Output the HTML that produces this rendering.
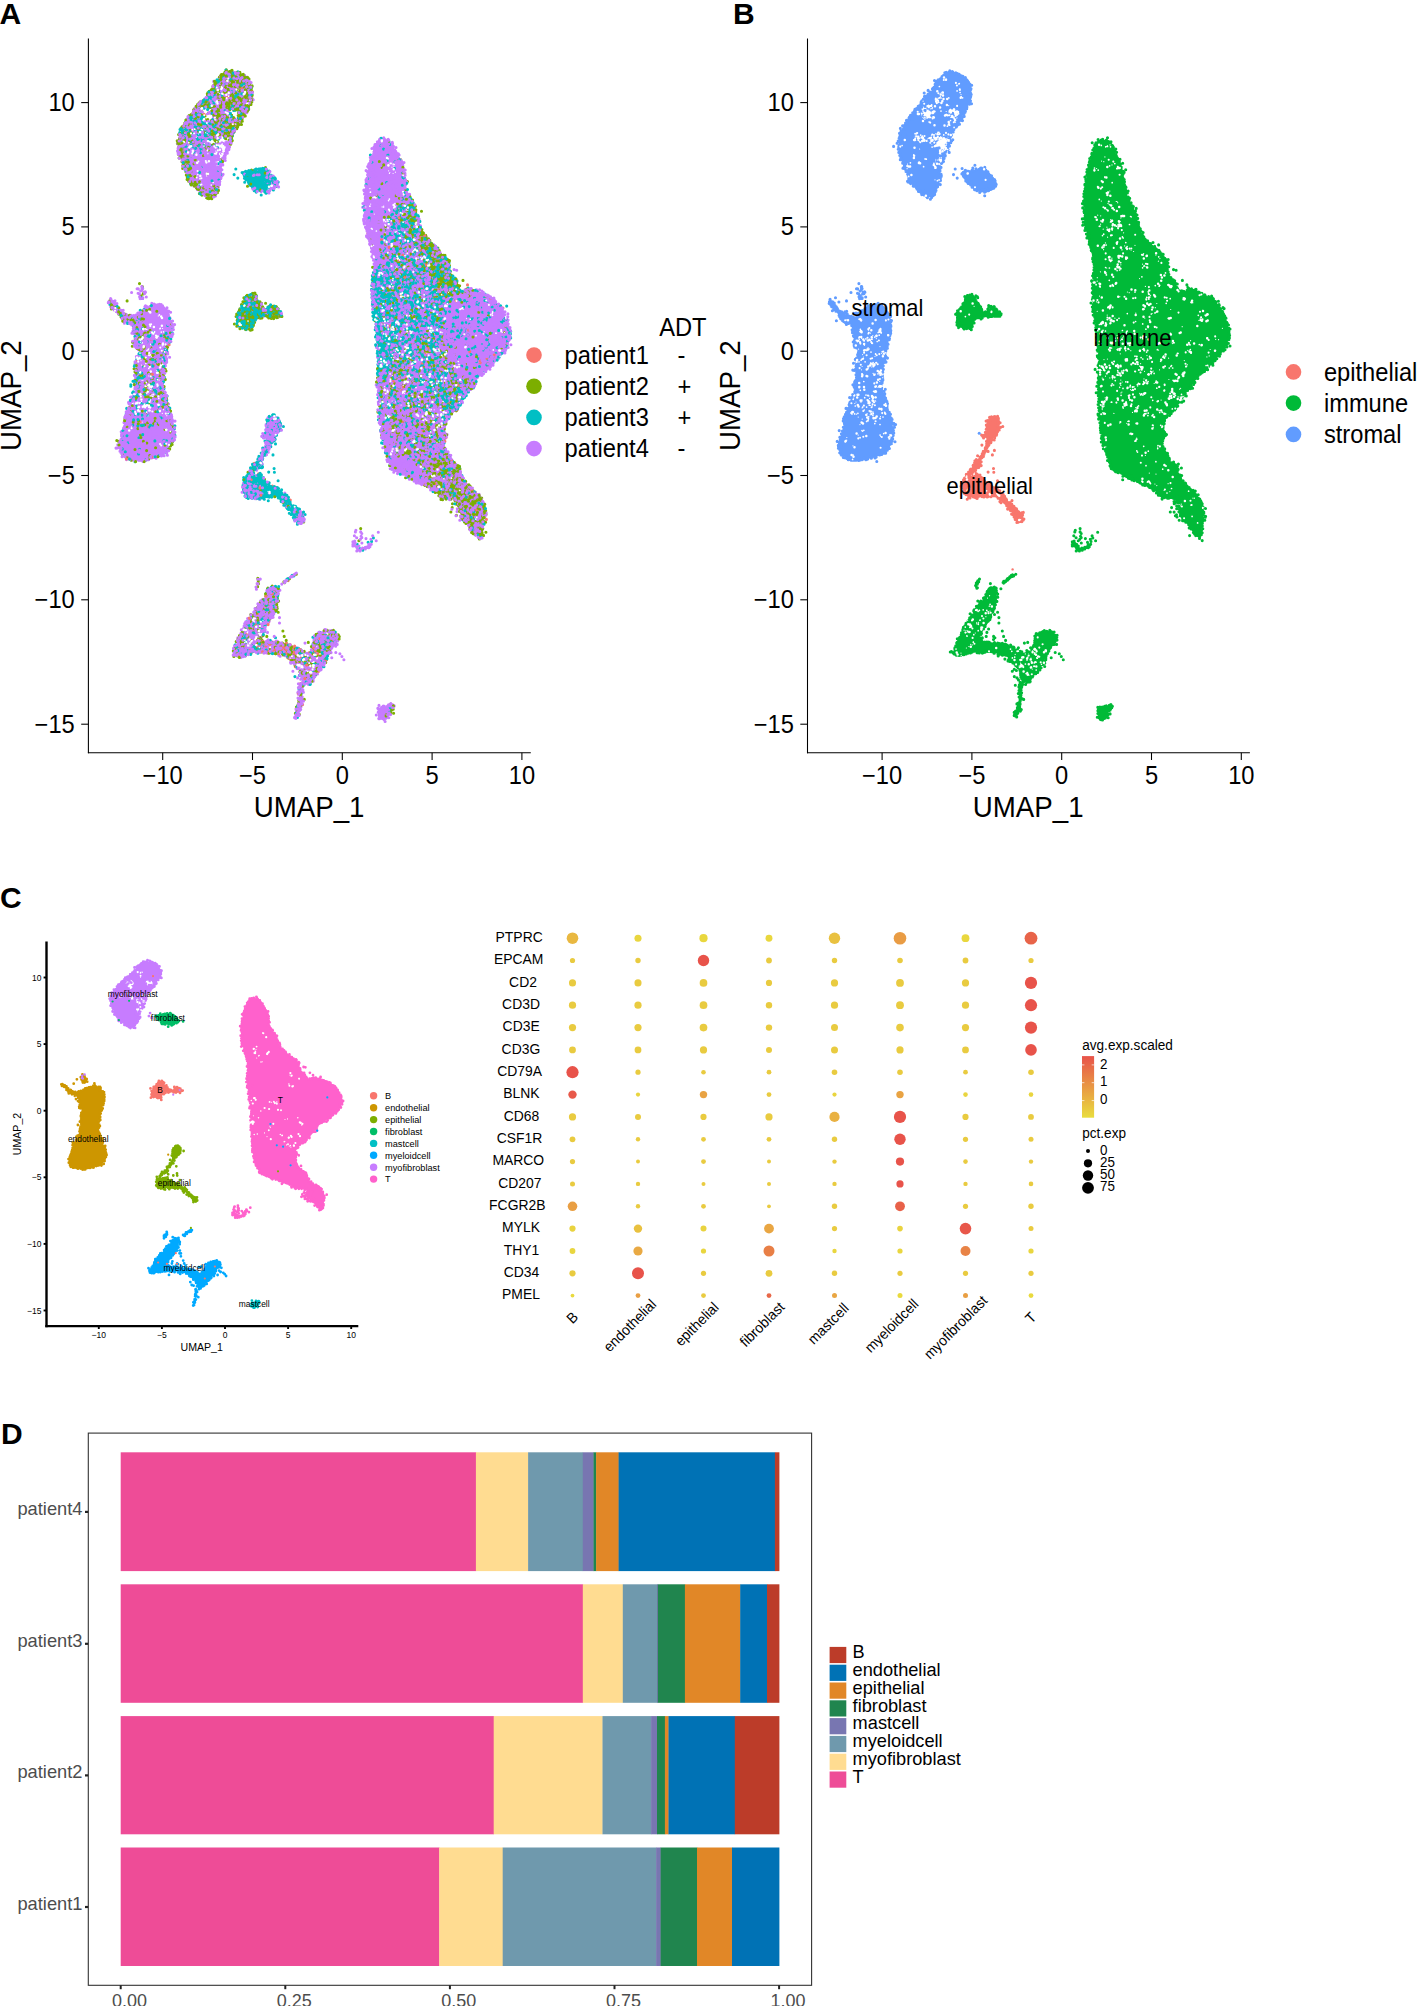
<!DOCTYPE html>
<html><head><meta charset="utf-8"><title>Figure</title>
<style>html,body{margin:0;padding:0;background:#fff}svg{display:block}text{font-family:"Liberation Sans",sans-serif}</style>
</head><body>
<svg width="1418" height="2006" viewBox="0 0 1418 2006">
<rect width="1418" height="2006" fill="#fff"/>
<g id="panelA">
<path d="M228.8 71.6L227.1 72L225.4 73.2L223.5 75.3L223.5 75.4L220.6 78L220.6 78L217 80.9L215 83.8L214.3 87L214.3 87.1L214.2 87.2L214.2 87.3L212.1 90.8L212 90.9L211.9 91L208.5 94.4L205.3 97.9L202.3 101.3L199.4 105L196.4 108.9L196.4 108.9L193.7 112.4L193.7 112.4L191.2 115.3L188.8 118.5L186.4 121.9L184 125.8L181.9 130.1L180.3 135.6L179.4 142.4L179.1 148.2L179.6 153L180.5 156.7L182 159.6L182 159.7L183.1 162.9L183.2 163.1L183.9 166.4L185.4 169.9L187.8 173.8L187.9 173.9L187.9 174L188 174.1L189.1 177.5L189.1 177.6L189.1 177.7L189.1 177.8L189.1 177.9L188.9 180.6L190.1 182.8L193.1 185.1L193.2 185.2L196.5 188.2L196.6 188.2L200 191.6L203.3 194.4L206.3 196.5L209.1 197.4L211.9 197.2L213.8 196.1L215.1 193.9L216.6 191L218 187.6L219.5 183.7L220.9 179.3L221.4 175.9L220.9 173.1L220.9 173L220.8 169.8L220.8 169.6L221 166.2L221 166.1L221.1 165.9L222.2 162.2L222.2 162.2L222.3 162.1L223.2 160.2L222.4 161.1L221.5 161.3L220.8 160.8L220.1 159.6L219.6 157.6L219.3 155.7L219.1 153.9L219.2 152.1L219.4 150.3L219.4 148.8L219.1 147.3L218.5 146.1L217.6 145L217 143.9L216.7 142.8L216.7 141.8L216.9 140.8L217.5 139.8L218.4 138.8L219.7 137.7L221.3 136.6L222.9 135.9L224.4 135.6L225.9 135.6L227.4 136.1L228.6 137L229.4 138.2L229.8 139.8L230 141.8L229.9 143.5L230.2 142.8L231.3 138.8L231.8 134.2L231.8 134.1L231.8 133.9L231.9 133.8L233.5 130.4L233.5 130.3L233.6 130.2L233.6 130.1L233.7 130.1L233.8 130L236.4 127.9L238.3 125.3L239.8 122.2L239.8 122.2L241.5 118.9L241.5 118.8L243.5 115.4L245.2 112.2L248.2 106.3L249.6 103.4L250.7 100.1L251.4 96.3L251.7 92.7L251.4 89.4L250.6 86.1L249.2 82.8L247.3 79.9L245 77.3L242.2 75.2L238.9 73.6L235.3 72.4L231.5 71.7ZM221.2 92.8L221.6 92.1L222.2 91.8L223 91.7L223.6 91.9L224 92.5L224.2 93.5L224.2 94.9L224 95.8L223.7 96.5L223.1 96.7L222.4 96.6L221.8 96.2L221.4 95.6L221.1 94.7L221.1 93.6ZM229 111.5L229.3 110.2L230 109.2L231.3 108.5L233 108L234.5 107.9L235.9 108.1L237.1 108.7L238 109.7L238.7 110.9L239.1 112.3L239.2 113.8L238.9 115.5L238.4 116.9L237.7 117.9L236.7 118.5L235.5 118.7L234.3 118.7L233.2 118.3L232.1 117.6L231.1 116.6L230.3 115.5L229.7 114.3L229.3 112.9ZM200.4 111.1L200.5 109.9L201 108.8L201.9 107.8L203.1 106.8L204.5 106.3L205.9 106.3L207.5 106.8L209.3 107.8L210.6 109L211.6 110.5L212.2 112.2L212.5 114.2L212.5 116L212.2 117.6L211.7 119L211 120.2L210.1 121L209 121.2L207.7 121L206.2 120.2L204.9 119.4L203.8 118.4L202.9 117.3L202.1 116L201.5 114.8L201 113.6L200.6 112.3ZM194.1 137.4L194.4 136.6L195 136L195.9 135.5L197.2 135.3L198 135.5L198.5 136.1L198.7 137.1L198.4 138.6L198 139.7L197.4 140.3L196.6 140.5L195.6 140.2L194.8 139.8L194.3 139.2L194.1 138.4ZM208 141.1L207.8 139.8L208 138.7L208.8 137.7L210 137L211.2 136.6L212.3 136.6L213.3 137L214.3 137.7L215 138.6L215.4 139.6L215.4 140.7L215.2 141.9L214.7 142.9L214 143.7L213 144.2L211.7 144.4L210.6 144.2L209.6 143.6L208.8 142.6ZM215.8 160.6L216.1 159.2L216.6 158.5L217.3 158.4L218.3 158.9L219 159.8L219.3 161.1L219.4 162.9L219.2 165.1L218.8 166.6L218.3 167.4L217.7 167.4L216.9 166.6L216.4 165.6L216 164.2L215.8 162.6Z" fill="#C77CFF"/>
<path d="M242.8 172.8L242.5 173.6L243.7 175.6L245.1 178L246.6 180.5L248.1 182.7L249.5 184.5L251 185.8L252.9 186.8L252.9 186.8L253 186.9L253.1 186.9L253.2 187L254.5 188.5L254.6 188.6L254.7 188.6L254.7 188.7L254.7 188.8L255.4 190.5L256.1 191.1L257.4 191.1L259.4 190.9L261.8 190.4L261.9 190.4L262 190.3L262.1 190.4L262.2 190.4L262.3 190.4L264.4 191L264.5 191L264.6 191.1L264.7 191.1L264.8 191.2L264.9 191.3L266.4 192.8L266.9 192.9L267.8 192L267.8 192L269.5 190.6L269.5 190.6L271.5 189.1L271.6 189L273.8 187.8L273.9 187.7L276.2 186.8L277.1 185.8L277.3 184.3L276.9 182.7L275.8 181L274.3 179.1L272.3 177.1L272.3 177.1L270.3 174.7L270.3 174.7L268.4 172L266.2 170.1L263.7 168.8L261.5 168.3L259.3 168.8L256.8 169.5L254.1 170.5L254 170.5L251.1 171.1L251 171.2L248.1 171.4L245.2 172Z" fill="#00BFC4"/>
<path d="M109.2 300.8L108.6 301.6L108.6 301.7L109.3 302.8L111.1 304.9L111.1 304.9L112.8 307L112.8 307L114.4 309.1L116.1 311.2L117.9 313.3L117.9 313.3L119.6 315.7L119.7 315.8L121.2 318.3L123 320.4L124.9 322.1L126.8 323L129 323.2L129.1 323.2L129.2 323.3L131.2 323.9L131.2 324L131.3 324L131.4 324.1L133 325.1L133.1 325.2L133.2 325.2L133.2 325.3L133.3 325.4L133.3 325.5L133.4 325.6L133.4 325.7L133.5 325.8L133.8 327.9L133.9 328L133.9 328.1L133.9 328.2L133.8 328.4L133.1 331.3L133.4 333.8L134.9 336.2L134.9 336.3L135 336.4L135 336.5L135 336.6L135.3 339L135.3 339.1L135.3 339.2L135.3 339.3L135.3 339.4L135.2 339.5L135.2 339.6L134.2 341.5L133.9 343.6L134.1 345.7L135.4 347.4L138.4 348.9L138.5 348.9L138.6 349L138.6 349L138.7 349.1L138.8 349.2L139.8 350.8L139.9 350.9L139.9 351L140 351.1L140 351.2L140 351.3L140 351.4L140 351.5L140 351.6L140 351.7L139.9 351.8L139.9 351.9L139.8 352L138.8 353.5L137.8 355.5L136.8 358L136.4 360.4L136.4 362.9L136.3 363L136.1 366.4L136.1 366.4L135.6 370.5L136 373.2L137.4 375.1L137.5 375.2L137.5 375.3L137.6 375.3L137.6 375.4L137.6 375.5L137.7 375.6L137.7 375.7L137.7 377.6L137.7 377.7L137.6 377.8L137.6 377.9L137.6 378L137.5 378.1L137.5 378.2L137.4 378.3L137.3 378.3L135.9 379.8L134.8 381.7L134.1 383.9L134.4 385.8L135.5 387.7L135.6 387.8L135.6 387.9L135.7 388L135.7 388.1L135.7 388.2L135.7 388.3L135.7 390.7L135.7 390.8L135.7 390.9L135.7 390.9L135.6 391L135.6 391.1L134.3 393.8L132.8 396.6L131.3 399.7L129.9 403.3L128.6 407.5L128.6 407.5L127.1 411.7L127.1 411.7L125.6 415.8L124.8 419.3L124.8 422.3L124.8 422.4L124.8 422.5L124.2 426.4L124.1 426.5L122.8 431.2L122.8 431.3L121.2 436.5L121.2 436.5L119.5 442.1L119.2 447.3L120.4 452.3L122.3 455.3L124.9 456.7L124.9 456.7L128.2 458.5L128.2 458.5L131.7 460.5L136.3 461L142.4 460L147.6 459.1L151.8 458.3L155.3 457.2L158.3 455.6L158.5 455.6L161.6 454.4L161.7 454.4L164.7 453.6L166.8 452.2L168.5 449.7L170.3 446.7L172.1 443.1L173.5 439.4L174.5 435.7L174.5 431.7L173.5 427.4L173.5 427.3L172.8 423.3L172.8 423.2L172.6 419.7L171.6 416.8L169.9 414.3L169.8 414.2L169.8 414.1L169.7 414L168.5 410.6L168.5 410.5L168.5 410.4L168 406.3L167.2 401.9L166.2 397.2L164.7 393.2L162.6 389.6L162.6 389.5L162.5 389.4L162.5 389.3L162.5 389.2L162.1 385.8L162.1 385.7L162.1 385.6L162.1 385.5L162.1 385.4L162.2 385.3L163.4 382.3L163.8 379.4L163.3 376.4L163.2 376.3L163.1 372.6L163.1 372.5L163.4 368.3L163.4 368.2L163.4 368.2L164.3 364.2L164.3 364.1L164.4 364.1L165.9 360.5L166.4 357.4L165.9 354.5L165.9 354.4L165.9 354.3L165.9 354.2L166.1 351.3L166.1 351.2L166.2 351.1L166.2 351L167.2 348.4L168.1 345.6L168.9 342.5L169.8 338.8L170.9 334.7L171.5 330.6L171.8 326.5L171.8 323.7L171.6 322.2L170.5 318.7L168.4 313.2L165.9 309L163 306L159.3 304.6L154.7 304.6L150.7 305.4L147.4 307.1L144.7 308.9L142.6 311L142.6 311.1L142.5 311.1L139.2 313.1L139.1 313.2L134.7 315.1L134.6 315.1L134.5 315.1L131.3 315.8L131.2 315.8L131.1 315.8L131 315.8L130.9 315.8L130.8 315.8L128.7 315.3L128.6 315.2L126.2 314.3L126.1 314.3L123.5 313L123.4 312.9L123.4 312.9L120.9 311L120.8 311L120.8 310.9L118.4 308.6L118.3 308.5L116.3 306L116.3 305.9L114.7 303.3L113.1 301.2L111.6 299.7L110.6 299.6Z" fill="#C77CFF"/>
<path d="M376.8 329.2L377.6 338.5L378.5 349.6L378.5 349.6L379.2 359.3L379.2 359.3L379.5 367.6L379.5 367.7L379.2 375L379.1 375.1L378.2 381.4L378 385.9L378.7 389L378.7 389L379.3 393.8L379.3 393.8L379.9 400.2L379.9 400.3L380.1 406.6L380.1 406.7L379.8 413L380.1 419.2L381 425.5L381.1 425.5L381.8 431.9L381.8 431.9L382.5 438.2L383.6 443.8L385.1 448.8L386.7 453.6L388.3 458L388.3 458.1L389.6 462.2L389.6 462.2L390.5 465.9L392.4 468.7L395.3 471.1L398.3 472.8L401.4 473.7L401.5 473.7L404.7 475.2L404.8 475.2L408 477.1L411.4 478.8L415.2 480.4L415.2 480.4L419 482.1L419 482.2L422.9 484.1L426.7 486L430.5 487.9L430.5 487.9L434.3 490.1L434.4 490.2L438.2 492.7L438.3 492.8L438.4 492.9L440.8 495.4L440.8 495.5L440.9 495.6L441 495.7L441 495.8L441.8 497.9L442.7 498.5L444.5 497.9L444.5 497.9L444.6 497.9L448 497.6L448.1 497.6L452.5 497.6L452.6 497.6L452.7 497.6L452.8 497.6L452.9 497.7L456.1 498.9L456.2 499L456.3 499L456.4 499.1L456.4 499.1L456.5 499.2L456.6 499.3L458.5 501.8L458.5 501.9L458.6 502L459.9 504.9L459.9 505L459.9 505.1L460.6 508.3L460.6 508.3L461.2 511.8L461.2 511.8L461.8 515.5L463.1 518.4L465.3 520.8L465.3 520.8L467.2 523L467.2 523L468.8 525L468.8 525L470.6 527.6L470.6 527.6L472.5 530.8L474.6 533.7L477 536.4L479.1 537.4L480.7 537.2L481.8 535.2L482.1 530.3L482.1 530.3L482.7 525.2L482.7 525.1L483.7 520.1L484.3 515.4L484.6 511.1L484 506.9L482.5 502.6L480.5 499L478.1 495.9L475.2 492.8L472.1 489.6L469 486.8L465.8 484.3L465.7 484.2L465.7 484.1L462.8 480.6L462.7 480.6L462.7 480.5L460.2 476L460.1 476L460.1 475.9L458.5 471.4L458.5 471.3L458.4 471.2L457.8 467L456.3 464.6L453.4 463.5L453.3 463.5L453.2 463.4L453.1 463.4L453.1 463.3L453 463.2L450.8 460.7L450.7 460.6L450.6 460.5L450.6 460.4L450.5 460.3L449.3 456.6L447.5 453.6L445.1 451.2L445 451.1L444.9 451L444.9 450.9L443.3 447.7L443.3 447.7L443.2 447.5L443.2 447.4L442.6 443.6L442.6 443.5L442.6 443.4L442.6 443.4L442.6 443.3L443.2 439.8L443.2 439.7L443.3 439.6L443.3 439.5L443.3 439.4L445.1 436.4L445.4 433.8L444.2 430.8L444.2 430.7L444.2 430.6L444.1 430.5L443.8 426.4L443.8 426.3L443.8 426.2L444.5 421.1L444.5 421L444.5 420.9L444.6 420.8L446.5 416.9L446.5 416.8L446.6 416.8L446.7 416.7L446.8 416.6L449.9 414.1L452.7 411.6L455.2 409.1L457.7 406.3L460.2 403.2L462 400.1L463.3 397L463.3 397L463.4 396.9L463.4 396.8L465.9 393.3L466 393.2L466.1 393.2L469.8 389.4L472.9 385.1L475.4 380.1L475.4 380L475.5 379.9L479.3 375.5L479.4 375.4L479.5 375.3L484.5 371.5L488.9 367.5L492.7 363.1L492.7 363.1L496.5 358.9L496.5 358.9L500.3 355.1L503.4 351.4L505.9 347.7L507.4 344.7L508 342.3L508 342.2L508.1 342.1L508.9 340.4L508.9 340.3L509 340.2L509 340.1L509.1 340L509.8 339.4L510 336.6L509.7 331L508.6 325.4L506.8 319.8L504.6 314.5L502.1 309.5L499.3 305.2L496.2 301.5L492.9 298.8L479.7 292.2L475.3 290.3L471.8 289.2L468.1 289.7L463.9 292.2L463.8 292.2L463.7 292.2L463.6 292.3L463.4 292.3L463.3 292.3L463.2 292.3L463.1 292.3L463 292.3L462.9 292.2L462.8 292.2L459.3 290.3L459.2 290.2L459.1 290.1L459.1 290.1L459 290L458.9 289.9L458.9 289.8L458.8 289.7L456.3 283.5L453.9 279.6L451.6 277.8L451.5 277.7L451.4 277.6L451.3 277.5L449.4 274.7L449.4 274.6L449.3 274.5L449.3 274.4L448 270.6L448 270.5L448 270.4L447.6 266.9L447.6 266.8L447.6 266.7L447.7 266.6L448.2 263.6L447.7 261.2L446 258.9L443.5 256.1L440.3 252.9L436.8 249.5L433 245.6L429.2 241.8L425.4 238L425.3 238L425.3 237.9L422.6 234.1L422.5 234L422.5 233.9L420.9 230.1L420.9 230L419.3 225.6L419.3 225.5L417.7 220.5L417.7 220.4L416.2 215.3L416.2 215.3L415 210.3L413.1 205.7L410.6 201.3L410.6 201.2L408.5 196.8L408.5 196.7L406.9 192.2L406.9 192.1L405.8 187.7L405.7 187.6L405.1 183.2L405.1 183.1L404.5 178.1L404.5 178L403.8 172.4L402.8 167.8L401.2 164.1L399.5 160.3L397.6 156.5L397.5 156.4L396 152.6L395.9 152.6L394.7 148.8L393.2 145.6L391.4 143L388.8 141.1L385.3 140L381.9 139.7L378.9 140.2L376.9 141.9L375.8 145.1L374 150L371.8 156.4L369.8 163.3L367.9 170.8L366.6 178.7L366 186.9L365.3 195.5L364.7 204.3L364.7 213.1L365.3 221.9L366.4 229.1L368 234.8L368 234.8L369.6 240.8L369.6 240.8L371.2 247.2L371.2 247.2L372.8 255.1L372.8 255.2L374.4 264.7L374.4 264.8L374.7 272.8L374.7 272.9L374.7 273L373.8 279.3L373.3 288.1L373.3 299.4L373.9 308.2L375.2 314.5L375.2 314.6L376.1 321.5L376.1 321.6Z" fill="#C77CFF"/>
<path d="M248.3 295L246.1 296L245.4 297.8L245.1 299.5L245.2 300.9L245.2 301L245.2 301.1L245.2 301.2L245.2 301.3L245.2 301.4L245.1 301.5L244.5 302.8L244.5 302.9L244.4 303L244.3 303.1L244.3 303.2L244.2 303.3L242.9 304.2L242.6 304.7L242.7 305.4L242.8 305.5L242.8 305.6L242.8 305.7L242.7 305.8L242.7 305.9L242.7 306L242.6 306.1L241.8 307.5L241.8 307.6L241.7 307.7L241.6 307.7L239.9 309.5L238.4 311.5L237.2 313.7L237 315.2L237.7 316.7L237.8 316.8L237.8 316.9L237.8 317L237.8 317.2L237.9 319.8L237.9 319.9L237.9 320.1L237.2 323.3L237.9 325.4L239.7 326.8L242.2 327.8L245.2 328.1L245.3 328.1L247.9 328.5L247.9 328.5L250 328.8L251.3 328.8L251.7 328.7L252.2 327.7L252.5 325L252.5 324.9L252.5 324.8L252.6 324.7L252.6 324.6L253.5 323L253.6 322.9L253.6 322.8L253.7 322.7L253.8 322.6L253.9 322.5L254 322.5L254.1 322.4L255 322.1L255.1 321.9L254.5 320.7L254.5 320.6L254.5 320.5L254.4 320.4L254.4 320.3L254.4 320.2L254.5 320.1L254.5 320L254.5 319.9L254.5 319.8L255.1 318.7L255.1 318.6L255.2 318.5L255.2 318.4L255.3 318.4L255.4 318.3L255.5 318.2L255.6 318.2L255.6 318.1L257.4 317.4L257.5 317.4L257.6 317.4L257.7 317.4L257.8 317.3L259.3 317.3L259.4 317.4L259.5 317.4L259.6 317.4L259.8 317.4L259.9 317.5L260.7 318L261.7 317.8L263.4 316.5L263.5 316.4L263.6 316.4L263.7 316.3L263.8 316.3L263.9 316.3L266 316L266.1 316L266.2 316L266.3 316L266.4 316.1L266.5 316.1L268.5 316.9L271 317.1L274.4 316.6L274.4 316.6L277.7 316.1L277.7 316.1L280.5 315.8L281.6 315.2L281.7 314.6L281.3 313.5L279.9 311.9L279.8 311.9L278.2 310L278.2 310L276.5 308L274.4 306.5L271.9 305.6L270.1 305.6L269 306.3L268.9 306.6L269.6 307.6L269.7 307.6L269.7 307.7L269.8 307.8L269.8 307.9L269.8 308L269.8 308.2L269.8 308.3L269.8 308.4L269.8 308.5L269.5 309.9L269.4 310L269.4 310.1L269.3 310.2L269.3 310.2L269.2 310.3L269.2 310.4L269.1 310.5L267.3 311.9L267.2 311.9L267.1 312L267 312L266.9 312.1L266.8 312.1L266.7 312.1L266.6 312.1L266.5 312.1L266.4 312.1L265 311.8L264.9 311.8L264.8 311.8L264.7 311.7L264.6 311.7L264.5 311.6L264.5 311.5L264.4 311.5L264.3 311.4L264.3 311.3L263.3 309.5L262.1 308.2L260.4 307.2L260.3 307.1L260.3 307.1L260.2 307L260.1 306.9L260.1 306.8L260 306.7L259.4 305.4L259.4 305.3L259.3 305.2L259.3 305.1L259.3 305L259.3 304.9L259.3 304.8L259.3 304.7L259.3 304.6L259.7 303.5L259.5 303.1L257.9 302.5L257.8 302.5L257.7 302.4L257.6 302.4L257.5 302.3L257.5 302.2L256.3 301L256.3 300.9L256.2 300.9L256.1 300.8L256.1 300.7L256.1 300.6L256 300.5L255.7 298.8L255.2 296.9L254.7 295.3L252.7 294.7Z" fill="#7CAE00"/>
<path d="M275.7 416.3L274.1 416L272.7 416.6L271 417.5L269.3 418.5L268.2 420.7L267.5 424.4L267.3 427.9L267.5 431.4L267.5 431.5L267.4 431.6L267.4 431.7L267.4 431.8L266.8 433.7L266.7 433.8L266.7 433.9L266.6 434L266.6 434.1L266.5 434.2L266.4 434.2L266.3 434.3L266.2 434.4L266.1 434.4L266 434.4L264.6 434.8L263.1 435.3L261.9 435.8L261.8 436.1L262.4 437L262.8 437L264.2 435.9L264.3 435.8L264.4 435.8L264.5 435.7L264.6 435.7L264.7 435.7L264.8 435.7L266.3 435.5L266.4 435.5L266.5 435.5L266.6 435.5L266.7 435.5L266.8 435.5L266.9 435.6L267 435.6L267.1 435.7L268.5 436.7L268.6 436.8L268.7 436.9L268.7 437L268.8 437.1L268.8 437.1L268.9 437.2L268.9 437.3L268.9 437.4L269 437.5L269 437.6L268.9 437.8L268.8 439.2L268.8 439.3L268.7 439.4L268.7 439.5L268.6 439.5L268.6 439.6L268.5 439.7L268.5 439.8L266.9 441.4L266.6 442.3L267.1 443.3L267.1 443.4L267.2 443.5L267.2 443.6L267.2 443.7L267.2 443.8L267.2 443.9L267.2 444L266.8 445.9L266.8 446L266.8 446.2L266.7 446.3L265.3 448.7L263.9 451.3L262.5 454.1L262.4 454.3L260.7 456.9L260.6 457L258.5 459.5L256.7 461.6L255.3 463.3L253.6 465.7L251.5 468.9L251.5 468.9L249.5 471.7L249.5 471.7L247.8 474.2L246.1 477L244.4 480L243.7 483L244.1 486.3L244.4 489.7L244.8 492.7L245.5 494.7L246.6 495.8L248.4 496.5L251.1 496.8L251.2 496.9L253.9 497.6L254 497.6L256.2 498.5L257.4 498.3L258.6 496.9L258.6 496.8L258.7 496.7L258.8 496.7L258.9 496.6L259 496.6L259.1 496.5L259.2 496.5L260.8 496.1L260.9 496.1L261 496.1L261.1 496.1L261.2 496.1L261.3 496.2L261.4 496.2L261.5 496.2L261.5 496.3L263.1 497.2L265 497.3L267.6 496.7L267.7 496.7L270.5 496.1L270.6 496.1L273.4 495.8L273.5 495.8L273.6 495.8L273.7 495.8L276.4 496.3L276.5 496.3L276.6 496.4L276.7 496.4L279.2 497.9L279.3 497.9L279.3 498L279.4 498L281 499.6L281.1 499.7L281.1 499.8L281.2 499.9L281.2 500L281.9 501.5L283 502.7L284.9 503.6L285 503.7L285.1 503.8L287.1 505.4L287.2 505.4L287.2 505.5L289 507.6L289 507.7L290.8 510.2L290.8 510.2L292.6 513L294.2 515.5L295.6 517.6L295.6 517.7L295.7 517.8L296.6 519.9L296.6 520L296.6 520.1L296.9 521.7L298.1 522.4L301 522.4L302.3 521.5L302.6 519.1L302.6 519.1L303 516.5L303 516.4L303.3 514.3L302.9 513.4L301.5 512.8L301.4 512.8L301.4 512.8L299.6 511.7L299.5 511.6L297.7 510.2L297.6 510.1L295.7 508.2L295.6 508.1L293.5 505.7L291.3 503.5L288.9 501.4L288.8 501.3L288.7 501.2L286.9 498.9L286.9 498.9L286.8 498.8L286.8 498.7L285.8 496.4L284.5 494.9L282.6 493.9L282.5 493.9L282.4 493.8L282.3 493.8L280.6 492.2L280.5 492.1L280.4 492.1L280.4 492L279.1 490L277.2 488.6L274.5 487.6L274.4 487.6L271.6 486.2L271.5 486.1L268.7 484.4L268.6 484.3L268.5 484.3L266.1 482L266 481.9L265.9 481.8L263.8 479L262.1 476.7L260.9 475.2L259.8 474.9L258 475.5L257.9 475.5L255.8 476L255.7 476.1L253.6 476.4L253.5 476.4L253.4 476.4L253.3 476.4L253.2 476.4L253 476.4L252.9 476.3L252.8 476.3L252 475.7L251.9 475.7L251.8 475.6L251.7 475.5L251.7 475.5L251.6 475.4L251.5 475.3L251.5 475.2L251.5 475.1L251.5 475L251.4 474.9L251.4 474.8L251.5 474.7L251.5 474.6L251.8 473.1L251.9 473L251.9 472.9L251.9 472.8L252 472.8L253.1 471.3L253.1 471.3L253.2 471.2L253.3 471.1L255 469.7L255.1 469.7L255.2 469.6L257.1 468.6L257.2 468.5L257.3 468.5L259.2 467.9L260.5 466.7L261.3 465L261.5 463.7L260.9 462.6L260.9 462.5L260.8 462.4L260.8 462.3L260.8 462.2L260.8 462.1L260.8 462L261 460.3L261 460.2L261 460.1L261 460L261.1 459.9L262.1 457.8L262.2 457.6L263.6 455.5L263.7 455.4L265.4 453.4L266.7 451.2L267.8 448.8L267.8 448.8L269 446.3L269 446.2L270.5 443.8L273.3 438.8L273.3 438.8L274.9 436.5L275 436.4L276.7 434.3L278.2 432.1L279.5 429.8L279.9 427.6L279.4 424.9L279.4 424.9L279.1 422.1L279 422L278.9 419.4L277.8 417.7Z" fill="#00BFC4"/>
<path d="M275.6 586.6L273.2 587L269.5 589.2L267.3 591.7L266.3 594.8L266.3 594.9L266.2 595L264.4 598.4L264.3 598.5L264.3 598.5L261.6 601.9L259.3 604.9L257.3 607.5L255.7 610.1L254.3 612.7L254.3 612.9L252.3 615.9L252.2 615.9L249.6 619.3L246.9 623.2L244.3 627.8L242 632.8L240 638.1L240 638.2L237.9 642.5L237.9 642.6L235.9 645.9L234.8 649L234.5 652.1L234.8 654.3L235.5 655.3L237.6 655.7L242.1 655.1L246.7 653.9L251.1 652.3L254.5 649.4L257.1 644.9L259.1 640.7L260.4 636.7L260.4 636.6L262.4 632.2L262.5 632.2L265.2 627.5L267.9 622.8L270.5 618.1L272.9 613.8L274.8 609.8L276.1 605.7L276.8 601.1L277.3 595.9L277.6 590.4L276.9 587.5Z" fill="#C77CFF"/>
<path d="M257.3 643.4L255.1 645.8L255.1 649.8L256.3 651.6L259.1 651.9L263.4 651.9L268.7 651.5L268.8 651.5L268.9 651.5L273.6 652L273.7 652.1L273.8 652.1L277.8 653.4L281.4 654.4L284.8 655.1L284.9 655.1L288.2 656.1L288.3 656.1L291.6 657.5L295.3 658.8L299.1 660.1L302.1 660.1L304.1 659.1L304.5 657.5L303.4 654.7L300.9 651.9L297 649.4L293.1 647L289.2 645.1L284.7 643.8L279.4 643.1L273.7 642.5L267.8 641.8L262.3 642.1Z" fill="#C77CFF"/>
<path d="M322.1 632.2L318.7 634.1L315.5 636.9L314.8 637.9L314.8 638L314.9 638L314.9 638.1L315 638.2L315 638.3L315.1 638.4L315.1 638.5L315.1 638.6L315.1 638.7L315.1 640.7L315.1 640.8L315.1 640.9L314.4 644.3L314.4 644.4L314.4 644.5L313.1 648.1L313 648.2L311 652.3L310.9 652.4L310.9 652.4L310.8 652.5L310.7 652.6L310.7 652.7L308.3 654.3L308.2 654.4L308.1 654.4L308 654.5L307.9 654.5L307.8 654.5L307.7 654.5L307.6 654.5L307.5 654.5L307.4 654.5L304.7 653.8L304.6 653.8L304.5 653.8L304.4 653.7L301.7 652L301.6 652L301.5 651.9L299.2 649.6L297.5 649.8L295.1 652.8L295.1 652.9L295 652.9L292.3 655.3L292.2 655.3L292.2 655.4L292.1 655.4L289.8 656.6L289.4 657.7L290.5 659.9L292.3 662L294.9 664L295 664.1L297.4 666.4L297.5 666.5L299.5 669.2L299.5 669.3L299.6 669.4L299.6 669.5L301 672.8L301 672.9L301 673L301.7 676.9L303.2 679.9L305.6 682.3L307.7 683.1L309.8 682.6L311.4 681L312.7 677.8L312.7 677.7L312.8 677.6L314.8 674.6L314.9 674.5L315 674.5L317.6 671.8L319.9 669.2L321.8 666.6L323.8 663L325.8 658.4L325.8 658.3L327.8 654.3L327.9 654.2L329.9 650.9L331.9 647.5L333.9 644.2L333.9 644.2L335.9 641L335.9 641L337.7 638.3L337.2 635.9L334.1 632.9L331.4 631.2L329.1 630.9L326 631.2Z" fill="#C77CFF"/>
<path d="M296.5 717.5L297.9 715.9L299.1 713.1L300.1 709.2L300.9 705.2L301.6 701.2L301.7 698.1L301.4 695.5L301.4 695.3L301.4 695.2L301.7 691.5L301.8 691.4L302.7 687L301.9 684.3L299.8 682.9L299.6 683.1L299.9 686.5L299.9 686.6L300 690.9L300 691L300 695.7L300 695.8L299.5 700.5L299.5 700.6L298.5 705.3L297.5 710L296.5 714.6L296.4 717.2Z" fill="#C77CFF"/>
<path d="M379.4 707.4L378.5 708.5L379.3 710.9L379.3 711L379.3 711.1L379.6 714.3L379.6 714.4L379.6 714.5L379.3 717.6L380 719.1L381.8 719.9L383.4 720L384.6 719.5L386.1 718L387.7 715.1L387.7 715L389.7 711.8L389.7 711.8L392 708.5L392.9 706.4L392.7 705.8L391.4 705.5L387.6 706.1L387.6 706.1L383.4 706.8L383.4 706.8Z" fill="#C77CFF"/>
<path d="M220.9 76.8h0m2 19.8h0m-2.1 16.8h0m-2.5 15.8h0m-35.8-2.4h0m85.1 47.1h0m147.6 40.6h0m-47.3 18.9h0m53-1.2h0m5.4 4.5h0m-10.8-.6h0m-26.5 11.3h0m23.5 20.6h0m-21.5 8.7h0m1.8 .1h0m74.7 8.1h0m-13.4 2.1h0m-15.3-4.6h0m-16.1 6.3h0m22.5 2.1h0m-49.1 26.8h0m72.6 12.4h0m-3 13.9h0m-20.5-.4h0m-33.9 10.2h0m15-.5h0m68 1.8h0m-340.8 10.6h0m237.9-5h0m88.7 2.2h0m-37.6 4.3h0m-12.3-.2h0m-20.7 .1h0m-3.3 10.9h0m18.1 18h0m31.9 14.9h0m1.2-1.2h0m-316.3 12.1h0m266.5 2.9h0m12.9-2.5h0m9.4 .6h0m7.8 2.3h0m2 5.5h0m3.9 10.1h0m-39.5-2h0m11 6.4h0m20.5 1.8h0m-31.7 7.4h0m-139.6-2.8h0m189.9 11.3h0m-199.9 .6h0m169.8 21.2h0m34.1-3.5h0m-167.9 19.1h0m184.5 32.8h0m-179.8 41.4h0m-6.9 6.3h0m-29.9 2.9h0m-.2 .5h0m8.3 9.9h0m12.1-3h0m-1.7 3.8h0m-11.3 5.7h0m5.9 7.6h0m-.4 2.8h0m-11.1-2.2h0m-2.3 5h0m9.7-1.2h0m5.1 4.5h0m-27 7.6h0m88.3 7.4h0m-14.2 1.1h0m-82.1 8h0m21.6-.7h0m1 .4h0m.9-2h0m15.1 2.8h0m42.7 5.4h0m-36.7-2.2h0m-13.7-1.1h0m-3.8-1.3h0m-5.5 1.8h0m-1.5-1.5h0m-1.8 5h0m-.1-3.3h0m-.7 2h0m-1.1-3.6h0m-.5 6.1h0m9.4 1.1h0m4.9 1.3h0m5.4 .1h0m.4-2.4h0m1.2 2.6h0m8.2 1.5h0m.4-3.2h0m3.2 4h0m7.4-4.8h0m1.4-.8h0m1.1 5.1h0m29.6-2.9h0m-18.4 7h0m-1.4 2.2h0m-7.9-.7h0m-4.7-.8h0m-.1-1.8h0m-2.9 1.5h0m-2.4-2.6h0m-.3 2.6h0m5.7 3.5h0m27.1 7.9h0m-2.1 2.2h0m-18.3-2h0" stroke="#F8766D" stroke-width="3.1" stroke-linecap="round" fill="none"/>
<path d="M230.4 71.4h0m-4.1-1.7h0m-7 7.7h0m1.1-1.7h0m1.1-1h0m.3 2.9h0m3.1-5.3h0m0 2.7h0m.1-.5h0m1.4 3h0m1-4.5h0m.5 4.6h0m4.8-2.5h0m4.3-2.3h0m4.8 2.6h0m2.3-.1h0m1.7 2.1h0m2.3 1h0m-.2 3.5h0m-.7-2.1h0m-2.2 .1h0m-1.3-.8h0m-.6 1.4h0m-2.3-1.4h0m-1.9 2h0m-3.3-1.8h0m-3.6 1.8h0m-2-.5h0m-1.1 .2h0m-.8 1.6h0m-1.7-2.2h0m-.5-1.8h0m-1.5 1.6h0m-4.4-1.1h0m-3.4 3.7h0m-.5-.5h0m-.4-.5h0m-.2 .6h0m-.4 1.4h0m-3.3 6h0m1.8-3.4h0m0-.7h0m3.4 .7h0m2.5 .3h0m.7 .1h0m1.4 .6h0m13.5-.1h0m.9-1.1h0m3.8 .5h0m.9 1.1h0m.6-3.4h0m.1 4.4h0m2.7-1.6h0m1.3-.4h0m.6-.6h0m1 1.6h0m2-1.7h0m3.2 9.1h0m-.1 .5h0m0 0h0m-.5-2.7h0m0 3.1h0m-.4-5.8h0m-2.4 5.1h0m-1.3-.3h0m-4-1.7h0m-6.6 .4h0m-3.9 1.9h0m-6.9-3.6h0m-2.9 .6h0m-9.6-2h0m-1 .5h0m-.4 2.7h0m-3-2.5h0m-1.4 1.7h0m-.5 .8h0m-4.9 7.5h0m.7-.6h0m1.1-.1h0m.7 .8h0m10.5 .2h0m18.1-.8h0m1.3-1.1h0m0-1.8h0m2.4 4h0m7.6-1.7h0m3.6 1.8h0m.2-3.7h0m3.2 3.8h0m-.8 2.5h0m-2.4 2h0m-4.8 .4h0m-1.5-2.1h0m-.1 1.4h0m-1.1-1.2h0m-4.1-1.4h0m-4.5 1.3h0m-.8 1.2h0m-3.6-3.4h0m-1.4 1h0m-6.1-1.3h0m-6 5.1h0m-3-3.3h0m-.3-1.5h0m-4.4-.2h0m-.8 2.1h0m-2.6 1.7h0m-.9-1.5h0m-1.1-.5h0m-.2-1.6h0m-.4 4.9h0m-.9-2.2h0m0-.3h0m-.3-1.4h0m-.5-1h0m-1.1 5h0m-5 5.1h0m1.3-1.5h0m2.3-1.6h0m2.7 1h0m.4 0h0m1.9 1.4h0m5.8 1.1h0m4.2-2h0m.7 .1h0m1-.1h0m.1 2.1h0m1-4.6h0m1.2 2.3h0m.7-2.6h0m.3 4.7h0m.5 .6h0m22.8-.1h0m.8-3.1h0m4.5-2h0m-4 10.8h0m-.4-3h0m-1.4-1.8h0m-5 4.3h0m-2.1 .4h0m-.2-1.2h0m-.4-2.7h0m-7.2 1.7h0m-1.9-1.8h0m-14.9 4.3h0m-2.1 .3h0m-.7-3.8h0m-.1-.2h0m-12.6 1.5h0m-3 2.5h0m-.2-4.3h0m-.1 2h0m-3.5 5.6h0m.8-2.9h0m.3 1.1h0m25.3-.5h0m3.9 2h0m3.8 1h0m10.6 1h0m.1-1.9h0m3.4 2.4h0m0-.2h0m5.3-4.9h0m1.5 2.4h0m-5 5.9h0m-1.6 2h0m-8.3-.3h0m-3.4-3.7h0m-.9 1.5h0m-4.1 1.4h0m-.4 .2h0m-.6-.7h0m-3 2.7h0m-2.4-.5h0m-3.7-4.3h0m-.2 1.9h0m-2.1-.4h0m-3 3.2h0m-2.6-1.9h0m-.6-2.3h0m-.6 3.8h0m-14.8-2.9h0m-2.2 .2h0m-2.4 6.1h0m12.8-1.2h0m13.7-.7h0m2.9 1.8h0m2-.3h0m5.2-1.5h0m2.4 2.6h0m2-.6h0m5.4-1.6h0m1.9 2.9h0m1-3.9h0m5.1 1.1h0m-.7 7.5h0m-1 1.2h0m-21.4-2.9h0m-17.5 1.8h0m-.2 1.1h0m-7.4-2.2h0m-1.7 2.8h0m-3.6-3.3h0m-.3 3.3h0m-1.2-.5h0m-.4 1.3h0m-.2 .4h0m-.2-2.9h0m2.1 7h0m0-3.1h0m.2 1.6h0m4.8 1.8h0m12.8-1.6h0m13.5-1.4h0m-18.7 9.9h0m-9.1-2.2h0m-3.5-1.5h0m-.5 3.5h0m-.5-1.9h0m3 4.8h0m.7 4.2h0m.8-.7h0m.4-3.2h0m3 3.1h0m212.6-2.1h0m-133.3 8.7h0m-71.5-3.9h0m-6.4 1h0m-2.2 1.9h0m-.9 .7h0m-.6-.5h0m-.3-2.2h0m-.9 3.8h0m5.3 .7h0m80.2 5.8h0m-4.2-.3h0m-74.2 4.5h0m-2.5-1.8h0m-1-2.2h0m4.2 7.7h0m0-2.6h0m.2 2.3h0m0 .9h0m21.7-.9h0m64.3 0h0m-.4 3.5h0m-3.4 1.7h0m-63.3 .2h0m-3.1 3h0m-6-2.9h0m-1.9 .7h0m3.3 6.4h0m.1-2h0m1.4-.3h0m3.2 5h0m1.5 0h0m.9-2.7h0m1.6 1.3h0m.5-.6h0m.7 .6h0m2.5-.3h0m1.2-1.9h0m180.4 1.5h0m13.6 0h0m2.4 8.1h0m-2.9-4.7h0m-10-.5h0m-188.5-.3h0m-1.8 .4h0m189.4 7.3h0m14.8 1.3h0m1.1 .1h0m.2-1.2h0m1.2 0h0m.5 3.6h0m5.6 1.5h0m-5.8 .5h0m-18.8 1.5h0m-6.6 5.4h0m1.6-.8h0m.2 3.1h0m7.2-1.1h0m11.8-.4h0m1.8-3.1h0m2 5.4h0m1.1-.6h0m.7-.1h0m0-2h0m3.2 8h0m-3.1-.2h0m-1.3 .4h0m-7.9-4.9h0m-7.6-.3h0m-14.5 4.3h0m-6.9-4.4h0m20.5 9.2h0m5.1 2.4h0m6.4-3.7h0m9.8 .9h0m.6-.2h0m2.2 2.1h0m5.4 6.2h0m-2.6-.1h0m-.3-3.5h0m-.2 2.8h0m-2.4-3.4h0m-.7-.1h0m-2.4 1h0m-1.3 2.9h0m-.6-2.8h0m-5.6-.5h0m0-.4h0m-5 2.4h0m-9.2 1.7h0m-27.1 6.4h0m16.2-2.4h0m26.1 1.2h0m.4-3.2h0m2.6 3.2h0m2.1-3.3h0m1.7 1.1h0m.6 2.9h0m7.6-3.4h0m0 3.9h0m2.7-2.2h0m6.7 5h0m-1.7-.2h0m-3.8 3.2h0m-6.3-.9h0m-5.1 .4h0m-3.9-1.8h0m-35.3 2.9h0m5.8 5.5h0m4-2.9h0m15.7 2.6h0m16.2 .8h0m.7-2.3h0m4.2-2.1h0m4.3 2.8h0m2.4-1.3h0m5.6-.4h0m8.7 6.1h0m-1-.1h0m-1.3 .7h0m-2.6-2.9h0m-.5 .3h0m-9.1-.3h0m-1.7 1.6h0m-4.6 1.7h0m-2.5 2.1h0m-1.3-5.6h0m-.3 5.9h0m-40.8-5.9h0m-3 7h0m6.8-1h0m17.7 4.3h0m9.9-1.7h0m6.4 2.3h0m7-1.2h0m.5-3.1h0m2.6 1.7h0m.4-.5h0m1.5 .3h0m.9 1.4h0m3.5 2.3h0m.1-4.3h0m4-.6h0m8.5 10.3h0m-1.2-.6h0m-.3-.1h0m-4.6-.3h0m-7.9-1h0m-30.4 .4h0m-10.6 1h0m-16.5-.1h0m9.2 2.4h0m10.1 4.5h0m6.4-5h0m3.4 3.5h0m2.6-1.8h0m9.8-.9h0m14.7-1.1h0m4.4 2.1h0m0-1.9h0m4.1 2.5h0m1.1-1.9h0m2 3.3h0m3.2 .2h0m.9-3.1h0m.1 .8h0m2.5 .9h0m2.2-.2h0m7.3 1.6h0m-10.6 4h0m-.2 .3h0m-2.2 .3h0m-7.2 2.1h0m-.7-.1h0m-2.3-2.6h0m-3.9 2h0m-5.3-3.7h0m-2.6 .5h0m-15.9 3.6h0m-2.2-3.6h0m-17.5 1.5h0m-14-1.8h0m-2.9-.2h0m-2.2 2.2h0m-231 1.7h0m-2.8-3h0m3.7 10.3h0m.7-1.6h0m111 .8h0m138.8-3h0m4.2 3.2h0m7.3-.4h0m1.7-.5h0m8.2 .1h0m4.2 1.3h0m1.2-3.7h0m7.4-1.7h0m6.5 1.9h0m6.7 3.5h0m.9-2.5h0m1.8 .5h0m5.5 1.6h0m2.4-.1h0m17.3-3.6h0m11 4.1h0m-10.1 1.1h0m-17.7 2.6h0m-4.7-2.3h0m-1.2 1.1h0m-3.6-.9h0m-17.7 2.3h0m-8.4-2.9h0m-1 2.4h0m-30.2-2.5h0m-130.2 2.4h0m-8.9-.9h0m-1.6 2.8h0m-103.8-3.1h0m-30.1 6.1h0m2.4 3.6h0m13.9-4.7h0m114.4 3.7h0m1.6 .7h0m.6-3.3h0m.6 3.8h0m1.5-4.8h0m5.4-.4h0m1.1 4.3h0m130.7 0h0m10.3-2.1h0m32.4-1h0m24.5-.6h0m-8.9 8.4h0m-19-1.8h0m-1.5 1.3h0m-9.8 1.6h0m-21.6-2.8h0m-12 1h0m-98.5 2.3h0m-.1 .3h0m-1.1-.9h0m-1-1.7h0m-.4-2.2h0m-.1-.1h0m-.1 2.3h0m-1.1 2h0m-2.1-4.7h0m-2.2 2.7h0m-.7-2.5h0m-.2-.2h0m-.6 4.3h0m-.5-3.7h0m-.1-.1h0m-3.7 5h0m-1-3h0m-.6-.1h0m-.9 2.4h0m-1.9-3h0m-.5-.6h0m-.9 3.7h0m-5.2-3.1h0m-1.7-1.9h0m-6.8 4.7h0m-1.1-4.8h0m-1.6 .3h0m-2.9 5.6h0m-1.2 0h0m-122.1-4h0m8.2 6.6h0m6.3 1.5h0m10.5-2.3h0m95.2 .3h0m.5 2.2h0m.6 1.2h0m3.5-3.8h0m2.5-1.2h0m1.6 2.8h0m7.7 .9h0m.2-2.1h0m5.7 3.7h0m1.6 .2h0m1.3-4.5h0m.6 2.2h0m.2-2.1h0m.8 2.1h0m3.8-3.3h0m3.2 4.6h0m.8 .2h0m1.1-4.1h0m3.1 2.6h0m1.3 2.2h0m97.1-.9h0m35.7-1.1h0m.8-.5h0m4.6 1h0m.3-1.8h0m7.3-2h0m21 10.4h0m-39.1-.1h0m-2.9-3.7h0m-141.3-.8h0m-4.4-.1h0m-1.3 4.1h0m-4.9-3.5h0m-2.9 0h0m-6.5 .1h0m-1.4 4.7h0m-.2-1.4h0m-.6-3.5h0m-.9 1.5h0m-102.5 2.6h0m-1.4-2.7h0m-5.9-.7h0m109.4 6.8h0m1.1-2h0m.5 .1h0m1.6 3h0m1.9-1.8h0m1.8 2.3h0m.1-.6h0m2.7-.1h0m4.9-.2h0m2-2.1h0m0 .8h0m134.2 3.3h0m2-1.8h0m.7 .6h0m1.9-2.2h0m17.2 3.5h0m7.9-.9h0m4.5-1.9h0m33 1.5h0m54.5 5.5h0m-102 .4h0m-13-1.1h0m-143.8-2.3h0m-86.2 4.4h0m-14.3-4.4h0m-6.2 3.6h0m-8.6 5.1h0m5.5-.1h0m16.2-1.1h0m240 3.9h0m1-5.1h0m6.6 .8h0m17.9 4.6h0m1.1-5.1h0m19.1 .1h0m12.8 10.3h0m-5.2-.5h0m-15-4.7h0m-4.2 .6h0m-1.4 2.8h0m-1.9 .7h0m-4.1 1.3h0m-9.4-2.4h0m-8.1-2.8h0m-27.6 2.7h0m-210.9 2.1h0m-23.6-.1h0m-6.1-1.2h0m-5.6 .5h0m31.7 6.7h0m3 .3h0m217.1-3.9h0m.6 1.5h0m10.3 .5h0m2-.6h0m2.2 .9h0m8.9-3.4h0m6.7 5.5h0m14.7-1.4h0m.3-1.4h0m4.4 1h0m8.3 1.5h0m51.7 5.7h0m-2.3-1.6h0m-37.4-2.7h0m-20.6 2.1h0m-8.4-.5h0m-5.9-.1h0m-1 .7h0m-8.1 1.9h0m-1-2.4h0m-.6 1.1h0m-3.1 .8h0m-8.3 1h0m-2.6-3.7h0m-242 3.6h0m-2.3-.3h0m-1.5 5.7h0m234.8-2h0m10 2.3h0m6.9-1h0m3.9-3h0m2.4 2.7h0m.4 2h0m5.4-4.7h0m4.6 4.4h0m14.6-5.4h0m1.3 1.2h0m4.2 4.4h0m5.2 .3h0m2.8-4.1h0m.1-.4h0m19.7 2.7h0m22.3-.2h0m-37.2 6.5h0m-14.1 .9h0m-6.1-5.1h0m-1.4 5.7h0m-14.9-4h0m-.1 3.9h0m-11-4.2h0m-1.5 2h0m-3.3-2.8h0m-232.1 4.2h0m-21.2-3.1h0m-8.6 1.7h0m14.9 4.9h0m233.1 1.9h0m3.6-4.4h0m5.4 4.9h0m12.1-4.8h0m2.3 1.1h0m3.4-.1h0m5.3 1h0m13.2-1.6h0m9.1 .9h0m11.7-1.2h0m2.2 .4h0m3.4 2.6h0m7.6 1.9h0m6 6.8h0m-3-1.2h0m-1-3.8h0m-11.1 1h0m-1.7 3.2h0m-.5-3.8h0m-.5 1.6h0m-3.1 2.4h0m-11.5 .6h0m-1.1-4.3h0m-1.2 1.4h0m-6 1.3h0m-3.6-2.9h0m-8.1-.1h0m-11.3 .1h0m-.1 3.8h0m-3.3-3.2h0m-7.9 3.6h0m-5-.7h0m-12-4.9h0m-.6 3.9h0m-240.6-1.1h0m9.4 6h0m.3 2.9h0m6.5 .2h0m234.2-1.2h0m15-4.3h0m34.3 .8h0m7 3.9h0m7.2-2.6h0m6.6 0h0m2.8-1.6h0m.7 2.1h0m.1-1.5h0m4.5 1.6h0m-11.5 5.3h0m-3.2 .3h0m-2.4-.3h0m-3-2h0m-.8 3.5h0m-2-.6h0m-6.6 .6h0m-.5-2.9h0m-9.3 2.2h0m-4.4-2.2h0m-5.5 4.8h0m-1.7-3.3h0m-7.3-1.4h0m-19 4.5h0m-3.7-2.5h0m-1.7 2.4h0m-223.4-1.6h0m-8 1.2h0m-3.4-4.2h0m-2.8-.2h0m-12.3 7.9h0m8.5-.6h0m4.8-1.1h0m4.6 .3h0m14 1.5h0m216.7-2.1h0m6.4 .6h0m9.2 4.6h0m3.2-1.3h0m5.2-.1h0m.7 .3h0m16.9 1h0m5.3-2.9h0m5 0h0m4.4 1.4h0m1.2-.1h0m.4-.1h0m.1 1.8h0m12.8-4h0m.9 .2h0m7.2-1.9h0m-1.7 7.9h0m-2.5 .8h0m-4.3-1.5h0m-2.4 0h0m-4.7 3.6h0m-1.5-3.7h0m-4.9 .9h0m-7.8 2.4h0m-2-3.2h0m-3.5 .8h0m-1.1 3.7h0m-9.1-1.5h0m-.7-3.9h0m-.7 4.7h0m-32.2-4.4h0m-232 1.7h0m-16.4 1h0m-1.9-3.4h0m.1 9.7h0m25.1 .1h0m3.4-1.2h0m10.5-1.9h0m208.3 3.4h0m5.7-3.9h0m2.7 1.9h0m1.3-1.8h0m26.1 1.6h0m2.8-.3h0m10.5 3.2h0m2.5-2.3h0m12.8-.8h0m3.1-.9h0m4.9-.8h0m1.5 4.8h0m4.4-2.1h0m-7.7 5.5h0m-3.1-.9h0m-18.4-.9h0m-13.9 2.2h0m-11.7 1.7h0m-10-4.3h0m-.8 1.4h0m-.3 1.9h0m-260.4-2.7h0m-5 4.5h0m13.7 1.8h0m242 1.3h0m12.6 3.2h0m.6-5.2h0m5.2 3.7h0m.4-1.9h0m2.2 2.2h0m10.4 .9h0m15.2-1.8h0m2.4 .8h0m.7-.5h0m9.3-.3h0m4.4-1.7h0m-9.6 7.5h0m-4.3 2.3h0m-4.1-3.3h0m-17.2 2.1h0m-2.1-3h0m-4.7 1.2h0m-2.9 3.1h0m-1.6-4.8h0m-4.5 4.8h0m-219.7-5h0m-8.3 2.9h0m-38.1-2.9h0m13.7 8.5h0m1.7-.5h0m28.6-2.1h0m210.7 2.8h0m16.9-2.2h0m2.1 3.7h0m9.9-4.6h0m1.5 5.7h0m7.4-1.2h0m18.1-2h0m0 .8h0m8.4-1h0m.1 .6h0m-4 7.6h0m-1.7-2.7h0m-2 1.7h0m-22-3h0m-6.9-.1h0m-.8 2h0m-10.7 .2h0m-5.5 1.8h0m-124-2.7h0m-149.7 1.6h0m46.3 3.7h0m249.6-.7h0m.2 2h0m19.5 2.7h0m6.4 .6h0m5 1.5h0m0 .4h0m-2 .2h0m-5.8 .2h0m-17.6-1h0m-9.8 1.2h0m-19.3 2.8h0m-268.9-.4h0m7.7 4.8h0m288.7 1.2h0m.3-3.8h0m3.5 1.4h0m12.4 1.9h0m1.4-2.2h0m1.8 1.4h0m.4-1.3h0m4.8 2.5h0m3.9-1h0m2-1.4h0m.6 1.5h0m9.1 8.1h0m-8.9-5.4h0m-.8 3.2h0m-3.8 1.2h0m-5-1.2h0m-.7 1.3h0m-4-1.5h0m-12.4-1.2h0m-.8 1.2h0m-2-1.3h0m-3.5 .6h0m-166.6 6h0m3.4-.3h0m150.6-.5h0m19.3 1.6h0m2.5 .8h0m2-3.6h0m.1 4.2h0m1-3.8h0m1.8 3.3h0m.7-.6h0m10.9-3.1h0m3 4.1h0m1-2.4h0m2.6-1.7h0m3 2.5h0m2.4-1.5h0m1.9 4.3h0m1-2.8h0m.8 1.1h0m.1-2.8h0m.3 3.3h0m1.1 1.2h0m.1-5h0m.7 6.3h0m-.3 2.3h0m-.8 .9h0m-1.9-3.1h0m-.6 2.9h0m-3.8 1.5h0m-1.2-4.9h0m-8.2 3.6h0m-1.2-1.2h0m-3 .6h0m-2.4-.2h0m-2-1.3h0m-1.4 1.4h0m-.9-.2h0m-.1-2.8h0m-27.3 3h0m23.5 5.3h0m2.9-.8h0m1.1-1.8h0m2.4 .1h0m3.8 2.7h0m9.6-.2h0m1.4 2.4h0m1.5 .2h0m4.5-.9h0m.7 .2h0m4.6-1.2h0m1.5-1.7h0m.3 1.1h0m0 2.1h0m1.9-4.2h0m2.8 4.8h0m4.9 4.8h0m-2.8-2h0m-3.6 .1h0m-6.4 2.8h0m-.8-2.2h0m-1.2-2.9h0m-2.4 .6h0m-14.7 .7h0m-1.8 2.5h0m-12.1-3.6h0m-166.3 3.1h0m178.3 3.2h0m1.3 3.5h0m1.1 1.2h0m1.7-.6h0m1.9 .6h0m.3-1.4h0m4.2-1.3h0m.5-2.8h0m3.6 3.2h0m1.1-.3h0m1 2.5h0m.3-2.6h0m11.9-1.8h0m1.1 4.1h0m6.1-5h0m6 11.1h0m-1.4 .5h0m-11.4-2.5h0m-3.6 1.3h0m-.4-2.8h0m-1.4 1.8h0m-.3-3.3h0m-3.2 1.4h0m-2.8-1.6h0m-.1 1h0m-.3 .8h0m-3.9 3.8h0m-9.9-4h0m-1.6-.3h0m-152.8 6.9h0m164 1.3h0m4.3-3.3h0m1.8 1.1h0m1.1 .5h0m.2 2.4h0m.3-2.8h0m.4 .3h0m1.9 3.1h0m1.3-3.5h0m1.2 2.5h0m.7 1.7h0m1.3-.5h0m2.7-.1h0m.6-.9h0m5.5 1.8h0m2.2-1.1h0m5.9-3.5h0m1.1 3.8h0m1.3 5.3h0m-.3-3.5h0m-.7 0h0m-.2 1h0m-.7 4h0m-.9-2.1h0m-.2 1.6h0m-9.6-3.9h0m-3.6 3.2h0m-2.5-1.9h0m-5 2.4h0m-.3 .2h0m-.4-2.7h0m-.5 3.1h0m-4.7-.5h0m-5.5-3.3h0m13.6 9.9h0m3.5-2.3h0m1.5-3.4h0m1.1 3.5h0m10.2 .7h0m.1-3.5h0m4.7 5.4h0m-.7 0h0m-3.7 1.2h0m-2.3 3.9h0m-2.4-4.9h0m-.3 .1h0m-1 4h0m-2.2-4.2h0m-.8 .4h0m-2.3 3.6h0m-3.9-2.9h0m-162.3-1.5h0m57 6.6h0m110.8 .1h0m9.8 2.8h0m.2-.3h0m2 4.3h0m-3.1-1.3h0m-121.5 6.5h0m5 7.8h0m-67.6 25.8h0m-2.4 1.2h0m-36.1 2.8h0m.5 3h0m0-1.4h0m25.6 2h0m.5-.2h0m2.8-1.5h0m1.1-1.5h0m1.2 0h0m-4.8 4.1h0m-26.3 .9h0m-.5 .1h0m-.3 2.9h0m9.8 2.3h0m.5-1h0m10.1 6.1h0m-.6 3.9h0m-1.9-2.1h0m-9.1 2.9h0m-.6-2.7h0m-3.5 4.3h0m13.2 5.4h0m1.1 .9h0m-1.2 3h0m-1.2 1.1h0m-2.9-1.2h0m-1.3 1.9h0m-14.3-3h0m10.7 4.5h0m4.7 4.5h0m7.1-5.2h0m-14 6.6h0m-13.5 2.7h0m-1.4-1.8h0m-3.3 7.4h0m8.1-1.6h0m1.4-1.3h0m3.3 5.6h0m76.1 2.5h0m-2.9 2.2h0m-5.2-1.7h0m-4.6 2.4h0m-3.6 .3h0m-.4-2.1h0m-35.3-2.5h0m-20.3 0h0m-2.4 4.3h0m-.5-.7h0m-1.8-2.8h0m-14-1h0m-5.8 8.7h0m.9-.2h0m1.6-1.7h0m10.7 .4h0m9.8-.4h0m1 2.8h0m4.7-4h0m17.4 0h0m2 4h0m30.2-3h0m6 2.8h0m3.5 .5h0m10.6-.5h0m2.8-3.6h0m-13.2 10.7h0m-5-.8h0m-.6-3.3h0m-5.4 .2h0m-6.8-1h0m-16.7 4.2h0m-2.9-.8h0m-2.3-2.3h0m-4-.5h0m-6.6 .2h0m-.5 4.5h0m-3.2-.3h0m-4.2-5.2h0m-7.5 .7h0m-1.5 1.3h0m-2.6-.6h0m-.2-.4h0m-4.6-.2h0m-3.9 .9h0m-7.6 2.9h0m-.3-3.2h0m-6.4 7.3h0m3.6 2.8h0m13.8-1.2h0m2.4-1.4h0m6.8 .6h0m1.9 .2h0m12.2-2h0m1.7 2.4h0m.8 .4h0m5.8 1.1h0m5-1.9h0m1.5 1.6h0m5.2 .4h0m3.3-.8h0m3.2-3.5h0m1.9 1.9h0m.5 .4h0m6.7 2h0m8.9-3.7h0m.6-.1h0m.6 2.5h0m7.2-1.3h0m-.5 8.5h0m-9.1-4.3h0m-.9 .6h0m-5.1 1.5h0m-5.7-.5h0m-6-2.4h0m-2.1 1.1h0m-4.5 .5h0m-2.4 1.2h0m-.4-.4h0m-1.3 1.2h0m-.6-3.7h0m-.1 .9h0m-42.7 .1h0m0-1.4h0m-11.6 2.2h0m63.6 8.1h0m7.7-3.4h0m3.7 3.3h0m.3-4.1h0m9.1 4.4h0m4.4-3h0m3 .9h0m-5.8 4.4h0m-.8 2.5h0m-19.2 2.3h0m-3.8-5.8h0m-.5 .5h0m12.4 7.8h0m3.3 1.8h0m-2.4 6.5h0m-2.2-4.3h0m-2 .4h0m-4.8 11.8h0m4.4 8.9h0m86.5 4.6h0m-.3 6.7h0m-4.3 4.1h0" stroke="#7CAE00" stroke-width="3.1" stroke-linecap="round" fill="none"/>
<path d="M230.9 71.3h0m-5-1.2h0m-.7 3.7h0m2.7 .7h0m1.1 1.1h0m7.7 1.9h0m9.8 2h0m-27.5 .1h0m-2.8 3.1h0m1.1 2.6h0m15.8-.3h0m18.8 1.6h0m-.1 7.3h0m-31.5-2.5h0m-9.1 .8h0m-3.5 4.4h0m1-.3h0m2.7 1.6h0m39.7-.7h0m-3.1 9.6h0m-2.1-1.6h0m-1.7 1.7h0m-13.3-2.3h0m-21.8-.9h0m-2.1-.2h0m-1.2-.7h0m-12.4 10.7h0m14.7-5.1h0m22.4 4.8h0m7.8 4.6h0m-6.1-.4h0m-2.5-2.2h0m-5.7 .4h0m-5.5 2.1h0m-5.9 1.8h0m-9.6-2.9h0m-.8 2.9h0m-4.2-4.4h0m-1.9 2.4h0m-.9-.5h0m-9.5 5.1h0m5.1-1.8h0m7.9-.3h0m6.8 4.7h0m5.8-3.3h0m7.3 .9h0m1.2-.5h0m3.5 1.3h0m12.1-2h0m-29.7 8h0m-1.8-1.6h0m-2.4 .7h0m-15.9 .7h0m-1.5 1.3h0m-2.3-1.5h0m-2.1 3.8h0m1.3 2.7h0m1.6 1.2h0m2.4-3.8h0m3.4 .4h0m1.8 2.8h0m2.1-.3h0m.5-1h0m2 .1h0m3.3 .4h0m7.9 1h0m1.5-.3h0m2.3-2.3h0m14.9 4.3h0m9.1-5.5h0m155.2 9.4h0m-158.5-1.8h0m-12-.7h0m-3 .9h0m-2.8-1.2h0m-8.5 3h0m-1.2-2.1h0m-.9 1.3h0m-12.5-.5h0m-4.3 6.6h0m2.5-1.8h0m1.9-.7h0m2.9 3.3h0m8.1 .4h0m.6-2.6h0m1.8 .2h0m6.6 0h0m2.9-.9h0m3.5-1h0m164.8 1.4h0m9.4-.9h0m-19.9 10.6h0m-169-4.7h0m-6 1.6h0m-9.2-.4h0m-6.1 3.1h0m7.7 5.6h0m5.1-4.1h0m202.2 5.7h0m-194 5.5h0m-16.3 .5h0m32.8 4.2h0m18.2-3.1h0m7.5 4.3h0m.5-.8h0m1.8-1.2h0m1.1 .6h0m2.8-.3h0m2.8 1.9h0m6.3-2.6h0m3.7 .2h0m2.3 1.8h0m.1-2.4h0m.4 .1h0m1.5-.8h0m.9 1.8h0m.5 .5h0m1.1-1h0m133.5 6.3h0m-35.1 1.2h0m-92.3 0h0m-2.6-1.5h0m-1.3-1.8h0m-.5 .2h0m-4.7 3h0m-2.4-1.9h0m-2.4-.5h0m-1.9 .7h0m-2.3-.3h0m-1.4-.1h0m-5.2 2h0m-3.8 1h0m-.6 .2h0m-8.3-1.5h0m-3.7-3.5h0m10.6 7.6h0m4.2-.2h0m1.2 2.7h0m.9 .9h0m16.6-3h0m2.9 1.7h0m.2-3h0m2.2 3.6h0m1.6-.2h0m2.8-1.2h0m.9-1.4h0m108.4 .4h0m-113.2 7.2h0m0 .2h0m-4.1 .7h0m-4.4 .8h0m0-1.6h0m-.2 1.9h0m-2-3.2h0m-3.1 1.9h0m-3.6 .4h0m-3.3-3h0m-54.3-.3h0m2.4 6.6h0m55.4-2h0m9.9 1.2h0m116.5 1.2h0m23.2 1.2h0m4.8 3.3h0m-8.3-.7h0m-5.7 8.3h0m.1 2h0m10.1-.6h0m7.1 .5h0m-1.1 7.2h0m-7.9-5.2h0m-3.3 3.9h0m-.6 .4h0m-.5-3.9h0m-28.7 .9h0m15.9 6.9h0m4.6-.4h0m2.8 2.9h0m.4-3.9h0m1.3 1.4h0m0-1.1h0m2.7-1.2h0m1.7 5h0m10.6-.4h0m0-3.6h0m.4-1.3h0m.5 3.1h0m1.7-.2h0m2.4-2.6h0m.1 5.3h0m1.5 3.7h0m-6.9-3h0m-7.6 4.1h0m-.9-.3h0m-.2-.5h0m-.3-2.6h0m-1.4 .5h0m-2.1 2.5h0m-.4 1.3h0m-.2-4.1h0m-1.2-1h0m-2.3 3.8h0m-9.9 4.3h0m8.9 1.7h0m2.6-3.3h0m7 4.1h0m2.4-4.5h0m3.8 3.9h0m4.6-1h0m3 1.8h0m.4-1.7h0m8.4 6.6h0m-1.3-1.1h0m-10.4 .7h0m-1.4 1.8h0m-3 .1h0m-3.7-2h0m-4-.1h0m-1.4 .2h0m-4.6-.5h0m-3.2-2.8h0m-6.7 1.9h0m.1 5.4h0m.7 1.3h0m4-1.2h0m11.3 2.6h0m.1 1.4h0m.3-5.5h0m6 3.3h0m1.4 1h0m7.9-1.5h0m1.5-.5h0m2.7 1.2h0m6.3-2.3h0m.7-.3h0m1.8 2.4h0m1.5 1.7h0m5.9 6.1h0m-1.3-3h0m-2-2.2h0m-1.2 1.9h0m-10.7-.8h0m-1.5 1.6h0m-1.8 1.2h0m-3.3-1.5h0m-2.5 0h0m-2-1.6h0m-1.3 .4h0m-4 1.9h0m-3.4-1.8h0m-3.6 1.8h0m-2.3-1.6h0m-.2-1.2h0m-6.2 3h0m-7.9 1.6h0m-3.3-.9h0m2 4.4h0m12.1 1h0m1.3 2.3h0m.6-5.5h0m8.8 4h0m.2 1.4h0m1.6-.9h0m1.2-.6h0m6-2.3h0m1.3 2.3h0m.5-3h0m3.3 1.6h0m1.2 .8h0m1.6 1.2h0m2.3 1.1h0m6-.2h0m3.9-3.9h0m4.3 2.8h0m.6 .1h0m7.6 6.7h0m-.9-3.8h0m-3.9-.2h0m-6.1 2.4h0m-2.6-.7h0m-5.1 2.3h0m-2-1.9h0m-.7-2.8h0m-.9-.2h0m0 3.5h0m-3.5 .2h0m-6.4-1.6h0m-8.1-.2h0m-5.2 2.4h0m-1.6-.6h0m-1.3 .3h0m-1.1 .9h0m-9.5-.7h0m-10.9-3.8h0m3.8 8h0m3.3 2.6h0m3.3-5.2h0m.6 2.5h0m6.3 .3h0m1.3-1h0m5.7 1h0m11.6 .9h0m.8-3.1h0m6.2 .7h0m.1 1.5h0m11.7 .6h0m6.5-2.7h0m5.7 2.4h0m.1 .7h0m.5 .1h0m2.2-2.8h0m1.8 5.1h0m-3.9 2.4h0m-4.1-2.7h0m-1.1 1.9h0m-6.3-.2h0m-.1 3.4h0m-.6 0h0m-14.4-1.6h0m-11.4-.3h0m-2 .6h0m-.4-1.9h0m-1.2-1.2h0m-1.2 3.6h0m-7.8-3.7h0m-1.6 2h0m-1.4 2.1h0m-2.5-.8h0m-2.9 1.7h0m-.6-2h0m-3.5-1.3h0m-1.3-.6h0m-.5 2.8h0m-1.9 .8h0m-.9-1.4h0m-1.1-2.2h0m-2.1 .6h0m-.1 2.3h0m-.8 1.1h0m0-.2h0m-.3 4h0m.5-1.5h0m6.5 1.2h0m2.1 1.2h0m0-2.1h0m2.1 2h0m1.5-3.4h0m1 .2h0m1 4h0m.4 .4h0m10.2-1.7h0m1.9-2h0m1.1 2.6h0m5.3-.5h0m3 1.8h0m.3-4.9h0m3.2 4.6h0m.4-4.7h0m6.3 4.8h0m.1-4.6h0m4-.5h0m2 4.2h0m.8-3.4h0m8.4 4.1h0m2.8-1.1h0m1.4-3.8h0m3.1 3.1h0m1.7 1.3h0m.8-1.4h0m10.5 2h0m.3-3.6h0m2.1 2.9h0m-3.7 1.4h0m-7.7 2.7h0m-1.2-.4h0m-1.6 3.2h0m-11.1-2.2h0m-5.9 2h0m-12.6 0h0m-1.3-5.4h0m-.2 5.7h0m-.1-1h0m-5.6-2.2h0m-6.4-1.1h0m-2.6 .8h0m-12.6 .4h0m-.1 1.1h0m-1.8-3.6h0m-.2 5.1h0m-5.9-3.1h0m-2 .4h0m-2.6 .8h0m-229.5 2.5h0m233 1h0m.5 .4h0m3.3 1.8h0m1.6 .6h0m2-3h0m1.4 4.5h0m1.8-2.7h0m.7-.4h0m6.1-2.1h0m3.2 3.5h0m1.2 .5h0m1.8-3.6h0m.3 .7h0m.3 2.8h0m.3-2.4h0m1.5 1.7h0m.4 1.4h0m4.8-.3h0m2.8-4.4h0m6.5 .6h0m4.4 5h0m8.1-5h0m6.8 3.4h0m.8-4h0m.9 5.8h0m.7-1.9h0m10.5-3.9h0m2.8 5.2h0m1.2 .2h0m16.2-5.4h0m20.2 11.9h0m-2.1-4.7h0m-.3 .8h0m-1.7 .4h0m-24.5 3.4h0m-9.6-5.1h0m-7.6 5h0m-4.5-2.6h0m-2.9 .1h0m0 1.9h0m-1.3-3.4h0m-5.5 2.5h0m-.9-1h0m-.9-.3h0m-.4 2.3h0m-17.8-5.2h0m-3.8 2.2h0m-2 1.1h0m-4.5-.3h0m-1.5 .1h0m-1.2 1.3h0m-.2 .3h0m-2-1.1h0m-3-.3h0m-.3-.5h0m-2.6-.4h0m-3.8 1.1h0m-.7-1.9h0m-.5-1.6h0m-4.8 .8h0m-3.2 3.2h0m-.3 1.5h0m-2-2.2h0m0-2.8h0m-115.4 1.5h0m-11.3 3.3h0m-.2-1.5h0m-102.7 .7h0m-.4-.8h0m-.5 .5h0m102.9 5.6h0m4.4 .1h0m3.6 .6h0m1.7-3.7h0m2 3.4h0m1.9 .3h0m114.6-2.9h0m1 1.4h0m1.9-.6h0m1.3-2.4h0m.3 1.1h0m2.6 2.5h0m3.4-1.7h0m1.4 3.3h0m2.2-5.1h0m3.8 1.7h0m3 3.8h0m1.5 .2h0m11.2-3.7h0m2 2.9h0m7.7-3.1h0m1.4 1.9h0m1.3-2h0m4.3-1.8h0m2.7 .6h0m.3 3.3h0m3.8-2.3h0m1.7 3.3h0m4.6-3.8h0m6.3-1h0m25 2.1h0m9.1-1.2h0m.1 3.8h0m8.4-4.3h0m12.3 4.5h0m-2.9 1.1h0m-13.6 1.6h0m-.8 2.2h0m-.8-3.7h0m-33.7 4.2h0m-2.4-1.3h0m-4.3 .4h0m-4.9-.8h0m-2.9 2.8h0m-2.5-5h0m-5.6 .5h0m-4.2 3.3h0m-1.9-4.1h0m-5.7 4h0m-.5-.3h0m-6.5-2.9h0m-8 4.3h0m-.8-2.4h0m-4.9 2.7h0m-.1-.9h0m-.3-.2h0m0 .8h0m-3.7-.2h0m-7.5-1.6h0m-.4-1.6h0m-3.1 3.6h0m-.5-2.8h0m-1.8-2.5h0m-94.9 2.6h0m-5.4 3.1h0m-8.8-1.8h0m-3.6-2.2h0m-4.3 2h0m-2.8 .1h0m-.7-1.7h0m-.4 2.4h0m-.2-3.6h0m-1.5 0h0m-.6 2.2h0m-.3-.1h0m-.7 .2h0m-.8-2h0m0 1.2h0m-2.9 .8h0m-.2 .8h0m-.3-1.9h0m-2.4 3.4h0m-1.5-.4h0m-2.4 2h0m3 .6h0m2.5-.6h0m.1 .3h0m3.6 .8h0m.1 3.2h0m.2-5.3h0m.6-.1h0m.1 2.3h0m1 0h0m1.9 .8h0m4.2-1.2h0m2.6-2h0m2 1.5h0m6.5 2.3h0m1-.7h0m.3 .6h0m3.3-1.2h0m3.7-1.9h0m2.6 1.3h0m98.1 .6h0m.2-1.5h0m3.1 1.2h0m2.4 1.5h0m8.8-1.5h0m10.9 2.5h0m1-4.3h0m1.2 .1h0m.5 3.1h0m3 2.1h0m1.9-.8h0m2-3.5h0m6.9 .7h0m.2 .8h0m.2 1.9h0m1.2-4.8h0m.1 4.7h0m1.2-.4h0m.4 .1h0m1-1.4h0m2.7 .2h0m8.4 .2h0m1.3-1.3h0m3 1h0m3.3-1h0m1.4 3.1h0m2.3-4.3h0m62.9 8.2h0m-3.6-1.2h0m-1.4 2.2h0m-36.3 .4h0m-12.5-4.6h0m-12 5h0m-3.4 .5h0m-2-4.8h0m-2.4 2.8h0m-1.5 .7h0m-2.4-1.1h0m0 1.2h0m-.5-1.6h0m-1.3 3.1h0m-3.6-1.3h0m-8.5-1.2h0m-.1-1.8h0m-4.2-.3h0m-1.7 1.5h0m-3.1-.2h0m-.1-2.1h0m-1.7 3.6h0m-1.1 .4h0m-1.6-2.9h0m-7.8 3.5h0m-7.3-2.8h0m-3.1 1.4h0m-7-1.2h0m-.1-1.4h0m-2 .3h0m-118.7-.6h0m-.6 1.2h0m-.9 .8h0m-2.4-.6h0m-.3-1.7h0m-4.3 3.2h0m-1.7 2.3h0m-1.5-2.7h0m-.5 1.3h0m-3.7 .8h0m-103.5-4.1h0m-9.1 2.8h0m9.9 7.4h0m30.2-3.9h0m3.9 2.3h0m69.1-1.7h0m6.5 1.3h0m.2 .1h0m3.3-.9h0m.6 2.2h0m126.2-2.9h0m3.5 1.2h0m1.3-.4h0m.2-.9h0m1.8 3.9h0m4.6-.4h0m5.8-4h0m3.9 2.3h0m1.2-.1h0m1.4-1h0m2.6-1.8h0m11.2 .5h0m.6-.3h0m18.2 .9h0m9.9 1.9h0m3.7 1.9h0m5.8-5.6h0m12.2 .1h0m4.2-.1h0m0 2.3h0m8.6-.6h0m.2-1.2h0m32.3 6.7h0m-.2 2.9h0m-35.8-3h0m-6.7 4h0m-9.6 .6h0m-20.6-2.1h0m-5.4-2.1h0m-5.9 3.2h0m-5.2 .2h0m-6.5-4.8h0m-1.9 5.3h0m-10.1-4.2h0m-1.4 4h0m-2.1-4.8h0m-10.2 1.2h0m-8.5 0h0m-2.9 0h0m-.3 4h0m-204.9-1.7h0m-33.7 1h0m-3.2-.2h0m.1 3.1h0m11.9-1.8h0m20.6 1.3h0m2.6 1.6h0m210.3-2.8h0m2.8 2.7h0m1.3 3.1h0m.7-.7h0m2.9-5.2h0m2.4 4.8h0m.6-1h0m1.2-3.6h0m8.2 1.7h0m10.1-1.8h0m4.8 3.5h0m4-1.6h0m.4 .4h0m4.6-2.3h0m.7 2.8h0m3.2-1.4h0m1.8 3.4h0m0-1.8h0m1.4 .8h0m.6 0h0m.1-.1h0m1-3.4h0m5.8 3.1h0m.4-3.1h0m5.3 4.5h0m.7-.7h0m5.1-2.8h0m7.7-.1h0m29.1-1.3h0m-.4 8.8h0m-37.7-.8h0m-7.7-.4h0m-4.6-1.3h0m-.3 5.1h0m-.4-5.2h0m-.3 3.6h0m-1.5-2.3h0m-1 .3h0m-3 2.1h0m-.1-2.4h0m-.3 3.3h0m0-2.1h0m-4.2-2.1h0m-.5 1.5h0m-8.3-2.1h0m0 2.6h0m-7.4 2.9h0m-1.8-.2h0m-10-.4h0m-.3-3.5h0m-1.5-.7h0m-.8 3.8h0m-2.2 .9h0m-9-5.4h0m-.1 4.4h0m-2.9-1.5h0m-.7-2.1h0m0 3.2h0m-1.6 .5h0m-1.3-3.9h0m-1.9 3.6h0m-242-2.5h0m247 6.7h0m.3-2.3h0m.2 2.2h0m5.6 2.7h0m6 .4h0m3.9-.1h0m3.8-5h0m2.8 5.1h0m1.1-4.8h0m0 3.8h0m.5-1.7h0m4.7-1.5h0m3.5 2.6h0m13.1-1.7h0m2.3-1h0m.7-.5h0m.3 1.2h0m2.4 2.2h0m2.2-3.7h0m2 1.7h0m6.5 1.3h0m1 2.6h0m31.5-5.6h0m8.9 .8h0m4.7 2h0m14.8-.6h0m-4.6 5.7h0m-1.8 1.9h0m-7.1-1.3h0m-2.8 2.3h0m-16.8-4.5h0m-3.3 1.2h0m-8.2 .9h0m-19.2 .3h0m-2.1 .6h0m-3.9-1.8h0m-4.6 1.5h0m-5.1 2.2h0m-7.2-2.2h0m-.4-.6h0m-5.3 1h0m-.3-3h0m-1-.2h0m-5.9 1h0m0 0h0m-1.1 1.5h0m-5.4 2h0m-2.2-1.8h0m-1.9 1.3h0m-.7-.6h0m-2.6 2h0m-5.3-2.5h0m-4.9-3.1h0m-.7 5.5h0m-.3-5.1h0m-.6 4h0m-.2-2.4h0m-213.6 3.4h0m-5.2-1.6h0m-23 1.5h0m-1 5.5h0m28.6-.9h0m213.9-2.8h0m8.2 3.9h0m.1-2.9h0m0-.5h0m.4 1.8h0m2.6 1.6h0m8.2-4h0m2.5 4.3h0m.6 .1h0m5.4-1.6h0m1.1 .4h0m11.4 1h0m4.5-1h0m1.1-1.5h0m4.6 .4h0m.6 .2h0m.7-.9h0m1.5-1.3h0m8.7-.2h0m1.1 4.2h0m2.7-3.2h0m.2 .5h0m1.9-1.2h0m8.6 1.1h0m1.9 0h0m35.2 .7h0m2.3-2.4h0m-9.5 10.1h0m-35.8-3.2h0m0 2.5h0m-6-.5h0m-2.3 1h0m-10.4-.4h0m-1.2 0h0m-6.8-2.7h0m-4.4-.6h0m-.7 4.5h0m-4.9-.4h0m-7.1 .2h0m-7.7-4.1h0m-1.7 3.7h0m-1.9-2.1h0m-1.7-1.8h0m-2.6 3h0m-2.6 1.3h0m-7.7-1.2h0m-1-2.9h0m-.8 2h0m-213.5-1.9h0m-11.2-1.3h0m-16.4 9h0m.3-2.8h0m3 5.3h0m7.1-3.7h0m4.6 3.1h0m1.9 .5h0m224.1-4.2h0m1 .3h0m1.1 .3h0m6.1 .4h0m15.4-1.3h0m5.9-.2h0m2 2.3h0m1.9 .7h0m1-3.8h0m2.6 5.4h0m14.5-4.1h0m9.9 3.4h0m3.1-3.1h0m3.8-.7h0m.9 .1h0m4.8-.5h0m23.9 7h0m-17.7 1.3h0m-19.1-2.7h0m-4.8 3h0m-.6-1.6h0m-2.3 3.5h0m-1.2-2.4h0m-.3 1.1h0m-2.2 1.1h0m-.8 .3h0m-8.4-1.5h0m-3.6-2.1h0m-.9 1.5h0m-14.1-1.9h0m-14.4-.5h0m-1.6 4.2h0m-4.7 .1h0m-214-4.2h0m-1.9 4.2h0m-12.6-2.9h0m-13.1-.8h0m14.1 5.1h0m6.2 3h0m223.8 .3h0m2.8 2.1h0m27.2-2.3h0m14.7-.6h0m1.2 1.1h0m1.1-1.7h0m6.8-.5h0m1.2 1.6h0m10-2h0m0 3.5h0m8.8-2.4h0m11.7-1.4h0m0 4.9h0m1.7-5.1h0m3.2 1h0m-15.8 7.5h0m-10.3-2.9h0m-3.6 5.2h0m-3.4-3.4h0m-8.6-.6h0m-.3 1.2h0m-.3-1.8h0m-3.7 4.7h0m-1.4-1.1h0m-2.7 1.3h0m-3.2-4.8h0m-14.6 .5h0m-12.6 3.5h0m-4.6 .3h0m-7.3-1.2h0m-215.6 0h0m-7.6-1h0m-.1-1.8h0m-19-.1h0m-4.2 1.5h0m1 3.7h0m2.1 2.9h0m1.7-2.8h0m1 .2h0m10.8 3h0m17.9-3.8h0m211 1.8h0m2.9 2.2h0m7.4 1.3h0m1.4-2.5h0m4.5 2.8h0m1.8-2.7h0m5.1-2.5h0m.5 .4h0m.3 1.7h0m3.9 1.3h0m3.2-1.2h0m3.6 2.1h0m.9-2.1h0m26.1-.6h0m1.9-1.9h0m4.6 5.8h0m1.3-4.7h0m1.4 1.9h0m3.6 .3h0m8.9 .9h0m-1.2 3.8h0m-2.6 .3h0m-.7-1.7h0m-3.4-.2h0m-3 2.6h0m-3.8 1.8h0m-5.1-1.2h0m-.7 .2h0m-4.9-3.6h0m-4.3 3.5h0m-15.7 .4h0m-.5-4.1h0m-.1 1.8h0m-20.5-.3h0m-2.3 0h0m-2.8 3.3h0m-1.2-2.2h0m-.6 .1h0m-6.7 1.3h0m-.4-1.6h0m-217.1-.1h0m-30.7 6.9h0m5.5-.6h0m11.5 2h0m242.4-3.9h0m11.4 .7h0m16 2h0m14.5 2.1h0m14.6-1.6h0m-2.9 3.5h0m-.3 .9h0m-.7-.8h0m-.2 3.8h0m-1.5-.3h0m-.3-1h0m-6.4-3.1h0m-5.7 3.4h0m-.5-3.2h0m-34.9 .2h0m-3-.7h0m-3.1 4.4h0m-116.8-4h0m-1.5 2.6h0m-.8-.4h0m-122.6-1.6h0m-21.6-1.6h0m6.6 11h0m5 .6h0m19.2-2h0m17.9 2h0m97.5-5.5h0m6.4 .1h0m.8 1.8h0m.7 2.6h0m.2-1.4h0m100.2 .3h0m.6 .6h0m20.7 1.1h0m4.6-1.8h0m4.7 .2h0m16.9 1.4h0m10.2-2.5h0m3 1.1h0m3.4 1.4h0m-34.9 4.1h0m-3.3-.9h0m-13.2-.9h0m-11.4 2.3h0m-98.6-3.2h0m-2.7-.4h0m-1.3 3.3h0m-10.4 .4h0m-1.7-2.6h0m-92.9 1.5h0m-47.4 7.1h0m12 1.9h0m35.9-2.4h0m88.8 .9h0m.4 .3h0m.5-1.4h0m1.8-.7h0m.1-1.9h0m1.3 4.6h0m1.9-2.7h0m116.8-1.9h0m28.7 .7h0m3.2 1.7h0m1-1.8h0m9 4.6h0m3.7-1.2h0m13.5-.3h0m-1.8 1.8h0m-2.5 0h0m-.7 .2h0m-1.9 2.1h0m-22.4 3h0m-8.9 .3h0m-7-.2h0m-124.9 .5h0m-.3-4.7h0m-7.5 1.9h0m-.7 .7h0m-94.1-2.9h0m-6.4 2h0m-26.9 8.3h0m125.6-.4h0m1.8 1.1h0m0-.2h0m1-2h0m0-1.1h0m150.1 2.9h0m9.5-2.2h0m4.9-2.7h0m7.1 2.4h0m4.3 1.6h0m.5 6.6h0m-8.8-5h0m-5.1-.2h0m-4.1 2.9h0m-1.4-2.2h0m-7.8 .2h0m-2.2 1.6h0m-18 1.7h0m-.2-2.8h0m-123.8 3.5h0m-7.6 .2h0m-1.7-2.6h0m-97.1 .4h0m-31.6 8.9h0m123.9-5.4h0m.8 2.8h0m.3-1.9h0m1.3 .8h0m.4-.3h0m0-.2h0m.7 2h0m.3-1.4h0m151.6 .8h0m1 1.1h0m13.4-3.6h0m5.5 1.1h0m3.8-.8h0m3.2 1.9h0m11.1 2.9h0m-3.5 3.5h0m-186.4 1.5h0m-.4-2.1h0m-.5 .7h0m-2-1.3h0m-1.4 4h0m-2.7-.8h0m-2.7 .3h0m0-3.1h0m-2 9h0m.4-4.7h0m1 3.5h0m16.6 0h0m5.4-3.6h0m.3 3.8h0m117.6-3.4h0m32-.5h0m16.6-.4h0m8.8 1.8h0m2.7-1.1h0m4.5 .4h0m5.3 6.5h0m-48.3 1.2h0m-150.2 .8h0m-2-2.7h0m-2.7 .5h0m-5.3 1h0m-.9-.3h0m-3.3 1.5h0m-.7 1.6h0m-.3-4.9h0m0 .6h0m-1.2 1h0m-2.7 6.2h0m1.4-1.7h0m5.1-.1h0m4.5 1.9h0m7.4 .5h0m.1-1.9h0m5 2.1h0m1 1.8h0m9.3-3.9h0m176.2 4.8h0m10.4 .1h0m-.7 1.1h0m-11.6 3.9h0m-21-3.5h0m-150.4 4.7h0m-2.4-3.3h0m-.9-.7h0m-.6 1.3h0m-6.5-2.6h0m-2.2 4.8h0m-5.8-2.5h0m-3.1-.9h0m-1.5-1.5h0m-2.3 5.3h0m-.7-4.6h0m-.1 2.1h0m-2.8 1.1h0m-3.3 .1h0m-.6-3.9h0m-2.3-.5h0m-2.5 2.1h0m4.8 8.8h0m1-.6h0m1.7-.9h0m.3 2.2h0m.6-4.2h0m5.6 .8h0m.2 3.3h0m2.6-2h0m.5 .9h0m1.4 1.4h0m1-5h0m2.1-.8h0m2.1 4.1h0m4.3-1.6h0m.9-1.9h0m2 2.9h0m.1-3.4h0m2.6 3.4h0m.8-1.4h0m.4 3.7h0m3.1-4.3h0m0-.9h0m1.1 2.3h0m161.1 2.7h0m4.1-.2h0m25.9-5h0m-8.6 8.1h0m-10.3 3.2h0m-164.8-.2h0m-1.2-1.1h0m-.3-2h0m-3.6-1h0m-.8 2.7h0m-1-.3h0m-1.9-1.1h0m-16.9-1.6h0m-6.9-1h0m26.4 7h0m2.1 .6h0m0 .3h0m.9 1.7h0m.5 .8h0m1.3 .8h0m2.2-3.7h0m1 2.3h0m2.9-.6h0m.8 .7h0m1.9 .3h0m162.5-4.2h0m.6 2.3h0m.3-1.6h0m22.3-.9h0m-190.8 7.7h0m2.5 6.3h0m7.6 2h0m163-3.4h0m7.4 2.6h0m11.3 5h0m-186.5-1.7h0m-.2 1.8h0m76 13.6h0m-16.2 6.4h0m10.9-2.1h0m3.5-.8h0m-8.8 8.9h0m-3.1-1.8h0m-67.6 26.9h0m-5.1 3.7h0m1.4-.5h0m5.3-2.6h0m-25.5 13.1h0m5.7 4.6h0m2.9-2.4h0m.3 7.8h0m-10.4-3.7h0m-6.3 9h0m15.1 7h0m-1.2-4.4h0m-21.6 9.2h0m1.6-3.7h0m9 2.5h0m-5.7 6.2h0m-1.4 2.1h0m-9.4-1.4h0m12.8 5.5h0m1 .7h0m3.1 .5h0m66 5.5h0m-65.2-2.5h0m-2.3 1h0m-16.6-.2h0m-.7-2.3h0m-1.9 3.8h0m3.5 3.3h0m29 .5h0m48.9 4.2h0m7 4.9h0m-5.6-.3h0m-9.7-3.2h0m-40.3 3.9h0m-22.4-5.2h0m-.5 2.9h0m-4.4 2.1h0m-1.5-3.2h0m-12.2 3.8h0m8.2 2.9h0m5.3 1.6h0m7-2.6h0m4.4 .6h0m4.4-1.5h0m9 2.7h0m20.8 .6h0m2.4-3.7h0m2.2 .2h0m4 3.5h0m4.9 1.6h0m7.5-2.5h0m.5 .6h0m11.4 7.2h0m-2 1.1h0m-10.2-4.3h0m-1.9-1.3h0m-9.8 .5h0m-2.5 2.4h0m-8.8 2.3h0m-55.2-4h0m69.9 4.5h0m15.3 4.5h0m.2 2h0m-5.9 2.3h0m-21 7.8h0m5.3-.9h0m1.4-.5h0m3.4 6.5h0m-1.9-2.4h0m-3.5 11.3h0m90.2 20.8h0" stroke="#00BFC4" stroke-width="3.1" stroke-linecap="round" fill="none"/>
<path d="M221.7 77.1h0m2.2-2.1h0m10.6-2.4h0m4.9 4.1h0m3.1 .6h0m3.8 5.9h0m-3.2-3.6h0m-.7 1.9h0m-11.8-.4h0m-.9 .1h0m0-2.7h0m-.6 1.9h0m-.1-1.4h0m-.2 2.7h0m-2.7-3.7h0m-5.8 2.2h0m-.4-1.2h0m-4.4 4.1h0m-1.8-1.7h0m3.8 3.4h0m.3 1.9h0m.1-.3h0m11.7-.2h0m.6-.1h0m2 3.5h0m2.5-.4h0m7.7-3.7h0m1.1-.7h0m-1.9 8.2h0m-3.6 2.9h0m-1.1-3.7h0m-10.3-.8h0m-17.7 3.9h0m-2.6 3.1h0m1.5 2.5h0m5.9 .3h0m11.2-.9h0m1.6-3.8h0m2.1-.5h0m.7 4h0m2.4-1.2h0m5.9 1.2h0m1.5-2.4h0m.3 .6h0m9.9 4.3h0m-4.2 0h0m-1.1 2h0m-9.3-.5h0m-2.3 2.9h0m-12-2h0m-4-2.9h0m-1.8 .8h0m-1 1h0m0 0h0m-5.2 1.9h0m-2.1-2.8h0m-3.6 .7h0m-1.1 3.6h0m-2.6-2.7h0m-.9 .7h0m-3.4 3.1h0m2.7 3.3h0m2.1 .4h0m7.9 1.7h0m3.2 .1h0m5.9-3.6h0m5.7 .1h0m19.1 1.9h0m1.3-1.5h0m2.8 1.2h0m1.3 .8h0m.6-1.7h0m-5.3 6.9h0m-12.2 .8h0m-1.8-3.9h0m-.7 3.8h0m-1.8-1.2h0m-.6-2.9h0m-10.4 2.9h0m0-1.8h0m-.8-.1h0m-18.9-.3h0m-5.9 3.6h0m-2.1 .2h0m-1.5 5.7h0m1.5-2.3h0m.5 3.2h0m.2 .3h0m12.7-3.8h0m1.8 1.8h0m.2-1.9h0m.6 3.4h0m.3-4.4h0m6.6 4.7h0m2.2-3.3h0m2.6 2.9h0m8-1.3h0m4.2-1.9h0m1.6 3h0m.4-1.3h0m.6 1.2h0m5.3-5h0m5.4 .9h0m.5-.3h0m-6.1 7.7h0m-.2 3.3h0m-14-2.4h0m-3.6-.9h0m-11.1-1.3h0m-2.7-.5h0m-.8 5.4h0m-6.3-.9h0m-7.1-1.5h0m-4 2.1h0m-.7-4.4h0m-1 3.9h0m1.6 3.4h0m6.3-1.5h0m4.6 3.1h0m5-.4h0m7.6-1h0m8.8-1.2h0m12.8 0h0m154.2 4.4h0m8.7 5.8h0m-6.1-3.1h0m-1-.6h0m-.3-.4h0m-1 .2h0m-3.1-1.5h0m-.4 3.2h0m-.6-2.5h0m-.8 2.6h0m-155.5 1.9h0m-14.8-2.5h0m-.1-.6h0m-7.4 2.9h0m-2.7-.1h0m-16.5-2.8h0m-4.3 3.5h0m11.8 5.8h0m1.8 0h0m5.6-1h0m3.9-1.2h0m.5-1.4h0m18.8 2.9h0m6.1 .3h0m.7-2.1h0m.5-1.2h0m.2-1.1h0m1.6 2h0m145.4 1.9h0m.9-2.7h0m7.7 2.7h0m3-.1h0m5.9-3.1h0m1.1 .8h0m2.3 5h0m-.8-1.2h0m-4.8 1.6h0m-.6 1h0m-3.5 2.1h0m-6.9-1.8h0m-4.6-3.1h0m-148.3 .4h0m-.9 5h0m-.3-1.5h0m-9.4 1h0m-4.9-3h0m-.3-1.4h0m-2.2 2.8h0m-6.4-1.8h0m-13-.2h0m-7.9 1.8h0m-.5 2.8h0m-.7-.6h0m2.4 3.7h0m11.6-1h0m4 .2h0m5.3 1.8h0m1 1.2h0m1.2-4.9h0m7.6 3.8h0m3.2-.3h0m2.7-3.5h0m.2 3.3h0m3.6-1.4h0m1.4-.9h0m1.2 .7h0m145.2-.6h0m2.2-1.4h0m.6 2h0m4.4-1.4h0m.1 .3h0m20-.6h0m.8 1.5h0m2 3.4h0m2.4 2.4h0m0 1.9h0m-.4-1.2h0m-2.1-1h0m-3.3 4.3h0m-7.5-2.9h0m-3.4-.4h0m-2.3-2h0m-11.6 1.3h0m0 3.9h0m-1.1-1.9h0m-1.3 1.8h0m-.7 .1h0m-1.4-.9h0m-144.9-1.7h0m-.7-1.7h0m0-.7h0m-1.6 3.9h0m-6.7 0h0m-6.8-.5h0m-1.3-2.3h0m-5.6 2.8h0m-1.1-4.4h0m-.9 4.2h0m-13.5 3h0m12.2 0h0m.7 .1h0m2.9 4.3h0m11.2-3.1h0m.6 .8h0m.1-2.2h0m1.2 2.6h0m1.9-.9h0m2-2.7h0m3.2 4.4h0m37.6-3.2h0m110.2 2.3h0m.5-3.3h0m6 4.3h0m11 1.2h0m5.6-5.7h0m4 1.1h0m.8 .9h0m.7-.7h0m1.3 2h0m.1-1.9h0m4.1-1.2h0m.8 .1h0m1.7 4.9h0m-.4 4.7h0m-10 .2h0m-5.1-1.1h0m-.4-1.4h0m-13.3 .1h0m-7.1-1h0m-.5-.7h0m-1.2 4.2h0m-93.7-2.2h0m-.8 2.7h0m-.7-2h0m-5-2.1h0m-.7 3.7h0m-43-4.2h0m-.4 .8h0m-1.7 1.6h0m-.2 1.1h0m-.2-.3h0m-6-.2h0m-5.2 .5h0m-3.3-1.2h0m-3.2-2h0m-2.8 5.3h0m-6-5.8h0m-4.3 2.7h0m-.4 1.1h0m-.5 .6h0m3.8 6.1h0m1.3 1.4h0m4.4-1h0m3.2-1.8h0m64.7-1.6h0m6.2 2.7h0m2.5-3.4h0m.9 .8h0m90.3 .4h0m.1 3.3h0m2.9-1.7h0m3.8-1.8h0m1 2.8h0m5.3-2.9h0m.3 3h0m7.8-1.2h0m4 2.1h0m1.9-1.4h0m9.2-1.2h0m2.2-1.2h0m.3 4.1h0m.6-1.2h0m.9 7.1h0m-12.5-5.3h0m-1 5.3h0m0-4.2h0m-8.1-1.6h0m-18.3 3.7h0m-.1-1.8h0m-2.2 3h0m-85.7-4h0m-17.6 4.7h0m-43-5h0m-9.8 2.9h0m-5.1-1.8h0m-3 3.7h0m-1.6-2.1h0m-1.1 .3h0m7.7 5.8h0m1.8 .8h0m2.4-.1h0m6.2-.1h0m149.8 1.9h0m.3-5.8h0m4.7 2.9h0m10.6-1.9h0m1.9 .9h0m10.5 1h0m5.4-2.3h0m1.8-.1h0m5.7 .5h0m1.1 4h0m1.6 4.8h0m-.2 1.7h0m-6.3-3.8h0m-5.4 3.7h0m-5.7-.4h0m-1.8 .4h0m-1.3-4.8h0m-6.3 4.3h0m-1.1-3.8h0m-8.4 2.5h0m-5.7 2.2h0m-1.5-2.3h0m-.5 1.1h0m-1.8 .8h0m16.2 4.6h0m10.2-4h0m1.1 .3h0m2.6 4.7h0m16.7 .5h0m-5.8 6h0m-1.4-.5h0m-3.8-.7h0m-2.2-3.5h0m-5.7 1.4h0m-2.3 .6h0m-9.5 1.2h0m-3.1 1.1h0m-1.6-2.2h0m-7.6 2.2h0m-1.2-4.9h0m-.3 5.1h0m-.2-1.4h0m-.6 1.3h0m-.5 4.2h0m1.5-1.2h0m.4 .1h0m2.5 1.7h0m5.4-1.2h0m1.5 1.1h0m3.9-3h0m2.4 1.2h0m4.1-.9h0m4.7 3.3h0m4.5-2.3h0m1.7 1.7h0m1.4-2.5h0m22.6 8.3h0m-1.3 1.2h0m-.4 .6h0m-10.3-5.5h0m-1.5 1h0m-2.6 2.5h0m-9.7 1.7h0m-.3-.2h0m-.2-4.3h0m-.9 1.9h0m-2-1.5h0m-8.5 3.8h0m-2 .2h0m-8.3-4.8h0m-8.2 1.5h0m3.6 9.6h0m8.3-.6h0m9.4 .1h0m1.5 0h0m3.3-.6h0m2.1-1.1h0m3.3-3.3h0m.6 2.6h0m24.5 .1h0m3.8 9.2h0m-7.9-4.8h0m-11.7 0h0m-3.3 3.2h0m-9.1-3.1h0m-.7 .9h0m-4.8-1.1h0m-18.2 3.7h0m-1.1-.9h0m1.7 6.2h0m.3-.3h0m.1-2.2h0m.5-.3h0m.3 3.6h0m2.4-3.1h0m9.4 0h0m11-.9h0m6.1 2.5h0m.5 .2h0m7.3-.9h0m7.2 2.9h0m2.5-4.6h0m2.3 1.2h0m12.7 3.2h0m1.3-.7h0m2.1 1.6h0m-.7 1.7h0m-6.9-1.1h0m-.2 4.3h0m-12.4-2.1h0m-11.1 2.3h0m-3.1-.2h0m-6.2 0h0m-.3-.1h0m-8-2.3h0m-5.3 2.1h0m-2.2-3.8h0m-6.7 2h0m-1.1 2.5h0m1.5 2.6h0m10.1-.6h0m2.6 1.5h0m4.2 2.7h0m14.9-.8h0m4-3.1h0m4.7 .3h0m2 2.8h0m8.4-.8h0m2.8-.4h0m8.6-1.9h0m1.1-1.1h0m3.8-.2h0m3.3 2.9h0m5 7.9h0m-1.6-2.8h0m-1.9 .5h0m-2.2 .9h0m-3.9-1.8h0m-3.1 2.9h0m-13.3 .7h0m-2.1-.3h0m-4.1-.2h0m-3.9-2.5h0m-1.7 1.3h0m-.7-3.2h0m-3.6 2.3h0m-5.4-1.9h0m-1.1 4.5h0m-5.8-1.8h0m-2.8-.8h0m-11.1 .8h0m-3.6 2.2h0m5.9 2.9h0m.5 1h0m4.2-.6h0m16.8-.2h0m20.5-1.6h0m6.9 4h0m2.9-5.2h0m11.4 1.1h0m1.9 2.2h0m.1 1.9h0m.4-.4h0m6.1 .4h0m2.6 .7h0m-11 .1h0m-1.3 4.6h0m-1.8-4.4h0m-1.8-.1h0m-.1 1.5h0m-.1-.9h0m-17 1.7h0m-2 2.1h0m-5-3h0m-2.5 3.9h0m-.3-.9h0m-3.6-3h0m-1.7 2.9h0m-.1 1.1h0m0-.9h0m-23.3 .2h0m-8.5-1.3h0m-.6-1.8h0m-1.3-1.6h0m10.7 7.8h0m2.9-.8h0m2.6 4h0m7.1-4.2h0m2.9 2.9h0m.8 .8h0m2.3-2.4h0m22.2-.4h0m20.6 3.7h0m-7 5.3h0m-3.5 .3h0m-6.3-1.8h0m-3.2-.8h0m-1.9-.8h0m-2.4-.6h0m-6.6 3.7h0m-11.5-5.1h0m-2 3.9h0m-8-2.2h0m-11.8-1.4h0m-3.7 .1h0m-.8 3.8h0m-236.1 1.5h0m-.1-1.2h0m-10.3 5.9h0m5.5-3.8h0m1 4.5h0m.2-4.3h0m.9 4.9h0m1.5-2.8h0m1.2-1.1h0m.8-1.3h0m1.5 3.6h0m.4 1.4h0m.6-1.9h0m.3 .5h0m229.2 1.4h0m.8-2.5h0m.3 1.7h0m1-3h0m8.1-.8h0m2.6-.3h0m9.8-.1h0m5.9 2.7h0m8.3 1.4h0m.6-3.9h0m.2 .1h0m5.8 1.8h0m1.6-2.6h0m.1 4.3h0m8.3-4h0m3.3 .1h0m15.1 4.4h0m.6-3.3h0m7.1-.1h0m.2 2.3h0m5.9 1.2h0m1.9 0h0m1-.5h0m1.8-2.7h0m2.4 .7h0m3.1-1.3h0m.2-.5h0m4.7 1.6h0m.1 1.3h0m1.9-.4h0m15.5 7.4h0m-3.7-1h0m-.5-1.7h0m-.4 2.6h0m-1-2.7h0m-.5-.6h0m-16.3-1.1h0m-2.7 .6h0m-2.5 .7h0m-.4 4.5h0m-7.5-3.4h0m-3.7 .3h0m-1.7 .3h0m-2.4 .5h0m-9.3 2.3h0m-.4-.1h0m-2.9-2.9h0m-9.1 2.1h0m-.2-1h0m-1 .4h0m-2.3-.6h0m-5.7-2.3h0m-7.4 3.6h0m-8.3-2.3h0m-1.8 2.7h0m-3.8-.7h0m-3.2-2.9h0m-12.4 3h0m-3.2-1.3h0m-5.9-1.6h0m-.1-1.5h0m-.3 4.1h0m-226-1.6h0m-3.5 .8h0m-.1 .6h0m-2.6 .2h0m-.5-1.8h0m-.2-2.8h0m-28.6 6h0m34.7 5.7h0m6.8-.8h0m2.6-.2h0m4.6-.5h0m90.3-2.9h0m4 .5h0m3.8-.2h0m3.8 2.7h0m111.7 1.3h0m.8-.4h0m8.7-1.6h0m3.7-1.5h0m10 2h0m3.9 0h0m3.2 1h0m4.7-.1h0m1.7 .6h0m2.5 0h0m4.3-3h0m6.7 1.7h0m2-1.7h0m4.3 3h0m1.6-4.2h0m2.5 1h0m10.8 0h0m13.3 1.5h0m6.1-1.2h0m7.2 1.5h0m.8-3.3h0m3-.1h0m4.5 1.7h0m1.4-2.1h0m8-.2h0m1.4 2.2h0m3.3 3.4h0m2-3.7h0m.2-.5h0m2.5 3.1h0m.8 .9h0m2.8 4.7h0m-.2-.2h0m-.4-3.1h0m-.5 .9h0m-1.2 3.1h0m-1.4-.4h0m-2.3-4.4h0m-1.8 2.4h0m-.5 1.1h0m-.2-1.1h0m-2.6-1.6h0m-10.2 2.4h0m-3.8 .7h0m-.8-2.5h0m-8.1-1.4h0m-7 3h0m-24.4-.5h0m-1.2-1h0m-6 3.9h0m-8.8-1.5h0m-.6 1.6h0m-8.9-4.2h0m-8.8 2.5h0m-3.8-1.5h0m-3.4-1.1h0m-3.3 1.9h0m-4.8 1.2h0m-11.4-3.8h0m-112.3 2h0m-1.4-1.9h0m-8 4.8h0m-.7-1.4h0m-.2-3.6h0m-12.1 3.1h0m-.7 .4h0m-71.4 .9h0m-.5 .3h0m-1.9-2.1h0m-3.6-2.2h0m-12.4 1.3h0m-.9 3h0m-3.9-2.1h0m-4.3 2.4h0m-20.3-.8h0m-2.9-3.4h0m-1.5 4.2h0m-.6-4.4h0m-2.6 1.4h0m8.1 6.8h0m1.5-2.7h0m.1 3.4h0m3 1.2h0m1.1-.6h0m1.5-.9h0m.2 1.1h0m4.7-.9h0m10.6-4h0m7.8 5.7h0m6.2-3.4h0m.5 1.4h0m9.5-3.1h0m1.4 4.7h0m1.2-5.1h0m93 4h0m4.2-4.1h0m110.5 5.5h0m.2 .2h0m4.3-3h0m.1-1.1h0m4.1 3.3h0m1.3 .6h0m5.9-2.9h0m2.7 2.1h0m1.4-1.8h0m5.2 2.6h0m.2-1.1h0m4.3-.8h0m2.6 1.2h0m15.8-1.6h0m5-1h0m2.2 3h0m.3-.6h0m.9-2.6h0m14 3.1h0m13.5-1.1h0m4.4-.5h0m3.4-.2h0m2.3-.2h0m7.2 1.2h0m5.8-2.8h0m3.2 2.2h0m5.3-1h0m.6 0h0m1.6 3.1h0m5.6-.5h0m.9-4.9h0m5.6 11.2h0m-2-4.8h0m-2 1.7h0m-17.8-1.3h0m-.4 3.3h0m-15.2-3.4h0m-9-.9h0m-2.4 .1h0m-2.4 1.7h0m-2.3-.2h0m-3.4-1.4h0m-10.4 1.2h0m-3.4 3.6h0m-4.9 .4h0m-6.6-3.1h0m-4.5-1.2h0m-6.4-.4h0m-.5-.6h0m-1.8 3.8h0m-5.5-4h0m-.6 .1h0m-15.2-.3h0m-.9 1.4h0m-.3 .8h0m-.2-.7h0m-136.1 1.2h0m-83.4 .6h0m-20.8-3.3h0m-25 3.9h0m-.3-1.8h0m-.1 3.2h0m-.8-2.4h0m8.2 4h0m.7 .3h0m1.2-.8h0m.3 5.3h0m8.2-4.5h0m.5 2.2h0m.3-1.3h0m1 3.6h0m3.9-3.6h0m.9 1.6h0m21-.1h0m2.2-3h0m1.4 5h0m1.2-5h0m64.8 1.7h0m7.5 1.7h0m129.7-2.7h0m3.5 1.4h0m5.1 .2h0m1.9 1.7h0m5.1 .1h0m12.2 .9h0m.8-5.6h0m.9 2.4h0m21.5-1.8h0m1.1 1.9h0m3.1 .8h0m8-1.2h0m5 .3h0m5.7 .2h0m.6 3.1h0m5.4-1.4h0m2.2-4.2h0m3.4 5.6h0m5.1-4.5h0m2.6 3.4h0m.5-3.2h0m7.6-.6h0m21 2.3h0m1.7-2.6h0m4.1 .3h0m2.9 1.2h0m.3-1.9h0m2.6 7.1h0m-.6 3.3h0m-1.2-2.8h0m-.7 2.5h0m-2 1.7h0m-.7-4.4h0m-9 3.2h0m-3.1-3.6h0m-.2-.1h0m-.2 3.1h0m-.8-2.5h0m-.8 3.9h0m-1.5-5.2h0m-2.4 .2h0m-8.9 3.5h0m-1.7 1.2h0m-6.6-5.1h0m-14.5 1.7h0m-4.3 3.8h0m-1.3-.8h0m0-3.7h0m-9.3 2.5h0m-5.5-.4h0m-3-.4h0m-2.9-2.6h0m-10.4 1.3h0m-3.8 1.7h0m-5.9-3.2h0m-1.2 4.6h0m-.5-1.7h0m-.8 1.5h0m-3.8-.4h0m-.5 1.9h0m-3.7-.3h0m-2.6-2.3h0m-2.5 .9h0m-6.5-3h0m-9.3 1.2h0m0-.2h0m-210.5-1h0m-.5 2.4h0m-.5-1.8h0m-3.3 .2h0m-1.5 .4h0m-1.4 2.5h0m-2.2-4.2h0m-3.1 3.1h0m-11.8 2h0m-9.2-2.3h0m-.9-2.3h0m6 7.4h0m3.2 .7h0m2.8 1.3h0m4.3-3.3h0m1.6 4.3h0m4.8-.4h0m1.8 .1h0m10.8-1.3h0m2.3 1.7h0m.2-5.3h0m.2 5.2h0m207.5-4.4h0m3.7 3.6h0m1-4h0m25.4 4.6h0m5.8-4.2h0m6.3 4.6h0m.9-4.4h0m2.8 1.8h0m2.3 2h0m2.9 .5h0m.4-2.9h0m15.9 2.3h0m20.5-3.8h0m2.4 2.8h0m4-3.3h0m3.8 3.1h0m1.5-3.9h0m.2 4.8h0m.3-1.9h0m1.6-2.6h0m.7 3.2h0m4.2 0h0m1.1 .7h0m7.3-.1h0m3.3 1h0m1.3-1.7h0m.6-3.3h0m7.7 2.3h0m2.6 1.9h0m1.5-2.9h0m.5 7.4h0m-4.1 .2h0m-.9 1.4h0m-9 1.5h0m-1.1-5.7h0m-5.7 1h0m-12.3 3.4h0m-5 .8h0m-2.6 .4h0m-5.2-4.8h0m-10.4 3.5h0m-21.6-.4h0m-1.1-2.7h0m-16.8 3.5h0m-.3-1.7h0m-8.1 2.6h0m-2.1-3.9h0m-1.5 3.1h0m-6.3-.7h0m-6.4 .3h0m-.2-2.3h0m-3.9-.7h0m-.7 .9h0m-2.4 1h0m-3.4-2.7h0m-3 4.9h0m-208.5-2.8h0m-2.7 .3h0m-26 1.9h0m-5.4-2h0m4.2 4.7h0m1.8 1.2h0m10.3-1.3h0m.7-.2h0m0 .5h0m1.5-.7h0m.9 3.5h0m.9-3.8h0m13.1 3.1h0m211.4 .5h0m0 .5h0m1.2 .2h0m10 .4h0m.5-.8h0m4.6 .6h0m2.3-1.3h0m1.6 1.3h0m10.9-3.7h0m10 4h0m9.8-3.4h0m5.8 2h0m1.1-3.7h0m.3 1.8h0m1.3 .5h0m.1-.7h0m1.3 2h0m5.8-.2h0m6.3-1.6h0m.1 2.4h0m10.7-2h0m2.6-.2h0m5.7-2.2h0m13.2-.4h0m5.9 4h0m4.7-2.5h0m0 1.8h0m6.2-1.2h0m0 .9h0m1.1 2.1h0m2.8-.2h0m.1-3.9h0m-6.1 9h0m-1.9-2.4h0m-.6 2.8h0m-1.9 .6h0m-2.7-.1h0m-8.4-3.1h0m-.4-1.3h0m-2.2 2.2h0m-5.2 3h0m-1.2-5.8h0m-19.6 4.4h0m-.3-3.8h0m-2.4 3.9h0m-4.3-.2h0m-4.9 1.3h0m-5.5-.8h0m-1.8-.1h0m-10.5-3.3h0m-.2 3.5h0m-.7-2.2h0m-1.3 .1h0m-.2 3h0m-.2-3h0m-.5 .6h0m-1.8-2.7h0m-3.2 3.8h0m-4.3-.4h0m-4-2.4h0m-11.4 3.2h0m-14.4-4.7h0m-.7 4.3h0m-2.6-.1h0m-.5-1.7h0m-.3-1h0m-.6-1.7h0m-211.8 4.6h0m-1.6-2.1h0m-1.5-2.2h0m-7.4 2.6h0m-.2-1.1h0m-10.3-.4h0m-7.2 .3h0m.9 6.9h0m8.6-2.1h0m18.8-.1h0m222.1 .2h0m2.3 4.6h0m.8-2.2h0m5.1 2.5h0m7.1-3.6h0m1.6 3.4h0m.7-2.2h0m2.2 2.3h0m.1-1.1h0m.8 .9h0m5.8 .3h0m2.8 .4h0m0-4.6h0m1 3.1h0m.4-2.1h0m11.9 2.9h0m2.1-.3h0m5.8-4.9h0m13.7 5.1h0m1-4.8h0m2.1 .8h0m2.3 3.8h0m5.8-.5h0m3.7-3.6h0m4 3.9h0m12.3-.4h0m11.1-3.9h0m0-.2h0m-4.9 6.2h0m-10 2.1h0m-4.6 2h0m-1.7-3.6h0m-4.3-.3h0m-10.2 1.3h0m-1.2 2.7h0m-4.6-2.6h0m-10.1-.8h0m-9.1 3.7h0m-2-.3h0m-2.9-1.9h0m-.4 2.7h0m-1.5-1.9h0m-6.7-2.8h0m-6.4 .2h0m-1-.8h0m-14.8 .3h0m-3.7 5h0m-9.9 .3h0m-6.6-2.8h0m-214.7 .7h0m-.5-.6h0m-14.3-.2h0m-.6 2.9h0m-1.4-4.2h0m-3.9 4h0m-3.6-4.6h0m-3.4 4.5h0m1.8 5h0m.3-.6h0m6.6-2.9h0m16.6 .6h0m.8 .3h0m.5-1.7h0m217.5 4.7h0m1.6-.5h0m11.4 1.3h0m11-.6h0m5-3.7h0m4.9 1h0m.4 1.8h0m13.3-.1h0m1.6-1.8h0m10.4 .5h0m4.9-1.8h0m.8 .5h0m.2 3.9h0m7.8 .4h0m1-4.3h0m2 1.8h0m2.6 .9h0m1.1-2.4h0m4 3.9h0m3.5-4h0m2.9 3.9h0m.4-1.2h0m2.2-1.3h0m2.7-.8h0m1.4 2.2h0m3.4-2.5h0m.5 0h0m.6 1.5h0m.4-.5h0m1.3-1.2h0m0 0h0m-12.6 6.4h0m-4.8 3.6h0m-1.2-3.9h0m-2.2 1.1h0m-10.8-2.6h0m-1.2-.3h0m-1.6 4.1h0m-.3 1.2h0m-.4-4.5h0m-.3 2.7h0m-4 2.2h0m-12.5-.4h0m-.2 0h0m-1.1 .6h0m-4.1-3.6h0m-2.8-2.3h0m-3.3 4.2h0m-2.2 .9h0m-7.5 .7h0m-9-1h0m-.4-4.7h0m-10.7 3.4h0m-.2-.6h0m0-.4h0m-1.3 1.2h0m-7.9 .8h0m-1.8-.6h0m-1-3h0m-213.2 .1h0m-23.2 2.8h0m-.1 .2h0m-4.7 1.1h0m-1.1-3.7h0m-.4 .6h0m-.6 2.3h0m-.3-1.5h0m.4 8.2h0m1.1-.2h0m23.1-4.7h0m1.8 4.3h0m1.2-2.9h0m214.1-.6h0m2.6 3.8h0m.6-2.1h0m4 2.9h0m1-4.1h0m.9 .6h0m.9 1h0m.5 1.6h0m9.5-2.1h0m.3-2h0m17.1 4.5h0m3.3 .3h0m.7-4.8h0m2.5 1.8h0m1.7 3.3h0m3.5-2.5h0m.9-1.8h0m5.2 4h0m1.2-.1h0m3.2-1.9h0m32.2-3.1h0m1.8 4.7h0m.5-1.1h0m.1 1.6h0m2.4-4.5h0m.4 3.3h0m-5 2.7h0m-.6 .7h0m-4.5-1.2h0m-8.4 4.9h0m-9.4-1.1h0m-1.7-1.2h0m-1.3 .3h0m-11.2-.3h0m-4.8-1.2h0m-1.4 3.3h0m-1.5-1.8h0m-2.8-1.7h0m-2.6-.4h0m-4.3 .7h0m-.2 1.8h0m-1.2-.8h0m-.6-2.8h0m-3.2 3.2h0m-3.9 2.4h0m-3-1.8h0m-4.2 .2h0m-.8-1.9h0m-.8 .2h0m-12.9 2.7h0m-4-4.4h0m-.1 2.6h0m-.8 1h0m0 0h0m-213.8 .6h0m-12.5 .7h0m-15.3-3.9h0m-4 5.2h0m10.2 1.1h0m.7 2.7h0m2.7-.2h0m11.4-3.3h0m1.6 3.9h0m220.4-4.3h0m.5 2h0m.3 1.1h0m4.1-1.1h0m2.6-.2h0m.5 .7h0m.6-2.7h0m1.4 3h0m1.9-.9h0m6.8 3.2h0m1.5-4.2h0m3.6 .2h0m1 2.2h0m15.4-1.3h0m3.4-2.5h0m3.7 2.6h0m2.4-2.6h0m4.2 5.3h0m5-3.7h0m3.4 .4h0m1.3 1.5h0m6.4 1.1h0m2.7-3h0m.8 4h0m.5-4.2h0m8.3 3.7h0m.7 .8h0m-4.5 2h0m-6 1.4h0m-.6-1.2h0m-19-1.2h0m-3.8 2h0m-3.9 1.3h0m-1.8-4.3h0m-1.6 2.9h0m-5.2-2h0m-.7 .3h0m-7.1 3.9h0m-.3-4.8h0m-6.4-.4h0m-2.2 3.6h0m-.8 1.5h0m-4.6-3.9h0m-2.3 .7h0m-11.6 2.3h0m-1.7-4.2h0m-211.6 5h0m-6.3-3.9h0m-2.5-1h0m-2.9 1.7h0m-3.3-1h0m-8.5 1.7h0m-11.1-1.6h0m-2.9 .9h0m-.6-1.5h0m-1.3 11.4h0m.2-2.7h0m.6-2.6h0m.1 2.7h0m2 1.2h0m.3 .7h0m6.8-2.2h0m31-1.8h0m1.1 2h0m1 2.6h0m207.4-4h0m3.1 .6h0m.3 3.5h0m1.6-4.3h0m1.6 1.5h0m1.9 2.2h0m.5-2.7h0m4.3-2.3h0m.7 1.3h0m.8 .7h0m16.8 3.1h0m4.4-.2h0m2.1 .3h0m9.3-5.1h0m5.7 3.9h0m.7 0h0m.3-.3h0m.1 2h0m1.5-.1h0m2.1-3.8h0m.8 3.1h0m.5-5.1h0m2.5 .3h0m8.7 .8h0m4.1 .4h0m.2 1.2h0m2.1-.5h0m-4.5 4h0m-1 .2h0m-.2 2.5h0m-3.9 2h0m-2-3.8h0m-2 2.7h0m-.1 .4h0m-6.6 1.2h0m-1.5-1.8h0m-1.4 2.2h0m-8.4-4.5h0m-1.9-.6h0m-.4 2.3h0m-5.8 .5h0m-.5 2.1h0m-.9-2.9h0m-2.5 .9h0m-3.1-.7h0m-2.3 2.6h0m-5.9-1.9h0m-12.8 2.3h0m-.6-2.4h0m-4.8-3.2h0m-2.2 1.9h0m-103.2 1.5h0m-3-.6h0m-101.2-.3h0m-1.4-1.7h0m-2 .6h0m-8 1.5h0m-2.9-2.1h0m-2.6 1.1h0m-7.1 1.5h0m-5.8 1.4h0m-3.6-3h0m-6.9 2.2h0m-1.9-1.7h0m-4.9 .7h0m-.7 5.3h0m1.8 1.5h0m1.9-3h0m3.6 4.7h0m1.2-4.1h0m2.5 0h0m21.1-1.7h0m6.2 1.4h0m8.5-1.3h0m.6 4.7h0m.6-3.1h0m96.8 3.9h0m.1-5.5h0m1.2 5.6h0m.3 .1h0m.7-3.5h0m.5 1.3h0m1.3-.5h0m.2 .8h0m.8 1.9h0m1.7-4.4h0m5.3 4h0m98.3-2.7h0m1.6-.4h0m.6-2.3h0m3.3 4.1h0m5.6-2.9h0m8 2.6h0m.6-1.8h0m2 1.6h0m1.6-.6h0m11.6 2.8h0m.4-4h0m4.7-1.4h0m.1 4.7h0m2.8-3.9h0m2.5 3h0m.2-4.2h0m1.8 1.1h0m3.9 4h0m2.6-2.4h0m7.2 2.5h0m1.3-4.3h0m.2-.7h0m1.9 4.6h0m1.6-.9h0m-1.1 7.7h0m-.6-3.6h0m-.9 .7h0m-2.4 1.8h0m-2-1.1h0m-.3-2.1h0m-8.2-.6h0m-2.3 3.6h0m-1.8-3.4h0m-3.2 2.2h0m-2.4-1h0m-5.4 1.9h0m-4.9-1.2h0m-.6 .3h0m-8.8-.7h0m-.4-.3h0m-1.2 2.5h0m0-1.6h0m-5.1-2.4h0m-.5 4.3h0m-1.8-2.8h0m-6.5 .2h0m-3 3.4h0m-1.2-.1h0m-100.3-2.2h0m-3 2.2h0m-1.9-1.2h0m-.2 0h0m-.7-4h0m-1.7 5.4h0m-.5-4.1h0m-.4-.2h0m-1.5-.8h0m-.3 3.3h0m-.9 1.9h0m-.4-3.9h0m-.6 3.1h0m-.5-2.4h0m-.6 2.3h0m-98-2.1h0m-1.6-2h0m-3 .5h0m-16.3 1.1h0m-5.5 .8h0m-12.4 .7h0m-8.2 1.5h0m.1 2.1h0m19.6-.4h0m9.3-1h0m4.7 2.1h0m8.4 1.4h0m7.7-1.9h0m1.9 .3h0m.2 2.3h0m89.5-.8h0m0 2.2h0m.6-3.8h0m.3 3.2h0m.1 .2h0m.7-.9h0m.2-2.7h0m.7 1.2h0m2-2.6h0m.3 1.1h0m.9 1.1h0m3.3 3.2h0m0-2.1h0m.2 .7h0m.2 1.1h0m.9-2.8h0m.6-1.6h0m.6 2.1h0m.3-3.2h0m107.4 2.7h0m17.7 3.1h0m1.4-.2h0m3.8-2.1h0m4.9-2.2h0m1.6 4.6h0m.1-5.9h0m4.7 3.2h0m3 .7h0m2.5-3.9h0m.7 2.5h0m4.6 .5h0m5.9 1.9h0m.3-4.8h0m3.4 5.5h0m1.9-3.7h0m1.6 1.8h0m.4-.1h0m2-3.2h0m.2 2.9h0m.6-1.1h0m.5 1.6h0m1 1.6h0m1.4-2.8h0m-2.3 4h0m-2.3 2.2h0m-.1 .4h0m-7.1 2.5h0m-.1-.6h0m-4.4-2.2h0m-.2-2.9h0m-1.9 .5h0m-.9 3.7h0m-.1-1.5h0m-2.2-.5h0m-1 1.6h0m-1.8 1.9h0m-1.4-5.3h0m-1.7 .5h0m-10.9-.8h0m-5.8 1.8h0m-10.2-1h0m-.7 3.3h0m-.6 1h0m-1.6 .6h0m-115.7-5.6h0m-1.6 2.9h0m-.4-1.4h0m-.1 .4h0m-2.3-2h0m-.5 5.4h0m-1-5h0m-.5 4.4h0m-.6-3.1h0m-1 3.6h0m-91.6-3.6h0m-3.3 3.2h0m-20.7-.5h0m-24.1 .2h0m-3.6-1.5h0m-3.1 1.4h0m11.9 3.1h0m4.8 1.6h0m1.6-.7h0m1.4-2.6h0m20.5 1.1h0m106.1-.1h0m1.3-.9h0m2.9 1.4h0m.5 .4h0m114.9 2.6h0m.1 1h0m.7-1.5h0m4.4-.2h0m8.8-1.3h0m.8 3.2h0m.4-.5h0m1.8-2.4h0m1.6-1.8h0m1.2 3.4h0m1.6-2.9h0m.4 4.1h0m3.2-.7h0m1.8-1h0m0-2.9h0m.6 1.4h0m.8 2.6h0m14.8-4.4h0m0 2.7h0m3.6-2h0m.7-.1h0m7.4 1.4h0m1.2 1.3h0m1.5-2.9h0m.3 2.3h0m.1 1.6h0m0-3.3h0m.6 3.9h0m0-.2h0m6.8 6h0m-2.7-3.4h0m-1.2 1.8h0m-2.1-3.2h0m-3.4 .7h0m-4.6 1.9h0m-16.4-1.9h0m-16.4 4.3h0m-1.6-1.7h0m-3.1-2.7h0m-6.4 3.2h0m-.9 .6h0m-1.3-1h0m-2.3 .5h0m-.1-.1h0m-120-2h0m-.4-1h0m-4.1 4.2h0m-.1-3.4h0m-99.7 .1h0m-.5 1.3h0m-1 .9h0m-1.2 .6h0m-3.4 .5h0m-2.8-1.4h0m-5.2-2.8h0m-4.3 .4h0m-3.1 2.7h0m-3-4.1h0m-4.2 1.9h0m-7.4 1.6h0m-.4 1.5h0m-2.5-2.7h0m-4.6-1.8h0m1.7 6h0m4.4 2.8h0m5.8 .3h0m6.1 .2h0m.1 .2h0m.1-.6h0m.2-1.1h0m0 1h0m2 .1h0m2.2 1.7h0m1.5-.4h0m1.7-1.1h0m2.4-.1h0m3-1.9h0m2.3-.5h0m2.2 .9h0m104.7 1h0m1 .6h0m125.5-3.4h0m1.5 3.3h0m1 .8h0m1.4-.8h0m9.9-1.6h0m.7-1.4h0m.5 4.3h0m1 .2h0m2-1.2h0m1.5-1h0m5.1-1.8h0m4.1 2.6h0m.7-1.1h0m5.3 2.5h0m2.2-2.4h0m1.4-1.8h0m4-.7h0m9.5 4.9h0m10.4 .1h0m.8-4.6h0m1.6 3.2h0m4.2 7h0m-.1 .8h0m-.1-3.5h0m-1.1 1.6h0m-1.4-2.2h0m-2.3 .8h0m-.5-.1h0m-1.5-.9h0m-5.8 .1h0m-2.8 3.1h0m-2.7-3.1h0m-4.2 2.5h0m-8.2 .5h0m-2.1-1.1h0m-.7-2.6h0m-3.2 4.4h0m-8.2 .2h0m-.4-3.1h0m-8.9 2.8h0m-1.8-3.8h0m-3.2 2.9h0m-1.8 1.1h0m-133-3.7h0m-1.9 1.2h0m-2-.7h0m-1.6 3.8h0m133.6 .7h0m6.5 1.2h0m.8 3.7h0m.4-.8h0m0-2.6h0m2 1.8h0m1.5 1.9h0m1.5 0h0m1.6-1.2h0m4.1-3.1h0m15.9 .2h0m3.3-1.1h0m3.7 1.8h0m7.7-2.4h0m2.9 4.5h0m.2 0h0m.6-2.7h0m3.1-1.8h0m4.8 5.8h0m.9-4.1h0m.5-.9h0m5.5-.6h0m2.6 5.9h0m-.1 5h0m-7.5 .7h0m-6.9-.2h0m-3.3-2.4h0m-3.3 1.8h0m-1.2-.5h0m-13-.4h0m-11.1 1.3h0m-2.7-1.1h0m-.5 .6h0m-1.3 .2h0m-.4-3.9h0m-.2 1.6h0m-1-.3h0m-158.4 0h0m-2.6 1.8h0m-1.7 4.3h0m1.4-2.2h0m6.9 4.5h0m1.9-1.4h0m13 .9h0m145.7-3.4h0m2-.8h0m.2 2.6h0m2.4-2.1h0m1-.1h0m1.9 1.8h0m10.3 2.2h0m5.3 0h0m6.1-.1h0m4.1-.9h0m7.6 .8h0m5.4-.8h0m1.8-2.3h0m.2 1.8h0m2.7 2.4h0m6.1 3.1h0m-4-.9h0m-6.1-1.7h0m-4.3 3.7h0m-.2-2.1h0m-.9-.3h0m-2.1 0h0m-1.8 2.5h0m-3.6 .8h0m-5.2-3.2h0m0 1.9h0m-3.4 .4h0m-4.6 .1h0m-4.3 0h0m-170.1-3.7h0m-2.7 5.2h0m-4.2 .1h0m-2.3-5.3h0m-.2 2.3h0m-.1 2.3h0m-.6-2.3h0m-1.6 2.2h0m-2.8-2.6h0m-2.8-1.4h0m-1.1 5.6h0m3.3 1.5h0m.2 1.4h0m2.3 1.1h0m5.4-1.5h0m1.3 2.8h0m7.4-3.9h0m22.8-.7h0m157.1 3.6h0m3.5 1.1h0m.8-4.7h0m4.5 .5h0m5.1-.2h0m1.6 3.1h0m8.7-2.8h0m4.9 1.8h0m.3-2h0m3.7 3.3h0m.2-3h0m.1-1.4h0m2 2.3h0m.9 1.9h0m.9-2.3h0m5.1 9.3h0m-1.2-1.6h0m-.7 1.2h0m-1.4-1.2h0m-.5-1.4h0m-4.7-2.2h0m-10.1 5.3h0m-.6-5.2h0m-4.6 .7h0m-4.4 1h0m-2.2-1.2h0m-9.1-.6h0m-158.8 5h0m-31.3-5.3h0m197.3 11.2h0m5.4-.4h0m3.3-4.6h0m.4 4.3h0m.6-1.6h0m7-.9h0m2.8 3.8h0m4.8-5.5h0m2-.1h0m6.8 9.5h0m-1 2h0m-.1-3.4h0m-.3 1h0m-4.4-.4h0m-.3 .7h0m-1.4 .2h0m-.8-1.4h0m-5.1-1.3h0m-3.3 4.3h0m-1.1-1.7h0m-.6-3.3h0m-3.1 2h0m-6.5-.9h0m-1 4.3h0m-153-1.1h0m-8.2 6.2h0m.7-3.5h0m2.5 .2h0m2.2-1.2h0m3.5 4.8h0m156.1-.9h0m2.5-.9h0m4.9 .1h0m1.4-.6h0m5-1.5h0m9.6 3h0m-1.7 4h0m-1.7 1.7h0m-8.2 1.1h0m-3.1-3h0m-167.2-.9h0m-2.7-.3h0m56.8 8.9h0m.5-1.7h0m4.8 1.7h0m1.1 1.6h0m16.5-1.2h0m94-.4h0m1.6 1.1h0m2.5-1.8h0m2 .2h0m.4-1.7h0m.2 2.2h0m2.4 4.7h0m-2.4 .8h0m-3.4-2.4h0m-102.9 .8h0m-1.8 3.5h0m-4.9-.7h0m-4.2-1h0m-.7-1.4h0m-.7 3.1h0m-3.7-1.6h0m-2.3-1.9h0m-1.5 6h0m0 2.5h0m1.8-3.2h0m0 4.6h0m.7-2.5h0m6.5-.2h0m6.9 1.3h0m1.4 1h0m1.1-1h0m4.9-3.6h0m-6.3 6h0m-1.1 1.1h0m-1.4-1.1h0m-1 1.1h0m-1.1-.4h0m0 1.5h0m-2.8-.8h0m-1.4 1.1h0m-1.1 1.8h0m-1.1-5h0m-.7 3.9h0m-1-1.4h0m-.4 2.5h0m-.3-4.3h0m-3.6-.7h0m-56.6 27h0m-1.4 1h0m-.8 .9h0m-36.3 4.4h0m2.5-.2h0m24.3 2.2h0m.8 .1h0m.4-.7h0m1-.5h0m3.4-3h0m1.4-1h0m.4 .5h0m-7.3 5.9h0m-2.9 1.5h0m-6.6 2.7h0m-17.3-2.9h0m-.8-.3h0m-1.1 3.4h0m.4 2.2h0m10.5 1.4h0m.9 1h0m0 1.9h0m.1-.8h0m.1-.4h0m2.9-3.8h0m.7-.1h0m2.9 2.1h0m1.2 .4h0m1.3 .9h0m2.2-2h0m.7 .4h0m-4.1 8.2h0m-.5-2.5h0m-.5 2.1h0m-2.2 .7h0m-1.4 .6h0m-1.3-3h0m-2.1-2h0m-1.2 3.4h0m-8.7 6.2h0m10.8-2.8h0m1.8 2.2h0m.9-.4h0m1.2 2.4h0m1-2.4h0m1.6-.8h0m.3-1.2h0m-1.1 9.4h0m-3.5-2h0m-3 2.4h0m-5.8-3.1h0m-1.6 3.7h0m-3.4 .3h0m-.7-2.2h0m-.9 .8h0m-.6 1.5h0m-.9 4.8h0m4.7-.3h0m5.8 1.5h0m4.1-1.9h0m1.1 1.9h0m.5-3.8h0m1.3 3.7h0m.3-2.9h0m.1 1.6h0m.5-3.7h0m.8 1.8h0m6.3 3.2h0m0 5.4h0m-9.5-4.4h0m-.8 2.4h0m-.3 .1h0m-.1-2.9h0m-2.1 5.2h0m-3.2-3.7h0m-6.6-1.5h0m-7 1.2h0m-8.6 10.3h0m19-3.8h0m.7 3.2h0m2.8 .5h0m.2-3.8h0m1.2-.8h0m1.3-.7h0m58.3 5.3h0m11.8 5.3h0m-1.1-1.2h0m-5.6-3h0m-.3 4.3h0m-.9-3.7h0m-3.6-.9h0m-.7 4.2h0m-4.5-2.2h0m-3.3 3.2h0m-49.1-3.2h0m-5.1 3.5h0m-.5-2.5h0m-1.4-1.3h0m-1 2.2h0m-4.6-3.5h0m-1.2 1.3h0m-7.5 2.6h0m-8.4 3.1h0m2.3 2.8h0m.2-4.6h0m.6 2.3h0m5.1-2.3h0m7.7 4h0m2.4-2.5h0m1.1 1.3h0m.9 3h0m1.1-2.5h0m.5 1.9h0m8.6-.6h0m2.8 .4h0m3.1-4.6h0m39.8 3.7h0m.4-.7h0m1.2-2.6h0m7.5 .5h0m11.3-.3h0m2.2 3.1h0m1.1 .8h0m-.5 3.5h0m-3.4-1h0m-3.9 .2h0m-4.1 1h0m-1-.8h0m-2.1 3.5h0m-1.4-3.4h0m-2.8 1.7h0m-4.2 2.3h0m-.9-5.2h0m-.1 2.6h0m-8.3-2.2h0m-14.8 1.7h0m-2.6 2.3h0m-2.5-2.1h0m-3.7-1.7h0m-1.5 .5h0m-6.3 3.7h0m-4.5-5.5h0m-7.7 2.5h0m-2.3-.1h0m-1.2 .6h0m-2.4 1.3h0m-2.5-3.7h0m-10.5 1.3h0m-2.6 3.1h0m-2.1-1.2h0m-.7-.3h0m-2.5 .1h0m6.5 7.5h0m3.7-2.5h0m.2-.6h0m2.9 2.3h0m.8-1.9h0m2.3 2.7h0m3-2.2h0m.2-2.3h0m.6-.6h0m2.1 4h0m6.4-1.2h0m1.4 .8h0m0-1.5h0m2.5 .2h0m.5 2.8h0m0-4h0m1.4-.7h0m.4 0h0m3.1 2.5h0m1 0h0m5.5 .1h0m4.5-.3h0m3.3 2.6h0m1.1-.4h0m3.8-3.3h0m.5-1.3h0m.8 4.5h0m4.4-3.7h0m1.5 .7h0m.7 .3h0m.7 1h0m2.8 2.7h0m1.2-.4h0m1.4 0h0m2.9-.3h0m1.3 .8h0m1.4-.6h0m1.4-1.6h0m1.7-.1h0m.9-2.2h0m.9 2.9h0m5.9 .5h0m1-.2h0m1.4-1.4h0m1.4-2h0m1.9 1.9h0m.7 2.7h0m2.5-1.2h0m4.7-.1h0m4.1 1.3h0m4 6h0m-2-3.3h0m-10.1 1.3h0m-11.9-1h0m-1 2.2h0m-2.4 .6h0m-1.3 .3h0m-.2-1.4h0m-1.6-.7h0m-.5 .6h0m-.8 1.1h0m-3.2-1.7h0m-3.9-3.7h0m-.5 1.5h0m-.3 1.2h0m-.3 1.1h0m-.2 1.8h0m-1-5.1h0m-.5 5h0m-1.4-3.4h0m-2.3-.4h0m-.2 .4h0m-5.4 2.3h0m-1-1.4h0m-3.6-2.6h0m-.8 1.5h0m-2.2-.3h0m-2-1.3h0m-3.2 1.8h0m-33.7-1.7h0m0-.5h0m-1.3 2.2h0m-.3-2h0m-1.8 2.5h0m-2.1-1.3h0m-.2 2.1h0m-5.8-2.7h0m57.7 6.2h0m1 1.3h0m4-.7h0m9.9 1.9h0m3.7 1.5h0m.3 .7h0m.4-1.4h0m.2 1.6h0m6.5-3h0m.1-2.8h0m.2 .6h0m.3 2h0m1.9 5.8h0m-.2-1.8h0m-5.7-.5h0m-.7 2.9h0m-6.1-.6h0m-8 3.4h0m-3.3-3.3h0m-4.2 2.6h0m4.7 6.7h0m3.3-4.1h0m2.6-1.4h0m8-.4h0m-.1 8.1h0m-3.5-1.5h0m-5.5-.1h0m-2.8 8h0m.3-1.9h0m1.2 .1h0m1.8 5.3h0m-1.6 3.6h0m-.4 1.7h0m-.7-4h0m-1.2 7.4h0m.7 2.4h0m1.9-.4h0m91.1 4.2h0m-5.2 1.2h0m-4.2 1.1h0m-1.6 .1h0m-2.7-1.9h0m-77.7-.1h0m-.3 .9h0m-.1 .7h0m-1.8-3.2h0m-.4 .5h0m-.1-.5h0m-.5 3h0m-1.7 4.4h0m2.7-2h0m.7 1h0m.3-2h0m.6 1.4h0m78.6 3.9h0m6.4-5.2h0m3.1 9.6h0m-1.3-1h0m-1.5 1.4h0m-.2-2.9h0m-3.1 .6h0m-2-.5h0m-1.2-.6h0m0 3.9h0m-80.9-3.6h0m-2.6 2.8h0m-1.4-.3h0m90.5 3.9h0" stroke="#C77CFF" stroke-width="3.1" stroke-linecap="round" fill="none"/>
<path d="M241.6 88.3h0m-2.1 28.9h0m-18.3 6.9h0m13.2 5.6h0m-20.7 7.1h0m-9.6 12.9h0m194.6 55.1h0m13.3 22.6h0m12.7 8h0m-4.8 1.9h0m7.2 8.9h0m11.2 18.6h0m-14.2 8.8h0m-18.8-3.2h0m-8.6 21.2h0m42.7-2h0m63.5 18.5h0m-76.5 3.3h0m-6.6-4.2h0m-8.8 14.9h0m-16.8 9.2h0m29.7 11.8h0m-12.8 1.3h0m-242 .4h0m259.4 3.4h0m41.2 3.4h0m17.1 6.6h0m-64.8 5.5h0m-28.7 17.8h0m65.7 4h0m-57.1 5.1h0m-4.9 16h0m54.6 5.3h0m-61.9 17.7h0m26.1 7.9h0m30.1 .2h0m-30.5 14.3h0m-263.5 5.1h0m108.1 10.4h0m-1.4 6.2h0m170.9 3.7h0m-178.3 2.3h0m183.9 3.9h0m31.1 .8h0m-22.8 6.9h0m-168-4.1h0m-3-1.2h0m168.5 6.6h0m-170.2 100.8h0m1.8 .1h0m-13.7 13.5h0m10.2 12h0m-.3 3.1h0m-20.8 .6h0m6 6.9h0m70.2 4h0m-82.2 6.3h0m78-1.4h0m7 .9h0m-33.1 8h0m-.5 .1h0m-3.3-.8h0m-3.2-3.1h0m0 3.3h0m-1.7-2.5h0m-.9 1.5h0m-10.3-3.6h0m-3.2 3.2h0m-.1-1h0m-.8-1h0m-8.8 .7h0m-1.6 3.3h0m-.3-3.3h0m-2.3 2.3h0m-2.4 3.5h0m1.3 .7h0m4.2-1.3h0m1.1-.9h0m3.3 3.8h0m19.8 1.1h0m1.8-3.3h0m10.7-.8h0m2.8 .1h0m1.9 2h0m.8 2.1h0m10.1-4h0m.8 4.9h0m-9 3.7h0m-.3-1.3h0m-1.4 2.3h0m-.2-4.2h0m-9.2 1.6h0m-1 2.7h0m-2.4-2.1h0m5.2 5.9h0m7.1 1.2h0m2.7-3.2h0m21.3-.6h0m-16.6 6.6h0m-13.9-.2h0m15.8 6.2h0m-11 10.9h0m2.5 20.7h0" stroke="#F8766D" stroke-width="3.1" stroke-linecap="round" fill="none"/>
<path d="M226.3 71.1h0m-4.7 3.4h0m.4 2.6h0m1.7-.6h0m.2-1.8h0m16-2.3h0m.7 2.2h0m.3 .9h0m2.6-.2h0m4 2h0m1.5 1.8h0m-.9 3h0m-5.9 1.6h0m-1.2 .1h0m-.4-5h0m-3.5 4.1h0m-1.2-3.6h0m-3.6 2.4h0m-.9-1.3h0m-2.6 .8h0m-6.3-1h0m-5.6 .6h0m-1 3.1h0m-3 2.7h0m.1 1.4h0m.2-1.7h0m.5 2.8h0m.7-1.8h0m0-2.6h0m.3 2.9h0m.3 .8h0m.4 .8h0m1.8-2.7h0m9-1.9h0m3.1 .9h0m2.2 .8h0m6.3 3.4h0m2.5-3.6h0m8.2 1.4h0m1-3h0m.7 1.4h0m.4 1.9h0m1-.3h0m.5-1.6h0m0 5.6h0m-.5-.6h0m-5.6-.5h0m-5.2 .3h0m-9.1 2.8h0m-3.1-3.3h0m-9.9 .8h0m-3 1.3h0m-1.5 .9h0m-3-3.2h0m-3 4.4h0m-.7 .6h0m-6.8 6.6h0m2.4 .3h0m1-1.2h0m3.1-.4h0m1.4-3.9h0m8.5 .5h0m2.3 4.2h0m3.2-2.9h0m1.2 1.6h0m0-2.1h0m1.9-.6h0m3.6 3.2h0m8.2-.9h0m.3-2.3h0m1.7 .9h0m1.6 2.6h0m2.1-1.9h0m.9 1.9h0m1 .3h0m.7-3.5h0m5.4-.7h0m.8 1.8h0m-9.1 4h0m-2.4 3.3h0m-6-1.5h0m-1.1-1.4h0m-.3-.3h0m-3.1 2h0m-1.5 .9h0m-1.3-1.3h0m-.4 3.1h0m-.3-3.1h0m-5.6 .2h0m-4 .1h0m-3.6 2.2h0m-.3-4.1h0m-2.7 4.8h0m-.3-5.2h0m-1.6 2.8h0m0 1.7h0m-2.3-4.4h0m-1.2 2.8h0m-3.5 1.4h0m-.3-.5h0m-.5-3.4h0m-2.9 1.7h0m-1.6 2h0m-2.8 6.8h0m.2 .1h0m0 .1h0m.1-1.7h0m0-1.8h0m1.1 3.1h0m1 0h0m1.9-4.9h0m2.2 3h0m11.8 1.9h0m.5-2h0m4.4 1.4h0m2.6-1.9h0m5.7 2.8h0m6.6-4.9h0m3.8 1.6h0m1.9-1.1h0m2.4-.5h0m.4 2.6h0m.1-1.6h0m3.6 3.4h0m1.7-2.1h0m2 .7h0m1.4-2.2h0m-3.4 6.9h0m-1-1.2h0m-.5 1.4h0m-.2 .2h0m-1.5 2.6h0m-2-1h0m-.5-2h0m-8 1h0m-1.3-1.7h0m-3.4 2.4h0m-1.5-2h0m-3.1-.3h0m-1.7 4.1h0m-1.8-2.5h0m-.7 .1h0m-15.4-.5h0m-4.4 .2h0m-6.1-2h0m-1.1-.3h0m-.5 4.1h0m-1.2-.8h0m0 1.9h0m-4.6 3.3h0m4.4 0h0m25.7-1.8h0m1.1-.9h0m1.5 3h0m3.6 .8h0m1-2.1h0m2.1 .5h0m1.5 1.6h0m2.4-1.5h0m.3 1h0m3.1 .8h0m2.4-2.8h0m1.4 .1h0m4.1 .8h0m2.1 2h0m-3.9 2.4h0m-.8 1.8h0m-2.1-.9h0m-.8 1.5h0m-7.7-.9h0m-1.9-.9h0m-3.4 .4h0m-1.6-1.4h0m-1.6 2.8h0m-1.8 1.7h0m-3-.2h0m-16.4-2.8h0m-6.2 2.2h0m-7.1-4.1h0m-1.2 .8h0m-1 6.4h0m2 3.7h0m2.2-4.6h0m3.7 1.4h0m.8 3.4h0m.2-2.6h0m21.3 2.4h0m3.4 .8h0m1.7-5.4h0m0 4.7h0m7.7-1.4h0m4.9-2.7h0m1.9 4.3h0m.3-.3h0m1.1-4.9h0m.1 3.2h0m-2.5 8.2h0m-.8-1.8h0m0-1.6h0m-11.8 1.8h0m-.8 .5h0m-1.2-4h0m-7.2 1.8h0m-2.8 .8h0m-7-2.4h0m-.1 .7h0m-3.4 .9h0m-5.2 2.3h0m-5.1-4.5h0m-2.4 1.2h0m-.7-.7h0m-.6 .6h0m-.2 1.4h0m-.8-.5h0m-1.3 3.4h0m0 4.2h0m.2 1.9h0m0-.8h0m1.8-3.3h0m.4 2.8h0m.5 1.2h0m23.6-4.2h0m12.4 .6h0m13.4-1.6h0m-21.9 5.8h0m-18.9 .2h0m-9.3 3.5h0m-.1-2.1h0m-1.4 6.4h0m3.3 2.2h0m218.4-.5h0m2.1 7.6h0m-20.8 .2h0m-198.2-4.4h0m-1.1 2.3h0m3.1 6.3h0m1.2-.4h0m4.4 .1h0m.9 2.5h0m14.9-.1h0m46.6-3.2h0m-6.7 7.3h0m-51.9-.9h0m-.5-.8h0m-3.9-.7h0m-2.7-.5h0m-1.1 4.4h0m1.6 1.9h0m.3-1.2h0m3.7 4.2h0m1.9 .3h0m.7 .2h0m2.7 .5h0m1.6-3.6h0m182.2 1.9h0m25.6-2.1h0m-189.5 5.7h0m-2.6 1.4h0m-2.9 2.2h0m-14.4-2.5h0m-1.6-.5h0m15.6 8.6h0m2.8-1.6h0m2.6-2.1h0m159.3 2.4h0m33.3 1.7h0m2.5 3.3h0m-.1 2.9h0m-.7-2.7h0m-1.8-1.3h0m-12.6 4.8h0m-185.5-5.1h0m-3.9-.6h0m193 8.3h0m1.5-.1h0m1.8-1.5h0m2.5 2.2h0m2.4-1.4h0m6.1 5.9h0m-.4-.4h0m-1.9-.6h0m-24.3 6.4h0m11.3 1.1h0m2.4 1.6h0m1.9-.3h0m6.3 1.6h0m1.3-1.4h0m2.4-3h0m2.5 .5h0m.6 4.7h0m.3-2.2h0m1.8 1.9h0m-1.4 .9h0m-3.2-.2h0m-3.1 1.9h0m-8.7-1.3h0m-1.6 1h0m-17 6.5h0m26.8 2h0m2.8-1.5h0m1.4-.5h0m.9 1.1h0m4.6 1.2h0m1-2.9h0m1.3 4.2h0m3.1 5.5h0m-4.1-1.2h0m-4.1-1.1h0m-4.6 .2h0m-7.1-2.8h0m-1.6 2.3h0m-8.4-1.6h0m-6.1-.9h0m-5.7 .1h0m1.2 10h0m8.6-4.1h0m.9 .6h0m2.8 4.6h0m1.6-2.3h0m9.5 .9h0m5.5 .2h0m1.4-1.2h0m8.8 1.6h0m1.2-1.1h0m2.9-.5h0m.5 1.5h0m.3-4.3h0m3.7 11h0m-1.5-5.1h0m0 3.6h0m-1.2-.8h0m-4-1.4h0m-2 .9h0m-3.2 2.8h0m-.1-2.6h0m-4.7 .7h0m-6.7-2.8h0m-13.7 .3h0m-1.7-.1h0m-14.7 3h0m7 7.5h0m32.4-1.8h0m3.3 .8h0m5.6 1h0m1.1-4.4h0m.1-.7h0m3 1.8h0m1.2 .4h0m3.9-.2h0m2.6 1.2h0m1.5 1.9h0m3.3-2h0m2.9 6h0m-4 1.7h0m-6.9-2h0m-4.2 .2h0m-1.3 2h0m-4.2-2.8h0m-3.2-.1h0m-6.1 .2h0m-4.9 2.4h0m-14-.5h0m-1.6-.6h0m-7.6-3.7h0m6.7 11.6h0m5.6-5h0m6.1 1.9h0m8 .6h0m.5-1h0m8.1-.9h0m.4 2.3h0m2.1-1.1h0m3.5-.1h0m.2-1.7h0m2.7 3.8h0m7.6-.9h0m1.5 2.2h0m5.6-3.2h0m1-.9h0m2.6 10.2h0m-.8 .1h0m-1-4.6h0m-.4 4h0m-1.4-4.9h0m-6 1h0m-4.1 4h0m-1.5-.4h0m-2.3-.6h0m-4.3-2.1h0m-11.1 .6h0m-.2 .4h0m-3.6 .6h0m-13.2-3.9h0m-.3 2.7h0m-1.1 1.7h0m-18 6.8h0m8.5-3.5h0m.5-.7h0m5.9 1.8h0m5.8-1.6h0m0 4.3h0m.4-.1h0m30.7-2.6h0m6.2-.7h0m.2 1.3h0m2.6 .7h0m2.2-1.6h0m1.1-1.8h0m5.8 2.8h0m.1 1.8h0m5.6 6.1h0m-.7-2h0m-1-2.7h0m-1.1-.3h0m-8.9 5h0m-3.1-2.9h0m-.1-2.5h0m-5 4.7h0m-.8-2.7h0m-4.2-.9h0m-1.5 1h0m-5 2.3h0m-39.7 2.2h0m24.4 .2h0m4.7 2.6h0m3.3-2.4h0m16.4 1h0m13.4-.4h0m5.2 1.1h0m4.8 .1h0m3.1 1.7h0m4.1-3.4h0m6.1 1.1h0m-4.2 5.7h0m-12.6 3.8h0m-10.5-2.6h0m-3.5-2.9h0m-5.4 2.1h0m-13.4-1.3h0m-3.4 2.6h0m-19.2-2.5h0m-3.5 4.1h0m-2.7-4.9h0m-138.9 3.5h0m-3.3-3.7h0m-1 .3h0m-4.1 1h0m-3.2 2.3h0m-134.2 3.1h0m6.3 5.1h0m126.9-.6h0m0-3.6h0m7 .8h0m7 .2h0m1.8 .4h0m.2 1.5h0m1.1-2.9h0m1.5 1.7h0m4.1-.1h0m109.5-1.5h0m14.1 1h0m.5 .5h0m7.3-2.2h0m8.4 3.4h0m18.6-3.8h0m8.6 3.3h0m4.6 .6h0m2.6-1.3h0m-2.3 4.3h0m-15 3.5h0m-2.1-1.4h0m-1.3-.6h0m-7.4 2.3h0m-34.2-1.6h0m-2.2-.2h0m-97.3-.8h0m-1.3-1.1h0m-.3 .5h0m-1.2 .4h0m-4.1 0h0m-.2-2.3h0m-4.8 5.5h0m-3.5-2.7h0m-9.6 .3h0m-2.1-.5h0m-11-.1h0m-90.3 .5h0m-3.1 1h0m-27.8 3.8h0m2.1-1.9h0m5.1 2.2h0m12.7-.3h0m97.5 2.4h0m2-1.3h0m.2 .2h0m6.8 .7h0m4.9-2.8h0m3.5 2.2h0m.9 2.3h0m.2-1.4h0m5.1 .9h0m1.4-3h0m4.2 1.1h0m6.8-.5h0m5.9 2.3h0m.2-4.3h0m1.8-.5h0m1.9 4h0m101.6-.6h0m28.5 1.8h0m15.2-.2h0m10 3.1h0m-31.8-1.3h0m-9.9-1.2h0m-3.4 1.3h0m-9.7 4.5h0m-4.9-4.7h0m-2.4 1.7h0m-103.7-2.4h0m-9.5-.4h0m-7.7 1.8h0m-.2 2h0m0 .8h0m-.5 .7h0m-.1-.7h0m-1-3.9h0m-4.2 1.4h0m-10.2-2.1h0m-.6 2.6h0m-66 3.3h0m-30-3.7h0m-7.3 2.6h0m-10.9-2.9h0m-.5 1.2h0m-.3-2.1h0m115.9 5.1h0m1.3 1.3h0m3.8 1.2h0m3.1 1.4h0m0 .9h0m5.6-1.6h0m132.4 1.1h0m12.7-2.7h0m25.6-1.4h0m18.9 3h0m62.1 4.9h0m-78.3 2.8h0m-17.8-3.8h0m-22.8 4.2h0m-3.1-3.6h0m-211.3 1h0m-37.1-.6h0m4.5 6.1h0m.7 2.5h0m1.7-3.5h0m1.9 1.1h0m259.3 1.3h0m18.8-.3h0m5.7 2.4h0m4.7-1.8h0m2.9-1.2h0m19.9 2.7h0m33.8-2.3h0m-43.1 5.2h0m-10.8 1.7h0m-14.8 1.2h0m-251.8-.6h0m-19.6 6.7h0m10.8-.9h0m5.7-2.4h0m1.8 3.8h0m1.3-5h0m211.9 .8h0m16.1 0h0m1.2-1.2h0m9.6 4h0m9 .6h0m6.5-4.7h0m2 3.6h0m2.3-1.8h0m6.5-1.8h0m2.4 3h0m3.7-2h0m2.1 3.5h0m6.6-1.8h0m-.6 6.9h0m-5.4-1h0m-4.6-1h0m-1 2.7h0m-3.6 .7h0m-6.3-.5h0m-5.9-4.8h0m-18.8 3.4h0m-3.9 2.1h0m-1.9-2.8h0m-.9 .9h0m-237 1.8h0m-3-4h0m-8.9 3.1h0m-.4-.2h0m-9.2 5.6h0m.4-.6h0m19.2-2.7h0m2.8 3.1h0m4.5-.7h0m217.6 1.4h0m14.5-3.5h0m5.6 4.5h0m8.4-2.4h0m28.5-1.1h0m4 3.9h0m.2-3.7h0m4.1 3.2h0m2.7 .1h0m39.5-.5h0m-20.9 4.1h0m-13.5-.7h0m-9.7-1.6h0m-1.1 4.7h0m-12.6-.2h0m-9-2.5h0m-1.3 2.1h0m-.5-2.8h0m-10.8 2.3h0m-3.6 .8h0m-.9-4h0m-4.1 3.4h0m-1.7 .5h0m-2.7-4.5h0m-14 3.6h0m-215.6-1h0m-4.2 1.8h0m-2.1 .9h0m-15.4-5.2h0m-8.6 5.1h0m4.9 4.2h0m2.2-1.4h0m.7 2.6h0m17-1.4h0m.9-3.7h0m218.3 3.6h0m8.6-1h0m11.8-.7h0m1.8 3.9h0m3.8-5h0m12 .9h0m5.5 1.7h0m4.8 1.1h0m27.6-3h0m13.9 5.2h0m-6.2 2h0m-4.5-.6h0m-2.3 2.7h0m-10.4-.5h0m-5.4-1.5h0m-2.8 2h0m-8-4.5h0m-3.2 1.7h0m-6.3 1.2h0m-7.6 .8h0m-6.9 .8h0m-5.8-4.7h0m-13.8 2h0m-.4 1.7h0m-219.9-2.3h0m-14.7 2.9h0m-.1-1.8h0m-3.4-1.1h0m-12.6 1.1h0m12.5 4.7h0m1.9-.5h0m3.6 .7h0m238.5 3.8h0m37.1-4.9h0m1 1h0m1.7 1.5h0m2.9 1h0m4.3-1.6h0m17 3h0m5.5-3.7h0m7.6 4h0m4.9-4.4h0m-8 9.2h0m-1.2 .9h0m-.7 0h0m-8.7-2.8h0m-4.5 1.3h0m-3.2-1.4h0m-7.5-2.5h0m-1.1 3.7h0m-.1-.9h0m-16.1 1.3h0m-18.8-2.7h0m-8 0h0m-4.8 2h0m-4.8 .1h0m-3.2-1h0m-1.7 1.3h0m-216.4-1.3h0m-3.2 .1h0m-16.8 1.1h0m-9 5h0m5.3 .2h0m7.2 2.7h0m7.8-5h0m1.3 4.6h0m5.7-1.7h0m1.4-.9h0m218.2 3.3h0m6.7-4.2h0m9.5 1.8h0m10.8 .3h0m.1 1.3h0m1.2-3.6h0m11.5-1.1h0m.3 5.3h0m9-4h0m2.1 3.9h0m6.6-.9h0m15.6-1.8h0m2.4 .7h0m4-.5h0m1.3-2h0m-7.2 8.8h0m-.2-2.9h0m-1.9 .5h0m-21.6 1.9h0m-4.9-2.7h0m-1.2 2.8h0m-.3 1.5h0m-6.9-2.4h0m-9.1 .5h0m-3.5 2.7h0m-11-1.4h0m-15.2-2.3h0m-211.9 3.2h0m-5.8-.2h0m-25-.4h0m7.9 6.7h0m13.6-3.6h0m222.8 .2h0m.7-1h0m17.1 3.2h0m9.5-3.5h0m.5 .6h0m5.7-1.2h0m7.7 4.1h0m2.3-1.1h0m.2-.9h0m1.3 .2h0m3.7 2.8h0m12-3.4h0m10.7 .8h0m1.5-2.5h0m.3 1.8h0m1.2-1h0m-11.4 8.6h0m-9.2 1.7h0m-6.1-.1h0m0-5.1h0m-.4 2.6h0m-3.1-2.2h0m-16.5 1.2h0m-13.7 3.4h0m-1.9 .7h0m-6.9-1.8h0m-.3-2h0m-1.3-.6h0m-4.9 .3h0m-247.3 6.5h0m8.7 3.7h0m12.5-4.6h0m3.4 3.5h0m9.1-4h0m224 2.7h0m4.7 1.7h0m.3 .1h0m9-2.9h0m13 2.2h0m8.7-1.3h0m4.5-2.7h0m3.5 .3h0m6.8 .1h0m4 3.2h0m-7.7 4.9h0m-.1-2.7h0m-1.1 .1h0m-8.9 4.5h0m-2.5-4h0m-8.1 2.8h0m-3.6-3.3h0m-.1 1.1h0m-4.1 2.5h0m-271.3-1.4h0m36.5 4.1h0m215.1 2.1h0m2.2 1.4h0m6.3 .3h0m14.9 1.2h0m5.9-4.3h0m11.6 4.2h0m1-2.5h0m5-2.9h0m.5 5h0m9.6-2.3h0m-3 5.3h0m-19.2 2.7h0m0 .5h0m-.4-1.3h0m-.7 .5h0m-6.7-4.1h0m-.6 4.7h0m-19 .7h0m-261.9 5.6h0m20.6-1.8h0m14.1 1.4h0m.8-3.2h0m219.9-.4h0m10.1-1.3h0m12.5 1.8h0m.5-2h0m7.2 5h0m2.7-3.9h0m3 3.5h0m.5-4.3h0m14.4 1.2h0m2.4 5.1h0m-3.8 2.7h0m-4.1 .9h0m-11.6-.6h0m-2.2-3h0m-4 3.8h0m-11-1.4h0m-3.9 1.6h0m-256.5-4h0m-19.6 6.7h0m4.3 2.9h0m17.7-1.6h0m238-2.3h0m27.4 1.4h0m14.3 2.8h0m8.8 .6h0m1.1-5.1h0m15.8 8.2h0m-.1-1.7h0m-2.7 3h0m-1-2h0m-.1-.3h0m-8.9 4h0m-.8-4.6h0m-2.1-.2h0m0 3.6h0m-2.1 1h0m-5.6-3h0m-3.6 1.7h0m-3.8-3.5h0m-169.7 4.5h0m173.3 4.8h0m1.6-3.4h0m1.1 4h0m1 .5h0m3.2-.1h0m.9 .8h0m.2 .6h0m4.5-.8h0m1.6-3.9h0m1.6 .9h0m.2 .2h0m1.1 1.7h0m1.1-1.3h0m8.4 2.3h0m.1-3.2h0m3.9 1.3h0m.7-2.7h0m.1 3h0m1.7 .5h0m1 5.2h0m-3.2-2.4h0m-4.1 1.3h0m-1.6 1.4h0m-1 2.1h0m-.9-3h0m-1.4 1.6h0m-4.3-.7h0m-2.4-2.2h0m-8.5 4h0m-5.5-1.1h0m-7.8-3.1h0m-8.4 4.2h0m-147.6 .2h0m166.7 1.3h0m.4 .8h0m2.3 2.1h0m4.1-3.2h0m.8 1.9h0m.3 .6h0m2 1.7h0m7-.2h0m5.3-1.6h0m8.3-.1h0m.1-.1h0m.7-2.4h0m3.2 1.3h0m1.2 3.8h0m5.6 6.4h0m-2.3-5.4h0m-.2 .1h0m-1.7 1.3h0m-3.5-1.7h0m-3.9 3.9h0m-1.9 .4h0m-2.5-1.3h0m-4.7-.9h0m-.7 1.4h0m-1.5-3h0m-.1 4.9h0m-2.6-.2h0m-3.3-1.7h0m-2.1-2.9h0m-1.4 4.9h0m-2.5-5.3h0m-.6 5.4h0m-5.7-4.5h0m-156.6 9.6h0m160.6-4.2h0m.3-.2h0m3.7 2.7h0m1-.3h0m.5-1.5h0m.3 2.8h0m.1-2.4h0m3.1 3.3h0m6.4-4.1h0m2.6 3.7h0m.1 .4h0m6.7-3.1h0m2.1 2.4h0m.3-1.8h0m9 2.7h0m2.5 .8h0m7.7 .1h0m-.3 2.6h0m-2.5-.7h0m-.5 .2h0m-1.2-.2h0m-1.3 3.7h0m-2.2-.7h0m-.8-.5h0m-.2-.9h0m-1.8 2.2h0m-2.2-4.9h0m-1.8 .5h0m-1.8 .7h0m-3.2-1h0m-3.1 3h0m-.3-3.8h0m-1.3 1.1h0m-.3 2.3h0m-6.5-2.9h0m-9.2-.7h0m20.7 10.6h0m.5-.4h0m2.4-.4h0m1 1.4h0m7-4.1h0m4.9 .2h0m6.2 2.7h0m0-.9h0m.4-.5h0m-.4 8.8h0m-15.3-.9h0m-.3-.1h0m-2.4-2.3h0m-2.7 2.9h0m-2.2-4.9h0m-1.5 1.3h0m-160.7 6.3h0m162.3-.4h0m3.5 1.9h0m.1 2.3h0m2.9-2.2h0m2 2.1h0m3.8-.2h0m0 .2h0m1.4-.7h0m2.6 0h0m4.9-2.5h0m1-.5h0m0 3.3h0m.2-3.2h0m-.9 7.3h0m-3 .2h0m-3.9-2.1h0m-2.8 3.4h0m-.4-.6h0m-.5-2.8h0m-1.1 2h0m-3-2.5h0m-.2 .5h0m1.9 5.8h0m2 3.6h0m.5-1.7h0m.1-.6h0m.8-.6h0m1.2 4.1h0m2.3 .1h0m1-.1h0m2.8-.8h0m.8-2.8h0m4.8 2.1h0m-4.4 2.8h0m-.7-.4h0m-.3 1.3h0m-1.1 2.9h0m-203.7 48.3h0m-3.5-1.2h0m-2.9 3.9h0m5.6-.4h0m2.1 2.1h0m.3-2.8h0m-8.2 10.5h0m-.9-4h0m-5.3 6.4h0m5.6-1.7h0m3.1 2.4h0m4.5 .8h0m2-1.6h0m.5-.6h0m-1.4 7.4h0m-.3-1.8h0m-7.4 2.2h0m-3.7 .1h0m-2.3-.7h0m-8.4 3.2h0m-1.6 5.7h0m.1-2.3h0m.4 1.4h0m2.3-3h0m7.6 1.8h0m10-2.9h0m-7 6h0m-9.4-.1h0m-.7 2.5h0m-5.9-1.3h0m-.5-.9h0m-4 4.8h0m-2.7 6.5h0m14.8-.8h0m.3-4.1h0m5.3 5h0m.4-2.8h0m69.8 5.4h0m-.6 .3h0m-.3-2.3h0m-5 3.7h0m-4.3-2.3h0m-3.9 3.1h0m-4.4-.1h0m-56.4 .3h0m-5.7-2.6h0m-12 3.2h0m-2.2-.1h0m-3.3 6.1h0m2.1-2.3h0m2.7 2h0m5.5-1.2h0m2-3.1h0m2.4 2.5h0m6.2-.7h0m11.2 2.8h0m66.3 2h0m-5.6-1.2h0m-4.9 .5h0m-.9 .5h0m-2.1 4.1h0m-1.4-.1h0m-.6-2.2h0m-4.1-2.8h0m-1.3 .9h0m-.5 3.6h0m-1.8-.3h0m-20 .4h0m-.1 .2h0m-20.2-4.5h0m-7.5 .2h0m-17.2 2.2h0m-2.3 .6h0m-1.7 1.5h0m-5.8-.2h0m-.2 5.1h0m9.3-1.7h0m1.1 .5h0m4.1 2.6h0m.4-2.1h0m4.8-.1h0m1.8 .4h0m11.1 1h0m6.7 1h0m4.7-3.1h0m5.2-1.8h0m2.6 4.6h0m7.1-4.9h0m3.1 3.7h0m1.2-1.6h0m3.1 1.6h0m1.5-.8h0m8.8 2.3h0m.6-5.6h0m5.6 5h0m10.2-.3h0m-19.4 5h0m-5.3 1.6h0m-.7-2.7h0m-.7 2.4h0m-1.2-3.9h0m-.1 .5h0m-.1 .4h0m-.1 2.8h0m-.2-4.6h0m-3.4 4.1h0m-1.8-1.1h0m-6.2 .1h0m-.1-2.1h0m-52-1.1h0m-.4 1.8h0m57.4 9.2h0m.3 0h0m3.9-3.3h0m2.6 2.4h0m3.3-3.4h0m2 3.1h0m4.7 1.8h0m2-2.3h0m2.4-.5h0m7.4-.2h0m-4.6 4.3h0m-1.8 2.6h0m-1.2-2.3h0m-.2 4.2h0m-14.7 .1h0m-.7-1.7h0m0-3.3h0m.3 7.5h0m2.6 1.7h0m9.4-3.4h0m.1 .9h0m1.2-.2h0m-4.4 7.4h0m-7 2.2h0m-1.1 .5h0m-2.8 17.2h0m2.8-.4h0m-.8 5.1h0m-2.1-3h0m0 3.1h0m-.4-.1h0m-2.9 8.2h0m95.4-.6h0m.2-4.4h0m-91.7 6h0" stroke="#7CAE00" stroke-width="3.1" stroke-linecap="round" fill="none"/>
<path d="M237.9 71.9h0m-5.9-.4h0m-9.3 5.5h0m10-3.6h0m1.1 2.2h0m6.4 2.8h0m-6.4 .2h0m-8.7 5h0m-7.4-1.5h0m5.7 2.4h0m27.3 3.3h0m-12.7 6.3h0m-2.8-2.1h0m-8.3 2.1h0m-7.8 .7h0m-4.8-.1h0m-11.9 7h0m10.2-.4h0m2-4.1h0m20.4-.3h0m10.6 5h0m-.9 4.4h0m-4.2 .8h0m-39.2-3.5h0m-4.1 6.8h0m1.1-2h0m2.1 4.1h0m11.5 .8h0m3.1-3.7h0m2.4 3.8h0m16.3-3h0m1.3-.3h0m1.8-1.9h0m2 3.5h0m9.6-2.4h0m-17.1 10.4h0m-9-5.7h0m-21 4.6h0m-8.1-1.5h0m-.4-1.5h0m-5 6.7h0m6.1-1.6h0m.5 2.6h0m1-2.1h0m1.1 .2h0m6.4 2.1h0m8.8-2.9h0m16.9 3.9h0m-12.4 5.7h0m-1.6 .5h0m-5.5-.3h0m-1.3-.5h0m-1.6-3h0m-2.9 3.6h0m-4.6-3.8h0m-.7 3h0m-.3-2.6h0m-2.6-.2h0m-5 4.6h0m-3.8-1.8h0m-5.9 8h0m1.9-5.3h0m2 5.3h0m9-3.9h0m17.8 1.4h0m21.3 .7h0m148.7 2.3h0m-164.8 2.9h0m-6.4-1.7h0m-1.9 1h0m-.9-.3h0m-1-.6h0m-3.4-.6h0m-3.5-.3h0m-.9-.5h0m-1.5 1.5h0m-.8 .2h0m-.2-.4h0m-3.8 3.3h0m-9.9-1.9h0m.6 5.9h0m7.1 2.2h0m9.2-3.5h0m2.2 3.1h0m3.6-3.2h0m11-.4h0m167.8 4.2h0m3.5 11.8h0m-168.7 2.9h0m-28.2 3.8h0m-1-1.9h0m54.5 7.9h0m3.4-1.9h0m1.7-1.1h0m2 .9h0m4-1.6h0m1-.9h0m.7 0h0m4.8 .1h0m1.6-.4h0m1.8-.1h0m3.5 3.8h0m134.2 .3h0m1.8 5.6h0m-129 .9h0m-4.6 .7h0m-.3 0h0m-.9-4h0m-.4-1.7h0m-3.9 1.6h0m-11.2 .5h0m-1.3-2.1h0m-4.6 4h0m-1 1.7h0m-1-1.9h0m-1.1-1.9h0m-.7-.5h0m-55.8-.8h0m2.5 9.5h0m58.2-.5h0m1.5 1.7h0m.1-.3h0m4.5-.8h0m2.8-3.1h0m.1 1h0m2.2 3.4h0m.2-4.4h0m.2 3.5h0m15.6 1.1h0m.3 0h0m89.5-1.4h0m-90.6 2h0m-3.6 1.3h0m-2.7 2.5h0m-2.8-.5h0m-2.7 .4h0m-1.6-.5h0m-1.2 .5h0m-1.4-2.2h0m-.3 1.9h0m-5 .9h0m7 4.2h0m4.6-2.6h0m113.4 4.7h0m28.5 .2h0m.9 0h0m4.6 5.6h0m-2.2-1.4h0m0 1.6h0m-.3-4.6h0m-10 6.9h0m2.4 2.2h0m2.3 .9h0m2.4-1.1h0m.2-1.6h0m.6 1.7h0m3-.3h0m2 0h0m4.4 8.4h0m-17.9-1.9h0m-3.7-3.4h0m-32.1-.1h0m4.9 9.7h0m27.9-1.1h0m4.7 .1h0m5.2-.5h0m2.2-2h0m.2 5h0m8.7-3.4h0m.3-1.4h0m1.5 4.8h0m-1.4 3.7h0m-3 2.8h0m-1.9-2.9h0m-.2-1.4h0m-.2 3h0m-.9-3.4h0m-4.9 3.5h0m-1.3-1.5h0m-2.8-.3h0m-.1-1.5h0m-.9 2.5h0m-1.2-3.9h0m-.4 .7h0m-6.5 3.4h0m-.1-2h0m-1.4 2.9h0m-.1-4.3h0m-.9 3.8h0m.1 4h0m3.1-1.1h0m1.6 4.4h0m2.2-3.5h0m.2 1.5h0m.2-3.2h0m.9 5h0m7.9-1.7h0m.4-.1h0m7.4-2.6h0m1.9 3h0m.3-2.5h0m2.3-1.6h0m1.9 5.5h0m-12.5 4.3h0m-5.9-3.6h0m-.1 1.6h0m-1.3 .5h0m-2.9 3h0m-.3-4.8h0m-.7 1.5h0m-.2 2.2h0m-2-2.7h0m-8.3-.3h0m-5.9 7.7h0m5.2-2.5h0m.7 1.1h0m.3 2h0m4.6-2.8h0m12.3 3.5h0m.6-2.3h0m5.3 .4h0m2.9-1.6h0m.3-.8h0m9 5.3h0m8.6-1.1h0m-.9 6.3h0m-2.4 .1h0m-21.6-.8h0m-1.8-3.1h0m-.7 4.8h0m-.1-3.7h0m-4.4 .1h0m-3.4 1.3h0m-1-1.3h0m-.7 10h0m5.5-5.9h0m3.1 2h0m9.5 .3h0m4.5-.6h0m3.8-1h0m1.4 .7h0m1.2 1.4h0m2.4 2.7h0m9-3.1h0m2.2 2.9h0m7.9 0h0m3.7 5.8h0m-.4 .8h0m-19.3-3.5h0m-3.2-2.3h0m-5.5 2h0m-6.4 .4h0m-.4 2.8h0m-2.2-3.9h0m-4.7 3.7h0m-.5 .1h0m-7.1-3.3h0m-1 .3h0m-3.2 3.1h0m-3-1.9h0m-1.6-3.4h0m-16.4 9.9h0m1.2 1.1h0m3.6-1.6h0m1.8-1.9h0m3.3 1.4h0m6.7 2.3h0m5.2-5.1h0m4.1 .4h0m9.8 4h0m.6-.2h0m3.3-2.5h0m7-1.3h0m4.1 1.1h0m1.7 3.5h0m5 .6h0m4.5-4.7h0m2.6 .1h0m5.4 3.9h0m2.4 .6h0m2-1.4h0m.9-.6h0m.1-.6h0m.6 4.5h0m-.9 2.1h0m-.9-1.6h0m-1.4 3.9h0m-3.4-.9h0m-1.5-.6h0m-.7-4.3h0m-2.5 3.6h0m-1.4-1.3h0m-13.2 1.2h0m-8.4-3.6h0m-7.6 2.7h0m-.2 2.2h0m-1.2-4.1h0m-.2-.6h0m-2.1 2.2h0m-2-1.1h0m-5.4 2.5h0m-9.1-1.8h0m-1.1-1.6h0m-.2 4.7h0m-9.1-.2h0m-.3-4.2h0m-.6 1.3h0m-.5 2h0m-.3 1.9h0m-2.3 4.8h0m.5-2.9h0m1.9 .3h0m.4 1.3h0m1.6 .5h0m2.6 .3h0m1.9-.7h0m4.6-2.4h0m7.7 2.1h0m3 1.3h0m8.7-1.4h0m.5 1h0m6.5 .3h0m1.6-2.5h0m.1-.9h0m2.5 3.1h0m5.1-1.7h0m11.8-.8h0m10 2h0m1.1 1.1h0m2-.6h0m7.1 1.3h0m1.1 .5h0m.1 4.7h0m-2.2-.8h0m-6.9-2.7h0m-11.2 .8h0m-2.3 2h0m-2.5 1.7h0m-1.2-4.7h0m-.9 4.8h0m-1.2-1.1h0m-2.2-.2h0m-.1 .8h0m-12.1-4.4h0m-2.3 2.8h0m-2.7-3.5h0m-.7 5.2h0m-.2-.7h0m-1.9 .1h0m-3.3 .3h0m-1.3-1h0m-4.9 .6h0m-.3-3.1h0m-3.3 .8h0m-1.1-.2h0m-2.5-1.1h0m0-.2h0m-4.7-.5h0m-2.8 1.5h0m-.6 3.3h0m-3.7-5.1h0m-1 .4h0m-.4 5.5h0m-.8-4.6h0m-122.4 10.5h0m120.2-3.7h0m1 .7h0m4.5-1.1h0m3.6 3.3h0m.7-3.9h0m4.1 1.1h0m3.4 3.5h0m.9-4.1h0m1.5-1.6h0m.4 5.2h0m.9-5.1h0m.6 5.6h0m2.8-.2h0m8.1-2.2h0m.4-.7h0m4.6-.4h0m1.3 1.9h0m1.5-3.3h0m2.5 0h0m9.4 5.1h0m2.1-4.2h0m.4-1h0m.7 .5h0m.6 .4h0m.9-.6h0m.5 4.4h0m.1-4.2h0m2.6 3h0m.8 .9h0m1.6-1.5h0m5.5-.8h0m3.1 1.2h0m7.2-.5h0m2.2 1.1h0m3.3-3.6h0m1.5 4.6h0m2.3-3.5h0m.6 1.2h0m14 6.8h0m-16.1-.1h0m-9.5-2.2h0m-5.7 .8h0m-.4 .1h0m-1.1 3.1h0m-2-2.1h0m-2-3.3h0m-.5-.2h0m-.3 5.2h0m-4.7-.6h0m-3.3 1.1h0m-9.3-.3h0m-1.6-4h0m-.9 1.3h0m-7.9 .3h0m-.2 .8h0m-2-2.8h0m-.6-.4h0m-.4 1.7h0m-4.8 3.2h0m-6.8 0h0m-5.3-5.1h0m-.5 3.8h0m-.1 .6h0m-5.8-1.8h0m0-.8h0m-.7-1h0m-3 3.7h0m-1.2 .7h0m-2.7-5h0m-120.6 2.3h0m-3.4-2.5h0m-4.9 4.3h0m-136.4 5.5h0m137.6-2.4h0m2.1 1.2h0m.7-.3h0m2.6 1.2h0m.9-.7h0m.3 .6h0m.3-.4h0m.7-1.7h0m.5 0h0m1.4-1.5h0m1.1 1.1h0m1.4 3.6h0m11.1-.3h0m102.1-1.4h0m2.4-.6h0m.3-.9h0m.1-1.4h0m1.7 2h0m10.3 1.6h0m9.6 1.4h0m2.5 .1h0m.2-4.6h0m.2 .2h0m1-1h0m2.7 5.6h0m.4-5h0m2.8 .3h0m4.7 1.4h0m3.6 .7h0m.5-1.6h0m.7 .7h0m1.4 1.9h0m19.2-.1h0m5.5 1.5h0m8.2-5.5h0m28.9 3.5h0m8.1-2.4h0m12.9 4.6h0m6.1 .3h0m-14.6 .9h0m-23-.4h0m-12.2 3.7h0m-7.4 1.4h0m-4.1 0h0m-3.1-5.6h0m-4.7 .1h0m-.3 5.1h0m-7.9 .5h0m-2.3-5.3h0m-.5 4.4h0m-.9 .9h0m-4.6-.2h0m-2.6-1.8h0m-2-3.4h0m-.4 1.4h0m-4.9-.2h0m-1.3 3.8h0m-4-2.1h0m-2.5-2.3h0m-9.9 .4h0m-1.4 3.8h0m-1-3.1h0m-4.5 3.4h0m-1.8-5.1h0m-1.2 2.7h0m-1-2.5h0m-2.9-.5h0m-110.4 .7h0m-.5 3.8h0m-7.5-.4h0m-1.2 .8h0m-3.1-.6h0m-2.9-1.6h0m-6.4 1.1h0m-5.7-1.9h0m-.2-.2h0m-1.9 1.9h0m-95.8-.3h0m-25.7-.2h0m3.4 6.8h0m9.2 1.2h0m108.2 .3h0m11.8-4.8h0m4.4 3.1h0m11.2-1.3h0m4.1-1.3h0m4.5 .3h0m3.5-.7h0m.8-.6h0m93.4 3.9h0m.5-3h0m2.9 0h0m3.4-.5h0m2.2-.6h0m1.1 2.7h0m2.6 .1h0m1.3 .4h0m.3 1.5h0m1-3.7h0m.2 4.3h0m.1-.1h0m1.4-1.5h0m1.3-1.9h0m2 2.4h0m7.2-.9h0m10.7-1.1h0m.3-.9h0m4.9 2.9h0m.8-3.5h0m2.7-.2h0m.3 2.3h0m2.5-1.3h0m.6-1h0m1.2 1.9h0m4.1 1h0m2.6-1.8h0m1.6 3.3h0m2.4-.5h0m2.4-1.4h0m8.4-1.3h0m10.6 2.7h0m1.1 .6h0m0-1h0m.1-4h0m10.9 4.4h0m14-4.2h0m7.3 4.8h0m15.3 1.3h0m-3.8 3h0m-23-3.3h0m-33.5 3.2h0m-5.3-1h0m-5.4-.2h0m-.2-.6h0m-4.6 4.1h0m-2.4-3h0m-1.1-1.4h0m-.2 3.7h0m-.9-.5h0m-.4 .4h0m-2.5-.8h0m-1.5-3.6h0m-3.7 5h0m-.6-1.9h0m-7.9-1.7h0m-1.4-1.3h0m-1.8 5h0m-1.9-2.3h0m-3.2 .2h0m-3.5-2.3h0m-3.2-.3h0m-3.6-.2h0m-.6 2.4h0m-.4-2h0m-6.5 1.6h0m-4.1 1.6h0m-.2-2.1h0m-.9 2h0m-.2 1.7h0m-.2-.8h0m-.4-2.7h0m-2.2-.5h0m-118.4-.6h0m-1.2-.4h0m-6.9 3.4h0m-.1 1.2h0m-4.8 .6h0m-.5-2.1h0m-2.2 1.9h0m-2.3-2.5h0m-97.6 1.2h0m-6.8 1.4h0m.7 2.9h0m104.9-1.1h0m1.9 .4h0m2 1.6h0m3.4 2h0m129.6-2.4h0m1.4 1.9h0m1.7-2.6h0m8.7 .5h0m5.9 2.3h0m.8-1.4h0m7.1 1.7h0m1.9-5h0m1.5 .6h0m3.6 3.4h0m1.4-.9h0m1.6 1.7h0m1-1h0m.1-3.7h0m2.5 0h0m7.8 1.1h0m2.2-.3h0m3.3-.4h0m2.1 0h0m6.9 3.6h0m16.2-1.8h0m12 1.3h0m18.3-3.8h0m24.2 3.6h0m-16.4 4.7h0m-1.3-1.1h0m-4.4 3.2h0m-4.3-2.7h0m-16.8-1h0m-11.5 1h0m-1.5-.2h0m-6.5 2.1h0m-10-2.2h0m-2.3-1.3h0m-.8 2.3h0m-9.7-2.3h0m-3.3 4.7h0m-.5-3.9h0m-16.5 1.5h0m-7.5 1.4h0m-.2-3.4h0m-1.2 .9h0m-.3 .4h0m-.1-1.9h0m-1 3.6h0m-.7 1.7h0m-.4 .1h0m-5.3-1h0m-5.5-.8h0m-1.7-2.1h0m-.5-1.4h0m-1.2 4.7h0m-204.3-2.1h0m-8-.2h0m-14.3 2.1h0m-4.1 .7h0m-12-3.4h0m9.4 4.3h0m4.1 5.4h0m2.8-5.4h0m14.9 .8h0m210.6-.3h0m1.5 2.8h0m1.2-3.1h0m2.2 4h0m.1-3.1h0m2.5 1.3h0m.4 .1h0m2.4-2h0m1.2 1.5h0m.3-2.2h0m1.4 5.2h0m1-2.6h0m.3 1.4h0m.9 1h0m1 .2h0m.3 .2h0m.2-4.5h0m3.2 4.1h0m.2-2h0m1-2.3h0m3.1 1.6h0m4.6-1.3h0m1 4.7h0m1-.8h0m1.7-1.9h0m.1 2.1h0m.3-1.1h0m1.9-.8h0m5.4 2h0m1.8-3.3h0m1 .9h0m.8-2.9h0m43 .7h0m39.3 .4h0m4.1-.4h0m4.8 1.1h0m-3.7 7.5h0m-.5-1h0m-8.2 2.9h0m-11-5h0m-5.3 .8h0m-15 1.6h0m-19-.2h0m-11.8 1.3h0m-4.4-1h0m-.2-1.3h0m-.5 3.1h0m-2-2.2h0m-2.2-1.2h0m-3.4 3.1h0m-3.7-3.3h0m-.3-1h0m-9.2 2.8h0m-.3 2.1h0m-.6 .7h0m-.2-.9h0m-2.8 .3h0m-4.7-3.3h0m-2.6 3.9h0m-5.6-4.7h0m-.7 1.3h0m-1.5 .6h0m-2.5-.6h0m-3.4 .1h0m-1.2-1.1h0m-.5 3.8h0m-2.1-1.4h0m-1.2-2.3h0m-.6-.9h0m-1.6 .1h0m-208.5-.4h0m-16.6 2h0m-13.2 8.9h0m16.9-1.9h0m5.8 2.8h0m2.3-1.1h0m1.4-2.6h0m210.9 3h0m.3-2.1h0m2.8-2.7h0m0 3.6h0m1-3.2h0m2.5 1.7h0m4.9-.8h0m.7 2h0m1.1-1.8h0m.2 3.9h0m.3-5.2h0m.2 4.8h0m4.8-3.4h0m2.2 1.7h0m8.9-3.7h0m1.5 .5h0m2.8 4.5h0m3.1 .3h0m.9-3.2h0m1.9 1.6h0m.5-1.8h0m4.5 0h0m10.8-.2h0m1.7 1.4h0m4.5 2.6h0m5.1 .2h0m1.2-1.2h0m23-3.3h0m3.7-1.4h0m11.2 2h0m12.7 2.3h0m9.9-4.1h0m-27.8 10.5h0m-1.5-3.9h0m-4.4 1h0m-16 3h0m-12.5-2.8h0m-6.9 1.9h0m-7.3 .9h0m-.4-2.5h0m-4.2 1.5h0m-2.5-.9h0m-16.3 1.3h0m-6-2.6h0m-9.1 .2h0m-4.4 2h0m-3 .5h0m-1.5 1.1h0m-218.4-1.9h0m-21.6-.5h0m-1.8-2.2h0m-5.5 9.8h0m20.4-3.4h0m222.5 3.4h0m.5 .5h0m.9-1.4h0m.5-1.9h0m2.5-.4h0m.2-.1h0m.2-.5h0m10.3 3.9h0m15.2-3.1h0m5.1 .4h0m2.6 1.9h0m5.9 1.8h0m6-1.4h0m1.5 0h0m0 1.1h0m9.3-2.2h0m1.8-1.4h0m8.6 3.5h0m27.6-3.7h0m12.5 5.6h0m-13.6 .6h0m-8.6-.4h0m-16.2-.8h0m-16.9 2h0m-4.4 1.5h0m-.5-1.7h0m-8.3-1.4h0m-4.4 1h0m-.5 .4h0m0-1.9h0m-2.9 3h0m-6.8 .7h0m-11.1 1.7h0m-6.7-1.1h0m-.5 .4h0m-2.9-4.3h0m-5-.8h0m0-.1h0m-1 .9h0m-.2 2.3h0m-220.7 1.1h0m-14.5-3.1h0m-3.3 5.7h0m4.3 3.7h0m18.6 1.1h0m1.3-.7h0m213.6-2.1h0m1.6-.1h0m.1-1h0m.9 0h0m.5 .8h0m5 1.5h0m6.5 1.7h0m17.1-1.3h0m.4 1.1h0m.3-2h0m3.6-3.2h0m6.3 3.6h0m17.3 1.9h0m5.8-4.8h0m.3 4.4h0m8.5-5.5h0m3.8 3.6h0m16.8 4.8h0m-6.8 2.8h0m-1.7-2.7h0m-1.7 2.4h0m-4.3-2.5h0m-11.1 .7h0m-4.3-2.8h0m-4.4 1.3h0m-1.8 3.5h0m-5.3-4.5h0m-10.1 2.7h0m-4.6-2.1h0m-16.8 1.3h0m-6.7-2.1h0m-7.3 1.9h0m-.7 .6h0m-.3 .4h0m-5.9 2.1h0m-222.1-4.2h0m-7.1 1.3h0m-13.8 2.7h0m3.8 1.3h0m3.4 .2h0m.8 4.9h0m7.7-4.7h0m1.8-.5h0m7.5 2.1h0m3.1 2.1h0m213.9-3.2h0m26.9 2h0m4.6 2.4h0m10.5-5.3h0m7.4-.4h0m10.2 1.4h0m.3 1.1h0m6.1-1h0m4.2 .6h0m10.4 2.2h0m15.1-1.7h0m.1 .5h0m-6.6 4.6h0m-.8 3.8h0m-.3-.7h0m-6.6-4.4h0m-1 1.3h0m-5.1 1.2h0m-5.5-.3h0m-10.4 .6h0m-2.2-2.8h0m-2.5 1.3h0m-3.4-.6h0m-8.9 .7h0m-.9 .1h0m-1.2-.3h0m-8.7 2.3h0m-.2 .3h0m-12.3-1.9h0m-1.1-.5h0m-16.1 3.5h0m-235.2-.6h0m-8.1-.4h0m-2 1.1h0m-.9-2.6h0m-3.3 7.5h0m18 .9h0m3.6-.1h0m13.9-1.9h0m218.7-1.6h0m12.8 3.5h0m15.2-2.5h0m5.4 .7h0m9-1.9h0m2-1.1h0m3.2 .7h0m8.3 1h0m6.3-1.9h0m.4 3.4h0m.1 1.1h0m.9-3.7h0m5.8 1.1h0m6 1.1h0m1.1-1.4h0m.5 .2h0m1.4 .8h0m-4.9 8.4h0m-3.3 .3h0m-.4 .2h0m-.5-2h0m-6.9 2.2h0m-.2-1.1h0m-4.7 .5h0m-1.1-1.3h0m-12.2 .6h0m-5-.4h0m-4 .1h0m-2-.5h0m-1-2.2h0m-3.2 3.2h0m-13.7-3.9h0m-3 .1h0m-17.5-.8h0m-220.4 4.5h0m-6.6-.9h0m-5.8 1.3h0m-9.4 .8h0m-.9-2.9h0m-9.6 3.4h0m41.5-.1h0m.2 1.8h0m1.4-2.1h0m208.6 3.5h0m1.9-2.9h0m.7 3.3h0m.1 1.7h0m17.3 .3h0m5.6-5.6h0m16.2 3.3h0m10.1-.8h0m2.2 3.1h0m.6-2.9h0m9.7 2.3h0m5.8-2h0m.3-.2h0m1.8 1.7h0m6.7-4.1h0m-7.9 7.8h0m-.7 1.9h0m-1.7-1.7h0m-4.6 1h0m-4.2 1.6h0m-12.7-3.1h0m-2 2.8h0m-4-4.9h0m-14.3 3.5h0m-12.1-1.2h0m-.1 2.8h0m-4.5-4.7h0m-.8 1.8h0m-1.7 2.7h0m-6-1.8h0m-105.1 1.6h0m-5.2-.3h0m-3 1.2h0m-104.7-1.8h0m-3-1.2h0m-16.5 2.4h0m-.6-4h0m-4 4.4h0m-3.5-5h0m6.5 11h0m9.4-.2h0m2.1 0h0m115.6-1h0m11.4-2.8h0m117.1 2.7h0m2.9-.8h0m8-1.7h0m5.2 2.5h0m22.9-4.2h0m3.8 .1h0m.3 5.6h0m4.6-.9h0m-1 6.3h0m-13.4 .4h0m-.6 .4h0m-5.4-.1h0m-1.5-3h0m-5.2 2.5h0m-.3-4.6h0m-18.6 .5h0m-17.7 3h0m-102.2-.7h0m-3.6-2.2h0m-5.4 .9h0m-2.6 2.4h0m-144.7 5.1h0m140.8 1.1h0m2.3-1.3h0m.3-1.3h0m.4 .7h0m1.4 2.2h0m.4-2.4h0m2.4-1.1h0m3.6 1.7h0m1.7-.4h0m109.8-1.4h0m6.3 2.8h0m13.9-3.4h0m2.2 1.1h0m2.7-.7h0m12 3.7h0m2.8-1.8h0m.2 .1h0m6.2 .4h0m3.9 2.2h0m8.7 5.2h0m-1 .6h0m-2.3-4.4h0m-6.3 3h0m-13.2-1.4h0m-3.7-.6h0m-4.8 3.4h0m-1.9-1.4h0m-1.1 .7h0m-1.6-1h0m-3.8-2.3h0m-.2-1.6h0m-20.3 5.3h0m-.9-3.7h0m-111.8 3.3h0m-.1-.6h0m-98.8-.6h0m-1.4 1.2h0m-5.9 .6h0m-1-3.3h0m-36 2.4h0m-5.7 6.2h0m45.9 .3h0m102.6-2.5h0m129.6 2.4h0m11.8-3.1h0m16.3-1.8h0m1.6 .7h0m.8 3.6h0m3.4 .6h0m8.1 .2h0m6 5.6h0m-16.6-.6h0m-1-1.4h0m-.3 2.5h0m-4.9-1.3h0m-159.6-2.5h0m-.1 1.1h0m-2.7 2.9h0m-.9-2.5h0m-103.5 2.6h0m-33.5-3.9h0m20.5 8.1h0m112.3 0h0m1.4 .3h0m2-2.4h0m128.2-.4h0m2.1 .5h0m16.7 1.7h0m14.4-1.1h0m9.6 .2h0m5.9-.8h0m1.4-1.6h0m12.7 4.9h0m7 5.9h0m-69.7-1.7h0m-127.4 1.9h0m-2.7-5.1h0m-.3 4h0m-2.8-3.7h0m0 1.5h0m-1.8 .4h0m-2.2 0h0m1.1 8.6h0m1.2-3.5h0m.7-.9h0m150.8 3.5h0m5.9 .8h0m.3-.6h0m11.8-3.5h0m4.1 3.9h0m15.2 .7h0m8.3-5.3h0m3.1 3.1h0m.6-2.7h0m-12 8h0m-22.7 .9h0m-13.4-.3h0m-144.1 2.6h0m-2-.9h0m-.8-3.7h0m0 4.3h0m-2.2-4.5h0m-.9 1.1h0m-1.8 0h0m-4.5-.5h0m-3-.5h0m-3.7 4.3h0m-.9-1.8h0m-.1 2.4h0m-.6 5.4h0m1.6-1h0m1.1-2.3h0m16.7 3.9h0m3-4h0m1.2 1.3h0m2.2 1.9h0m148.3-3.9h0m13.2-1.1h0m26.3 4.5h0m2.2-.9h0m15.5 8.1h0m-41.3-.2h0m-154.8-.5h0m-1.3-3.5h0m-4.2 .6h0m-1.4-1.6h0m-1.9 1.4h0m-.8 3.8h0m-1.8 0h0m-2.1-3.1h0m-1.2-2.1h0m-6.9-.4h0m-10.1-.1h0m-1.6 .5h0m-1.4 3.3h0m3.1 7.5h0m2.6-2.1h0m3 1.3h0m10.4-.9h0m4.9 .2h0m1.3-1.5h0m.4 2.7h0m2.5 0h0m6.4-.1h0m.6-.4h0m5.9-.1h0m2 1.2h0m1.9-.3h0m159.8-2.1h0m2.5-2.7h0m1.7-.4h0m19.1 0h0m-181.5 9.9h0m-1.4-1.8h0m-2.5-1.6h0m-.3 4.5h0m-.8-2.2h0m-.7 1.2h0m-16.1-1.4h0m-8.6-1.5h0m-3.3-1.2h0m-.1 .5h0m-4-.3h0m-4.1 .1h0m39 6.7h0m1.6 4.1h0m1.7-4.2h0m5.4 4.7h0m3.4-.7h0m5.8 5.5h0m-5.2-.8h0m-1.7-2.7h0m-6.4 0h0m-.4 3.4h0m1.9 3.2h0m.9 1.6h0m.7-2.2h0m5.8 2.7h0m.4 1.6h0m.8-.6h0m0 1.1h0m161.2-1.9h0m17.7 9.7h0m-209.5 57.6h0m-4.7 5.5h0m5-1.1h0m-9.4 9.1h0m.4 .4h0m9.9 .4h0m1.4 3.5h0m1.5-2.9h0m-7.7 7.7h0m-1.6 0h0m-7.3 1.7h0m-7.9 6.1h0m21.8-3.7h0m.8-.2h0m-8.1 10.1h0m-11.9 1.3h0m9.1 3.6h0m63.8 3.8h0m-1.1 1.3h0m-5.9-1.4h0m-66.3 .7h0m-10.7 5.8h0m5.6 2h0m64.9-3.6h0m9.1 2.4h0m8.2 1.4h0m.3-2.6h0m3.4 3.2h0m1.4 .7h0m-7.6 .2h0m-3.4 1.9h0m-1.8-.2h0m-9.6 0h0m-24.4 .8h0m-11.7-2.1h0m-4.3 4.5h0m-.2-4.7h0m-3.6-.6h0m-5.7 4.7h0m-10.3 .3h0m-18.1 5h0m3.5-1.7h0m4.1 2.8h0m6.4-3.1h0m8.2-1.7h0m1.1 4.7h0m13.6-.1h0m6.8 .7h0m12.3-4.4h0m3.7 1.7h0m2.8-2h0m.8 1h0m2.5 .9h0m14.2 .8h0m8.3 1.7h0m1.7-4.2h0m3 6.7h0m-20 1.3h0m-.7-3.1h0m-15.3 5.2h0m-1.8-3.6h0m-2 1h0m-42.6-2.2h0m59.8 8.6h0m12.9 .4h0m3.5-2.5h0m-20.7 8.3h0m-.1 .9h0m-1.2 4.9h0m6.2-2h0m8.3 2h0m-3.7 8.6h0m-6.3 1.3h0m-2.2 7.8h0m-5.2 20.1h0" stroke="#00BFC4" stroke-width="3.1" stroke-linecap="round" fill="none"/>
<path d="M220.7 76.6h0m4.8 .7h0m.8-3.9h0m3.6-1.3h0m4.4 .7h0m1.4 4.8h0m9.1-2.1h0m6.3 7.1h0m-3.3 1.2h0m-.4-3.2h0m-.2 1.9h0m-6-4.5h0m-1.1 2.8h0m-1.9-2.1h0m-3.1 4.8h0m-8.4 .2h0m-1.9-5.5h0m-.5 3.2h0m-11.2 4.3h0m3.6 2.6h0m2.4-.7h0m2.6 .2h0m6.6 .9h0m2.6 .5h0m2.2-4.5h0m3.5 1.1h0m5.7-1.5h0m3.4 4.6h0m4.1-1.5h0m-.8 7h0m-4.2 .8h0m-1.2-1.5h0m-2.1-2.8h0m-12.8 1.4h0m-1.3 .6h0m-2.4 2.1h0m-3.6-3.7h0m-.7 3.6h0m-8.4-.8h0m-1.4-1.8h0m-10 8.9h0m3.9-2.5h0m4 .6h0m1.8 1.7h0m4.3 0h0m2.7-4.4h0m3.2 2.5h0m6.3-.4h0m.7-.4h0m16.7 2.1h0m1.2 .7h0m3.7-3.9h0m2.1-.8h0m0 4h0m1.7-.7h0m-4.5 4h0m-3.7 2.8h0m-.6-3.9h0m-1.9 4.4h0m-5.8-1.1h0m-1.6 .2h0m-2-3.7h0m-1.8-.4h0m-.7 3.5h0m-.6-.6h0m-1.6-2.8h0m-8.8 2h0m-2.9 2.2h0m-.9-3.1h0m-3.7 1.7h0m-12.4 .1h0m-.9 1.4h0m0 .6h0m-5.3 5.2h0m0 .5h0m.2-1.9h0m6.4 1h0m4.3-3.8h0m9.8 5.4h0m.2-1.9h0m.1-2.7h0m.1 .7h0m5.9 .1h0m6.3 3h0m.8 .2h0m1-4.6h0m.4 4.1h0m16 .9h0m1.8-3.3h0m-4.2 7.2h0m-10.2 1.2h0m-7.9-2.1h0m-5.5-1.4h0m-1.9 3.4h0m-22.7-2.7h0m-1.7-1.4h0m-3.9 7.5h0m10.2-.8h0m19.3 2.9h0m.9-3.1h0m3.1 2h0m1.6 1.5h0m5.7-2.4h0m6-1.3h0m3.4 2.5h0m-4.2 6.3h0m-1.1-2.2h0m-2.8 2.4h0m-4.7 1.3h0m-2.1-2.7h0m-2.1 1.1h0m-2.5-1.8h0m0 1.6h0m-3.5-.3h0m-1.4 .2h0m-10.2 .3h0m-24.7 5.3h0m1.2 1.1h0m13.6 .7h0m.2-2.8h0m15.6 3.6h0m3.2-2h0m2.6 2h0m4 .7h0m172.2 4.7h0m-.2 .1h0m-3.4 1.3h0m-.5-4.4h0m-10.2 4.4h0m-.5-.8h0m-.1-1.3h0m-146.2 1.3h0m-5.2 .6h0m-4-.8h0m-5.3 .7h0m0-5h0m-.4 1.2h0m-.9-1.4h0m-6.5 4.2h0m-2.7-4.1h0m-.3 1.1h0m-7.3 4.1h0m-2.9-2.1h0m-.9-1.6h0m-.8-1.5h0m-10.9 5.3h0m-.7-4.3h0m-1.5-1.4h0m-.2 1.9h0m-2 7.2h0m.7 2.7h0m.7-3.5h0m3-.4h0m8.2-1.3h0m0 5h0m.9-.2h0m3-1.3h0m.4-1.6h0m.4 2.4h0m1-.8h0m5.4-1.1h0m9.4 .3h0m6.4-2.8h0m1.2 5.3h0m6.2-4.8h0m3.3 4.6h0m145.6-.8h0m.1-1.3h0m1.5-3.1h0m.2 1.1h0m12.8 4.1h0m6.9-2.1h0m.1 6.6h0m-4.6 .1h0m-17.3-2.7h0m-.4 2.3h0m-146.5-.5h0m-.8-1.7h0m-.5 1.6h0m-1.1 0h0m-3.4 0h0m-.6-2.6h0m-2.3 .8h0m-1.4 1.3h0m-2.2 .8h0m-3 0h0m-6.4 2.4h0m-9-2.8h0m-2.6-2.2h0m-4.8 1.9h0m-.6-.4h0m-8.7-1.2h0m1.1 6.4h0m1.3 2.3h0m.2 .6h0m.1 .7h0m1.4-2.5h0m2.5 2.9h0m3.4-4h0m5.8-1.6h0m1 1.4h0m9.1 3.3h0m1.3-2.1h0m.9-2h0m8.6 3.5h0m5.6 1.6h0m3-1.2h0m147-2.8h0m4.5 4.2h0m9-.6h0m1.3-3.6h0m11.2 .3h0m1.8 3.3h0m.5-1.6h0m1.1 1.7h0m2.4 1.1h0m-9.9 4.3h0m-5.5-3.6h0m-1.2 1.4h0m-3 2.9h0m-3.2-2.7h0m-5.4-1.2h0m-4.8-.2h0m-1.1 .3h0m-.2-.5h0m-151.8 3.7h0m-5.4-2h0m-.7 1.6h0m-5.2-4.1h0m-9.2 .4h0m-2.1 .2h0m-7.8 2.7h0m-4.2-.2h0m2.5 3.6h0m5.8 1.4h0m2.4 2.2h0m2.4 .7h0m4.2-5.3h0m1.8 1.5h0m9.4-1.3h0m2.6 3.6h0m.8-.7h0m2.5 1.8h0m1.9-3.5h0m1.1 .3h0m45.6-.7h0m3.6 2.5h0m96.2-1h0m6.9-.3h0m10.8-1.8h0m.3 .6h0m2.2 3.8h0m1.5-4.8h0m10 2.5h0m3.2 .1h0m1.8-1h0m.2 3.9h0m.5-.1h0m1.7-3.4h0m-.1 5.2h0m-1.1 .8h0m-.4-2h0m-3.4 4.3h0m-7.2 0h0m-10.3-3h0m-16.7 4.5h0m-95.8-.9h0m0-3.7h0m-11-.6h0m-2 .1h0m-12.7-.7h0m-23 1.9h0m-.6-.2h0m-.1 2.8h0m-3.2-1.6h0m-.3 .3h0m-.2 1.2h0m-4.3-4.5h0m-11 2.4h0m-3.7-.6h0m-1 3.3h0m-3.7-4.8h0m.8 11.2h0m2.3-5.5h0m15.5 2.3h0m2 2.9h0m4.7-.3h0m.9-3.4h0m0 3.1h0m46.7-3.6h0m1.7 2h0m4.4 .1h0m129.4-.8h0m2.2 1.1h0m1.1-3.2h0m1.4 1.7h0m-1.9 8.2h0m-7.8 1.3h0m-9.1-1.1h0m-2.1-2.1h0m-21.7 1.8h0m-89.2-3.3h0m-.5-.3h0m-.5 2h0m0-1.8h0m-16.5 4.8h0m-39.1-2.4h0m-1.1-.6h0m-.7 1.7h0m-4.6-2.4h0m-2.4-1.2h0m-2.2 .6h0m-.4 .5h0m-4.3 1.2h0m-3.7 .4h0m-.9 .3h0m-2.8-3.4h0m9.7 8.9h0m1.9 1.7h0m2 .9h0m155.9-3.6h0m1 2.8h0m.1-2.9h0m10.7 .6h0m4.2 1.2h0m13.1 1.9h0m5.9-3.1h0m7.4 2.3h0m.2-3.3h0m2.5 .8h0m.1 6h0m-.3-.9h0m-17.7 3.6h0m-7.4-1.9h0m-12.8 1.7h0m-4.7-1.8h0m-1.9 1.8h0m-2.2 4.4h0m2.1-2.5h0m13.4 1.5h0m30.4 2.5h0m.4 3.4h0m-4.8-.3h0m-5.3 2.5h0m-.4-4.3h0m-2.3 .3h0m-4.4-.2h0m-4.2 .5h0m-2.7 3.8h0m-8.4 .1h0m-2.2-1.9h0m-2.8 1.6h0m-1.9 1.3h0m-1.8 1.4h0m.6-.3h0m4.9 .8h0m9.2 1.1h0m1.3 1.3h0m1.4-1.3h0m12.5 2.8h0m6.6-2.9h0m6-2h0m5.6 7.2h0m-5.8-.7h0m-10.9 1h0m-.9-1.3h0m-2.5 3.9h0m-10.3-1.4h0m-1.6-2.9h0m-18.4 4.9h0m-.1-3.9h0m.9 5.2h0m2.3 4.3h0m.3 .2h0m4-4.6h0m8.4 1.7h0m.9 3.8h0m6.6-.2h0m2.5-2h0m6.5 1.6h0m9 .5h0m.1-4.8h0m5.6 2.8h0m2.5 4.8h0m-12.7-.5h0m-13.7 3.3h0m-17.4-1.7h0m-1.4-2.6h0m-1.5 .4h0m1.7 6.1h0m2-.3h0m3.1 .7h0m3.1 2.7h0m8.6-.9h0m8.4 .6h0m1-.1h0m.7-1.7h0m8-1.9h0m4.1 2.7h0m1 .5h0m.3-1.5h0m1.7 1.5h0m8.5 .3h0m2.2 .3h0m5.6 3.7h0m-4.2 3.1h0m-5.6-2h0m-6.2 2.6h0m-12.1-.7h0m-.7-3.7h0m-12.3 2.7h0m-4-1.6h0m-5.1 2.1h0m-4.7-1.9h0m-1.4-1.8h0m-.4 .7h0m1.3 10.1h0m.7-.4h0m1.3-3.3h0m15.9 2.8h0m8.4-1.3h0m4-2.2h0m4.3-.6h0m3.3 2.3h0m5.9 .5h0m8.9 .8h0m21.7 5.8h0m-3.6-.7h0m-13.6-1.8h0m-3 3.1h0m-1.3 .8h0m-3.8-1.5h0m-14.5-2.8h0m-12.2 4.2h0m-3.2-4.5h0m-1.3-.7h0m-12.7 2.4h0m-4.6-.4h0m0 0h0m.9 3.8h0m7.3 2h0m.8 .4h0m10 .6h0m.4 .2h0m3.1-2.3h0m2.5 2.6h0m2.8-3h0m8.7 3.6h0m2.2-2.1h0m2.4 2.1h0m3.7 .4h0m23 .8h0m4.5-3h0m1.2 .9h0m1.6-1.9h0m1.2 7.3h0m-6.1 3.1h0m-19.8-3.8h0m-6-.4h0m-3.9 1.2h0m-3-2.7h0m-2.9 2.7h0m-12.8 1.6h0m-8.5 1.3h0m-.3-.9h0m-3.6-1.7h0m-4.6 2.6h0m-4.4 .1h0m6.3 .3h0m4.5 4h0m2.6-3.1h0m20.9 5h0m6.5-3.5h0m7.4 2.3h0m.5-3.9h0m4.1 5.1h0m7.7-.5h0m21.4 1.6h0m-7.8 3h0m-1.5-3h0m-10.9 1.5h0m-2-1h0m-18.5 4h0m-2.2 .1h0m-8.5-3.1h0m-.9 .3h0m-3.4 .8h0m-7.3-3.3h0m-14.5 4.9h0m-5.4-1.7h0m6.6 4.1h0m16.1 2.9h0m4.6-2.4h0m1.6 .1h0m9 2.2h0m.4 1h0m14.8-1.1h0m13.8-.6h0m4.7-2.6h0m.2 4.2h0m.2-2.1h0m1.5-2.8h0m12 3.1h0m6.3 1.3h0m2.2-2.4h0m.8-.9h0m.1 2.9h0m1.3-2.5h0m2.2-1.3h0m4.3 4.6h0m1-3.5h0m14.7 9.3h0m-1.2-.8h0m-10.4-3.3h0m-12.2 .9h0m-9.5 .8h0m-.2 3.1h0m-1.4-.9h0m-12.5-.4h0m-.7-3.9h0m-17.4 .1h0m-2.5 1.7h0m-9.7 2.2h0m-9.6-.5h0m-7.8-4h0m-8.9 3.9h0m-1.4-.2h0m-7.5-2h0m-4.9 1.4h0m0-3h0m-123 2.4h0m-139.5 2.7h0m-.4-.6h0m-2.3 4.2h0m4.6-1h0m1.4 2.4h0m1 .3h0m36.5-1.2h0m1.4 2.5h0m.9-1.8h0m1.2 1.3h0m2-.6h0m99.2-4.4h0m115.8 4.9h0m2.7-.3h0m3.4-3.7h0m7.2 3.8h0m9.9-2.4h0m4.2-1.1h0m.8 3.8h0m.4-1.5h0m2.8-2.3h0m1.9 4.2h0m8.2-.9h0m8 .6h0m.7-4.8h0m24 1.4h0m2.3 2.8h0m8-4.5h0m.8-.1h0m2.4 2.7h0m1 1.9h0m.6 0h0m8.5-3.4h0m.8 2.7h0m1-4h0m1.9 1h0m.4 3.6h0m16.6 .1h0m0-3.7h0m4.4 .7h0m7.5 9.4h0m-14.8-4.5h0m-14.7 1h0m-1.2 4h0m-30.5-.6h0m-.3-.2h0m-1 .7h0m-.3-5.3h0m-3.2 5.1h0m-1.1-1.8h0m-4.6 .2h0m-7.2-3.2h0m-.1-.6h0m-5 5.7h0m-.1-3.9h0m-8.1 2.7h0m-.4-3.3h0m-10.9 3.2h0m-1.6-1.7h0m0 2.8h0m-6.2-.2h0m-2.2-4.7h0m-.3 2h0m-16.3 .6h0m-111.5-2.1h0m-12.1-.2h0m-1.2 .2h0m-80.8 .7h0m-11.8-1.2h0m-5-.3h0m-4.5 .2h0m-2.1 3.7h0m-23.5-.3h0m-3.2-1.2h0m-.1 2.9h0m-3.4-3.2h0m-2.7-1.7h0m7.7 6.9h0m2.9 3.6h0m1.6-4.1h0m1.2 .7h0m2 .7h0m4.3 .8h0m.7-.1h0m5.4 .9h0m.6-.9h0m2.6-2h0m5.8 3h0m22.8 .5h0m74.6 1.2h0m1.5-4.7h0m15.3 3.5h0m4.9-3.9h0m3 .5h0m3.9 3.5h0m2.1-1.2h0m6.1 .8h0m.6-4.1h0m96.7 3h0m.5-1.7h0m.1-1h0m22.1 4.2h0m.5-1.3h0m1 2h0m6.9-.2h0m4.3-1.7h0m2.7-2h0m6 0h0m2.5-.4h0m1 2.7h0m6.1-2.9h0m2.1 1.1h0m.7 3h0m8-1.4h0m1.9-2.7h0m4.7 .7h0m4.6 1h0m4.4 .3h0m18.9 .2h0m3.3-1.2h0m.3-1.4h0m2.2 4.5h0m1.2-.4h0m2.9-.7h0m5.7-.6h0m.1-1.2h0m4-1.3h0m6.9 1.4h0m2.1 .3h0m.1 1.2h0m3.1-1.9h0m.2 6.2h0m-1 .6h0m-.2 1.3h0m-1-.9h0m-14.4 2.1h0m-3.6-4.3h0m-.6 4.7h0m-15.7-.6h0m-.8-1.8h0m-2.2-2.5h0m-4.8 2.4h0m-.1 2.8h0m-20.1-4.2h0m-23.7 2.8h0m-2.7-2.1h0m-14.9-.7h0m-5.7 2.1h0m-6.5-1.3h0m-5.6 .5h0m-.9 1.2h0m-213.5-4h0m-17.1 5.4h0m-10.3-3.8h0m-.6-.8h0m-4.6-.2h0m-7.3 4.9h0m-1.3-2.1h0m-3.4-1.1h0m-.7 .6h0m14.9 3.5h0m1.1 1h0m4.3 1.4h0m2.1 2.5h0m24.9-5.4h0m67.7 .4h0m9 3.9h0m138.1-2h0m9.5-1.6h0m.2-.1h0m5.6 3.7h0m3.4-2.9h0m7.7 3.6h0m6.5 .3h0m2-1h0m1.7 .5h0m11.4-2.3h0m7.6 3.2h0m4.2-4.7h0m12.8 1.9h0m1.3-2.1h0m2 0h0m2-.2h0m8.1 1.2h0m2.5-1.5h0m5.2 .5h0m.1 2.5h0m.3-2.8h0m21.2 5h0m6 5.6h0m-3.9-.4h0m-2.7-4.3h0m-1 .1h0m-5.1-.1h0m-.2 1.6h0m-5.8-1.5h0m-1.8 1.8h0m-3.8 3.1h0m-4.4-2.6h0m-11.6 2.4h0m-15.1-1.6h0m-17.6-3.4h0m-.4 4.3h0m-6.4-2.9h0m-5.7 .4h0m-4.1 3.8h0m-2.4-3.8h0m-2.8-.9h0m-3.6 4.4h0m-5.3-4.2h0m-2.6-1.2h0m-3.8 4.4h0m-4.6-.4h0m-2.6 .8h0m-1.7-2h0m-1.8 .3h0m-9.9 .1h0m-.2-1.5h0m-.5-.7h0m-204.5 2.8h0m-17.4-1.4h0m-12.7 .8h0m-6.3 1.7h0m.6 2.1h0m1.3 4.5h0m.9 .1h0m1-2.5h0m1.2 2.5h0m.8-.5h0m4.4 .2h0m.3 .4h0m7-.6h0m4.5-3.4h0m3.7-.5h0m2.2 4.5h0m6.2-.6h0m1.9-4.8h0m205.6-.5h0m.3 1h0m.5 4.4h0m5.5-4h0m5.8 1.7h0m11.1 .2h0m.5 .5h0m5.4-2.1h0m5.3 2.4h0m6-2.8h0m3.7 3.9h0m4.5-1.2h0m1 1.8h0m3.3-5.2h0m3.1 4.3h0m3.9-.5h0m.6 1.1h0m2.4-1h0m3.8-3.1h0m16.8 3h0m.5-2.2h0m6 .3h0m4.3 3.2h0m7.5-5.7h0m2.1 3.4h0m.8 2.4h0m2.9-3.5h0m1.7-.1h0m3.4-.2h0m.2-1.6h0m2.6 4.1h0m6.4-3.6h0m.9 3.3h0m1.3 .4h0m6.2 1.1h0m2.2-4.5h0m-3.5 5.1h0m-2 2.6h0m-2-1.5h0m-2-.1h0m-10.2 1.2h0m-2 3.2h0m-1.6-5.6h0m-2 .5h0m-.4 3.3h0m-.3-3.2h0m-3.3 3.7h0m-.7-3.7h0m-4.2 .8h0m-5-.9h0m-2.3 .6h0m-1.2 .5h0m-10.1 .5h0m-7-.5h0m-4.2 0h0m-.6-1.1h0m-4 4.6h0m-12.5-3.4h0m-8.4 3.6h0m-11.1-5.1h0m-5.1 2.3h0m-1.2 3.3h0m-26.5-3.2h0m-217.2 1.2h0m-15.4-3.6h0m-.5 1.6h0m-1.5 1.4h0m-2.1 2.6h0m-3.7-3.8h0m-.3 2.8h0m-1.3-.6h0m0-1.4h0m-.3-1.7h0m2.8 5h0m7.4 1.4h0m13.1 1.8h0m1.2-1h0m2.2 1.9h0m4.4-3.5h0m213.2 .3h0m9 2.8h0m15.7 .6h0m2.3-1.3h0m9.3 .4h0m.3 2h0m2.4 .2h0m.6-2.2h0m19.2-.9h0m.2 .2h0m40.3 1.5h0m.6 1.1h0m1-.3h0m.2-.7h0m6-.7h0m1.4-1.2h0m1.5 2.3h0m4.4-3.1h0m2.7 .8h0m.7-.8h0m6 2.5h0m2-2.6h0m1.2-.6h0m-8.4 8.6h0m-1.5 .9h0m-3.1-1.8h0m-1.6-.1h0m-1.7 2.5h0m-2.7-2.7h0m-2.6 1.7h0m-1-3.6h0m-2.6 4.6h0m-7-3.3h0m-2.1 .8h0m-.4 1.4h0m-5.6 .2h0m-4.9 .9h0m-4.4-1.8h0m-.7 .4h0m-2.2-2.2h0m-2.4 2.5h0m-3.3-1.8h0m-9.6-2.2h0m-2.1 1.6h0m-2.6 1h0m-.1 .6h0m-4.3-3h0m-3.5 5h0m-2.2-4.5h0m-1.7 2.1h0m-19.1 .6h0m-3.8 1.6h0m-.6-4.4h0m-2.1 3.7h0m-.8-1.2h0m-6.3-1.1h0m-3.9 2h0m-7.2-.9h0m-209.7-3.2h0m-1.9 2.7h0m-2.3-2.2h0m-4 2.5h0m-1-1.1h0m-.9 3.6h0m-2.6-2.8h0m-5.1 .3h0m-2.2-.7h0m-9.9 2.2h0m-.1 0h0m-.7 1.4h0m-.2-2.3h0m-1.4 5.6h0m.9-1.3h0m12.7 .2h0m4.1-.9h0m5 1.4h0m4.9-.4h0m.7 3.7h0m1.4-2.1h0m.2 1.9h0m.7-3h0m212.3 1.1h0m3.7-.2h0m5.4-.1h0m12.4-2.4h0m3.6 2.3h0m1.4 1h0m5.8 .2h0m4 .8h0m2.4-1.5h0m2.2-1.6h0m3.9-1.8h0m2.6 2.9h0m10-2h0m4.5 3.8h0m1.3-3.1h0m12.8 3.5h0m.6-2.6h0m9.7 1.6h0m6.2 1.2h0m5.1-5.2h0m3.2 1.2h0m5.5 .9h0m5.8-1.4h0m1.7 1.7h0m1 .2h0m-2.8 3.5h0m-2.3 1h0m-1.4 1.5h0m-.9 2.4h0m-1.3-1.5h0m-2.7 1.8h0m0-1.1h0m-1-2.6h0m-5.2 1.3h0m-14.9 1h0m-9.2-3.8h0m-2.9-.3h0m-4.2 5h0m-2.1-1.6h0m-4.2-.9h0m-.7 .7h0m-.3 1.3h0m-.7-3.9h0m-18.3-.7h0m-5.8 1.2h0m-10.7-.8h0m-4.3 3.5h0m-3.4-1.8h0m-229.7 1.9h0m-.2 .1h0m-2.6 .8h0m-2.2-4.7h0m-8.1 4.3h0m-.8 .4h0m-2.7-5.2h0m-1.5 2.6h0m-2.3-.2h0m-1 2.7h0m-6.3-4.8h0m-.9 11.4h0m11-4.7h0m.9 2.5h0m8.8-1.5h0m5.8 .4h0m.8-.5h0m.9 2.8h0m216.9-.1h0m8.4-1.2h0m.7-1.4h0m.4 2.7h0m11.9 .7h0m9-1.3h0m3.8-3h0m12.5 3h0m1.5 .8h0m10.9-4.2h0m1 3.4h0m3.5-2.5h0m1-1h0m.3 1.3h0m.2-.9h0m6.4 2.7h0m13.3 1.4h0m1.8-2.4h0m.1 1.5h0m1.5 .1h0m1.6-1.7h0m2.8 .8h0m2.7 2.5h0m.3-.8h0m.2-3.4h0m.9 3.8h0m1.6-2.6h0m.5 .2h0m-3.7 4.2h0m-.1 4.4h0m-1.2-3.1h0m-1.2 1.1h0m-9.3-3.2h0m-.1-.3h0m-2.1 5.5h0m-8.2-2.5h0m-7.4-.2h0m-9.2-3h0m0 3.2h0m-10.8-2.7h0m-.1 4.1h0m-1.5 .6h0m-.6-.7h0m-5.1 .7h0m-.8-.2h0m-1.2 .6h0m-3.4-2.3h0m-5.4-.5h0m-7.1 3.1h0m-1.8-5.2h0m-10.4 .6h0m-1.2 .3h0m-.4 3.2h0m-7.4-4.2h0m-.1 1.7h0m-1 .4h0m-.5 1.1h0m-217.1 .5h0m-3.8 1.5h0m-2.3-2.3h0m-.1-2.5h0m-2.3 1.3h0m-.5 1.4h0m-6.3-2.5h0m-11.3 4.4h0m.6 3.5h0m.1 .4h0m.7 .8h0m6.9-4.1h0m2.9 0h0m9.9 .4h0m2.2 .1h0m1.8 4.1h0m2-3.5h0m.8-.5h0m1.1 2.6h0m215.6-.9h0m.1 .6h0m3.1-.2h0m10.5 .9h0m5.5 1.3h0m.5-3.6h0m3.7 1.4h0m2.3 1.8h0m7.7 0h0m.3-.9h0m10.2-1.1h0m5.5-1.1h0m1.8-1.6h0m2.8 4.5h0m4.4-1.8h0m7.5 1.1h0m1.9-1.6h0m3-1.1h0m11.4 4h0m2.9 .8h0m.1-.2h0m.3-1.7h0m3.2-2.8h0m1.6 1.5h0m5.1-.7h0m-6 4h0m-.9 1.5h0m-1.2 1h0m-1 1.5h0m-1 1.6h0m-.1-2.4h0m-5.6 1.5h0m-5-.7h0m-.4 1.7h0m-6.2-4.5h0m-2.9 .3h0m-4.5 .1h0m-3.3 .9h0m-.7 .1h0m-.6-1.6h0m-2.3 1.8h0m-3.2-2.5h0m-1.2 4.4h0m-.5-3.1h0m-2.8 3.8h0m0-1.3h0m-.7 1.6h0m-5-5.7h0m-4.1 5.9h0m-1.5 0h0m-.5-2.9h0m-2.3 2.5h0m-7.4-3.2h0m-.9-.9h0m-5.9 1.6h0m-.1 2h0m-2-3.6h0m-4.5 .3h0m-2.9-.6h0m-2.4 3.2h0m-1.1-4h0m-.2 3.3h0m-4.4-.8h0m-.8 .7h0m-.7 1.2h0m-212.3-2.2h0m-.7-.8h0m-10.4 2.6h0m-5.9 1.6h0m-9.3-3.9h0m-.1-2h0m-3.5 2.9h0m-3 8h0m.6-2.4h0m.5 2h0m4.9-.4h0m.9-1h0m1.1 1.1h0m21.9-3.7h0m4.1-.5h0m.3 3.9h0m212.6-2.3h0m3.3-1.2h0m1.9 3.3h0m4.9 1.5h0m.4-1.1h0m3.2-2.4h0m7.3 .9h0m.7 2.4h0m1.6-1.2h0m.2-2.9h0m11.8 .3h0m4.5 .5h0m6.4 1.1h0m2.6 2.6h0m5.1-2.4h0m.6 1.3h0m20.9-1.1h0m4 2.5h0m3.3 1.1h0m-4.6 3.6h0m-.6-4.3h0m-.5 5.7h0m-.1-.7h0m-.1 .5h0m-.5-5.6h0m-.6 2.4h0m-5.7-.9h0m-16.7-.1h0m-3.5 1.7h0m-1.1-.7h0m-2.4-2h0m-2.4 .8h0m-11.4 .9h0m-.4 3.1h0m-2.1 .4h0m-.9-2.9h0m-9.1-.5h0m-3 2.5h0m-.7-3.9h0m-4.8 1.7h0m-.7-.9h0m-11.7-.2h0m-210 .6h0m-18.1 3.7h0m-2.1-.7h0m-7.9-.7h0m-.2-3.4h0m-1.4 2.3h0m-8.2-2.2h0m-1.3-.2h0m-.2 .7h0m6.9 9.8h0m4.5-3.6h0m4.2 1.9h0m1.9-3.2h0m.4 2.4h0m3.9 2.7h0m8.5-3.8h0m7 3.9h0m4.3 .1h0m207.9-2.4h0m1.8-1h0m1.5 1.1h0m3.6-1.2h0m.1-.3h0m2.3-.9h0m1.9 4.5h0m.5-1.2h0m5-2.5h0m5.6 3.1h0m1.8-2h0m7.7 2.8h0m2.7-4.4h0m2.3 .6h0m8.8 .7h0m3.7-.4h0m6.8 1.6h0m6.6-3h0m1.5 4.4h0m4.6-1.1h0m4.2-1.2h0m4.4-1.1h0m-9.2 7.3h0m-5.8-1.8h0m-8.8 3.5h0m-.1-.9h0m-3.4 1.3h0m-4.3-1.8h0m-3.7-1.9h0m-.4 1.5h0m-3.6 2.2h0m-2-2.8h0m-.6-.4h0m-.5-1.9h0m-1.6 3.6h0m-6.8-1.8h0m-.8 1.9h0m-.6 .9h0m-4.3-4.6h0m-13.3 5.7h0m-2.3-4.4h0m-106 3.2h0m-.9-.8h0m-5.7 .6h0m-3.3-.7h0m-98.6-3.3h0m-10.9 3.3h0m-2 1.1h0m-.3-4.6h0m-1.2 3.3h0m-2.7-1.8h0m-7-1.3h0m-6 .9h0m-6.5 0h0m-4.2 .7h0m-2.1-1.2h0m-1.2 3.4h0m-.1 6.7h0m.3-4h0m3.5 3.9h0m1.2-4.3h0m23 3h0m12.6 1.2h0m3.1-4.3h0m3.3 3.9h0m93.9 .2h0m1.5 0h0m.5-3h0m1.7-1.4h0m.3 4.1h0m.3 1.7h0m1-.3h0m1.3-2.4h0m1.1 .8h0m1-2.8h0m1.9 3.9h0m1-2.6h0m103.2-1.3h0m.7 2.3h0m3.3 2.1h0m3.4-4.7h0m.8 1h0m1-1.3h0m15.1 3.2h0m0-1.8h0m3.3 1.6h0m1.7-2.1h0m1.8 4.2h0m1.6-5.2h0m7.3 3.9h0m3.8-4h0m14.3 .7h0m1.3 .1h0m1.4 .3h0m.4 3h0m.1-3.1h0m3.9 .4h0m-2.8 7.8h0m-4.3 2.3h0m-.3-3h0m-4.9-1.6h0m-.4 4.6h0m-4.4-2.9h0m-4-1.7h0m-2.3-.9h0m-.1 4.9h0m-.9-.6h0m-.7-4h0m-1.2 3.7h0m-5.8-2.9h0m-5.3 2.7h0m-.7-2.1h0m-7.2 2.5h0m-1.3-2.9h0m-6.9 .8h0m-1.4 2.1h0m-2.1-3.6h0m-.4 4.1h0m-1.6-4.1h0m-1.7 4.5h0m-1-5.4h0m-105.9 .5h0m-.1 4.7h0m0-1.1h0m-.7-.8h0m-.2 2.1h0m-.4-2.3h0m-.3-.3h0m-1.2-.7h0m-1.2 1.4h0m-.7-.8h0m-.7 .9h0m-1.2 1.7h0m-1.8 .5h0m-.7-.8h0m-.1 .6h0m-1.3 .1h0m-.9-4.7h0m-.3 2.6h0m-1 .1h0m-116.9 1.6h0m-1.5-1.3h0m-6.9 1.2h0m-.2-3.2h0m-9 .3h0m-7.4 0h0m-2.6 3.3h0m.4 4.5h0m.4-1.3h0m7.6 2.4h0m23.3 .6h0m21.7-5.1h0m90.2 1.9h0m.6 2.2h0m.4-1.8h0m.1 1.9h0m.7-2.3h0m.1 2.2h0m.4-3.3h0m.9 .9h0m3.6-1.3h0m1 3.1h0m1.2-2.3h0m1.1 2.6h0m.2-2.2h0m1.2 .3h0m1.5-2.5h0m104 .7h0m.4 2.2h0m.3 .6h0m3.7-.3h0m1.5 .6h0m.5-.9h0m.4-1.7h0m.4 1.5h0m3.3-.2h0m3.8-2.5h0m5.9 5.7h0m7.3-.5h0m4.1-4.7h0m1 1.6h0m8.5 0h0m1.7 3.5h0m3.1-4.4h0m4.3 3.5h0m1.4-1.1h0m1.9 1.9h0m6.4-1.1h0m2.1-3.5h0m1.2 .2h0m.7 1.9h0m.6 1.9h0m-2.4 4.7h0m-.6-3.1h0m-11.6 .9h0m-4.7-.7h0m-2.1 4.2h0m-2.7-4.2h0m-8.5 2.1h0m-1.3-.2h0m-1.6 2.5h0m-4.3-3.6h0m-.7-1h0m-8.3 3.2h0m-3.5-1.8h0m-3.7 2.8h0m-3.1-3.1h0m-1.6 1.7h0m-.3-.6h0m-2.3-2.3h0m-108.6 .4h0m-2 .3h0m-2.9-.5h0m-1.4 1h0m-.9 4h0m-1.3-.7h0m-92.2-2.7h0m-4.2 1.8h0m-2.6 .7h0m-6 .2h0m-20.6-1.3h0m-1.1 .8h0m-9-.9h0m-8.4-1.9h0m-1.8 1.5h0m-4 6.8h0m1.8-3.3h0m1.7 2.3h0m1.6 1.4h0m4.7-2.9h0m1.4-.4h0m137.9 1.5h0m1.7 .4h0m2.9-2.2h0m116.1-.6h0m6.2 .3h0m6.4 0h0m2.2 3.6h0m3.2-3h0m.5 4.5h0m3.6-1.8h0m3.3 1.8h0m.4-4h0m3.1 3h0m1.1-3.9h0m4.4 3.5h0m5.9-1.1h0m3.6 .1h0m.4-2.7h0m8.4 4.5h0m2.3-3.4h0m.7 3.7h0m2-3.9h0m.6 3.5h0m3.7 5.5h0m-3.1-3.3h0m-.3-1.2h0m-3 1.1h0m-.1 2.6h0m-.3 .9h0m-3.9 .9h0m-3.7-1.6h0m-1.1-3.1h0m-5.3-.3h0m-.5 2.3h0m-1.8-2.2h0m-1 2.3h0m-3.9-.8h0m-1.3 .7h0m-5.4-.7h0m-3.7-1.1h0m-3.6-.8h0m-3.4 0h0m-2.9 .8h0m-1.2 4.3h0m-7.3-3h0m-5.4 .7h0m-119.1 1.8h0m-3.7 .2h0m-95.4 .3h0m-2.7-3.6h0m-4.2 3.5h0m-19.2-4.4h0m-4.7 2.8h0m-1.5 2h0m-12.5 .2h0m-.6-2h0m2.9 2.9h0m5.1 2.6h0m4.1 .6h0m4.3-3.6h0m1.4 2.5h0m5.4 1.7h0m2-1.5h0m2.3-2.7h0m.4 .7h0m.7 .4h0m4.1-.3h0m103.5 2.7h0m3.6-3.8h0m.4 2.1h0m125.2 3.3h0m2.3 .3h0m1.8-.4h0m.2-4.3h0m1.3 2.7h0m12.5-3.3h0m5.5 1.3h0m3.1-.5h0m1.8 .4h0m9.3 4h0m.4-1h0m5.9-4.1h0m3.1-.3h0m3.4 2.9h0m1.4 1.7h0m.9-.4h0m6.2 .8h0m2.5-5.2h0m5.7 9.1h0m-.3 2.3h0m-2.4-4h0m-.1 2.7h0m-.9-.9h0m-3.4 2h0m-4.5-5.2h0m-.7 4.1h0m-.6 .4h0m-2.3-2.6h0m-11.1-1.8h0m-31.9 5.3h0m-3.7-2h0m-.7 2.1h0m-1.6-4.2h0m-.2-.5h0m-130.8 3.7h0m-9.6 6.2h0m2.2 1.1h0m4.5-3.6h0m135.4-.9h0m1.3 .2h0m.5 2.8h0m6.8-1.4h0m.1 1.2h0m2.1-1.5h0m1.6-1.4h0m4.1-1.2h0m6.7 5.9h0m.1-2.6h0m4.4 1.6h0m4.9-.3h0m6 1.1h0m3.4-5.4h0m.5 2.1h0m1 .3h0m1.3-.9h0m.8 2.8h0m4.9-4.6h0m14.3 1.1h0m.6 3.3h0m2.2 .6h0m.5-1.6h0m3.4 6.8h0m-.9-.9h0m-3.6 2.3h0m-2.8-.8h0m-.2-3h0m-5.2-.8h0m-2.8 2.4h0m-2.4 1h0m-6.1-2.1h0m-2.5 2h0m-.4-4.3h0m-2.6 5.9h0m-7-2.3h0m-.2 1.5h0m-4.7-.8h0m-7.9-.2h0m-.2-3.1h0m-4.5 .5h0m-3-1.1h0m-150 1.1h0m-7.7 1h0m-1.1 2.6h0m-4.3 4.2h0m4-.2h0m3.4 1.2h0m5.9-.5h0m159.6-2.4h0m.1 1.2h0m1-2.2h0m.9 2.5h0m2.1-.7h0m0 1.2h0m1.4-1.9h0m.5-.1h0m.4 2.1h0m6.6-1.9h0m16.1-1.6h0m.8 1.9h0m3 1.7h0m2.8-.1h0m5.6 2.3h0m3.7-3.6h0m2.5 .3h0m2.1 1.2h0m2.6 2.2h0m3.9 2.1h0m-.4 1.8h0m-.6 2h0m-1.9-4.8h0m-2.9 1.3h0m-3-.1h0m-.5-1.8h0m-1.2 1.1h0m-9.7 3.3h0m-3.5-4.6h0m-1-.1h0m-.6 3.7h0m-.5-.1h0m-1.4-1h0m-4 2.4h0m-3.6-2h0m-5.2 .3h0m-.3-.9h0m-3-1.6h0m-175.2 3.8h0m-1.8 1h0m-2.7-2.6h0m-.9 .6h0m-4.1-3.1h0m-.4 4.1h0m.6 1.9h0m1.1 3.3h0m2.7 .3h0m10.2 1.2h0m25.8-1.9h0m154.7-2.4h0m1.2 .3h0m9.3 4.1h0m.8 .2h0m.2 .1h0m.9-1.3h0m13.5 .5h0m1.6-4.6h0m1.4 4.8h0m5.4-4.5h0m2 2.3h0m2.2 1.2h0m.8-1.6h0m1.4 2h0m2.8 5h0m-1.3-2.6h0m-3.2 4h0m-1.4-2.1h0m-11.6 1.9h0m-3.5-4.5h0m-4.5 1.7h0m-197.7-1h0m27.5 7.7h0m2.3-.1h0m169.3-2.5h0m1.4 3.8h0m3.7 .6h0m1.1-2.6h0m.1-1.8h0m2.5 .5h0m7.9 4.5h0m7.7-1.4h0m3.3 5.4h0m-3.2 2.1h0m-5.5-3.3h0m-5-1.7h0m-1.6 1.7h0m-3.3 3.9h0m-2.9-3h0m-162.5 1h0m-.1-1.2h0m-.6 .3h0m-8.5-.1h0m1.7 6.6h0m.1-3.1h0m.3 .1h0m.2 2.5h0m4.1 .5h0m.3-2.6h0m1.7 1h0m.5 2.6h0m0 1h0m1.2-5.1h0m.8 2.6h0m.4 .6h0m157.1-1h0m.1-2h0m1.2 .5h0m.3 1.6h0m5.4 .9h0m6.6 1.5h0m5.6 .3h0m4.3-5.3h0m-2.4 6.7h0m0 3.3h0m-2.1-.7h0m-3.6-1.6h0m-1.1 1.8h0m-6.6 0h0m-.8-1.4h0m1.2 4.5h0m3.7 .6h0m2.6 2.7h0m6.3-2h0m-214.8 63.5h0m.3-2h0m1-1.6h0m1.4 2.2h0m1.4-2.9h0m2.3-.6h0m1.5 .5h0m0 .3h0m2.1 .4h0m.1 1.4h0m1.2-2.2h0m-4.5 9.2h0m-3.8 1.7h0m-.9-4.2h0m-1.1 1h0m-3.8 2.4h0m-2 .5h0m-4 4.9h0m.9-.8h0m6 .2h0m10.3-.3h0m.1 2.4h0m.1 2.6h0m0 .1h0m-1.2 1h0m-3.5-2.1h0m-6.1-.3h0m-2.2-1.1h0m-1.4 2h0m-1.1 .4h0m-2.3-1.6h0m-.3 .4h0m-2.8 1.2h0m16.5 7.7h0m1.6 1.1h0m-5.1 5.2h0m-.4 .7h0m-.2-4.4h0m-1.2 2.7h0m-.5 1.3h0m-2.3-.4h0m-.5-.4h0m-1-3h0m-1.8 .8h0m-.2 2.7h0m-1-1.8h0m0 1.6h0m-1.9-2.5h0m-1.2 2.9h0m-.8-4.7h0m-2.6 5.5h0m-1.9-5.4h0m-1.8 4.8h0m-1.1-4.3h0m-.7 4.4h0m-2.8 3.1h0m1.6 .5h0m9.2 .4h0m4.1 .8h0m.1-1.1h0m1.9 2.3h0m3.3-.9h0m69.8 5.4h0m-2.4-3h0m-4.4 1.4h0m-2.6 .9h0m-3.2 .6h0m-.9 .3h0m-1.7-1.5h0m-4.5 3.6h0m-51.4-5.4h0m-.5 .7h0m-7.9-.8h0m-3 4.4h0m-3.4-3.6h0m-.5 2.6h0m-2.3-1.6h0m-.2 .9h0m-4.2 .2h0m-2.7 7.2h0m.8-1.1h0m1.4-3.1h0m9.8 1.4h0m1.8 3.5h0m.4-3.4h0m1.6-1.4h0m5.7 3.1h0m8.2 2.4h0m3.2-.1h0m5.5-.6h0m.9 .5h0m38.6-5.5h0m4.4 4.9h0m.9-2h0m.4-.2h0m.9 .5h0m3.9 .5h0m3.1-2.6h0m3.1 2.3h0m.2-3h0m2.6 9.7h0m-.3-3h0m-.5 .1h0m-.5 .8h0m-1.2 .9h0m-1.1-2.1h0m-.2 4.4h0m-.5-.5h0m-.8-.6h0m-2.3-2.4h0m-5.6 2.5h0m-1.2-3.8h0m-5.4 3.4h0m-2-3.3h0m-.5 4.1h0m-.3-2.3h0m-16.3 3.5h0m-15.6-3.3h0m-1.7-1.6h0m-.8 4.9h0m-.8-5.8h0m-1 0h0m-4 5.7h0m-.4-.6h0m-3.7-5h0m-3.8 .2h0m-2 .6h0m-6.6 2.1h0m-.9 .9h0m-3.4 .1h0m-1.7-.1h0m-2.5 1.7h0m-2.3-1.8h0m-7.6-3.2h0m-4.5 5.4h0m2.8 2.6h0m5.9-2.5h0m.7 5h0m1-2.5h0m4.7-2.6h0m4.2 .5h0m.9-.5h0m2.1 3.3h0m3.1-.1h0m.7 1.1h0m1.8-.9h0m.4-1.5h0m2.5 2.1h0m0-3.9h0m2.5 .9h0m2.9 2.5h0m1.7-2.4h0m2.2 4.1h0m3.2-2.3h0m2.9 1.2h0m4.3-.5h0m11 1.1h0m1.3-3.9h0m.9 4.1h0m1.1-3.2h0m.3 1.8h0m1.2-1.6h0m1.2 1.5h0m0-1.4h0m10.1-.3h0m6.6-1.8h0m5.4 3.9h0m6.6-1.3h0m.3-.3h0m.6-1.4h0m-16.8 10h0m-6-3.4h0m-1.1 3.2h0m-2.7-.7h0m-2 1.6h0m-1.3-2.3h0m-1.7 1.3h0m-1-3.6h0m-1.9 .4h0m-1.8 2.7h0m-1.5-1.7h0m-.5 1h0m-1.3 2.1h0m0-.6h0m-1.6-3.1h0m-.5 1.9h0m-10.3-2.4h0m-35.2 .5h0m-1.6-.8h0m-.8 1.2h0m-2.6-.6h0m-5.4-.5h0m57.7 8.1h0m2.1-1h0m4.1 .6h0m4.3 2.1h0m.9-2.3h0m9-1.3h0m0-.5h0m4.7 4.8h0m1.8-3.7h0m1.6 4h0m.3-4h0m1.5 2h0m1.5 .7h0m0-1.6h0m.6-1.9h0m.4 2.1h0m-3.7 6.2h0m-1.6 0h0m-4.2-1.8h0m-3.9 3h0m-.1-2.6h0m-8.7 3h0m-.7-4.6h0m-1.7 2h0m-2.4-1.8h0m3.5 5.7h0m1.8 1.9h0m.7 3.7h0m1.5-2.3h0m0 1.9h0m8.5-.1h0m2-1.1h0m2.8-2.3h0m-4.3 7.2h0m0-.3h0m-4.6 2.4h0m-.1-2.3h0m0 .2h0m-1.2 1.2h0m-1.3 .6h0m0-3.5h0m-.1 .1h0m-.9 1h0m-1 .5h0m-.1-2.5h0m-5.5 5.1h0m2.3 4.8h0m.2-1.4h0m.4 .5h0m1.2-.5h0m.9-2.9h0m5.1 .3h0m-7.3 6.8h0m-.1 4.2h0m-.7-3.3h0m-.4-.1h0m-2.2 .4h0m1.6 7.5h0m1.9 1.1h0m.1-2h0m.1-.9h0m.5 .1h0m.2-1.3h0m92 8.9h0m-5.7-1h0m-4.1 1.4h0m-82.4-2.4h0m-2.6 .8h0m-1.1-1h0m-.6 8.4h0m.4 1.7h0m1.4-4.1h0m78.3-1.5h0m.4 4h0m1.3-1.9h0m8.9 3.2h0m.5-4.1h0m.2 3.4h0m1.5 1.8h0m-1.5-.5h0m-12.8 .9h0m-77.2 .4h0m-2-.5h0m-1.3 0h0" stroke="#C77CFF" stroke-width="3.1" stroke-linecap="round" fill="none"/>
<path d="M251.8 91.9h0m-2 2.1h0m-22.7 2.9h0m-23 17.3h0m28.7 9.5h0m182 88.1h0m-11.2 2.7h0m-4.5 3.2h0m1.1 3.7h0m-8.9 2.6h0m-9.8 15.7h0m38.8 10.4h0m-17.4 5.1h0m-4.3 5h0m27.8 4.7h0m22.7 5.1h0m-44.4 7.5h0m86.2 21h0m-56.7-.3h0m-.3 3.6h0m22.4-1h0m-66.1 24.9h0m-238.4 14.7h0m292.6 15.9h0m-306.8 4.5h0m342.6 .3h0m-327.8 13.1h0m271.5 6.5h0m-8.7 1.2h0m-11.9 5h0m18.7 19.1h0m-38.1-.7h0m25.5 3.3h0m-17.7 10.9h0m10.6 1.9h0m20.6 9.3h0m-274.6-4.2h0m272.6 7h0m24 7.7h0m-318.5 17.7h0m292.9 1h0m32.4 .6h0m-12.1 6.9h0m32.1 22.6h0m-211.8-2.1h0m1.1 7.4h0m201.6 1.9h0m13.7 13h0m10.1 9.2h0m-220.5 76.9h0m-16.7 21.8h0m6.1 6.9h0m12.8-.4h0m-21.2 9.6h0m-2.6 5.4h0m.8-1.9h0m11.2 3h0m6.6 .5h0m67.6-.7h0m.7 .5h0m-36.6 5h0m-4.5-1.2h0m-4.8-.8h0m-.7 3.7h0m-2.7-.9h0m-1.1-1h0m-5.8-.2h0m-9.1 .5h0m-9.2-3.5h0m-.3 .3h0m-.6 4.8h0m-5.7 4.8h0m0-2.2h0m4-.5h0m1.5 1.2h0m7 .8h0m4.4 1h0m1.1-1.6h0m1.4 .5h0m1 0h0m2-1.4h0m2.3-.7h0m3.9 4.1h0m.8-4.1h0m.6 1.8h0m.9-1.6h0m4.9-.5h0m.2 4.2h0m7.5-.7h0m.2-.9h0m4.4 .1h0m1.1-2.4h0m2.6 3h0m7.7-.1h0m4.4-4.5h0m1.4 3.2h0m2.5 2.5h0m-11.5 4.6h0m-4.5-1.8h0m-1.1 .1h0m-1.9-2.3h0m-3 .3h0m-1 5h0m-4.2-4.4h0m-.4 1.6h0m-.2 2.1h0m-51.9-4h0m55.3 6.9h0m4.2 2h0m8.9 1.3h0m2.5 3.1h0m6.6 6.6h0m-10.9 3.8h0m-3.3 4.6h0m-3.2 10.7h0" stroke="#F8766D" stroke-width="3.1" stroke-linecap="round" fill="none"/>
<path d="M232 70.3h0m-2.2 1.3h0m-.9 .2h0m-7.9 5.8h0m.3-1.6h0m2.3-1.9h0m2.4 2h0m.3-3h0m3.7-.9h0m1.7 4.7h0m.9-1.6h0m.2-1.7h0m3.1 3.2h0m.9-4.1h0m3.1 1.2h0m1.9 2.2h0m.8 1.6h0m.6-3.5h0m.9 2.7h0m.3 0h0m1 .7h0m2.8 5.7h0m-4.3 0h0m-1.3-3.6h0m-.3 2.3h0m-4.8-1.6h0m-3.9 1.6h0m-1.1-.1h0m-10.6 1.6h0m-.6-4h0m-1.5 .5h0m-2.1 .7h0m-2.1 2.9h0m-.3-.8h0m-.8-1.5h0m.6 4.8h0m6 2h0m4.3-.5h0m2.7 1.7h0m3.3-3.9h0m0-.8h0m6.9-.1h0m2.1 .1h0m5.1 5.2h0m3.5-5.4h0m2.2 3h0m.4 8.3h0m-1.1-3.3h0m-.1-.9h0m-2 4.1h0m-1.6-2.4h0m-7.1-2.1h0m-4 1.9h0m-5.5 2.7h0m-3.4-3.1h0m-1.8-.2h0m-6.6 2h0m-4.2-1.8h0m-4.4 1.6h0m9 3.1h0m2.1-.6h0m11.8 3.1h0m.2-2.1h0m1.6 3.6h0m5.9-2.4h0m4.5-2.7h0m3.6-.2h0m3.1 4.3h0m-1.1 3.9h0m-1.3-1.4h0m-1 3.7h0m-.2-4.3h0m-1.5 2.4h0m-.6 .7h0m-12.1-.1h0m-.3-2.4h0m-.6 3.8h0m-.8-3.2h0m-2.3-1.3h0m-.6 4.5h0m-.1-2.4h0m-2.2-1.3h0m-6.2 4.4h0m-.2-1.6h0m-5.8 .8h0m-8.5-.7h0m-3.6 1.3h0m-3.3-1.9h0m-2 4.3h0m3.8 .2h0m15.2 3.5h0m.6-1.8h0m1.6-1.5h0m6.6 3.2h0m2.4-3.7h0m1.5-1.1h0m1.1 1.2h0m3.5-.2h0m2.9 .4h0m.4-.7h0m1.6 3.8h0m.1-3.5h0m3.4 4.1h0m3.7-3h0m2.3-.5h0m-3.9 4.8h0m-1.4-.4h0m-1.7 .8h0m-2.8 .4h0m-4.6 2.1h0m-5.8 .3h0m-5.7-2.5h0m-.3 2h0m-2.5-1h0m-.3 .8h0m-.2-2.6h0m-2.1 4h0m-.2-3.6h0m-2.7 .1h0m-12.3-.4h0m-6.1 3.8h0m-3-2.8h0m-1.4 .3h0m-6.9 9.9h0m1.1-1.7h0m.7-4.1h0m3.2 5h0m1.1-1.2h0m8.2 .2h0m2.6 .8h0m10.3-4.1h0m1.6 3.9h0m5-4.1h0m.3 3.2h0m2.2 1.7h0m5.4-4.6h0m4.9 4.8h0m3-5.6h0m.5 5.1h0m3.5 .6h0m.1-2.6h0m.7 1.2h0m.8 .4h0m3-3.5h0m-8.1 9.9h0m-.8-.1h0m-.4-4.8h0m-1.5 4.9h0m-.3-3.1h0m-2.5-.7h0m-.3-1.4h0m-3.6 .2h0m-4.5 3.3h0m-2.7-.6h0m-2.2-.7h0m-9.6-.7h0m-2.9 3.2h0m-4.6-2.4h0m-14.3-1.8h0m-.7 5h0m1.3 1.4h0m4 2.2h0m2.5-2.3h0m14.9 3h0m5.9-1.8h0m.6 2.5h0m1.9-2.6h0m10.7 1.9h0m.8-2.2h0m.6 2.3h0m2.6 0h0m1 .5h0m1.8-.7h0m156.7 5.4h0m-157-3h0m-5.9 .6h0m-8.4 3h0m-2-1h0m-.6-.8h0m-8.7 3.8h0m-12.6-1.3h0m-9-1.2h0m-.6 1.3h0m0-2h0m-1.6 3h0m-2.3-5.5h0m-1.3 3.5h0m-.1 1.3h0m-.5-1.3h0m6.3 7.5h0m10.6-3.5h0m4.4-.5h0m5.8 3.8h0m3.4-1.6h0m4.6-2.9h0m-9.6 11.5h0m-20.2-1.3h0m-2-.7h0m-.4-3.6h0m-.1 5.7h0m-1.4-5.9h0m1.3 7.3h0m.5-.8h0m6.7-.5h0m7.3 3.9h0m25.3 0h0m2.1 1.5h0m156.7 .1h0m4.4 3.4h0m-195.3-2.9h0m-1.9 0h0m-3.2 1.6h0m6 5.8h0m1.4-1.1h0m60.8 1.7h0m1.4 1.4h0m12.3 1.6h0m138 .1h0m-212.3 2h0m-1.1 4h0m-1.1-3.4h0m-1.2 3.3h0m2.4 1.7h0m1 1.8h0m.4 2.4h0m3.5-1h0m.3-1.6h0m1 2.1h0m.6 .2h0m1.9 .2h0m15.2 .9h0m36.9-1.6h0m155.2 5.4h0m-145.2 .4h0m-13.2-3.7h0m-29 4.2h0m-2.9 1.1h0m-12-3.6h0m-5.1 1.6h0m-.8-2.1h0m-.5 1.4h0m-2.8-2.8h0m5 7.6h0m1.4-.7h0m5.6-.6h0m.4 2.2h0m.5 3.4h0m1.1-2.9h0m.9 2.7h0m4.5-1.9h0m1.3-2.1h0m191.2 5.5h0m-4.4-.3h0m-31.3-.8h0m31.6 6.1h0m7.4 1.4h0m.3 .1h0m2.8-.3h0m1.1 10.4h0m-4.2-.2h0m-.1-3.2h0m-2.1-1.8h0m-.8 .1h0m-1.9 3.5h0m-1.3 .3h0m-6-4.5h0m-13.1 7.3h0m9.6 3.6h0m7.7-.7h0m6.4-2.5h0m3.5-1.7h0m1.5 4.5h0m5.1 6.3h0m-1.6-2.8h0m-1.2 2.9h0m-3.5-.5h0m-1.6-4.4h0m-4.4 4.8h0m-24.7 3.2h0m28.7 2.4h0m.2-2.6h0m.3 2.2h0m1.1-.5h0m1.2 .8h0m1.4-3.8h0m7.4 2.6h0m.8 1.9h0m.8 .1h0m3.1 5.4h0m-4.2 1.4h0m-.3-5.8h0m-3.9 2.5h0m-8.9-1.8h0m-2.2 3h0m-8.6 1h0m-28.2 .2h0m51.9 6.7h0m.7 .1h0m4.6-1.1h0m4.5-.8h0m1.4 1.5h0m6.3 5.2h0m-.6 1h0m-2.6-1.4h0m-4.6-1.4h0m-.2-2.5h0m-3.5 1.9h0m-5.9-1.7h0m-1.8 1.7h0m-1.1 0h0m-4.8 2.9h0m-7.7 .2h0m-.8-4.6h0m-5 2.2h0m-6-2.1h0m-1.9 .1h0m-6.4 8h0m3.8-2.2h0m4.6 2.6h0m3.3 1.7h0m1-2.9h0m11.5 0h0m7.6 2.9h0m4.1-3h0m6.9-1h0m1.8 3.1h0m.3-2.7h0m.5 3.1h0m1.9-1.2h0m.2-1.9h0m.4-.4h0m3.8 2.2h0m5.1 0h0m6 6.2h0m-1.8-2.1h0m-.3 .2h0m-2.4 4h0m-5.5-2.6h0m-5.5 1.4h0m-1.3-2.3h0m-4.9-1.2h0m-1 3.4h0m-17.3-1.7h0m-3.3-1.3h0m-1.1 3.3h0m-9-2.2h0m-23.1 7h0m11.1-.7h0m13.2 3h0m5-4.4h0m1.6 .8h0m10.2 .1h0m8.6-1.2h0m.1 2.1h0m1.4 1.8h0m8.3-1.5h0m.2 2.1h0m3.1-4.1h0m3.7 3.5h0m1.2-1.6h0m6 1.5h0m4.4 6h0m-.7-.5h0m-1.6 0h0m-.2-1.1h0m-1.5 .7h0m-5.7-1.9h0m-7.4 2.8h0m-3.2 .1h0m-6.1-4.1h0m-1.2 4.4h0m-.4-.4h0m-2.3-.7h0m-4.2-.5h0m-4.6 1.9h0m-17.3-2.6h0m-21.1 8.4h0m.3-5.1h0m39.9 2.7h0m17.4-.2h0m.2-2.6h0m.6 5.8h0m7-4.4h0m0 .4h0m.5 1.2h0m.9 .3h0m1.1 2h0m2.2-3.9h0m.2-1.4h0m.6 2.6h0m2.8-2.1h0m3.6 .4h0m1 .6h0m.3 4.1h0m4.2-2.3h0m3.6 6.4h0m-1.4 2.1h0m-1.3-1h0m-6.2-.9h0m-.2-2.6h0m-2.1-.7h0m-.1 2.6h0m-2-1.3h0m-.7 1.3h0m-4.8-1.4h0m-17-.4h0m-9.3 3h0m-40.6-4.1h0m0 4.7h0m-120.9 6.2h0m128.9-3.8h0m6.6 .9h0m3.7-.6h0m3.7-1.4h0m3.5-.3h0m22.4 4.2h0m21.1-.1h0m5.7 .6h0m1.2 .4h0m4.4-1.9h0m1-2.1h0m2.8 4.5h0m.7-1.2h0m7.3-.7h0m2.3 .2h0m17.7 4.2h0m-33.7-1.1h0m-1.9-.8h0m-7.3-.1h0m-2.8 .4h0m-6 1.8h0m-.2-.6h0m-26.3 .3h0m-1.6-.2h0m-2.7 1.2h0m-6.6 2h0m-6.6-3.5h0m-134.1 2.5h0m-.3-3h0m-.4 2h0m-3.1 1h0m-1.1 .1h0m-.7-.5h0m-2.9-1.7h0m-1 .6h0m-135.3 8.3h0m143.3-4.7h0m2.3 1.5h0m.2 4h0m2-1.2h0m122.1 0h0m3.8-3.1h0m20.5 .2h0m16.2-1h0m21.2 .6h0m6.6 .3h0m12.2 .8h0m-20 6.9h0m-2.1 .7h0m-1.1 .3h0m-22.2-1.4h0m-5 .6h0m-19.9 .8h0m-15.2-2.8h0m-100 .2h0m-2.3-1.5h0m-2.4 5h0m-5.7-.7h0m-.5 1.3h0m-1.6-1.6h0m-1.1-3.2h0m-.7 1.9h0m-3.3-1.1h0m-8.2-.5h0m-1 3.7h0m-2-.1h0m-2.2-3.1h0m-5.9 2.7h0m-82.6 .9h0m-14.8-.1h0m-23.2-3.4h0m-.1 4.2h0m-7-5.3h0m-.3 2.4h0m9 5.3h0m.7 2.7h0m3.5-2.8h0m4.9 1.1h0m8.6 1.9h0m99.2-2.6h0m1.4-2.4h0m4 1h0m.2 1.9h0m1.7-3.1h0m4.1 2.3h0m.3 2.5h0m2.7 .2h0m1.8 .8h0m4-.6h0m.6-.6h0m1.5 0h0m1.6-2.4h0m2-1.4h0m3.1 3h0m1.6 1.1h0m1.6-2.2h0m.2 2.7h0m.6-1.6h0m1.2 .4h0m.3 .5h0m2.1-3h0m.4 2.7h0m1.6 .3h0m.5-3.9h0m3.3 3.4h0m1.4 .1h0m106.6-3.3h0m9 4.5h0m9-.9h0m4.8-.8h0m3.3 1h0m3.5 1.1h0m8.1-2.5h0m.1-3.1h0m6-.1h0m3.7 3.2h0m43.6-3.1h0m9.5 2.5h0m-48.9 3.7h0m-1.6-.1h0m-30.9 2.5h0m-4.7 2.1h0m-18.1-4.3h0m-110.4-.1h0m-4.9-.6h0m-22.2 3.2h0m-103.1-2.2h0m-1.6-.2h0m-11.1 .8h0m5.9 7.9h0m6.7-2.4h0m1.6 1.6h0m89.4-2.7h0m3.3 .5h0m2.3 4.3h0m2.4-2.2h0m3 2.6h0m1.4-4.8h0m2.1 4.5h0m.6-3.1h0m2.6 3.9h0m124.9-1.3h0m17.7 .7h0m110.8-3h0m-15.3 7.3h0m-57.5 1h0m-5.3-3.6h0m-21.4 3.6h0m-5.3-2.5h0m-12.4 3.2h0m-240.1-2.8h0m-3.1 .8h0m-.4 2.6h0m-2.1-1.1h0m-5.6-1.4h0m6.5 3.9h0m21.2 .8h0m2.3 1h0m225.9 1.4h0m2.4 .1h0m14-1.2h0m6.8 .7h0m8.7-2h0m4 .3h0m13.1 3.6h0m31.1-4.8h0m33.9 6.7h0m-80.6-.2h0m-2.1-.8h0m-1.4 .7h0m-23.6 1.7h0m-7.3 1.4h0m-7.7-2.6h0m-224.7 .3h0m-8.6 3.5h0m-18.3-5.4h0m4.6 6.1h0m.5 0h0m1.9 1.3h0m2.2 .9h0m2.2-2.4h0m13.2 5h0m235.5-3h0m12.6-1.7h0m13.7 4.5h0m1.2-2.9h0m6.8 1.5h0m7.4-1.5h0m5.7 .7h0m1.1 1.1h0m3.2 1.9h0m57.2-4.6h0m-25.1 7.7h0m-33-2.6h0m-.6 1.6h0m-10.8 3.7h0m-8.9-2.7h0m-22.4 1h0m-13.7-2.4h0m-225.9-.5h0m-9.1 .4h0m-15.8 10.2h0m10-4.3h0m12.4 3.2h0m234.3 1.3h0m5.2-4.4h0m4.9-.2h0m24.9 1h0m.2 .3h0m5.8 3.1h0m16.6-2.6h0m3.4 .2h0m20.4 4.2h0m-21 2.1h0m-7.5-.5h0m-2-1.5h0m-3.5 2.5h0m-6.5 .2h0m-3.2-3.5h0m-6.4 .5h0m-22.9 2.9h0m-10.9 .4h0m-8.5-2.6h0m-4.4 .7h0m-214.5-2.3h0m-29 2.4h0m1.9 4.6h0m12.5-.4h0m14.9 2.2h0m221.7 1.6h0m8.7-2h0m.7-1.9h0m14.5 2.9h0m12 .6h0m30.2-2.3h0m1 2.5h0m21.7 7h0m-8.2-1h0m-.2-2.4h0m-7.6 1.8h0m-9.8 .3h0m-16.9-.4h0m-16.2 .2h0m-1.9-3.3h0m-3.9 2.9h0m-2.5-1.2h0m-10.8-2.2h0m-4.4 .3h0m-6.2 5.4h0m-1.4-2.6h0m-7.3 .7h0m-216.8-2.4h0m-6.5 3.2h0m-.8-4.3h0m-4.5 2.7h0m-3.4 1.9h0m-5.2 0h0m-3.5-2.8h0m-1.7 4.3h0m29.9 1.9h0m216.9 .9h0m2.5 0h0m8.3-1.3h0m7.3 1.7h0m5.9-1.4h0m4.4 1.9h0m4.7-1.8h0m15.7-1.2h0m9.5 .2h0m2.3 2.7h0m.8-.9h0m6-.5h0m1.5 .3h0m4.6 2.3h0m14.9-2.4h0m1.2 1.4h0m.9 .3h0m-14.7 5.9h0m-.9-.5h0m-10.3-.2h0m-1-2.1h0m-6.4 3.8h0m-8.2-3.2h0m-10.3 2.1h0m-4.5-1.3h0m-.2 0h0m-5.7 2.6h0m-12-4h0m-1.5 2.1h0m-1.2-3.7h0m-.5-.1h0m-4.9 1.1h0m-7.4-.1h0m-1 2.8h0m-1.4-1.7h0m-237.6 2.6h0m-2.9-3.4h0m-2.6 6.1h0m11.7-.7h0m4.3 1h0m11.3 2.4h0m2.9-1.6h0m214.9-2.2h0m23.6 3.8h0m9.8-3.6h0m3.2-.2h0m9.4 4h0m3.5-3.1h0m2.8 0h0m9.9 2.2h0m12.4-2.7h0m.4 4.4h0m4.2-4.3h0m2.6 .1h0m-7.7 5.5h0m-3.5 .6h0m-1-.6h0m-.1 5.1h0m-2.5-2.8h0m-3.7 2.2h0m-2.8-.6h0m-4.7-.9h0m-.3 .6h0m-10-.9h0m-.1-2.1h0m-4.3 4.2h0m-.1-4.1h0m-8.1 1.5h0m-3.6 1.9h0m-.9-2.5h0m-2.7-.4h0m-13.5 3.5h0m-.1-2.2h0m-13.8 1h0m-212.6-2.9h0m-.4 2.3h0m-37.8 2.4h0m13.4 3.3h0m26.3-1.5h0m2 1.5h0m208.7 1.6h0m7.8 1.1h0m8.2-2.8h0m2.2 2.2h0m2.6-2.9h0m10.7 3.5h0m1.6 .1h0m3.9-2.7h0m5.2-3h0m6.8 2.6h0m.5 1.9h0m22.8 1.2h0m2.1-4.9h0m-10.2 9.3h0m-5.4 .5h0m-2.2-4.8h0m-2.8 2.6h0m-8-1.5h0m-3 4.5h0m-10.1-1.9h0m-4.7-2.5h0m-3.9 .1h0m-10.1 1.4h0m-.4 1.6h0m-2.9-2.2h0m-8.2-.1h0m-1.5 2.8h0m-.1-.2h0m-225.1-.4h0m-30.5 2.6h0m13.7 2.9h0m6.6 1.1h0m2.7-2h0m6.1 .7h0m17.1-3.2h0m1 4h0m211.2-.6h0m16-2.8h0m1.9 .2h0m5.1-.8h0m6.6 2.9h0m4.6-2.1h0m4.8 3.4h0m4.4-2h0m3.5 .7h0m7.1 .8h0m1.9 1.4h0m5.1 .5h0m.2-2.7h0m1.8 .5h0m-1.6 5.2h0m-3.3-2.5h0m-3.3 2.6h0m-8.8-1.8h0m-.7 2.3h0m-.1-2.8h0m-.3-.2h0m-3.8 5.4h0m-7.8-5.6h0m-18.8 .4h0m-.3 4.8h0m-4.2-2.6h0m-.1-2.7h0m-9.4 3.2h0m-1.1 .9h0m-241.5 7.2h0m256.2-4.9h0m9.6 .8h0m.8 2.2h0m10.7 1.4h0m4-1.2h0m2.4 2h0m2.2-1.4h0m17.8-.5h0m-8.4 5.2h0m-1-.9h0m-4.9 1h0m-1 1.4h0m-5.5 .6h0m-7.1-.8h0m-1.9-.3h0m-17.2-2.3h0m-225.3 2h0m-25.5 1.2h0m-3.4-1.7h0m-26.6-.8h0m2.2 4.5h0m49.8 4.1h0m3.3-4.7h0m212.7 2.5h0m15.1 .7h0m4.5-1.1h0m2.6 3.4h0m7.9-2.1h0m5.3 .8h0m5.9-4.1h0m18.6 3.5h0m1.8 5.8h0m-1.8 1.4h0m-16.1-4.9h0m-2-.1h0m-2.6 .9h0m-4.4 3.9h0m-2.1-2.1h0m-2.2 1.3h0m-5.7-2.8h0m-.7 2.1h0m-2.1-1h0m-2.2 .2h0m-7.6-2.7h0m-.1 3.7h0m-1.7-.3h0m-245.4 2.1h0m-14.2 6.1h0m8.5 0h0m13.8-4.8h0m240.5-.7h0m15.5 3.2h0m5.6 1.5h0m3.4 0h0m6.6-4.3h0m4.3 1.7h0m3.1 2.8h0m1.9 0h0m4.4-1.9h0m3.3 2.3h0m.6-4.2h0m2 .7h0m10.4 8.5h0m-1.3 .2h0m-.3-1h0m-7.8-3.6h0m-3.7 2.3h0m-.6 1.4h0m-1.7-2.6h0m-3.1 1.3h0m-2.3-.4h0m0 1.3h0m0-.3h0m-2-2.4h0m-1 3.1h0m-.5 .3h0m-.5-.4h0m-.8-.6h0m-10 1h0m-34.1-.4h0m-141.8 6.7h0m147.4-4.2h0m38.9 1h0m.6 4.3h0m9 .1h0m2.1-3h0m2.2-.5h0m6.2 .7h0m1.9 1.5h0m.7-4.1h0m.9 3.5h0m2.8 4.8h0m-3.7 3.1h0m-4.4-4.6h0m-.7 5h0m-1.8-.2h0m-.9-4.4h0m-1.1-.4h0m-.6 4h0m-1.1-1.5h0m-7.6-3.2h0m-8.3 2.3h0m-4.5 1h0m-17.2-1.3h0m-164.5 3.4h0m180.7 5.9h0m2.6-.5h0m.4-1.2h0m.1 1.4h0m3.1 .1h0m9.6-2.2h0m9.7-2.8h0m1 1.9h0m.8 2.9h0m5-2.2h0m2.1 2.5h0m3.1-5.3h0m6.4 4.6h0m-2.6 2.3h0m-.7 .7h0m-.7 3.4h0m-10.8-5.1h0m-.6 1.9h0m-1.2 3h0m-.6-3.8h0m-.6 .4h0m-.3 1.3h0m-1.7 1.3h0m-4.9-1.6h0m-4.3 3h0m-2-4.4h0m-2.3 4.9h0m2.8 .5h0m.5 3.2h0m.8-2.3h0m3.6-1.4h0m.1 4.1h0m3.6 .7h0m3.1-1.7h0m3.7 2.3h0m2.9-.9h0m1.6-3.7h0m1.4 1.1h0m4.7 .5h0m0 .3h0m.5-.6h0m1.3 3.2h0m.3-4.7h0m.2-.3h0m3.3 4.1h0m2.2-4.4h0m1.8 3.2h0m5.1 0h0m.8 2.5h0m.9 1.2h0m-4.2 1.7h0m-1.2 .7h0m-.8 .7h0m-4.9-3.8h0m-5.8 1h0m0-.9h0m-1.2 3h0m-2.7-2.7h0m-1 0h0m-.9 .6h0m-1.1 .4h0m-2 1h0m-4.2-1.4h0m-4.7-.1h0m-163.1 3.1h0m5.2 4h0m171.3-2.1h0m.5 3.9h0m1.2 .4h0m3.9-1.8h0m.6 .4h0m.8-.7h0m13.1 3h0m4.1-2.2h0m.4 1.1h0m.7-3.9h0m-.1 9.5h0m-.3-2.1h0m-6.9 .7h0m-.8 2h0m-1.8 .4h0m-.9-.2h0m-.1-4h0m-.7 3.7h0m-12.1-2.9h0m-165.1 1.2h0m166.2 5.6h0m.3-.8h0m.9 2h0m7.5-.9h0m3.5-.9h0m.4 .4h0m.8 3h0m4.2-.1h0m.9-4h0m.5 2.1h0m3-1.6h0m-2.3 4.6h0m-8.5 2.5h0m-3.3 2.6h0m-1.9-4.6h0m2.8 6.9h0m2.3 4.4h0m1.8-.3h0m5.1-1.4h0m.3-3.3h0m.2 .2h0m1.2 .7h0m.2 3.2h0m.7-4.3h0m.4 6.8h0m-1.4-1.3h0m-3.4 2.9h0m-2.8-2.3h0m-210.1 59.1h0m12.9-5.3h0m-4.9 8.3h0m-10.3 3.1h0m-2.8 2.1h0m2.5-1.2h0m3.1 4.6h0m2.8-1.8h0m0 .4h0m5.6-2.7h0m2.3 3.2h0m-.3 6.1h0m-1.1 0h0m-1.2-.9h0m-13.1 .8h0m-3.1-3.4h0m-7.1 7.4h0m2.6 1.1h0m14.7-2.4h0m1.5 5.7h0m-11.7 1.5h0m-1.8 1.6h0m-11.3 6.5h0m3.4-1.3h0m2.4 1.5h0m3.6 .1h0m5.1-2.1h0m79 8.1h0m-2.1 1.1h0m-1.5-1h0m-2.1-3.8h0m-1.4 .2h0m-4-1.1h0m-3.2 .7h0m-1.5 4.5h0m-6.1-1h0m-.1 1.4h0m-53.2-.4h0m-20.9-3.2h0m-3.9 6.4h0m3.8 3.1h0m2.3-.3h0m14.9-2.4h0m57 1.4h0m14.9 1.2h0m1.4-5.5h0m6.5 2.8h0m-7.2 4h0m-2.3 3.8h0m-1.7 1.1h0m-10.8-1.9h0m-2.6-3.3h0m-29.5 2.3h0m-4.1 0h0m-2.8-2.5h0m-3 4.9h0m-1.2-4.4h0m-.8-.3h0m-9.8-.4h0m-3.3 .6h0m-2.5 .1h0m-3.1 1.3h0m-15.6 1.8h0m-3.9 2.4h0m12.7 4.5h0m.2-.3h0m6.6-2.1h0m.8-1.1h0m.5-.9h0m13.2 4.7h0m1.4-4.6h0m5.1 5h0m3.8-2h0m10.2 2.3h0m.3-1.1h0m1.3-3.6h0m.5 2.9h0m9.8-.8h0m1.2 0h0m.1 1.1h0m15.1-1.9h0m6 1.7h0m2.4 .5h0m.6-1.2h0m2.7-.7h0m-3.2 7.4h0m-5.9-2.9h0m-15 1.7h0m-.3-1.9h0m-6.2-.7h0m-.8 5h0m-2.6-2.8h0m-.4 2.2h0m-4.1-2.7h0m-.2-1.2h0m-1.5 2.2h0m-.4-1.5h0m-5.6-.7h0m-43.8 2.5h0m51.8 3.2h0m1.9-.2h0m2.3 2h0m7.9-1.4h0m8.3 2h0m4.5 8.4h0m-12.1-1.4h0m-3.7-.8h0m1.9 3.3h0m.1 .8h0m4.7 0h0m2.5-.7h0m2.5 8.6h0m-9.5 4.7h0m-1.7 7.9h0m-.3 1.6h0m-.5 2.3h0m93.4 8.2h0m-.3 .7h0m-95.3-1.2h0m-1.4 1.7h0m1.3 3.4h0m94.1-.5h0m1.4-.8h0m.4 4h0m-7.5 2.7h0" stroke="#7CAE00" stroke-width="3.1" stroke-linecap="round" fill="none"/>
<path d="M233.3 73.2h0m10.6 10.5h0m-13.5-4.7h0m-7.1-.4h0m-4.6 2.6h0m-1.7-1.3h0m-.8 7.1h0m25.4-1.7h0m9.2 2.3h0m.1 7h0m-1.4 .9h0m-7.2-1.6h0m-.6-.1h0m-5.6 1.7h0m-4.1-3.9h0m-10.2 3.7h0m-8-4.4h0m-5 1.2h0m-.2 3.8h0m-5.4 5.7h0m1-1.8h0m3.3-.3h0m1.3-1.7h0m1-1.2h0m1.8 2.2h0m21 7h0m-17.3-2.5h0m-2.8-.7h0m-2.4 3.3h0m-6 2.2h0m3.5 1.5h0m17.5 .9h0m4.7 3.1h0m1.2-4.8h0m10 4.9h0m5.4-5.3h0m-5.9 10h0m-9.2-2h0m-4.4 3.4h0m-23.6-2.9h0m-1.3 0h0m-3.6-2.8h0m-2.3 .6h0m-4.7 2.6h0m-.9 2.3h0m-.5-1.9h0m-4.5 6.2h0m17.1-2.4h0m1.3 2h0m1.1 .2h0m3.4-1h0m1.9 1.1h0m5.7 1.2h0m7.5-2.3h0m9.7 5.6h0m0 .1h0m-.7 1.7h0m-5.9 .2h0m-4.1 .8h0m-.7-4.3h0m-8.1-.2h0m-3.9 2.6h0m-7.5 .7h0m-2.5 1.3h0m-5.8-.7h0m-6.9-1.4h0m-4.6 2h0m-1.6-2.4h0m-.9 .8h0m5.1 4.1h0m8.9-.5h0m5.9 1.7h0m4.7 .6h0m1 0h0m.4-2.4h0m1.6-.2h0m8.4-.1h0m14.6 6.9h0m-23.6 3.8h0m-15.9 1.7h0m4.6 3.3h0m3.4-2.6h0m8.4-1.8h0m10.1 3.3h0m170.3 7.8h0m-176-.5h0m-11.5-1.9h0m-7.4-.5h0m-1.9 3.5h0m29.5 5.9h0m178.8-1.7h0m-27.4 2.6h0m-188.8 .1h0m2.8 7.8h0m13.6 2h0m42.5 .1h0m8.4-1.8h0m1 2.3h0m1.9-1.3h0m5.4-2.7h0m.5 2h0m.8-2.3h0m2.6 1.1h0m.1-1.5h0m131.6-.1h0m-25.1 8.4h0m-94.5 1.3h0m-2.6 .2h0m-1.7-1.3h0m-1.1-.1h0m-.3-2h0m-2 3h0m-.4 1.5h0m-1.9 .2h0m-2.2-4.8h0m-8.8 4.3h0m-1.6-2.4h0m-.2 1.2h0m-5.7-2.4h0m-.5 3.8h0m-1.4-.9h0m-23.7-3.8h0m-32.6 2.4h0m11.6 8.3h0m12.3-4.4h0m6.8-.6h0m29.7 2.1h0m2.5-1.5h0m7.3 2.9h0m1.7-.6h0m5.7 2.3h0m.5-3.7h0m.6-.3h0m1.9 3.4h0m.3-3.2h0m4.4 1h0m128.9 2.7h0m4.5-2h0m.7 6.3h0m-28.5-.5h0m-116.6-.8h0m-6.1 .4h0m-1-.8h0m-.6-1.6h0m-1.2 1.2h0m-.8-.8h0m-36.2 2.9h0m-6.5 2.2h0m-10.1 1.8h0m67.1-1h0m137 .4h0m-.8 7.4h0m-39.3 6.6h0m31.1 2h0m4.5-2.7h0m1.3 3.4h0m3.3-1.1h0m.4-2.5h0m5.5 1.8h0m1.4-.5h0m4.6 6.7h0m-1.7 .5h0m-.9-1.8h0m-3.7-2.3h0m-.8 2.8h0m-11.8-2.8h0m-.4 2.1h0m-2.2-2.2h0m-2 4h0m-.8 .8h0m-7.1-3.3h0m-15.5 5.9h0m20.1 1.8h0m2.2-.4h0m13.1 .4h0m12.8-2.6h0m3.1 10.4h0m-7.9 0h0m-2.1-4.3h0m-4.9 3.3h0m-2.3-1.6h0m-1.4-1.8h0m-2.8 4h0m-4.7 .8h0m-5.1-4.8h0m.8 10.7h0m1.3 .1h0m9.3-1.4h0m12.4 .1h0m1.6-1.2h0m1.1-.1h0m1-2.9h0m2.7 4.7h0m5.6 6.4h0m-9.7-3.9h0m-7.7 4h0m-4.1-5h0m-5 4.3h0m-.5-.9h0m-.8 1.7h0m-1.2-1.5h0m-1.1-4h0m-3.1 .6h0m-6.4 3.6h0m-3.5-1.7h0m-.1 5.6h0m19.7-.8h0m3.5 2.8h0m4.7-2.6h0m6 3.2h0m7.2 .3h0m7.3 5.6h0m-.3-2.2h0m-12.6 1.4h0m0 .1h0m-.6 0h0m-2.3 .6h0m-16.9-2.1h0m-.2 2.4h0m-12.9-2.2h0m-3.3 8.4h0m4.7-4.4h0m2.9 2.1h0m3.8 1.7h0m2.1-.4h0m4.6 1h0m2.9 .4h0m19.1-.3h0m3.3-1.9h0m2.8 2.6h0m.2-5.7h0m1.3 3.7h0m17.3 3h0m-5.2 1.4h0m-6.9 3.6h0m-2.8-2.8h0m-1-2.2h0m-5.3 2.2h0m-4.4-2.6h0m-15.5 5.3h0m-1.3-.8h0m-.1-4.2h0m-11.8-.2h0m-1.2 1.1h0m-1.8 3.4h0m0 2.5h0m9.8-1h0m1.4 3.9h0m12.2-2.3h0m2.7-.7h0m1.9 3.4h0m.1 .5h0m1.5 .2h0m1.3-.3h0m2.1 .6h0m.2-5.7h0m.6 4.8h0m5.4-.6h0m9.3-.9h0m1 1.3h0m0-3.3h0m4.7-.3h0m6.8 5.9h0m-.3 3.9h0m-1.7-4.8h0m-5.9 5.7h0m-5.3-.6h0m-.9-4.5h0m-8.3 .8h0m-4.6 2.8h0m-2.7-1.9h0m-4.4 .7h0m-4.5 .9h0m-.9-2.3h0m-1.4 2.8h0m-5.5 .3h0m-.1-1.5h0m-3.8 1.5h0m-7.4 1h0m-.2-2.8h0m-1.7 1.9h0m-9.3 .7h0m-7.3-1.9h0m-1.3 2h0m1.8 3.1h0m.3 1.2h0m0 .2h0m6.5-1.9h0m.8-.1h0m4.7 0h0m1.3 .5h0m.7 0h0m.6-2.4h0m3.7 4.7h0m.8-4.2h0m8-.1h0m1.6 2.9h0m7.8-.2h0m2.2-3.1h0m1.6 1.4h0m2.8-.7h0m6.3 4h0m.3-2.7h0m1.1 .5h0m6.3 1.6h0m6-4.4h0m1.1 .7h0m14.2 2.3h0m.1-3h0m2.4 5.2h0m-5.4 5.8h0m-6.6-2.5h0m-6.9 .8h0m-.6 1h0m-3 .3h0m-1.9-3.2h0m-15.1-.4h0m-2.5 2h0m-.1 1.2h0m-2.4-.4h0m-7.3-1.7h0m-4.2-1h0m-13.5 0h0m-1.4 4.1h0m-.9-5.1h0m-.4 4.6h0m-3.5-3.1h0m-4.8 1.8h0m-1.2-3.4h0m-1.2 .8h0m-.9 6.8h0m0-.2h0m1.3 2.6h0m2.6-3h0m2.5 2.5h0m.1-2.7h0m.7 4.4h0m.2-.2h0m.3-4.9h0m2.3-.1h0m.6 .8h0m13.6-.3h0m1.8 2.3h0m6.1 3.1h0m.8-1.7h0m4.3-1.4h0m8.2 .8h0m3.7-.1h0m1.3-2.4h0m6.8 2.3h0m14.4 1.1h0m6-4.4h0m6.7 .4h0m.9-.4h0m.3 3.8h0m.3-3.9h0m5.2 3.3h0m12.8-1h0m2.6 1.2h0m7 2.5h0m-24.8 5.9h0m-1.3-.9h0m-7.5 0h0m-6-4.5h0m-4.6 2.8h0m-2.9 2.2h0m-2.5 .1h0m-.8-.3h0m-1.2-4h0m-6.4-.3h0m-.3 4.4h0m-9.6-4.7h0m-2.4 1.2h0m-1.5 2.3h0m-8-.4h0m-1.4-2.8h0m-9.1 3.1h0m-4.5-2.9h0m-1.3 2.1h0m-.4-3.3h0m-.8 2.8h0m-1.2-.8h0m-1.4 1.3h0m-3.5-1h0m-4.9-1.1h0m-1.4 .8h0m-1.5 .7h0m-123.5 2.7h0m-.7-4.3h0m-3.7 2.3h0m-94.4 8.2h0m94.4-2h0m4.2 1.2h0m1.4-1.3h0m0 .6h0m121.1 0h0m1.3-2.6h0m1.5 .1h0m2.3 1.6h0m3.3-2.6h0m2.3 3.2h0m.3-2.6h0m0 1h0m4.2-.5h0m.6-1.6h0m1.2 1.5h0m4.4-1.2h0m2.3 2.5h0m2.5 1.4h0m2-4h0m4 2.5h0m4.9-.7h0m.6 .2h0m1.1 3.1h0m1.1-1.2h0m.5 1.6h0m3.2-5.2h0m.2 1.3h0m3 2.6h0m.6 1h0m.5-4.6h0m5.3-.7h0m.9 3.1h0m7.2 .5h0m1.9 .4h0m.4-.9h0m.3 2.2h0m.9-4.9h0m3.8 2.8h0m.5-2.4h0m2.2-.2h0m4 1.8h0m16.8-2h0m29.7 9.7h0m-30.5-3.2h0m-14.1-.9h0m-12.1 2.9h0m0 1.3h0m-2.2-2.6h0m-.3 .3h0m-3.5-.1h0m-.9-1.7h0m-8.1 3.3h0m-.5-2.6h0m-6.4 4.7h0m-.4-1.4h0m-.1 1.3h0m-.5-.1h0m-2.7-4.1h0m-5.3-1.1h0m-.7 5.3h0m-1.7-3.4h0m-.1 2.1h0m-4.5-3.4h0m-.9 2.1h0m0-.3h0m-1-1h0m-.5 2.6h0m-2-2.2h0m-1.4-1.9h0m-7 3.8h0m-6.1-2.5h0m-2.2 2.6h0m-2 1.8h0m-1.6-2.1h0m-94.3 1.7h0m-5.8-5.2h0m-5.7 1.9h0m-.7 2.7h0m-.7-3.6h0m-1.5 2.3h0m-10.3 2.1h0m-.9-2.4h0m-2-1.5h0m-4.1 2.2h0m-.1-1.3h0m-1.5 .3h0m-1 .1h0m-1.8-3.1h0m-1.2 2.6h0m-.9 2.3h0m-.9-4.9h0m-101.4 4.3h0m-23.1-4h0m3.9 9.1h0m116.4 1.6h0m1.1-4.1h0m1.1 2.5h0m.1 2.3h0m.5-.2h0m6.8-4.7h0m6.9 1.3h0m.1-2.1h0m1.8 5.9h0m1.1-.8h0m2.6-3.4h0m1.5 2.4h0m2.2-1.7h0m.5 .8h0m4.6-2.8h0m1.7 3.9h0m.2-2.8h0m11 1.5h0m91.5-2.8h0m1.8 3.1h0m.5 1.7h0m0-.3h0m.1-2.1h0m0-.2h0m.2 .8h0m2.8-.9h0m1.7 2.2h0m1.8-3.1h0m5.7 2h0m3.8-.2h0m2-1.7h0m.9 .3h0m.1-.2h0m2.1 1.1h0m.2-.3h0m9.3 2.8h0m9.8-4.4h0m8.5 4.9h0m3.4-4.6h0m4.8 4.8h0m.5-3.9h0m.4 3.1h0m2.1-3.2h0m5.4-.3h0m15.1 4h0m32.8-4.5h0m17.8 6h0m-2.7 2.4h0m-16.8-3.3h0m-.7 2.1h0m-2.4-.7h0m-2 3.4h0m-3.1-1.5h0m-6.1-2.9h0m-1.3 .3h0m-8.9 4h0m-21.7-3.7h0m-6.9-.2h0m-.7 4.5h0m-.6-1h0m-6.8-3.5h0m-6.1 2.2h0m-1.4-3h0m-4.8 3.4h0m-.8-.5h0m-2.9 .6h0m-.1-3.4h0m-5.4 5.5h0m-1.2-3.9h0m-.6 .5h0m-.2-.7h0m-.4 4h0m-6.6-2.1h0m-2.5 1.8h0m-5.8-4.3h0m-2.5 1.5h0m-3.2-2.1h0m0 .3h0m-1.7 2.4h0m-2.9-1.6h0m-.2 3.2h0m-.3-4.5h0m-1.7 1.2h0m-.3-.2h0m-120.7 3.8h0m-.1-2.4h0m-1.6-.6h0m-.6 3.4h0m-6.7-2h0m-.7 .8h0m-.1-.3h0m-4.7-2.7h0m-1.9 4.2h0m-67.3-5.1h0m-30.3-.2h0m-11.7 5.2h0m9.2 6.2h0m5.7-.8h0m99.8-.7h0m1.8-3h0m1.5 3.4h0m1.3-1h0m.3-1.4h0m3.9 .4h0m1.2 0h0m122.9 3.3h0m1-5.5h0m1.5 3.3h0m.5-1h0m.9 2.5h0m3.4-3.1h0m.1-.2h0m.5 3h0m2.6-3.5h0m1.1 2.1h0m.2 2.2h0m5.3-3.7h0m.1 2.1h0m4.7-2.2h0m8 3.8h0m7.1-5.2h0m.2 2.5h0m.8 2.9h0m4.6-.2h0m6.7-3.8h0m3.5-1.6h0m.8 3h0m1 1.1h0m2.6-2.9h0m4.2-.5h0m3 1.6h0m20.3 .9h0m48.7 2.4h0m1 3.1h0m-10.9-2.5h0m-19.4 .1h0m-17.8-.5h0m-1 2.9h0m-2.9-2.2h0m-5.7 .3h0m-15.5 2.5h0m-4.5 1.8h0m-.5-3h0m-5.3 2.8h0m-1-.6h0m-4.2-2.8h0m-1.1 .4h0m-4.4-1.4h0m-1.1-.7h0m-1 3.8h0m-1.6 1h0m-1.7-4.8h0m-3.1 5.3h0m-4.5-1.3h0m-5.2-2.4h0m-1.9 2.5h0m0-1.8h0m-3.2-.5h0m-2.2 1.4h0m-.3 1.5h0m-3.9-1.7h0m-1.9 2.8h0m-3.3-.8h0m-2.3 .6h0m-.2-1.6h0m-.1-3.7h0m-.8 2.1h0m-211 1h0m-5 2.3h0m-8.7-3.3h0m-17.5 4.2h0m5.9 5.3h0m8.5-5.5h0m5 4.8h0m12.5-.9h0m211 1.4h0m2.7-2.2h0m4-1.2h0m.5-1.9h0m3.3 3.4h0m4.1-2h0m.6 1.9h0m6.4 1.6h0m3-1.9h0m0-1.8h0m3 .4h0m4.5 1.5h0m3.7-1.6h0m3.9-1h0m.3 3h0m.6-.4h0m5.2 1.1h0m2.7 .6h0m5.4-.8h0m6.2-.6h0m.6-.4h0m1 .9h0m12.2-3.2h0m3.1 3.2h0m2.4-3.6h0m8.8 2h0m20.7 1h0m20.8 1.3h0m-10.5 6.8h0m-8.2-3.5h0m-2.6 2.7h0m-11.4-.8h0m-.3 .4h0m-23.2-.1h0m-13.4-3.2h0m-.9 3.5h0m-1.2-.7h0m-.9-2.2h0m-.1 2.3h0m-3.6 1.7h0m-.4-1.7h0m-1.5-3.8h0m-5.6 5.2h0m-4-5.4h0m-11.5 4.4h0m-5.3-2.8h0m-3.4 1.2h0m-9.1 .3h0m-.5 1.5h0m-.5-2.2h0m-5.2 .1h0m-1.6 3.2h0m-1-3.1h0m-.1-.4h0m-.8 2.1h0m-1-1.2h0m-4.1-.5h0m-221-2.8h0m-2.2 1.7h0m-13-1.7h0m-1.6 4.1h0m1.2 7.6h0m14.7-2.1h0m11.3-2h0m1.5 1.2h0m213.7 1.8h0m5.6-1.7h0m.6 1.7h0m3.9-2.7h0m3.4 1.1h0m.7-.1h0m.2-1.9h0m4 .8h0m8.3 3h0m1.7-1.7h0m2.3-.5h0m8.4 3.2h0m.7-.8h0m3.2-4.7h0m9 1.1h0m3.9-.2h0m1.5 3.5h0m.6-1.6h0m3.6 1.9h0m59 .9h0m1.1-.8h0m-2.2 2.8h0m-1.1 1h0m-28.4-2.3h0m-24.2 .3h0m-10.6-.3h0m-.4-.5h0m-.4 4.2h0m-8.4 .2h0m-3.4-1.9h0m-.5-1.8h0m-2.8 4.4h0m-5.9-1h0m-9.7 .2h0m-.1-2.7h0m-2.6 .5h0m-9.5-1.4h0m-1.2 4.8h0m-1.6-1.8h0m-1.8 1.2h0m0-4.2h0m-2.4 5h0m-3.6-2.8h0m-.9 2.3h0m-2.3-3.6h0m-225.2 4.1h0m-13.9-.6h0m-1.2-.8h0m14.1 4.9h0m13.9-2.3h0m213.8 1.3h0m.3 .8h0m0-1.2h0m.5-1h0m.1 .8h0m2.6-1.2h0m.6 2.5h0m.2 2.3h0m.2-3.3h0m.8 .5h0m7 .9h0m.5-3.2h0m2.9 5.5h0m5.8-3.7h0m2.1 2.6h0m3.8 0h0m7.6-1.3h0m9.6-1.6h0m9 1.1h0m53.9 2h0m10.3-4.7h0m-17.8 6.4h0m-17.6-.5h0m-11.2 4.1h0m-12.9-3.7h0m-1.1 2.5h0m-5.7 .5h0m-.5 2.2h0m-1-1.6h0m-4.1-1.2h0m-.1 3h0m-.2-.9h0m-7.6-1.3h0m-3.4-2.1h0m-11-1.5h0m-3.7 0h0m-11.4 2.4h0m-.2-.6h0m-3-1.8h0m-2.2 .9h0m-.3 .9h0m-1.8 .6h0m-.4 .1h0m-.1-1.4h0m-1.7 3.8h0m-214.5-4.7h0m-29.4 0h0m4.3 11.1h0m1.3-4.8h0m1.8 .6h0m236.3 .8h0m1.5-1.3h0m3.6 5h0m1.7-2.3h0m1.9-3h0m2 .5h0m8.1 2.6h0m5.7-.5h0m5.7-.1h0m3.2-2h0m.6 2.8h0m5-3.4h0m10.1 2.3h0m2 2.5h0m3.1-4.1h0m.2 4.4h0m.4-5h0m.1 1.1h0m.4 3.4h0m3.8-1.6h0m.4-1.9h0m1.2 4.2h0m1.6-1.7h0m4.4-2.9h0m.9 3.1h0m.4-2h0m8.4 3.6h0m15.5-4.2h0m6.3 3.2h0m1.4-.5h0m-1.4 5.5h0m-14.6-1.1h0m-1.1 2.1h0m-5.1-4.3h0m-1.8 .7h0m-5.2 4h0m-7.1 .3h0m-2.1-1.3h0m-5.9-1.4h0m-.4 0h0m-2.9-1.1h0m-.4 4h0m-5.9-3.4h0m-2.9-.7h0m0 .5h0m-4.4 .5h0m-6.2-2.2h0m-16.2 .1h0m-13 5.6h0m-.9-.2h0m-216.6-1.9h0m-10 1.5h0m-11.4-5h0m-4.4 0h0m-2.8 2.9h0m-1.9 .1h0m-2.2 3.6h0m0 1.3h0m7.5 .8h0m14.7 .7h0m1-.7h0m.7 2.8h0m6.1-1.6h0m.5-.3h0m225.7-2h0m7.8 1.5h0m14 1.8h0m2.6-3.4h0m1.7 1.5h0m2-1.5h0m6.1-1.3h0m2-.5h0m3.6 3.9h0m1.8-.6h0m1.8-3.3h0m.7 4.3h0m2.5-2.1h0m6.7-.7h0m1.1 1.6h0m1.1 2.6h0m3.3-1.2h0m22.5 1.2h0m.2 2.3h0m-5.6 2.4h0m-1.1 .8h0m-.2-3.5h0m0 .2h0m-1.4 .2h0m-.8-2.1h0m-2.8 1.9h0m-1.1 1.6h0m-10.8 .4h0m-3.1-3.8h0m-1.3 .6h0m-4.1 4h0m-1.3-3.1h0m-3.7-.6h0m-3.8 .9h0m-1.5 2h0m-1-2.2h0m-12.8-.2h0m-20-.8h0m-.6 2.6h0m-11 1.5h0m-1.6-3.1h0m-223.3-.4h0m-22.3 .6h0m-2.7 8.6h0m2.9-2.6h0m13.1 4h0m5.9-1.2h0m10.7-1.9h0m3.4 2h0m228.1-4.5h0m11.4 1.3h0m.2-1.2h0m.7 4.4h0m3.5-2.5h0m15.2-2.1h0m10.7 .1h0m1.2 3.2h0m1.5 1.9h0m3.6-3.2h0m.1-1.8h0m1.6 4h0m6.8-.8h0m2.4 1.6h0m5.8 .4h0m.2-3.8h0m3.3-1h0m.1 .9h0m1.5-.3h0m-3.9 6.2h0m-.3 1.5h0m-1.6-.1h0m-5.3-2h0m-1.1 .4h0m-1.4 3.4h0m-3.1-1.3h0m-16.3 0h0m-3.6-1.7h0m0-.1h0m-7.4 2.3h0m-11.3-2.1h0m-.9-.7h0m-10.3-.4h0m-6.3 1.9h0m-2.8 3h0m-4.1-3.7h0m-2 2.6h0m-1.1-3.2h0m-230.7 1.8h0m-3.7-2.5h0m-3.2 1.5h0m-2.9-.7h0m4.4 7.5h0m12.1 .7h0m9.4-2.4h0m1.8 3.9h0m210.5-.4h0m28-4.5h0m.6 .3h0m15.3 3.2h0m0-2.6h0m3.3 .7h0m17.8-1.4h0m5.4 2.7h0m2.7-3.1h0m2.5 1.4h0m-6.7 5.3h0m-4.3 3.6h0m-1.3-2.3h0m-7 3.7h0m-21.6-1.6h0m-2.6-2.6h0m-24.5 3.7h0m-1.5-1.2h0m-5.5-3.8h0m-1.6 5.4h0m-100.4-1.6h0m-3.7-3.4h0m-1.3 .2h0m-3.8 1.5h0m-131-2.3h0m-4.6 5.8h0m9.9 5.3h0m123.8-1.2h0m.1-2.6h0m.2 .4h0m.8-1.4h0m10.2 3.7h0m.6 .4h0m.9 .3h0m103.7-3.1h0m2.4-1.5h0m2.1-.2h0m17.2 3.8h0m6.4 .9h0m.2-3.8h0m5.5-.1h0m13.9 3.7h0m12.3-4.3h0m.1 2.2h0m-2 8.1h0m-35-4.2h0m-6.6 3.5h0m-1.3-1.9h0m-.4-.6h0m-117.7 2.4h0m-1.7 .9h0m-1.6-3.8h0m-1.7 4.5h0m-.3-3.1h0m-3.9 2.1h0m-4.4-2.6h0m-94.1 3.7h0m-23.6-4.4h0m-26.7 3.5h0m19.8 4.1h0m122.9-1.8h0m1.6-.1h0m1.7 3.2h0m1.2 1.5h0m6.4-2.2h0m129.4-3h0m9.2 4.6h0m16.7-.1h0m2.7-2.4h0m.1 7.7h0m-10.5 1.5h0m-7.4-2.6h0m0-2.7h0m-8.3 4.7h0m-7.8 .2h0m-2.1-3.4h0m-15.1 3.8h0m-1.8-.6h0m-107.2-4.7h0m-.2 2.6h0m-2 1.4h0m-4.2-2.8h0m-3 1.6h0m-110.1-.1h0m-32.8-1.4h0m140.6 8.5h0m3.9-1h0m1.8 0h0m1.2 .1h0m124.9-1.1h0m16.8-1h0m.9 .3h0m0 .7h0m10.5 1.9h0m7.9-.8h0m2.6-2.8h0m12.3 5.7h0m-3 1.9h0m-1.9-.9h0m-25.4 .9h0m-28.3 1.6h0m-1.5-1.1h0m-119-.6h0m-1.9 2.8h0m-2.6 0h0m-.4-1.2h0m-.3-.4h0m-122.6 1h0m-9.1 5h0m25.7-2.2h0m102.8 2.1h0m1.4-.6h0m151.3-2.3h0m5.2 .5h0m5.3 2.8h0m2.5-.9h0m25.2 .8h0m.5-2h0m-1.4 10.2h0m-22.9-3.4h0m-6.3-.9h0m-.2-.4h0m-156.8 5.1h0m-.9-5.4h0m-.8 1.7h0m-.7 3.5h0m-2.1-3.1h0m-2.5 .6h0m-.7 1.7h0m-.4-.8h0m-3.2 1.8h0m-.5 5.3h0m5.2-3.9h0m4.9 4h0m182.1-.4h0m1.6-4.1h0m5.5 1h0m.2 5.7h0m-49.3-1.1h0m-138.5 5.5h0m-3.7-4.6h0m-4.2 .7h0m-2.4-.2h0m-.6-1.3h0m-2.6-.1h0m-.8 2.4h0m-.5-.4h0m-1.2 1.5h0m-.9 4.5h0m.6 .9h0m.1 .8h0m.5-3.4h0m3.6 .9h0m3.7 1.6h0m.3-1.1h0m2.2-.2h0m.7 2.8h0m.1 .3h0m6.4-4.2h0m6.2 2.1h0m175.3 1h0m20-2.5h0m-13.3 8h0m-7.5-2.8h0m-.6 3.1h0m-2.9 0h0m-158.6 .2h0m-2.5 1.5h0m-1.4-1h0m-1.4-.4h0m-1.3 1.6h0m-.7-5h0m-4.9 4.5h0m-3.7-.7h0m-.3-3.4h0m-9.4 2.2h0m-4.4-3h0m-3.9 0h0m-1.2 2.8h0m-1.3 1.4h0m-.7 1.9h0m.5 3.9h0m1.7 .6h0m.8-2.7h0m1 .7h0m2.2 .7h0m.4-3.2h0m1.1 4.7h0m1.9 .4h0m.4 .1h0m9.3 .3h0m0-.8h0m1.9-.5h0m1.7 .4h0m.2-.5h0m1.7-3.5h0m1.9 3.1h0m2.2-3.1h0m6.4 .2h0m3.9 2h0m1.5-.5h0m1.7 .8h0m160.9 2.6h0m6.4-1.9h0m.5-2.4h0m11.3 3.5h0m2.4-4.3h0m10.4 10.3h0m-191.9-3.8h0m-4.4 .1h0m-.5 .5h0m-.8 1.7h0m-.6-2.8h0m-21.3-.3h0m29.5 9h0m2.5 2.2h0m2.3-3.8h0m1.9 .4h0m4 3.2h0m182.4-5.4h0m3.6 4.5h0m-11.7 2.9h0m-8.9-.7h0m-161.3 1.2h0m-1.7 1.3h0m-5.6 .5h0m-2.5 1h0m-.1-3.6h0m-1.3 .8h0m0 1.3h0m-.8-3.2h0m-.5 4.1h0m-1.8-1h0m4.8 3.4h0m.7 .1h0m1.3 1.7h0m6.4-1.3h0m168.8 .1h0m4.2 1.5h0m8.2 4.7h0m-11.3 4.3h0m-.2 1.8h0m9.2 7.8h0m-3.6-2.5h0m-199.1 51.7h0m-3.2-.2h0m2.3 9.5h0m-18.4 9.4h0m3.3-1.6h0m2-3.6h0m2 4.9h0m7.4-4.9h0m-5.7 20.1h0m-4.7 .6h0m-1.1-1.9h0m-.9 1.1h0m-3.5 2.8h0m-4.3 .8h0m-7.6 3.6h0m2.5-1.7h0m7.4 1.4h0m2.8-.8h0m3.1 2.1h0m3.1-2.5h0m70 6.5h0m-71.8 2.5h0m-9.1-1.6h0m-8.5 2.9h0m-1.4 1.9h0m1.4 3.7h0m1.8-1.5h0m0 .9h0m22.5-.6h0m47-4h0m.6 5.1h0m5.8-3.3h0m4.5-.2h0m2.5 4.1h0m-71 1.9h0m-4.9 2.7h0m-1.1 1h0m-14.3-2.7h0m-2.6 2.1h0m-1.3-2.2h0m9.8 4.5h0m1.7 1.3h0m.2 2.7h0m5.4-1.9h0m3.1-1.8h0m3.9-1.4h0m6.8 1.8h0m4.4 1.9h0m2 1.7h0m9-1.3h0m15.3-4h0m3.1 4.9h0m10.7-.5h0m11.5-.1h0m5.3 1.4h0m-.6 4.7h0m-.3-.8h0m-20.7-3.3h0m-.8 3.9h0m-1.9-.6h0m-.6-3.7h0m-.4 5.6h0m-17.9-5.6h0m-33.7 .2h0m63.7 9.5h0m10.4-1.4h0m-.8 4.2h0m-11.5 5.2h0m-15.5-4.9h0m18.3 8.1h0m-2.9 3.3h0m-1.6 .9h0m-4.7 2.8h0m-7 6.8h0m3.2-4.6h0m7.9 .1h0m80.2 23.2h0m-92.7-1.4h0m-.2 11.2h0" stroke="#00BFC4" stroke-width="3.1" stroke-linecap="round" fill="none"/>
<path d="M225.8 73h0m.5-.8h0m2.5 1.9h0m.6 2.9h0m6.1-4h0m0-.3h0m2.9 .3h0m3.7 4.6h0m7.5 4h0m-.7 2.1h0m-2.5-3.7h0m-2.8 1h0m-2.7-2.2h0m-4.2 0h0m-2.8-.7h0m-5.7 3.7h0m-4.2 .2h0m-.2-3.4h0m-.6 2.6h0m-10.1 5.3h0m4.4-.8h0m5.8-1h0m.6 4.7h0m9.6-4.7h0m4.5 .3h0m8.6 1.6h0m4.3 .5h0m1.6 5.4h0m-2.3-.3h0m-.6 .9h0m-7.7-2.5h0m-8 .8h0m-3.1 .6h0m-.4 .6h0m-2 2.2h0m-.9-.6h0m-2.4 1.2h0m-.1-4.8h0m-12.5 1.9h0m-.3 1.7h0m-.1-.8h0m-3 1.3h0m-2.9 2.5h0m.6 .5h0m6.3 1.4h0m1.5-.2h0m.7-1.5h0m4.5-.9h0m11.1 1.7h0m5.9 1.6h0m7.2 .1h0m5.8-3.2h0m.9 3.1h0m-1.4 3.2h0m-3.5-.3h0m-2.3-.7h0m-5.2 1.2h0m-4.4 .3h0m-14.1-1.1h0m-.6-.1h0m-1.7 3.6h0m-1-1.9h0m-5.3-1.2h0m-5.4 4h0m-5.9-4.1h0m-1.4 1.7h0m-2.4 6h0m1.4 .3h0m.2-1.1h0m3-.1h0m1.7 2.5h0m7 .4h0m6-3.5h0m.3 4.9h0m6.1-.9h0m2.4-.3h0m.3-.2h0m1.6 .3h0m.9-2.5h0m5.7-1.4h0m6.3 3.8h0m1.6-3.8h0m2.3 2.3h0m2.5 0h0m1.4-2.1h0m-17.2 10.3h0m-7.4-2.7h0m-2.3 1.9h0m-20.2-3.5h0m-1-.3h0m-4.7 1.7h0m-5.7 3.5h0m-.3-3.4h0m-3 6.9h0m1.2-.8h0m.9 .8h0m3.5-1.2h0m.1 3.7h0m4.1-3.2h0m9.8-1.9h0m3.6 .4h0m3.7 .2h0m4.2-1.4h0m1.8 5.8h0m1.3-2.2h0m6.6 1.5h0m1.5-.4h0m2.3-4h0m3 1.2h0m2.4-1.8h0m-.4 10.4h0m-1.7 .9h0m-9.9-2.4h0m-7.5 .6h0m-6.7 1.5h0m-1.5-2.2h0m-2.2-2.4h0m-2.7 5.2h0m-4.1-3.7h0m-5.5 2.2h0m-4.9-2.5h0m-4.2-1.6h0m-4 11.1h0m3.6 .4h0m2.1-4.9h0m7.4 2.6h0m2.2-2.7h0m4.6 4.6h0m2.9-1.3h0m.3 1.7h0m8.9-.2h0m13.9-1.4h0m4.6 1.7h0m1.4-3.6h0m.5-.2h0m156.7 6.4h0m-1.9 1.5h0m-5.2-.7h0m-1.7 1.4h0m-.5-2.6h0m-149.1 .7h0m-1.4 1.4h0m-1.6 1.8h0m-1.4-2.1h0m-6.3 2.1h0m-12.3-1.6h0m-1.4 .2h0m-2.4-1.2h0m-7 1.7h0m-3.3-.9h0m-3-2.9h0m-11.2 1.9h0m-1 7.5h0m4.2-2.6h0m0 0h0m1.9-1.3h0m.5 4.5h0m3.8-4h0m6.3 .3h0m6.4 1.3h0m3 2.9h0m2.3-5.4h0m1.9 4.3h0m1.2-3.7h0m1.6 4.7h0m1.9-.6h0m.8-2.9h0m3 2.4h0m11.9-.4h0m.6-1h0m142.5 1.5h0m2.2-1.7h0m.9-2.3h0m1.1 .2h0m2 0h0m3.4 .8h0m4.4 4.2h0m4.3-2h0m2.8 .1h0m.1-.9h0m6 8.1h0m-.7-1.2h0m-1.8 1.1h0m0-1.8h0m-2.1-2.5h0m-3 3.6h0m-4.6-1.9h0m-12.8-.4h0m-146.9-.3h0m-16.3-.1h0m-5.7 3.5h0m-6.8-2.8h0m-.9-1.6h0m-6 3.4h0m0 1h0m-.6 .6h0m0-4.3h0m-1.3 1.4h0m-1.2 1.3h0m-3.9-.3h0m-4.5 0h0m-1-1.7h0m-.8 1.9h0m-.7-2.8h0m1.7 7.1h0m13.9-1.4h0m1.5 .9h0m2.5-.5h0m7.3 .9h0m1.6 1.5h0m2.7-1.7h0m4.9 1.4h0m4.4-2.6h0m.4 2.3h0m1.2 .7h0m4.6-1h0m0-2.6h0m146.3 4.5h0m.1 .6h0m.2-1.3h0m0 2h0m.9-2.3h0m2-3.3h0m2.5 5.5h0m3.2-4.3h0m8.3-.7h0m11.1 4h0m1.7 1.3h0m-2.4 1.1h0m-.6-.8h0m-.1 .8h0m-1.7 .1h0m-.1-1.2h0m-3.3 5.1h0m-4.6-3.4h0m-7 1.8h0m-7-1.3h0m-3.6-1.1h0m-1.4 1.2h0m-148-.2h0m-4.2-.5h0m-1.1 4.2h0m-.5-2.9h0m-2.7 1.1h0m-.8-.2h0m-4 .7h0m-2.2-1.7h0m-6.9-2.6h0m-3.2 .7h0m-12.3 3.3h0m3.2 3.5h0m.8 2.9h0m.5 .1h0m.8 0h0m2.1-.8h0m2.3 1.9h0m3.4-3.3h0m10.7 .7h0m3.4 .2h0m3.2-3.5h0m2.3 1.8h0m.7 4.1h0m1.6-5.5h0m2.3 5.5h0m.2-5.2h0m0-.6h0m.1 3h0m1.5-1.3h0m45.7 3.3h0m99.9-1.3h0m1.2-.5h0m4.9 .7h0m13.1-3.2h0m5.4 4.7h0m11.6-1.3h0m1.8 7.5h0m-14.5-.5h0m-9.2-2.5h0m-6.5-.5h0m-1.9 3h0m-2.4-3.8h0m-1.5 1.2h0m-1.5-2.4h0m-.4 .8h0m-97.1 1.5h0m-3.6 .9h0m-12.7-2.4h0m-.8 .5h0m-33.6 0h0m-3 .8h0m-5.4-2h0m-4.7 4.3h0m-1.9-3.2h0m-12.4 3.1h0m-1.5 .8h0m-1.2 2.2h0m12.3 1h0m3 2.2h0m2-2.7h0m6.1 1.9h0m4.5-2.2h0m1.9 2.4h0m.3-2.6h0m54.9 .9h0m2.4 3.4h0m.1-4.5h0m.1 2.5h0m88.4 2h0m.9-5.5h0m2.4 5.3h0m11.2-3.5h0m16.3 2.1h0m5.4-3.9h0m2.6 2.9h0m.7 4.7h0m-5 .7h0m-4 1.7h0m-2.4-1.4h0m-16.3-1.5h0m-2.9 4.1h0m-8.3-2.2h0m-.8 .5h0m-91.3-1.6h0m-1.3-.6h0m-1.8 .7h0m-.7 1.3h0m-.5 .4h0m-2.4 1.5h0m-5.5-.8h0m-7.2-2.7h0m-1.9 1.1h0m-45.8 2.6h0m-1.8 .2h0m-.3-4.9h0m-6.9-.1h0m5 6.8h0m9.7-1h0m.8 4.3h0m1.9-4.4h0m.6 .2h0m52.9 .1h0m97.3 .8h0m1 3.5h0m1.4-1.7h0m18.9-1.6h0m.9-.4h0m.2 4.4h0m8.4-3.5h0m4.3-1.1h0m1.4 1.3h0m4.9 1.7h0m0-1.9h0m.4 .5h0m4.2 6.4h0m-8.6 .3h0m-2.5-2.8h0m-2.8 1.9h0m-1 .4h0m-.8-2.2h0m-.6 .5h0m-6.7-1.1h0m-1.2-.3h0m-11.1 3.8h0m-2.9 1.9h0m-1.3-4.6h0m-7.3-.6h0m-.2-.5h0m-.1 2.5h0m-.6 7.1h0m2.1-.2h0m.9-.2h0m6.7-2h0m3.5 2.4h0m6.7 .5h0m5.1-.4h0m5.7 1.4h0m.8-3h0m7-.9h0m2.8 4.7h0m5.8 0h0m3.2-5h0m-1.3 7.6h0m-.7 2.4h0m-29.7-3h0m-16.5 1.9h0m-1.4-1.5h0m0 3.3h0m-1.6 5.2h0m0-1.8h0m.6-2.9h0m2.7 5.6h0m1.4-1h0m.9-.4h0m8 1.6h0m13.6-.3h0m1.9-4.2h0m.3-.2h0m3.5 3.1h0m20.5-2.3h0m1.3 3.1h0m.7-2.1h0m-.8 3.9h0m-.1 1.5h0m-2.6 2.2h0m-1.1-.1h0m-23.8-1.9h0m-8 .6h0m-3.9-3.1h0m-2.9 5.5h0m-1.8-5.2h0m-5.8 .9h0m-.5 .5h0m-1.8 3.7h0m-1.9-5.1h0m2.9 7.8h0m0 .7h0m.2-2.7h0m.9 4.2h0m.3 1.1h0m4.8-4.1h0m5.2 3.5h0m5.5-2.3h0m3 1.7h0m.5 1.3h0m5.2-.2h0m1.6-3.2h0m2.6 .4h0m10.2-.9h0m11.7 4.1h0m1.1-3.9h0m-1.7 7.8h0m-.1-2.7h0m-.6 0h0m-2.4 4.7h0m-4.8-3.9h0m-2-.8h0m-9.3 3.2h0m-5-1.3h0m-16.2 .3h0m-6.2-3.1h0m-.9 2.8h0m-1.5 2.3h0m-1.6-3.5h0m-.8 1.1h0m-.2-.9h0m3.3 4.6h0m.6 4.4h0m18.6-3.4h0m9.6 3.1h0m.1-2.9h0m4.8-.8h0m2.5 4h0m5.8-2h0m.3 2.4h0m15-1.4h0m.2-.5h0m1.3-1.7h0m.5-1.3h0m8 8.7h0m-1.1-.9h0m-.6 .2h0m-12.1 2h0m-3.8-2.1h0m-7-.2h0m-5.2 .7h0m-1.7 2.2h0m-1.9-4.9h0m-.4 .3h0m-2 4.4h0m-.8 .9h0m-7.1-3.1h0m-2.2 3h0m-5.8 .1h0m-2.1-3.5h0m-10.9 3.4h0m-.9-3.4h0m.4 8.3h0m2.7-.4h0m1.5 1.7h0m13.6-4.3h0m.4 4h0m.4-2.9h0m16.9-1h0m.9 .3h0m8.9-.3h0m1 3.6h0m3.1-.4h0m3 .5h0m8.2-1.9h0m.6-3.2h0m2.2 4.6h0m1.8-2.7h0m1.1-.8h0m.8-1.3h0m3.5 5.2h0m.6 5.4h0m-12.3-.9h0m-9.7-1.3h0m-2.6 .7h0m-.5 2h0m-13.2-2.2h0m-10.2-2.3h0m-8.6-.6h0m-3.1 3.4h0m-.6 1.4h0m-3.3-4.7h0m-4.9 5.7h0m.1 .4h0m.4 .7h0m0 3.4h0m1.1-2h0m.1 1.1h0m9-.2h0m6.4-1.6h0m.7 3.2h0m1.3-3.1h0m3.3-.3h0m3.9 3.7h0m3.4-2h0m.6 1.2h0m2.9-3.9h0m1.1 4.2h0m2.5-4h0m1.3 2.2h0m7.8-.4h0m6.9 2h0m8.9-3.9h0m7 4.5h0m5.1-4.8h0m1.3 7.7h0m-1.8 3.1h0m-1.4-3.2h0m-14.7-.3h0m-3.6 2h0m-2.2 1.9h0m-4-2.6h0m-5.3-2.8h0m-1.4 4.9h0m-12.7-2.9h0m-3.2 1.4h0m-4.2 .1h0m-1.7-3.5h0m-2.5 4.4h0m-3.4 1.2h0m-6.8-2.8h0m-5.5-1.2h0m-1.6 3.1h0m24.2 1.6h0m14.3 4h0m5.5-2.5h0m1.1 1.5h0m.7-3.3h0m1.1 5.9h0m2.7-5.8h0m2.4 3.5h0m4.3-.5h0m.4-1.8h0m5.7 2.2h0m10-1.9h0m3 .7h0m6.2 3.5h0m-9 3.9h0m-16.7-2.6h0m-2.8 .8h0m-.2-1.3h0m-5 2.9h0m-6.4 .3h0m-1.7 .8h0m-8.3-4.3h0m-10.8 .3h0m-9.1 .1h0m-1.2 5h0m-2.7-1.6h0m-2-3.2h0m-.7 1.8h0m-.7-2.7h0m-3.5 2.2h0m0 2.8h0m-1.8-3.1h0m-.8 6.6h0m.6 3h0m1.3-2h0m19.4-3.4h0m7.2 5.7h0m10.7-3.1h0m2.6-.8h0m1.7 0h0m2.5 1.8h0m.6 1h0m4-2.1h0m.1 2.1h0m1 .9h0m3.6-.2h0m.7-4.9h0m1.1 3.4h0m10.1-.6h0m3.1-1.5h0m8.3-.4h0m3.6 3.3h0m12.1-2.6h0m.5 1h0m1.7 1.5h0m8.3 .6h0m2.7 .1h0m.7-3.4h0m2 3.5h0m.3 .1h0m0-2.4h0m1.4 1.1h0m11 7.5h0m-.4-1.7h0m-.5 .7h0m-2.2-.5h0m-.7-1.4h0m-2.9-1.8h0m-.1 3.7h0m-1.2-2.8h0m-1.2-1h0m-1-.8h0m-1.4 1.1h0m-5.6 4.5h0m-2.1-.2h0m-.5-5.4h0m0 1.2h0m-9.2-.6h0m-4.7 .2h0m-1.9 1.8h0m-3.1 1.6h0m-.7-2.7h0m-7.5 4.2h0m-3.6-1.5h0m-9-3.6h0m-7.1 2.2h0m-20.5-1.4h0m-1.8-.6h0m-7.3 2.6h0m-1.5-1.8h0m-21.7 1h0m-2.6 1.1h0m-116.1-1.2h0m-.9 2.8h0m-8.4-.7h0m-138.2 3.1h0m.5 .3h0m3.2-.5h0m.8 0h0m1.5 2h0m.3-2.8h0m.3 3h0m1.6-.2h0m41.6 1.4h0m2.7-.4h0m1.4 1.3h0m86.5-5.1h0m.1 3.7h0m7.5 .9h0m4.8-1.5h0m111.2-1.6h0m1.1-2h0m.8 2.3h0m1.2 1.4h0m23.4-3.5h0m8.1 4.8h0m.3 .3h0m14.9-1.3h0m.8 1h0m3-2.7h0m2-2.5h0m4.5 .5h0m1.2 4.1h0m2.4-3.1h0m2.9 .6h0m2.9 3.5h0m16.2-3.3h0m1.1 3.4h0m8.5-2.4h0m5.8 1.3h0m6.8-3.8h0m0 4h0m.6-1.8h0m2.5 1.5h0m4.8-3.7h0m.8 4.3h0m9.3-1.2h0m6.4 7.8h0m-2.4-3.2h0m-1.3-.7h0m-9.1 1.9h0m-5.7-2h0m-2.6 1h0m-4.3 1.2h0m0-2.9h0m-2.8-.3h0m-.4 2.9h0m-8.8-.6h0m-1-1.6h0m-20.1 1.7h0m-14.9 1.2h0m-7.6 .1h0m-.4 0h0m-2.4-.5h0m-.4 1.9h0m-4.1-5.7h0m-7.1 1.9h0m-.1-1.2h0m-2 .4h0m-1.8 .9h0m-.5 3.4h0m-.6-5.5h0m-1.6 3.5h0m-1.4-3h0m-1.9-.1h0m-4.4 1.2h0m-7.8 .8h0m-4.2 2.9h0m-1.7 .3h0m-1.4-5.6h0m-5.3 0h0m-97.5 2.6h0m-6.4 .9h0m-5.3 .7h0m-2.4 .1h0m-.1-1.5h0m-97 1.9h0m-2.1-2.1h0m-.2-.9h0m-11.2 1.4h0m-5.3-2.3h0m-.5 .3h0m-.5 0h0m-1.5-.5h0m-21.7 3.6h0m-1.8 .2h0m-5.8-.7h0m-1.3 .1h0m-2-2.7h0m-.3 .8h0m12.1 5.9h0m5.4 3.8h0m1.2-1.5h0m3-.7h0m2.2-.5h0m1.9-1.9h0m1.1 .6h0m.3 3.2h0m.5-4.3h0m1.3-.3h0m3.6 4h0m23.8-1.6h0m71.4 2.9h0m41.7-4.2h0m102.1 1.3h0m4.1 2.7h0m4.2-4.2h0m2.6 .3h0m4.2 4.1h0m5.6-4.8h0m17.7 1h0m.7 2.3h0m2.6-1.6h0m3.5 3.4h0m8.5-5.8h0m2.2 3.1h0m4.8 .5h0m3.4-.6h0m6.7-2.1h0m1.4 .6h0m.7 .3h0m15.4 2.1h0m.3-2.5h0m5.9 2.2h0m6-.1h0m.6-3.6h0m.4 2.6h0m1.1-.9h0m5.2-1.4h0m3.8 3.2h0m12.6 1.3h0m-1.6 1.7h0m-1.7 4.7h0m-3.7-3.7h0m-5.2 2.7h0m-4-3h0m-6.8 2.7h0m-1.3 1.4h0m-1.4-4.6h0m-2.5 .4h0m-5.1 .4h0m-7 0h0m-16.8 2.3h0m-3.3-3.1h0m-17.9 4.4h0m-1.5-2.2h0m-2.9-.4h0m-1.4 3h0m-11.2 .3h0m-4-2.5h0m-2.6-.8h0m-6.3-2.5h0m-1.6 4.6h0m-6-3.6h0m-11.6 4.8h0m-207.8-2.8h0m-1.7 .3h0m-.6 .8h0m-29.8 0h0m-4.8-3.6h0m-3.3 5.4h0m-2.7-.5h0m-7.6-5h0m11.2 10h0m.5-.2h0m.5-1.7h0m6.4-2h0m12.3 1.6h0m6.1 1.2h0m8.9-2.9h0m2.4 2.5h0m2.6 0h0m202.7 .7h0m.3-3.6h0m.3 4.8h0m5.1-1h0m.1-3.2h0m0 4.5h0m3.5-4.1h0m2.9 2.2h0m5.5 2.3h0m7.7-.9h0m1.4 .3h0m.5 .6h0m.3-3.9h0m.8-.6h0m9.7 1.2h0m13.1 2.6h0m4.8-2.5h0m16.8 3.5h0m.3-3.1h0m4.9 1.8h0m3.7-2.7h0m.1-.1h0m2.2 2.3h0m.6-1.7h0m3.8 3.3h0m1.7-2.3h0m2.8-.6h0m1.8 2.8h0m3-1.1h0m11.7-3.9h0m3.5 3.6h0m1.8 .4h0m.2-2.6h0m1.3-1.5h0m2.8 2.3h0m.9 1.4h0m3.2-3.7h0m.3-.4h0m6.2 1.6h0m2.6 .4h0m1.1 1.5h0m1 2h0m0-2h0m-7 7.2h0m-.7-3.3h0m-.9 3.1h0m-.7 .2h0m-5.9-2.4h0m-.6 1.3h0m-2-2.8h0m-12 3.2h0m-2.3-.6h0m-1.1-.7h0m-12.8-1.6h0m-1.4 2.2h0m-6.7-.2h0m-2.2 2.6h0m-7.9-4.5h0m-.4 4.7h0m-.4-2.2h0m0-3.5h0m-4.4 2.1h0m-19.7 .4h0m-7.3 .3h0m-1.3-1h0m-2.4-.1h0m-5.3 .3h0m-2.2 .7h0m-1 2.2h0m-13.2-3.3h0m-.9 2.2h0m-1.4-2.1h0m-3.4 .9h0m-5.4-2.1h0m-204.2 3.3h0m-1.6-3.9h0m-8.1 2.8h0m-12.4-.5h0m-5.1 2.6h0m-.7 .2h0m-3.6-1.2h0m-4.8-2.9h0m-2.9 1h0m-1.8 1.2h0m.7 7.9h0m2.4-.4h0m.6-2.4h0m7 2.8h0m2.8-3.4h0m.2 2.9h0m5.7-2.5h0m.7 .5h0m.3 .3h0m.1-2h0m3.4 .1h0m4.9 3.5h0m1.5-.2h0m1.7-1.3h0m5.3 2h0m208.2-1.5h0m.6-2.9h0m1.8 1.2h0m1.6 3h0m18-2.6h0m6.4-1.7h0m.5 1.8h0m8.2 .3h0m9.7 .6h0m1.3-3.1h0m4.1 3h0m9.8 2.7h0m5.6-1.9h0m3.5 1.5h0m1.5-5.4h0m1.4 1h0m1-1.1h0m.4 4.7h0m2.9 1.1h0m7.8-4.6h0m14.8-.5h0m.4 2.7h0m10.9-2.5h0m11.6 1.2h0m2.5 1.8h0m5.1 .1h0m.7-.7h0m-1.3 8.2h0m-.6-3.9h0m-3-.7h0m-.8-.3h0m-4.8 4.7h0m-11.9-3.7h0m-1.1 2.5h0m-12.9-1.1h0m-1.8 1h0m-1.3-2.4h0m-3.4 2h0m-2.8-2.4h0m-.1 3h0m-10-2h0m-.5-.9h0m-11.1-.1h0m-5.8 1.2h0m-17.7-.7h0m-.7-.5h0m-4.9 2.4h0m-5.5-.5h0m-1.1 .3h0m-2.4 1.8h0m-4-3h0m-.1-1.1h0m-6.3 2.6h0m-.1-.8h0m-1.5-.3h0m-.7 3h0m-231.5-2.1h0m-3.7 2.3h0m-4.3-5.7h0m-1.9 .2h0m-.4 4.2h0m-1.5 .9h0m-9.7 .3h0m-.7-3.5h0m-.7 2.6h0m-.6 .9h0m5 1.8h0m10.2 .1h0m9.4 3.3h0m1.7-3.2h0m3.2 2.3h0m220.3-3.4h0m5.1 3.5h0m2.9-1.6h0m28.6 .9h0m3.7-2h0m8.6 1.8h0m2 2h0m.1-4.6h0m2.5 4.2h0m3.4-2.7h0m6.2 .6h0m.3 .5h0m5.3 .7h0m21.3-2.5h0m6.5-.4h0m3.2 1.4h0m2.5 0h0m3.7-.2h0m.2 1.9h0m5.8-.6h0m4.1-.9h0m3.3-.2h0m-5.5 3.9h0m-.6 0h0m-11.7 1.8h0m-1 .2h0m-10.7 3.3h0m-1.6-.3h0m-5.4-4.7h0m-4.6 4.3h0m-1.9-.6h0m-6.7 1.4h0m-9-5.6h0m-3.8 4.7h0m-10.1-1.2h0m-.6-1.2h0m-1.5-2.2h0m-8.7 4.7h0m-3-4.1h0m-16.4 1.1h0m-1 .3h0m-6.9 1.2h0m-.2-3h0m-224.9 2.9h0m-2.9 1.7h0m-8.1-3h0m0-.7h0m-.7 4.1h0m-8.8-3.9h0m-.7 2.1h0m-12-1h0m-1.4 5.3h0m3.6-.7h0m12.8 1.5h0m15.3-.8h0m212.6-.1h0m2.7 2.4h0m11.3-1.6h0m9.5 2.5h0m5.2 .6h0m17.9-.4h0m.7-1.4h0m11.3-1.1h0m4.9 1.1h0m2 1.1h0m3.8-3.8h0m7.3 .6h0m2.9 1.2h0m5.5 1.4h0m.8-2.8h0m.6-.2h0m5.6 .7h0m3.3 3.6h0m7.4-5.2h0m5.9 3.2h0m2.2 2.2h0m.7-4.3h0m.3 3h0m1.1-.5h0m.8 1.2h0m-3.1 3.9h0m-.8-1h0m-3.5 2h0m-8.4 .8h0m-6.1-.2h0m-10.8-3.3h0m-1.6 1.9h0m-1.9-.9h0m-1.4 3.2h0m-.5-2.9h0m-.2 .4h0m-3.6 1.5h0m-9-1.6h0m-1.3 .2h0m-3.1-.8h0m-6.7 3.2h0m-1-4h0m-2.9-.8h0m-.9 .3h0m-4.1 1.7h0m-.2-1.2h0m-3.8 .5h0m-2.2-1.3h0m-5.8 4.4h0m-3.6-3.2h0m-3.9-.6h0m-255.6 2.8h0m-11.1 .2h0m-1.5 4.9h0m14.6-1h0m3 3.3h0m5.5-2.9h0m5 2h0m.4-4.6h0m1.9 1.1h0m215.1 .3h0m1 3.9h0m.5-3.2h0m.7-1.1h0m3.5 .1h0m3.9-.8h0m5.6 2.6h0m.3 2.3h0m8.5-5.2h0m1.3 .4h0m6.6 .2h0m.4 4.8h0m1.7-5h0m2.4 2.4h0m.1 1.4h0m.3-2.3h0m5.9 1.6h0m7.8-3.6h0m.8 3.6h0m.8 1.2h0m.7-.1h0m0 .5h0m2.6-3.1h0m7.6 2.4h0m9.4-1.1h0m6 1.8h0m7.8-.8h0m9.6-2.9h0m.1-1.1h0m3.8 1.6h0m-4.7 4.4h0m-4.9 .2h0m-8.7 2.9h0m-2.9-.5h0m-3.2-2.5h0m-8.7 4.3h0m-2.1-4h0m-16.2 .6h0m-3.4 4.1h0m-.1-.6h0m-9.8 .9h0m-.5-.5h0m-1.9-4.8h0m-2.2 3.7h0m-2.1-2.6h0m-2.7 2.7h0m-.1 .6h0m-5.5 .3h0m-8-.2h0m-4.1-.4h0m-2 .5h0m-2.2 .5h0m-5.4-3.5h0m-214.8-2.2h0m-1.4 5.2h0m-2.5-3.5h0m-.3 2.8h0m-.8 .9h0m-8.7-1.9h0m-.7-1.2h0m-2.1-2h0m-4 3.4h0m-5.3 4.9h0m2.8-2.6h0m2.7 .9h0m5.2-.4h0m3.2 5.2h0m2.8-2.3h0m2.8-.4h0m5.5-.4h0m.1 3.1h0m214.4-2.7h0m1.7-2h0m1.1 3.5h0m.1-4h0m1.3 .4h0m2.4 2.3h0m.3-.6h0m.6-1.4h0m.7-1h0m.1 5.2h0m.5-.9h0m13.3-1.3h0m6.8 1.8h0m.5-2.3h0m19.3 2.6h0m1.8-5.2h0m5.5 5.1h0m9.9-3.8h0m3.9 .5h0m3.6 2.9h0m4.4-3.6h0m5.8 .6h0m6.6-.5h0m3.3 1.2h0m1.4-2.3h0m.9 2.5h0m-4.1 3.5h0m-7.8 4.6h0m-19.7-1.6h0m-16.4 .8h0m-.3 .5h0m-5.8-1.4h0m-14.1-1.8h0m-1.7 3.9h0m-3.2-1.2h0m-1.1-1h0m-1.1 .3h0m-3.1-1h0m-5.3-2.1h0m-1.9 1.5h0m-.5 2.4h0m-.7-3.6h0m-7.8 .4h0m-211.5 4.6h0m-2-.2h0m-23 .5h0m-7.6-1.7h0m-3.6 3h0m2.1 4h0m1.1-2.2h0m5.7-.5h0m6.5 2.7h0m.3-1.3h0m5 1.8h0m2-2.3h0m0-.5h0m1.7 .2h0m10 .8h0m.9-3.5h0m0 2.3h0m213.6 1.5h0m.4 1.2h0m5.7-2.8h0m.3 .9h0m.4-2.4h0m8.1 3.2h0m4.1-3.8h0m.1 4.8h0m6.4-1.8h0m.9 .7h0m2.9-2.1h0m5.1 2.1h0m3.9-3.8h0m1.9 1.3h0m6.7 4.1h0m.5-3h0m2.6-.8h0m10.3 .2h0m.5 2.3h0m.4-.3h0m.2 .7h0m8-2.5h0m5.8-2.2h0m4.4 3.1h0m2.7 2.1h0m1.9-4.9h0m-3.8 6.7h0m-4.2 .6h0m-11.9 .3h0m-3.3 2.6h0m-.1-4.3h0m-4.3 4.3h0m-1.9-.4h0m-6.6 1.3h0m-.5-2.3h0m-4.9-.6h0m-.5 1h0m-5.6-2h0m-30.4-.3h0m-2 2.8h0m-.1-.5h0m-5-1.1h0m-212.1 2.1h0m-.4-4.2h0m-10.1 4h0m-14.8-.6h0m-2.1 1h0m-4.6-2.7h0m-8.3 7.8h0m2-1.8h0m.4-2h0m.3 4.9h0m18.4-4.6h0m2.8 3.7h0m3.2 1.8h0m7.2-5.5h0m3.5 3.6h0m4.1-3.1h0m.6 3h0m214.2 .7h0m1.2-3.1h0m.8 .7h0m2.3 3.2h0m11.3-.1h0m.1-2.4h0m.3-2.4h0m9.1 1.8h0m1.5 .4h0m6.3-2h0m2.9 4.1h0m1-3.2h0m1.9 .6h0m.7 1.7h0m1.3 1.3h0m.5 0h0m5.7-3h0m2.9 .6h0m1.4-1.2h0m5.1 2.8h0m8.5-.7h0m5.1-.5h0m1-1.3h0m-4.4 6.8h0m-2.3 3h0m-.1-3.2h0m-.7-.5h0m-7.5 3.2h0m-3.5-3.7h0m-1.3 2.5h0m-.2 0h0m-1.1-1h0m-3.1-.5h0m-2.4-1.3h0m-7.6-.6h0m-4.3 2.5h0m-1.7-.8h0m-.1-.3h0m-.2-1.7h0m-3.1 5.4h0m-2.3-5.2h0m-1.9 5.4h0m-1.9-5.7h0m-.7 5h0m-1.3-1.7h0m-11-2.5h0m-2 .5h0m-4.5 3.4h0m-.9-1.2h0m-.1 1.5h0m-1-2.2h0m-1.2 .7h0m0-2.1h0m-3 1h0m-103.9 2.2h0m-1.3-.9h0m-100.9 1.6h0m-.8-1.8h0m0-2.7h0m-5.6 3.6h0m-.2-3h0m-2.3 .6h0m-.1 3.5h0m-5-4.2h0m-29.5 3.3h0m-2.7-4h0m-.2 1h0m-.5 .1h0m1.2 8.4h0m.1-.1h0m16.2-3.2h0m6.3 .2h0m3.2-.4h0m3.1 2.9h0m4-.7h0m2.9 .8h0m8.4-3h0m1.4 2.9h0m.7-2.7h0m2.1 .1h0m91.1 4.7h0m2.1-2.3h0m2.1-.7h0m8.6-2.4h0m.7 4.1h0m100-4.3h0m.6 4.1h0m.6-1.5h0m.8-2.5h0m5.8 2.5h0m4.3 .9h0m.1-3.3h0m.6 3.3h0m4.8-.5h0m.7-1.3h0m2.4 3.6h0m3.5 .4h0m.6-1.6h0m2.6-3.9h0m1.5 .7h0m.7 3.9h0m1.3-.9h0m3.9-1.2h0m7.1-1.4h0m.5-.3h0m6.8 .8h0m4.2 3.9h0m4-3.2h0m3.8 1.6h0m.1-4.2h0m.1 1.4h0m0-.2h0m1.3-.7h0m2.8 1.6h0m-.5 4.5h0m-1.9 1.7h0m-.2-1.4h0m-4.1 2.3h0m-4 .2h0m-1.3-3.2h0m-1.2 2.4h0m-5.1 3.2h0m-7.8-1.4h0m-.7-1.2h0m-.5 1.7h0m-2.5-1h0m-1-1.9h0m-2.9-1h0m-1.8 4.1h0m-.9-3.4h0m-1.9 1.8h0m-2.3-.8h0m-2.8-1h0m-1.3 1.9h0m-.6 .6h0m-1.5-1.8h0m-.3 2.7h0m-9.1-.1h0m-2.1-4.3h0m-1.7 1.7h0m-2.6-1.9h0m-.6 2.9h0m-.3-1.3h0m-.6 2h0m-99.6 .1h0m-3.3 .6h0m-.3 .9h0m-1.4-4.9h0m-1 2.9h0m-1-1.3h0m-.3 2.4h0m-3.4 .3h0m-.6 .6h0m-.3-3.8h0m-.7 1h0m-.6 .4h0m-1.7 1.5h0m0-2.1h0m-92.2-1.2h0m-1.5 3h0m-16.5-4.2h0m-2.4 2.8h0m-2.6-1.2h0m-21.2 2.2h0m-6.1-3.6h0m-.8 1.7h0m-1.9 6.1h0m.1 0h0m2.6-1.5h0m37.4 3.2h0m4.5-1.9h0m7.1-1.6h0m1.6-.6h0m.2 4.9h0m86.6-.7h0m.3 .2h0m.7-2.9h0m3.5 2.9h0m1.4-2.6h0m.9 2.4h0m1.1 1.3h0m1-5.4h0m.4 4.9h0m1.4 .1h0m.8-3.2h0m2.8-.5h0m105.4 4.2h0m1.9-2h0m1.1-1.2h0m14.6 2.9h0m12.3-.3h0m2.8 .3h0m5-4.7h0m2.3 .1h0m2.9 .8h0m2.2 2.3h0m.3-2.8h0m2.9 .2h0m3.6 .3h0m10.7 3.6h0m-.4 4.9h0m-1.4 1.2h0m-7.8-1.7h0m-7.1-.7h0m-2.1-1h0m-1.7 .1h0m-4.4-1.3h0m0 1.2h0m-.2 3.8h0m-6.2-.9h0m-9.3-1.8h0m-4.4-.7h0m-9.7 1.9h0m-1.1-3.6h0m-.9 5h0m-1.4-4h0m-1.2 2.4h0m-.1 1.8h0m-110.7-4.3h0m-1.7-.6h0m-.1 2.2h0m-2.4-2h0m-2-.3h0m-1.9 3.7h0m-2.1-4.4h0m-89.7 .2h0m-1.6 2.7h0m-8.2 .2h0m-17.8-1.5h0m-1.8 3.8h0m-5.7-3.2h0m-4.1 .6h0m-1.4 1.5h0m-7 1.6h0m-2.8-5.3h0m-2.7 .9h0m-3.4 8.4h0m2.5-.2h0m.6 .9h0m8.8 .3h0m29.5 0h0m103.8 .8h0m2.2-.7h0m2.8-2.2h0m.2 1h0m1.1 1.5h0m.5-2h0m113.3 .4h0m3.7 1.6h0m2-3.1h0m2.5-.2h0m3.1-1.4h0m3.6-.2h0m4.3 3.6h0m.2-2.4h0m.7 .9h0m1.2-1.3h0m.8-.6h0m3.7-.5h0m7.3 5.7h0m4.2-2.4h0m2.7 .8h0m3.2-3.7h0m.4 5.4h0m2.7-5.6h0m1.9 4.8h0m3.6-3.8h0m.9 1.9h0m1.4 2.2h0m2.6-2.9h0m3.3-.3h0m.7-.7h0m2.2 3.6h0m.8 2.7h0m-7.7-.7h0m-3.3-.7h0m-.7 1.3h0m-2.5 0h0m-3.3-1.1h0m-6.4 2.5h0m-4.1 2.1h0m-1.8-.6h0m-1.1-.6h0m-3.5 1.1h0m-9.3-2.7h0m-2 .6h0m-3.6 1.8h0m-2.3-2.1h0m-1.3 2.4h0m-2.9-4.6h0m-5 .5h0m-123.4 2.2h0m-.1 1.7h0m-93.6-4.1h0m-1.1-.4h0m-.8 2.6h0m-2.6 2.7h0m-2.7 .2h0m-20.8-4.3h0m-1.4 .6h0m-12.2 2.8h0m-6.3-2.7h0m-.3-.8h0m-.4-.3h0m13.3 7h0m6.4 2.1h0m1.9-.1h0m.7-.7h0m8.5-3.3h0m108.8 2.5h0m2.1-1.5h0m125.2 2.5h0m1.4-.8h0m1.4 2.5h0m3.4-2.5h0m.4 2.1h0m2.6-1h0m7.3-1.4h0m.6-1.4h0m.4 1h0m4.3 2.3h0m4.7-2.5h0m.3-.4h0m4.8-.7h0m3.2 1.3h0m1 .1h0m.9-.3h0m3.4-.2h0m2.9 1.7h0m3.3-2.7h0m2.7 5.1h0m1.4-5.1h0m7.5-.3h0m2.2 4.1h0m2.3-3.6h0m1.6 1.8h0m.6 3.5h0m-1.2 3.3h0m-1.1 .4h0m-1.7 .5h0m-6.7 0h0m-12.9-.6h0m-1.7 0h0m-1.7-2.4h0m-1 1.7h0m-5.1 0h0m-8.1-2.4h0m-1.6 .3h0m-4.8 1h0m-.7 1.6h0m-1.2 2.1h0m-3-4h0m-7-1.1h0m-.3 1.5h0m-.7-2.2h0m-.7 1.8h0m-.8-1.8h0m-128.9 .7h0m-6 1.8h0m-4.8 6.2h0m1.6 .4h0m.2 1.9h0m142.4-2.8h0m2.4 .5h0m5.1-2h0m1.7 4.3h0m.5 .9h0m1.4-2.3h0m2.4 1.7h0m1.8-4.6h0m5.3 0h0m.4 .2h0m3.1 2.4h0m11 2.3h0m3.4-2.6h0m6-1.4h0m18.1 4.2h0m3.7-1.9h0m1.8 5h0m-1.4-2.2h0m-1.1 .8h0m-.8-1.1h0m-.1 1.5h0m-6.7-.3h0m-1.8 2.3h0m-3.1-1.3h0m-.1 1.9h0m0-.5h0m-5.6 1.6h0m-2.7-.2h0m-.3-2.1h0m-2.6 .5h0m-1.3-.7h0m-1.8 2.6h0m-6.4-1.4h0m-5.7-4.2h0m-4.5 5.7h0m-2.8-3.9h0m-7.2-.5h0m-142.4 2.7h0m-11.5-3.6h0m-2.7 1.5h0m0 2.8h0m-1.2-.6h0m-3.8 7.3h0m.9-.1h0m3.7-1.7h0m18.3-1.6h0m147-1.9h0m7.1 2.5h0m.2 1.9h0m4 .4h0m20-1.8h0m5.4-1.9h0m3.1 1.2h0m4.8-1.9h0m0 3.4h0m5.6 1.1h0m.4-1h0m6.6 4.1h0m-2.1-.9h0m-2.3 4.1h0m-4.3-.4h0m0-4.5h0m-.2 3.1h0m-3.1-2.8h0m-9.5 3.2h0m-7.1-.8h0m-4.6-2.2h0m-.3 .5h0m-1.7 3h0m-2.4-.7h0m-5-3.2h0m-153.9 1.6h0m-12.6-.4h0m-6 3.2h0m-.5-4.8h0m-1.8 0h0m-4.1 .6h0m-3.5 3.4h0m-1.4 .9h0m-.4-1.6h0m-2.3-2.4h0m3 9.3h0m3.4-3.2h0m.2 1.1h0m1.7 1.2h0m.4 1.6h0m.8-1.7h0m3.3 2.4h0m2.4-1.7h0m.6-2.7h0m2-.9h0m8.9 .5h0m13.3 4.1h0m157.6-1h0m2.5 .5h0m5.2-1.4h0m.3 .5h0m14.2-3.5h0m.5 4.8h0m.8-.9h0m2.8-3.3h0m5.9 1.3h0m2.6 4.1h0m-10.1 4.3h0m-3.4-4.1h0m-2.5 2.7h0m-3.1-1.2h0m-.8-1.6h0m-5.5 1.3h0m-.2-1.3h0m-163.3 .1h0m-3.2 3.2h0m-27.6-2.8h0m-3.6-.7h0m43.6 11.5h0m165.4-2.3h0m7.2 2.1h0m9-4.4h0m9 10h0m-12.7-4.9h0m-10.8 2.1h0m-1.3-.9h0m-160.2 2.1h0m-.5-2.2h0m-.9 3.7h0m-5.1-3h0m1.9 8.2h0m.5-.9h0m2.3-.8h0m.7 .3h0m.2 .6h0m2.1-1.4h0m.6 .3h0m1.3 .5h0m156.6-2.6h0m1.6 .8h0m2.2 3.3h0m1.4-1.8h0m.6 3.1h0m6.7-.7h0m2.4-3.8h0m2.2 2.7h0m2.1-3.7h0m.4 2h0m2.7 3.7h0m-.1 5.2h0m-4.5-1.8h0m-2.4-1.9h0m-.6 3.6h0m-.5-1.6h0m-6.2 0h0m-167-2.8h0m-.7 1h0m-1.2-.4h0m170.6 7h0m1.1-1.9h0m3.8 3.9h0m4.7-.6h0m2.3 6.5h0m-1.7 .7h0m-2.2-1.4h0m-2.5-2.3h0m-202.7 52.5h0m-2.9 1h0m.8 4.3h0m.9-3.5h0m2.3-.6h0m3.8 5.1h0m.4-.4h0m-1.9 1.7h0m-10.6 4.1h0m-7.2 5.2h0m1.4 1.1h0m.7-4.6h0m.9 .5h0m.4 .8h0m.1 1.6h0m.4-1.1h0m3.5-1.5h0m.4 2.3h0m.2-.8h0m3.2 1.1h0m2.8-.1h0m.3-1.5h0m3.3-1h0m1.6-.1h0m-4.8 10h0m-1.9-.7h0m-1-2h0m-8.4 3.4h0m-.7-1.7h0m-2.5-3h0m-.2 2.5h0m-.4-2.5h0m-3.3 4.5h0m-3.6 3.3h0m2.8-2.7h0m.7 1.4h0m.4 1.5h0m7.2-3h0m.7 2.7h0m1.9-.4h0m1.6 3.2h0m.6-3.3h0m.1 .7h0m0-1.5h0m3.1 1.7h0m1.5-.7h0m1.6-2h0m.6 1.3h0m.1-.8h0m-3.9 5.3h0m-5.3 5.3h0m0-5h0m-.2 3.5h0m-1.4 1.8h0m-7.7-1.9h0m-2.2-1.3h0m-4.6 .7h0m-.5 1.7h0m-2.4-1.1h0m-1 1.7h0m-1.3 6.3h0m0-1.4h0m2.3-2.7h0m1.2 1.2h0m8.2 1.4h0m1.3-1.2h0m.9 0h0m.3-.5h0m.4-.9h0m4.1 .9h0m3 .7h0m.1 2.4h0m60.8 0h0m10.5 4.9h0m-2.9-2.4h0m-.3 3.4h0m-1.5-3.6h0m-2 0h0m-4.4 .7h0m-3.3-.2h0m-.8 3.3h0m-1.4-1.1h0m-1.7 .4h0m-53.7-4h0m-2.1-.5h0m-.8 .6h0m-1.8 3.6h0m-.3-1.5h0m-3.1-1.5h0m-3.3 3.9h0m-2-.3h0m-.1-4.9h0m-3.3-.5h0m-.8 5.8h0m-5-1.7h0m-.9-.1h0m-3.6 6.5h0m1.4-2.4h0m.3-.4h0m3.8 2.5h0m5.4 .1h0m5.1-3.8h0m1.7-.5h0m.5 5.5h0m2.7-1.2h0m.5 .7h0m7.3 .5h0m1.9-1.7h0m48 1.9h0m.3-3.3h0m.5 2.7h0m.1-3.6h0m1.8-1.6h0m2.9 2.8h0m.4 2.1h0m1.3 .9h0m.3-5.3h0m.3 2.3h0m4.4 2.1h0m2.9-2.8h0m3.9 3.8h0m1.4-4.4h0m.7-.8h0m-1.9 5.4h0m-2 2.7h0m-.7 1.3h0m-.8-3.1h0m-.1 4.9h0m-.1-3.9h0m-8.6 3.5h0m-5.7-1.1h0m-27.3-1.5h0m-3 2.6h0m-.3 .4h0m-3.7-2.9h0m-1.6-1.9h0m-.7 .1h0m-1 1.1h0m-5.4 .2h0m-.3-2.3h0m-2.1 4.2h0m-.2-3.7h0m-2.3-.4h0m-2.8 2.2h0m-4.6 2.5h0m-7.7-3.3h0m-3.9 .1h0m-1.5-.9h0m-.7 3.4h0m-1.2-1.4h0m-4.1-.7h0m-3.5 1.5h0m-.8-1.8h0m-1.3 .9h0m-1.9 .9h0m-1.8 3.1h0m.4 3.9h0m1.3-1.4h0m5.4-1.1h0m1.7-.3h0m.1 1.7h0m.8 .1h0m.4-1.7h0m2.2-1.2h0m.2 2.3h0m2.1 2.4h0m1-2.3h0m1.8-.3h0m1 .4h0m.6-1.1h0m0-1.2h0m1.8 2.1h0m2 1.3h0m7.5 .7h0m1.7-1.6h0m.4 1.2h0m4.3-1.3h0m1.8-2.1h0m4.2-1.3h0m2.7 1.1h0m1.4 3.3h0m.4-4.3h0m7.6 3.5h0m1.3 .7h0m6.9 .8h0m0-1.1h0m2-1.7h0m3.7 .9h0m4.5 2.2h0m9-4.5h0m9 3.4h0m1.8 .9h0m2.1-.8h0m.4 .9h0m.2-1.6h0m.3 .4h0m-4.4 2.1h0m-3.4 4.2h0m-9.8-1.5h0m-2.3-2.6h0m-.6 .9h0m-3-.6h0m0 3.9h0m-.6 1.1h0m-2.7-4.6h0m-2.6 .8h0m-1.3 4h0m-1.9-1h0m-3.2-1h0m-.6-1.5h0m-3.1 1.2h0m-41.8-2.9h0m-6.3 1.3h0m-1.2-1.2h0m-3-.7h0m-1 1.3h0m-.9-.3h0m-.5 .2h0m55.2 7h0m1.9 .3h0m1.4-.4h0m.4 1.8h0m3 .7h0m2.2-.2h0m12.7-3.1h0m3.1-1.3h0m.7 0h0m.5 5.5h0m1.4-5h0m2.4 4.3h0m3.5 .5h0m1-2.4h0m-3.8 6.8h0m-1 .6h0m-.7-2.6h0m-.1 2h0m-.5-.6h0m-6.7 .5h0m-3.1-2.2h0m-4.2 3.7h0m-2.3-2.1h0m-1.9-.9h0m-1.6-1h0m0-.5h0m-.1 2h0m-.6-1.7h0m1.6 8.2h0m2.1 1.8h0m1.8-4.2h0m4.4 2h0m3.1-1.9h0m2.6 1.8h0m.1-1.2h0m.8 3.3h0m.8-3h0m-1.9 4.6h0m-2.8 1.3h0m-.5 .8h0m-.4 1.8h0m-3.1 .8h0m-3.6-1.7h0m-1.9 2h0m-.6-4h0m-2.3 8.2h0m.5 .8h0m1.8-2.6h0m.2-1.3h0m3.3-.4h0m-.8 8.3h0m-1.7-1.8h0m-1.8 1.9h0m-1.2 1.8h0m-.2-2.6h0m-.5 6.4h0m2.1 1.2h0m.4-1.7h0m.3 2h0m2.7 1.6h0m89.2 6.7h0m-1.9-4.2h0m-.5 2.3h0m-7 .1h0m-82.2-3.4h0m-1.1 2.8h0m-1.5-.5h0m-.1 .9h0m-2.4 3.3h0m1.8-.2h0m.2 3.2h0m1.1-1.1h0m79.4-2.1h0m.5 2.2h0m8.7 3.8h0m-3.4 4.3h0m-.3 .2h0m-4.6-3.3h0m-.6 2.5h0m-80.1-3.2h0m0-1.2h0m-2.2 1.5h0m-.8 2.6h0m-.8-.8h0" stroke="#C77CFF" stroke-width="3.1" stroke-linecap="round" fill="none"/>
<path d="M228.3 78.5h0m-1.2 2.4h0m-10.3 6.7h0m4.8-.5h0m14.8 2.5h0m-9.7 8.5h0m-25.4 10.7h0m4.9 3.3h0m19.5 .2h0m8.9 2.4h0m-19.7 3h0m-10.6-2.5h0m2.6 7.8h0m26 1.3h0m-41.9 9.1h0m3.1 .1h0m187.7 8h0m-173.5-.4h0m-.6 0h0m-18.3 6.2h0m.3-.9h0m24.6 0h0m1.4 1.3h0m3.2-2.5h0m3.8 .9h0m-.3 7.8h0m-4.6-3.5h0m-1.3 2.2h0m-23.5-.7h0m-.8 1.5h0m13.6 7.6h0m.8 1.5h0m-9 8.5h0m10.6 2.9h0m-6.8 4.3h0m-4.7-.7h0m206.3 14.3h0m-131.8-5.8h0m103.3 11.2h0m1.2 .5h0m28-3.1h0m-14.8 15h0m13.5 4.1h0m-1.8-.9h0m-16.4 7.3h0m3.1-.4h0m29.7 7.6h0m-.7-4.8h0m-.5 1.6h0m-11.2 8.3h0m-20.2 7.9h0m7.7 5.4h0m13.1-5.3h0m8.9-.4h0m-.4 10.5h0m-22.1-4.1h0m-20-.1h0m2.2 10.8h0m14-4.4h0m9.4 3.6h0m28.1 1.5h0m2.8 2h0m-.3 .2h0m-1.4 .1h0m-4-2h0m-.7 1h0m-30.2 6.9h0m12.8 .8h0m.2-.4h0m8.8 5.5h0m-31 2.1h0m-1.1-1.3h0m1.5 15.1h0m.5 1h0m17.7 5.1h0m1.4-.8h0m24.3-4.7h0m29.6 .8h0m-48.3 6.4h0m-163.8 10.3h0m.4-.5h0m138.9-1.6h0m39.6 1.5h0m33.5-4.4h0m29.7-.4h0m2.7 4.4h0m-26.3 3.1h0m-2.5 1.3h0m-15.2-3.1h0m-53.1 2h0m-9.6 3h0m-233.2 .3h0m-33.7-3.4h0m-.3 2.6h0m291.8 4.9h0m30.3-1h0m53.6 .1h0m-92.6 7.8h0m-1.2-.9h0m-11.9-.2h0m-8.7-.8h0m-226.5 4h0m.5 1.5h0m.8-1.8h0m89.9 .8h0m147.4 4.1h0m5.1-.7h0m37.9-.3h0m69.9 3.2h0m-.1-1.3h0m-36.9 4.1h0m-23.6-1.9h0m-3.6-2.3h0m-5.9 2.3h0m-20.4 1h0m-3.7-1.7h0m-10.3 4.1h0m-240.8-.2h0m-13.2 1.5h0m13.6 .6h0m1.4-1.3h0m228.5-.2h0m14.5 2.6h0m65.1 8h0m-60.7 0h0m-25.5 1.1h0m-214.2-3.4h0m-2.5-1.2h0m-2.7 4.4h0m-16.4-1h0m5.4 6.3h0m12.5-2.2h0m236.2-.2h0m1.5 2.7h0m5.5-2.5h0m4.6 2.3h0m1.2-1h0m17.9 3.4h0m-18.3 2.4h0m-12.6 1.4h0m-248.6-4h0m-3.5 2.4h0m-6.4 .5h0m-1.4 1.3h0m.3 2.3h0m247.8 .7h0m1 2.7h0m24.5-1.1h0m1.2-.8h0m2.3-1.2h0m44.1 4.7h0m-13.8 3.9h0m-295.3-3.7h0m-5.4-.7h0m6.2 10.2h0m7.1-3.5h0m271.4 1.3h0m12.2 7h0m-2.8 0h0m-1.8 2.3h0m-30.7-2.1h0m-15.7-2h0m-.1 1.8h0m-245 5h0m11.9-1.8h0m.2 1.5h0m274.7-.8h0m-28.5 6.4h0m-18 2h0m-232.3 1h0m-12.7-.1h0m-5.8-.1h0m6 2.4h0m17.5-.3h0m260.3 .3h0m33.8 1.5h0m-25.2 7.8h0m-8.3-.7h0m-30.2-1.5h0m-.9 .8h0m-7.5-1.1h0m-230.2 4.3h0m-1.3-.6h0m-3.8 .2h0m-.6-3h0m-4.9-1.3h0m-4.4 8.8h0m4.4-.7h0m9.6-1h0m.7 .4h0m2.4 .9h0m13.5 2.1h0m263.4-4h0m11.5 .4h0m5.2 2.7h0m-3.4 6.5h0m-1.1-5.2h0m-8.6 1.4h0m0 .8h0m-10.1 .2h0m-4.3-.3h0m-1.4-1.7h0m-.6 .2h0m-28.4 1.4h0m-114 3.1h0m149.3 1.2h0m14 7.2h0m-305.7 .7h0m144.1 6.5h0m-109.5 9.1h0m-6.1 .2h0m1.1 1.5h0m7.8-.6h0m237.4 4.1h0m11.6 0h0m-21.5 1.6h0m-4.4 .8h0m-131 12h0m-.6-.7h0m172 13.8h0m-137.8 30.2h0m-33.8 115.1h0m-.9 4.3h0m-.5 7.7h0m-13.3 8.1h0m5.8-1.1h0m3.2-1.4h0m1.1-1.5h0m13.8 9.4h0m-20.3-3.9h0m67.2 15h0m-6.7 1.2h0m-2.6-3.8h0m-2.4-.9h0m-3.1 1h0m0-.9h0m-.6 .6h0m-2.2 .7h0m-7.5-.1h0m7 8.9h0m1 .1h0m12.9 0h0m-.2 4.2h0m-2.2 2.4h0" stroke="#fff" stroke-width="2.1" stroke-linecap="round" fill="none"/>
<path d="M217.8 89.9h0m3.5-1h0m.6-.9h0m23.2 4h0m-1.4 2.2h0m-15-1.1h0m-2.4 1.7h0m-3.9-1h0m-5.4 7.6h0m.5 2.1h0m-5.8 2.3h0m-9.7 2.4h0m25.5 5.2h0m-23.5 5.8h0m-4 12.7h0m17.2 3.7h0m.9-1.2h0m163.7 6h0m-164.1-2.2h0m-5.9 4.3h0m-22.4 5h0m1.7-1.2h0m25.6-1.1h0m3.2 4.6h0m-23.5 5h0m-3.6-4h0m-4.8 1.8h0m20.9 8.7h0m178.1-3.2h0m1.4 7.2h0m-191.2-2.5h0m9.6 10.9h0m186.9-4.5h0m-193.4 6.7h0m71.3 9.8h0m-2.6 1h0m124.6 18.2h0m1.1 1.8h0m10.3-.9h0m2.9 1.7h0m8.8 19.1h0m-28-2.6h0m25.2 15.5h0m-13.8-1.5h0m-13.5 4h0m5.2 2.1h0m16.3-3.2h0m9 9.8h0m-1.9-1.3h0m9.1 7.2h0m-8 2h0m-18.5 0h0m30.5 6.9h0m.9-.3h0m-49.7 7.7h0m-.3 2.2h0m10.6 11.4h0m29.1 5.8h0m7.8-3.4h0m-2.5 10.2h0m-23.2-2.5h0m16.4 5.7h0m.6-.7h0m27.6 3.9h0m.9 .5h0m-11.5 1.2h0m-1.4 4.3h0m-15.2-4.4h0m-35.5 3.5h0m-232.6 1.9h0m10.9 4.1h0m215-1h0m68.8 3h0m-46.4 5.3h0m-2.4-1.4h0m-12.1-3.4h0m-9 .3h0m-135.6 4h0m-77.5-5.4h0m-18.7 11.1h0m10.6-2.1h0m8-1.2h0m78-1h0m152.8 2.2h0m14-2.4h0m.4 4h0m21.4-.8h0m2.5 .3h0m6.1 1.3h0m-4.4 1h0m-2.5 .4h0m-276.9 2.6h0m-1.1-.9h0m-10.5 6.5h0m.9-.9h0m14.1-.7h0m232.3 1.7h0m39.6 1.4h0m36.7 6.7h0m-58.8 .5h0m-17.9-3.6h0m-225.7 .3h0m-19.1 1.8h0m-.3 1h0m253.1 2h0m11.4-1.1h0m25.7 1h0m1.7 1h0m63.9 .5h0m.7-.2h0m-55 4h0m-18.1 4.7h0m-5 .7h0m-14.4-2.9h0m-5-2.4h0m-21.5 4.4h0m-241.3-.5h0m-2 .2h0m-.7-1h0m23.8 7.8h0m220-.4h0m3.2-4.3h0m37.8-.6h0m35.3 7.1h0m-2.5-.9h0m-7.2 4.5h0m-26.1-2.5h0m-39.8-1.7h0m-1-.2h0m-220.5 1.2h0m-9.2 4h0m-10.6 1h0m16.9 .1h0m250.5 3.8h0m1.4-.3h0m12-.2h0m8.4 .8h0m.8-2.6h0m11.5 3.4h0m18.5 2.2h0m-14.6-1.7h0m-23.1 4.2h0m-14.7-.2h0m-3-.2h0m-256.4 3.7h0m.6-.9h0m1.4 1.9h0m.9 .5h0m.5-.7h0m233 3.5h0m8.6-4.2h0m62.8-.5h0m-20.8 8h0m-13.6-2h0m-.3 .9h0m-18.4 .2h0m-15.4-.5h0m-239.9 0h0m-7.5 2.6h0m1.1 5h0m8.1 2.3h0m309.7-4.5h0m.8 0h0m-27.5 4.9h0m-23.7 3.7h0m-.5-2.6h0m-18.4 2.4h0m-7.4-3.6h0m-223.8 3h0m-.4-.2h0m-9.4 .7h0m-1.8-.2h0m-1.2 .8h0m-1.3 .2h0m-1.8 .4h0m-3.7 .2h0m-.2 .1h0m-1.3-4.2h0m-.6 .4h0m-1.1 .4h0m-.1 10.1h0m2.4-3.1h0m21.7 .3h0m266.1 2.6h0m.6-1.2h0m.2 1.3h0m16.9-1.5h0m-2.6 3h0m-3.6-.3h0m-11.6-.2h0m-8.3 .6h0m-31.9 2.5h0m-110 1.1h0m-1.4-2.6h0m159.1 5.8h0m5.6 3.6h0m2.7-2.1h0m-7.2 6.4h0m-41.2 .5h0m-227.1-.5h0m-.1-.2h0m-36.9 .7h0m285.1 10.7h0m-.9 .8h0m-16.8 6.9h0m20.4 .6h0m-11.8 .9h0m-7.7 .2h0m-6.6 3.8h0m29.9 12.5h0m16.8 2.6h0m-3.4 6.3h0m4.4 11h0m-169.1 6.2h0m0-.9h0m-15.6 126.6h0m-.8 1.4h0m-9.4 9.8h0m12.5-3.1h0m4 8.1h0m-1.3-3.7h0m-13.1-1.1h0m3.7 9.4h0m6.7 5.7h0m-8.1 .4h0m66.1 9.3h0m-10.3 4.4h0m-6.1-4h0m-.2 9.9h0m1.2 .3h0m4.5-5.2h0m10.4 5h0m-.3 1.8h0m-3-.9h0m-8 1.2h0m-.6-1.1h0m-.2 .7h0m8.5 5.6h0m1.2 0h0" stroke="#fff" stroke-width="2.5" stroke-linecap="round" fill="none"/>
<path d="M227.6 80h0m17.7 13.3h0m-7.1-3.2h0m-18.8 3.5h0m-1.2-1.5h0m8.8 7.8h0m22.7 .4h0m-34.3 1.9h0m11.1 10.4h0m.5 .2h0m4.5-2h0m3.3 3.4h0m-1.2 .9h0m-23.4 .1h0m25.1 9h0m-36.8 9.8h0m7.2-1.3h0m1.5 .8h0m17.8 7.3h0m-12.6-.8h0m-7.9 3.7h0m-19.9-1.5h0m-1.6-1.2h0m24.6 8.9h0m11.1-4.1h0m2.5-.1h0m.3-.1h0m2.7 3h0m-2.4 4.7h0m-6.1-2.3h0m-7.8 2.7h0m-11.2-.7h0m197.2 13.5h0m-.8-2.6h0m-.1 .9h0m-1 2.4h0m-4-1.6h0m-191.2-2.8h0m191.8 8h0m.8 2.6h0m.4-.8h0m3.3 .9h0m2.3-1.3h0m-188.7 3.7h0m-7.7 8.7h0m170.9 4h0m-101.8 .5h0m102.1 3.2h0m3.9 4.5h0m29.2-3.3h0m-37.5 13.4h0m4.9-2.8h0m11.4 2.8h0m1.6-.9h0m22.8 3.8h0m1.3 .7h0m-18.2-.4h0m-15.3 4h0m9.6 7.6h0m.1-1.2h0m6.1 5.4h0m-5.2-1.6h0m-13.6 4.1h0m13.8 4.4h0m11.4-1.1h0m2.6-1.5h0m17-2.2h0m-42.5 17.4h0m11-4.6h0m1.6 .1h0m19.8 14.2h0m14.4 2.6h0m8.9 5.5h0m-1.7-2.2h0m-8.9-3h0m-2.4 2.9h0m-16.3-.4h0m-4.7 7.6h0m1.4-1.3h0m30.9-.8h0m-27.4 8.8h0m25.8 14.2h0m6.9 .2h0m3.9 3.1h0m11.7 0h0m1.4-1.3h0m.1 6.3h0m-13-2.3h0m-17.8 .1h0m-10.5 1h0m-3.8 1h0m-.6-1h0m-159.4 9.5h0m178.3-4.6h0m39.9 8.4h0m-16.2-3.4h0m-17 2.4h0m-6.2-1.8h0m-39.3 3.7h0m-.5-1h0m-225.6 6.6h0m347.1 .5h0m-38.9 2.2h0m-21.9-.2h0m-46 3.9h0m-.5 .5h0m-20.4-2.5h0m-235.4 8.4h0m3.8 .6h0m.9 .1h0m15.6-.9h0m219.3-4.4h0m4 2.8h0m7.2 0h0m10.8 2.3h0m.3-5.1h0m106 8.9h0m-5.7-.7h0m-2.2 .2h0m-18.1-.9h0m-42 1.1h0m-47.2 2h0m-1.6-1.9h0m-239-.4h0m-5.2 1.4h0m7.2 2.5h0m228.8 3.5h0m4.3-2.4h0m4.4 .6h0m35.7 2.8h0m-267.4 5.1h0m-11.3-1.1h0m-.4-.6h0m-8.1-1.5h0m-.3 .5h0m-1.6-1h0m8.3 11.3h0m.1-5h0m16.4 .8h0m230.2 2h0m1-2.7h0m3.3 4.6h0m6.2-3.7h0m1.7-1.1h0m1.6 3.9h0m17.6 .8h0m10.9-1.7h0m1.9-.6h0m61 5.4h0m-.8 .4h0m-57.1 .1h0m-24.1 3.2h0m-20.7-.2h0m-1.1-.3h0m-3-1.9h0m-2.2 .1h0m-229.1 1.5h0m-11.2-2.8h0m-2.2-.8h0m-.5-.3h0m-2.6 2.2h0m-6.1-1.6h0m-1.4 5.4h0m2.4-.5h0m.5 4.4h0m241.6-3h0m.8-1h0m.2 2.7h0m.7-1.9h0m1.4 3.6h0m27.7-4.2h0m1.7-.1h0m6.8-1h0m-265.7 10.3h0m-7.2-3.6h0m-8.9 4.8h0m8.2 4.2h0m243.5-.5h0m38.2 .5h0m30.4 4.5h0m-22.6 2.4h0m-13.8-1.4h0m-1.9 1.2h0m-1.7-2.2h0m-261.8-.3h0m-16.1 .1h0m-1.1 0h0m4.4 6.4h0m4.1 2.8h0m.9-.4h0m1.4-2.8h0m5.4-1h0m226.4 3.7h0m.1-2.2h0m18.6-1.2h0m28.2-.5h0m1.8 2.6h0m-21.3 6.9h0m-7.4-1h0m-1.9-1.6h0m-.1 1.4h0m-18.5-3.1h0m-232 4.3h0m-10.4 6.9h0m9-1.1h0m.1-.8h0m237.3-1.6h0m4.2 3.1h0m3.4 .9h0m24.1-2.3h0m39.4 .2h0m.3 2.7h0m-19.2 4h0m-8.9-4.5h0m-30.2 3.1h0m-250.3 1.7h0m-10.5-4.2h0m-7 .6h0m-.9 .3h0m5.7 5.6h0m0 2.7h0m10.8-.7h0m13.4 2.3h0m1.2-3.7h0m229.3-1.4h0m37.9 2.8h0m1.1 2.6h0m2.4-3.9h0m7.1 3.9h0m2.6-.8h0m-9.8 6.1h0m-.7-2.8h0m0 .8h0m-2.4 1.9h0m-42.8-3.1h0m-221.4-.1h0m-18.6 .2h0m-6 6.3h0m24.7 7.1h0m-35.5-2.4h0m300.4 8.6h0m7.5 5.6h0m-2.3 1.2h0m-20.9-.8h0m-24.1 7.5h0m4.4 1.6h0m-5.9 2.2h0m61.2 25.5h0m7.5 11.8h0m-191.2 1.2h0m-5 129.1h0m-3.2 8.7h0m66.7 4h0m-65.1 .6h0m-.2-.1h0m-1.3 1.4h0m-1.6-1.3h0m-10.5-2.5h0m9.4 5.5h0m59.6 10h0m-67-.7h0m-2.1-.9h0m-.2-2.1h0m-2.8-.6h0m59.2 10.8h0m13.8 4.2h0m-1.6-2.5h0m-10.5-.1h0m-2.8 4.6h0m-.2-3.4h0m-12.4 2.2h0m9.6 6.2h0m12.5-2h0m1 0h0m-7.1 8.1h0m-6-2.5h0m-.1-1.7h0" stroke="#fff" stroke-width="1.2" stroke-linecap="round" fill="none"/>
<path d="M227.8 80.9h0m16.4 12.5h0m-27.3 8h0m11.8-5.2h0m19.1 7h0m-1.1 .3h0m-18.7 9.9h0m1.7 2.6h0m-14.6 3.7h0m-12 .6h0m-.5 9.5h0m-1.2-.5h0m-6.7-.1h0m-2.4 .5h0m24.5 12.1h0m-7.1-.1h0m-20.9 1h0m-4.5-.6h0m-.7-.4h0m20.4 4.3h0m16.6-.7h0m1.6-1.3h0m-6.1 9.9h0m-.1 0h0m-1.2-.3h0m-7.3-3h0m-9 10.8h0m189.6-2.7h0m6 5.9h0m-3-1.2h0m-.8 0h0m-1.8 2.3h0m-182.3-3.1h0m1.9 11.2h0m195 1.4h0m-203.1 3.5h0m-2.2-4.1h0m2.9 10.3h0m.9-.5h0m9.7 .6h0m1.9-2.5h0m59.1 3.1h0m98.2 6.5h0m2.6 5.5h0m21.8 6.1h0m-5.5-4.6h0m-.8 1.5h0m-18.7 5.6h0m13.6 .8h0m10.3 .8h0m10.5-2.3h0m-14.7 5.3h0m-6 8.9h0m2.2 1.9h0m2.2-.4h0m1.2-1.8h0m2.1 1.4h0m11.8 1.4h0m-15.1 5.7h0m-2.5-2.5h0m-13.9 3.1h0m.6 .6h0m4.2 1.9h0m18.8 1.1h0m4.5 1.5h0m15.2 6h0m-23.6 6h0m21.5 6.3h0m-39.2 4.3h0m.6 1.4h0m30.8-2.1h0m2.3-2.2h0m-7.7 6.5h0m-2.1-1.3h0m6.3 9.3h0m.8-.8h0m-11.8 13.5h0m.2-1.8h0m-.1 7.7h0m-1.4-2.3h0m-8.8 3.7h0m-1-.8h0m45.7 1.3h0m14.2 6.4h0m-17.4 0h0m-21.3 1.6h0m44.6 7.4h0m45.2 8.2h0m-31.3-3.3h0m-38.4-2.6h0m-40.8 1.5h0m-232.2 4.1h0m9.4 3.3h0m250.1 .8h0m82.8-2.3h0m.2 1.9h0m13.3 2.6h0m-35.6 1.3h0m-26.1 0h0m-30-.2h0m-26.1 2.2h0m-140-.2h0m-8.7 2.9h0m-96.1 5.7h0m2-.8h0m14.8-.1h0m.3-.4h0m224.2-3.8h0m3.3 1.2h0m3.2 2.3h0m.4 1.7h0m1.2 .1h0m5.8-5.3h0m97.6 8.7h0m-12.6 .6h0m-7.4 1.9h0m-64-4.1h0m-.5 .8h0m-1.3-1.2h0m-16.5-1.1h0m-7.9 4h0m-2-.2h0m-220.1-2.1h0m-2.4 .3h0m-6.7-.3h0m-15.1 7.7h0m1 .6h0m15.9-3.3h0m240 1.1h0m10.5 7.1h0m-266.9 8.1h0m7-2.5h0m1.2-.9h0m16.3 2.2h0m244.9 .5h0m24.8-2.1h0m1.9 1.3h0m2.8-2.4h0m.2 1.6h0m7.1 .8h0m.2 1.8h0m46.9-3.5h0m-51.5 5.4h0m-48.7 4.6h0m-.7-5.3h0m-241.8 .3h0m-4.8 8.6h0m17 .9h0m218.2-2.9h0m.4 .2h0m3.5 .7h0m30.8-.5h0m30.1 .1h0m12.4-.5h0m.8 3h0m-46.7 2.3h0m-263.5 1.6h0m241.3 5.5h0m19 1.2h0m1.5 2.5h0m34.1 3.3h0m-12.7 .8h0m-.9 1h0m-.3-.7h0m-.7 .1h0m-25.9 1.1h0m-246.7-3.5h0m-11.2 2.8h0m2.9 5.4h0m266.8-.3h0m18.9 4h0m-30.1-.4h0m-17.4-.8h0m-236.4 5.4h0m-4.2-2.7h0m-12.9 1.1h0m18.8 2.1h0m6.1 2.1h0m253.9-2h0m30.4 5.2h0m-293.9 5.3h0m-5.3-1.4h0m-5.9 1.9h0m.4 2.8h0m8.2 1.9h0m21.5 1.4h0m263.1-3.9h0m11.8 5.4h0m-1.9 .8h0m-8.4-.9h0m-7.5 4.3h0m-35.4-2.8h0m-1.1 1.1h0m38 2.8h0m7.5 1.6h0m7.7 4.2h0m-4.6 .9h0m-6.5 4.9h0m-36.3-2.3h0m-1.8 .6h0m-.6 .8h0m-221.7 .4h0m259.1 4h0m.5 .5h0m-15.3 6.3h0m-21.7 6.7h0m30 19.2h0m28.4 9.9h0m-7.6 .8h0m-12.1-3.1h0m28.2 14.8h0m-18.8-1.4h0m-1.2-2.1h0m35.9 32.1h0m1-1.7h0m-221.6 101.1h0m-1.1 2.9h0m73.6 12.5h0m-80.3-1.2h0m-2.5 7.6h0m6.3 1.1h0m4.7-3.4h0m.2-1.5h0m3.3 11h0m-8.5-5.4h0m69.1 11.8h0m-4.2 1h0m-1 0h0m-5.6 8.3h0m3.5 2.6h0m1.1-3.9h0m-6 9.5h0" stroke="#fff" stroke-width="1.7" stroke-linecap="round" fill="none"/>
<line x1="88.4" y1="38.6" x2="88.4" y2="753.2" stroke="#000" stroke-width="1.07" stroke-linecap="butt"/>
<line x1="87.9" y1="752.7" x2="530.8" y2="752.7" stroke="#000" stroke-width="1.07" stroke-linecap="butt"/>
<line x1="81.2" y1="102.6" x2="88.4" y2="102.6" stroke="#000" stroke-width="1.07" stroke-linecap="butt"/>
<text transform="translate(74.8,111.1) scale(1,1.05)" font-size="23.7" text-anchor="end" fill="#000">10</text>
<line x1="81.2" y1="226.9" x2="88.4" y2="226.9" stroke="#000" stroke-width="1.07" stroke-linecap="butt"/>
<text transform="translate(74.8,235.4) scale(1,1.05)" font-size="23.7" text-anchor="end" fill="#000">5</text>
<line x1="81.2" y1="351.2" x2="88.4" y2="351.2" stroke="#000" stroke-width="1.07" stroke-linecap="butt"/>
<text transform="translate(74.8,359.7) scale(1,1.05)" font-size="23.7" text-anchor="end" fill="#000">0</text>
<line x1="81.2" y1="475.5" x2="88.4" y2="475.5" stroke="#000" stroke-width="1.07" stroke-linecap="butt"/>
<text transform="translate(74.8,484) scale(1,1.05)" font-size="23.7" text-anchor="end" fill="#000">−5</text>
<line x1="81.2" y1="599.8" x2="88.4" y2="599.8" stroke="#000" stroke-width="1.07" stroke-linecap="butt"/>
<text transform="translate(74.8,608.3) scale(1,1.05)" font-size="23.7" text-anchor="end" fill="#000">−10</text>
<line x1="81.2" y1="724.2" x2="88.4" y2="724.2" stroke="#000" stroke-width="1.07" stroke-linecap="butt"/>
<text transform="translate(74.8,732.7) scale(1,1.05)" font-size="23.7" text-anchor="end" fill="#000">−15</text>
<line x1="162.7" y1="752.7" x2="162.7" y2="760" stroke="#000" stroke-width="1.07" stroke-linecap="butt"/>
<text transform="translate(162.7,784.2) scale(1,1.05)" font-size="23.7" text-anchor="middle" fill="#000">−10</text>
<line x1="252.5" y1="752.7" x2="252.5" y2="760" stroke="#000" stroke-width="1.07" stroke-linecap="butt"/>
<text transform="translate(252.5,784.2) scale(1,1.05)" font-size="23.7" text-anchor="middle" fill="#000">−5</text>
<line x1="342.3" y1="752.7" x2="342.3" y2="760" stroke="#000" stroke-width="1.07" stroke-linecap="butt"/>
<text transform="translate(342.3,784.2) scale(1,1.05)" font-size="23.7" text-anchor="middle" fill="#000">0</text>
<line x1="432.1" y1="752.7" x2="432.1" y2="760" stroke="#000" stroke-width="1.07" stroke-linecap="butt"/>
<text transform="translate(432.1,784.2) scale(1,1.05)" font-size="23.7" text-anchor="middle" fill="#000">5</text>
<line x1="521.9" y1="752.7" x2="521.9" y2="760" stroke="#000" stroke-width="1.07" stroke-linecap="butt"/>
<text transform="translate(521.9,784.2) scale(1,1.05)" font-size="23.7" text-anchor="middle" fill="#000">10</text>
<text transform="translate(309.1,816.8) scale(1,1.05)" font-size="27.7" text-anchor="middle" fill="#000">UMAP_1</text>
<text transform="translate(20.9,395.7) rotate(-90) scale(1,1.05)" font-size="27.7" text-anchor="middle">UMAP_2</text>
<circle cx="534" cy="355.1" r="7.8" fill="#F8766D"/>
<text transform="translate(564.6,363.7) scale(1,1.05)" font-size="23.7" text-anchor="start" fill="#000">patient1</text>
<text transform="translate(677.6,363.7) scale(1,1.05)" font-size="23.7" text-anchor="start" fill="#000">-</text>
<circle cx="534" cy="386.3" r="7.8" fill="#7CAE00"/>
<text transform="translate(564.6,394.9) scale(1,1.05)" font-size="23.7" text-anchor="start" fill="#000">patient2</text>
<text transform="translate(677.6,394.9) scale(1,1.05)" font-size="23.7" text-anchor="start" fill="#000">+</text>
<circle cx="534" cy="417.4" r="7.8" fill="#00BFC4"/>
<text transform="translate(564.6,426) scale(1,1.05)" font-size="23.7" text-anchor="start" fill="#000">patient3</text>
<text transform="translate(677.6,426) scale(1,1.05)" font-size="23.7" text-anchor="start" fill="#000">+</text>
<circle cx="534" cy="448.6" r="7.8" fill="#C77CFF"/>
<text transform="translate(564.6,457.2) scale(1,1.05)" font-size="23.7" text-anchor="start" fill="#000">patient4</text>
<text transform="translate(677.6,457.2) scale(1,1.05)" font-size="23.7" text-anchor="start" fill="#000">-</text>
<text transform="translate(659.2,335.5) scale(1,1.05)" font-size="23.7" text-anchor="start" fill="#000">ADT</text>
<text x="-0.6" y="24.4" font-size="30" text-anchor="start" fill="#000" font-weight="bold">A</text>
</g>
<g id="panelB">
<path d="M948.2 71.6L946.5 72L944.8 73.2L942.9 75.3L942.9 75.4L940 78L940 78L936.4 80.9L934.4 83.8L933.7 87L933.7 87.1L933.6 87.2L933.6 87.3L931.5 90.8L931.4 90.9L931.3 91L927.9 94.4L924.7 97.9L921.7 101.3L918.8 105L915.8 108.9L915.8 108.9L913.1 112.4L913.1 112.4L910.6 115.3L908.2 118.5L905.8 121.9L903.4 125.8L901.3 130.1L899.7 135.6L898.8 142.4L898.5 148.2L899 153L899.9 156.7L901.4 159.6L901.4 159.7L902.5 162.9L902.6 163.1L903.3 166.4L904.8 169.9L907.2 173.8L907.3 173.9L907.3 174L907.4 174.1L908.5 177.5L908.5 177.6L908.5 177.7L908.5 177.8L908.5 177.9L908.3 180.6L909.5 182.8L912.5 185.1L912.6 185.2L915.9 188.2L916 188.2L919.4 191.6L922.7 194.4L925.7 196.5L928.5 197.4L931.3 197.2L933.2 196.1L934.5 193.9L936 191L937.4 187.6L938.9 183.7L940.3 179.3L940.8 175.9L940.3 173.1L940.3 173L940.2 169.8L940.2 169.6L940.4 166.2L940.4 166.1L940.5 165.9L941.6 162.2L941.6 162.2L941.7 162.1L942.6 160.2L941.8 161.1L940.9 161.3L940.2 160.8L939.5 159.6L939 157.6L938.7 155.7L938.5 153.9L938.6 152.1L938.8 150.3L938.8 148.8L938.5 147.3L937.9 146.1L937 145L936.4 143.9L936.1 142.8L936.1 141.8L936.3 140.8L936.9 139.8L937.8 138.8L939.1 137.7L940.7 136.6L942.3 135.9L943.8 135.6L945.3 135.6L946.8 136.1L948 137L948.8 138.2L949.2 139.8L949.4 141.8L949.3 143.5L949.6 142.8L950.7 138.8L951.2 134.2L951.2 134.1L951.2 133.9L951.3 133.8L952.9 130.4L952.9 130.3L953 130.2L953 130.1L953.1 130.1L953.2 130L955.8 127.9L957.7 125.3L959.2 122.2L959.2 122.2L960.9 118.9L960.9 118.8L962.9 115.4L964.6 112.2L966.1 109.2L967.6 106.3L969 103.4L970.1 100.1L970.8 96.3L971.1 92.7L970.8 89.4L970 86.1L968.6 82.8L966.7 79.9L964.4 77.3L961.6 75.2L958.3 73.6L954.7 72.4L950.9 71.7ZM940.6 92.8L941 92.1L941.6 91.8L942.4 91.7L943 91.9L943.4 92.5L943.6 93.5L943.6 94.9L943.4 95.8L943.1 96.5L942.5 96.7L941.8 96.6L941.2 96.2L940.8 95.6L940.5 94.7L940.5 93.6ZM948.4 111.5L948.7 110.2L949.4 109.2L950.7 108.5L952.4 108L953.9 107.9L955.3 108.1L956.5 108.7L957.4 109.7L958.1 110.9L958.5 112.3L958.6 113.8L958.3 115.5L957.8 116.9L957.1 117.9L956.1 118.5L954.9 118.7L953.7 118.7L952.6 118.3L951.5 117.6L950.5 116.6L949.7 115.5L949.1 114.3L948.7 112.9ZM919.8 111.1L919.9 109.9L920.4 108.8L921.3 107.8L922.5 106.8L923.9 106.3L925.3 106.3L926.9 106.8L928.7 107.8L930 109L931 110.5L931.6 112.2L931.9 114.2L931.9 116L931.6 117.6L931.1 119L930.4 120.2L929.5 121L928.4 121.2L927.1 121L925.6 120.2L924.3 119.4L923.2 118.4L922.3 117.3L921.5 116L920.9 114.8L920.4 113.6L920 112.3ZM913.5 137.4L913.8 136.6L914.4 136L915.3 135.5L916.6 135.3L917.4 135.5L917.9 136.1L918.1 137.1L917.8 138.6L917.4 139.7L916.8 140.3L916 140.5L915 140.2L914.2 139.8L913.7 139.2L913.5 138.4ZM927.4 141.1L927.2 139.8L927.4 138.7L928.2 137.7L929.4 137L930.6 136.6L931.7 136.6L932.7 137L933.7 137.7L934.4 138.6L934.8 139.6L934.8 140.7L934.6 141.9L934.1 142.9L933.4 143.7L932.4 144.2L931.1 144.4L930 144.2L929 143.6L928.2 142.6ZM935.2 160.6L935.5 159.2L936 158.5L936.7 158.4L937.7 158.9L938.4 159.8L938.7 161.1L938.8 162.9L938.6 165.1L938.2 166.6L937.7 167.4L937.1 167.4L936.3 166.6L935.8 165.6L935.4 164.2L935.2 162.6Z" fill="#619CFF"/>
<path d="M962.2 172.8L961.9 173.6L963.1 175.6L966 180.5L967.5 182.7L968.9 184.5L970.4 185.8L972.3 186.8L972.3 186.8L972.4 186.9L972.5 186.9L972.6 187L973.9 188.5L974 188.6L974.1 188.6L974.1 188.7L974.1 188.8L974.8 190.5L975.5 191.1L976.8 191.1L978.8 190.9L981.2 190.4L981.3 190.4L981.4 190.3L981.5 190.4L981.6 190.4L981.7 190.4L983.8 191L983.9 191L984 191.1L984.1 191.1L984.2 191.2L984.3 191.3L985.8 192.8L986.3 192.9L987.2 192L987.2 192L988.9 190.6L988.9 190.6L990.9 189.1L991 189L993.2 187.8L993.3 187.7L995.6 186.8L996.5 185.8L996.7 184.3L996.3 182.7L995.2 181L993.7 179.1L991.7 177.1L991.7 177.1L989.7 174.7L989.7 174.7L987.8 172L985.6 170.1L983.1 168.8L980.9 168.3L978.7 168.8L976.2 169.5L973.5 170.5L973.4 170.5L970.5 171.1L970.4 171.2L967.5 171.4L964.6 172Z" fill="#619CFF"/>
<path d="M828.6 300.8L828 301.6L828 301.7L828.7 302.8L830.5 304.9L830.5 304.9L832.2 307L832.2 307L833.8 309.1L835.5 311.2L837.3 313.3L837.3 313.3L839 315.7L839.1 315.8L840.6 318.3L842.4 320.4L844.3 322.1L846.2 323L848.4 323.2L848.5 323.2L848.6 323.3L850.6 323.9L850.6 324L850.7 324L850.8 324.1L852.4 325.1L852.5 325.2L852.6 325.2L852.6 325.3L852.7 325.4L852.7 325.5L852.8 325.6L852.8 325.7L852.9 325.8L853.2 327.9L853.3 328L853.3 328.1L853.3 328.2L853.2 328.4L852.5 331.3L852.8 333.8L854.3 336.2L854.3 336.3L854.4 336.4L854.4 336.5L854.4 336.6L854.7 339L854.7 339.1L854.7 339.2L854.7 339.3L854.7 339.4L854.6 339.5L854.6 339.6L853.6 341.5L853.3 343.6L853.5 345.7L854.8 347.4L857.8 348.9L857.9 348.9L858 349L858 349L858.1 349.1L858.2 349.2L859.2 350.8L859.3 350.9L859.3 351L859.4 351.1L859.4 351.2L859.4 351.3L859.4 351.4L859.4 351.5L859.4 351.6L859.4 351.7L859.3 351.8L859.3 351.9L859.2 352L858.2 353.5L857.2 355.5L856.2 358L855.8 360.4L855.8 362.9L855.7 363L855.5 366.4L855.5 366.4L855 370.5L855.4 373.2L856.8 375.1L856.9 375.2L856.9 375.3L857 375.3L857 375.4L857 375.5L857.1 375.6L857.1 375.7L857.1 377.6L857.1 377.7L857 377.8L857 377.9L857 378L856.9 378.1L856.9 378.2L856.8 378.3L856.7 378.3L855.3 379.8L854.2 381.7L853.5 383.9L853.8 385.8L854.9 387.7L855 387.8L855 387.9L855.1 388L855.1 388.1L855.1 388.2L855.1 388.3L855.1 390.7L855.1 390.8L855.1 390.9L855.1 390.9L855 391L855 391.1L853.7 393.8L852.2 396.6L850.7 399.7L849.3 403.3L848 407.5L848 407.5L846.5 411.7L846.5 411.7L845 415.8L844.2 419.3L844.2 422.3L844.2 422.4L844.2 422.5L843.6 426.4L843.5 426.5L842.2 431.2L842.2 431.3L840.6 436.5L840.6 436.5L838.9 442.1L838.6 447.3L839.8 452.3L841.7 455.3L844.3 456.7L844.3 456.7L847.6 458.5L847.6 458.5L851.1 460.5L855.7 461L861.8 460L867 459.1L871.2 458.3L874.7 457.2L877.7 455.6L877.9 455.6L881 454.4L881.1 454.4L884.1 453.6L886.2 452.2L887.9 449.7L889.7 446.7L891.5 443.1L892.9 439.4L893.9 435.7L893.9 431.7L892.9 427.4L892.9 427.3L892.2 423.3L892.2 423.2L892 419.7L891 416.8L889.3 414.3L889.2 414.2L889.2 414.1L889.1 414L887.9 410.6L887.9 410.5L887.9 410.4L887.4 406.3L886.6 401.9L885.6 397.2L884.1 393.2L882 389.6L882 389.5L881.9 389.4L881.9 389.3L881.9 389.2L881.5 385.8L881.5 385.7L881.5 385.6L881.5 385.5L881.5 385.4L881.6 385.3L882.8 382.3L883.2 379.4L882.7 376.4L882.6 376.3L882.5 372.6L882.5 372.5L882.8 368.3L882.8 368.2L882.8 368.2L883.7 364.2L883.7 364.1L883.8 364.1L885.3 360.5L885.8 357.4L885.3 354.5L885.3 354.4L885.3 354.3L885.3 354.2L885.5 351.3L885.5 351.2L885.6 351.1L885.6 351L886.6 348.4L887.5 345.6L888.3 342.5L889.2 338.8L890.3 334.7L890.9 330.6L891.2 326.5L891.2 323.7L891 322.2L889.9 318.7L887.8 313.2L885.3 309L882.4 306L878.7 304.6L874.1 304.6L870.1 305.4L866.8 307.1L864.1 308.9L862 311L862 311.1L861.9 311.1L858.6 313.1L858.5 313.2L854.1 315.1L854 315.1L853.9 315.1L850.7 315.8L850.6 315.8L850.5 315.8L850.4 315.8L850.3 315.8L850.2 315.8L848.1 315.3L848 315.2L845.6 314.3L845.5 314.3L842.9 313L842.8 312.9L842.8 312.9L840.3 311L840.2 311L840.2 310.9L837.8 308.6L837.7 308.5L835.7 306L835.7 305.9L834.1 303.3L832.5 301.2L831 299.7L830 299.6Z" fill="#619CFF"/>
<path d="M1096.2 329.2L1097 338.5L1097.9 349.6L1097.9 349.6L1098.6 359.3L1098.6 359.3L1098.9 367.6L1098.9 367.7L1098.6 375L1098.5 375.1L1097.6 381.4L1097.4 385.9L1098.1 389L1098.1 389L1098.7 393.8L1098.7 393.8L1099.3 400.2L1099.3 400.3L1099.5 406.6L1099.5 406.7L1099.2 413L1099.5 419.2L1100.4 425.5L1100.5 425.5L1101.2 431.9L1101.2 431.9L1101.9 438.2L1103 443.8L1104.5 448.8L1106.1 453.6L1107.7 458L1107.7 458.1L1109 462.2L1109 462.2L1109.9 465.9L1111.8 468.7L1114.7 471.1L1117.7 472.8L1120.8 473.7L1120.9 473.7L1124.1 475.2L1124.2 475.2L1127.4 477.1L1130.8 478.8L1134.6 480.4L1134.6 480.4L1138.4 482.1L1138.4 482.2L1142.3 484.1L1149.9 487.9L1149.9 487.9L1153.7 490.1L1153.8 490.2L1157.6 492.7L1157.7 492.8L1157.8 492.9L1160.2 495.4L1160.2 495.5L1160.3 495.6L1160.4 495.7L1160.4 495.8L1161.2 497.9L1162.1 498.5L1163.9 497.9L1163.9 497.9L1164 497.9L1167.4 497.6L1167.5 497.6L1171.9 497.6L1172 497.6L1172.1 497.6L1172.2 497.6L1172.3 497.7L1175.5 498.9L1175.6 499L1175.7 499L1175.8 499.1L1175.8 499.1L1175.9 499.2L1176 499.3L1177.9 501.8L1177.9 501.9L1178 502L1179.3 504.9L1179.3 505L1179.3 505.1L1180 508.3L1180 508.3L1180.6 511.8L1180.6 511.8L1181.2 515.5L1182.5 518.4L1184.7 520.8L1184.7 520.8L1186.6 523L1186.6 523L1188.2 525L1188.2 525L1190 527.6L1190 527.6L1191.9 530.8L1194 533.7L1196.4 536.4L1198.5 537.4L1200.1 537.2L1201.2 535.2L1201.5 530.3L1201.5 530.3L1202.1 525.2L1202.1 525.1L1203.1 520.1L1203.7 515.4L1204 511.1L1203.4 506.9L1201.9 502.6L1199.9 499L1197.5 495.9L1194.6 492.8L1191.5 489.6L1188.4 486.8L1185.2 484.3L1185.1 484.2L1185.1 484.1L1182.2 480.6L1182.1 480.6L1182.1 480.5L1179.6 476L1179.5 476L1179.5 475.9L1177.9 471.4L1177.9 471.3L1177.8 471.2L1177.2 467L1175.7 464.6L1172.8 463.5L1172.7 463.5L1172.6 463.4L1172.5 463.4L1172.5 463.3L1172.4 463.2L1170.2 460.7L1170.1 460.6L1170 460.5L1170 460.4L1169.9 460.3L1168.7 456.6L1166.9 453.6L1164.5 451.2L1164.4 451.1L1164.3 451L1164.3 450.9L1162.7 447.7L1162.7 447.7L1162.6 447.5L1162.6 447.4L1162 443.6L1162 443.5L1162 443.4L1162 443.4L1162 443.3L1162.6 439.8L1162.6 439.7L1162.7 439.6L1162.7 439.5L1162.7 439.4L1164.5 436.4L1164.8 433.8L1163.6 430.8L1163.6 430.7L1163.6 430.6L1163.5 430.5L1163.2 426.4L1163.2 426.3L1163.2 426.2L1163.9 421.1L1163.9 421L1163.9 420.9L1164 420.8L1165.9 416.9L1165.9 416.8L1166 416.8L1166.1 416.7L1166.2 416.6L1169.3 414.1L1172.1 411.6L1174.6 409.1L1177.1 406.3L1179.6 403.2L1181.4 400.1L1182.7 397L1182.7 397L1182.8 396.9L1182.8 396.8L1185.3 393.3L1185.4 393.2L1185.5 393.2L1189.2 389.4L1192.3 385.1L1194.8 380.1L1194.8 380L1194.9 379.9L1198.7 375.5L1198.8 375.4L1198.9 375.3L1203.9 371.5L1208.3 367.5L1212.1 363.1L1212.1 363.1L1215.9 358.9L1215.9 358.9L1219.7 355.1L1222.8 351.4L1225.3 347.7L1226.8 344.7L1227.4 342.3L1227.4 342.2L1227.5 342.1L1228.3 340.4L1228.3 340.3L1228.4 340.2L1228.4 340.1L1228.5 340L1229.2 339.4L1229.4 336.6L1229.1 331L1228 325.4L1226.2 319.8L1224 314.5L1221.5 309.5L1218.7 305.2L1215.6 301.5L1212.3 298.8L1199.1 292.2L1194.7 290.3L1191.2 289.2L1187.5 289.7L1183.3 292.2L1183.2 292.2L1183.1 292.2L1183 292.3L1182.8 292.3L1182.7 292.3L1182.6 292.3L1182.5 292.3L1182.4 292.3L1182.3 292.2L1182.2 292.2L1178.7 290.3L1178.6 290.2L1178.5 290.1L1178.5 290.1L1178.4 290L1178.3 289.9L1178.3 289.8L1178.2 289.7L1175.7 283.5L1173.3 279.6L1171 277.8L1170.9 277.7L1170.8 277.6L1170.7 277.5L1168.8 274.7L1168.8 274.6L1168.7 274.5L1168.7 274.4L1167.4 270.6L1167.4 270.5L1167.4 270.4L1167 266.9L1167 266.8L1167 266.7L1167.1 266.6L1167.6 263.6L1167.1 261.2L1165.4 258.9L1162.9 256.1L1159.7 252.9L1156.2 249.5L1152.4 245.6L1148.6 241.8L1144.8 238L1144.7 238L1144.7 237.9L1142 234.1L1141.9 234L1141.9 233.9L1140.3 230.1L1140.3 230L1138.7 225.6L1138.7 225.5L1137.1 220.5L1137.1 220.4L1135.6 215.3L1135.6 215.3L1134.4 210.3L1132.5 205.7L1130 201.3L1130 201.2L1127.9 196.8L1127.9 196.7L1126.3 192.2L1126.3 192.1L1125.2 187.7L1125.1 187.6L1124.5 183.2L1124.5 183.1L1123.9 178.1L1123.9 178L1123.2 172.4L1122.2 167.8L1120.6 164.1L1118.9 160.3L1117 156.5L1116.9 156.4L1115.4 152.6L1115.3 152.6L1114.1 148.8L1112.6 145.6L1110.8 143L1108.2 141.1L1104.7 140L1101.3 139.7L1098.3 140.2L1096.3 141.9L1095.2 145.1L1093.4 150L1091.2 156.4L1089.2 163.3L1087.3 170.8L1086 178.7L1085.4 186.9L1084.7 195.5L1084.1 204.3L1084.1 213.1L1084.7 221.9L1085.8 229.1L1087.4 234.8L1087.4 234.8L1089 240.8L1089 240.8L1090.6 247.2L1090.6 247.2L1092.2 255.1L1092.2 255.2L1093.8 264.7L1093.8 264.8L1094.1 272.8L1094.1 272.9L1094.1 273L1093.2 279.3L1092.7 288.1L1092.7 299.4L1093.3 308.2L1094.6 314.5L1094.6 314.6L1095.5 321.5L1095.5 321.6Z" fill="#00BA38"/>
<path d="M967.7 295L965.5 296L964.8 297.8L964.5 299.5L964.6 300.9L964.6 301L964.6 301.1L964.6 301.2L964.6 301.3L964.6 301.4L964.5 301.5L963.9 302.8L963.9 302.9L963.8 303L963.7 303.1L963.7 303.2L963.6 303.3L962.3 304.2L962 304.7L962.1 305.4L962.2 305.5L962.2 305.6L962.2 305.7L962.1 305.8L962.1 305.9L962.1 306L962 306.1L961.2 307.5L961.2 307.6L961.1 307.7L961 307.7L959.3 309.5L957.8 311.5L956.6 313.7L956.4 315.2L957.1 316.7L957.2 316.8L957.2 316.9L957.2 317L957.2 317.2L957.3 319.8L957.3 319.9L957.3 320.1L956.6 323.3L957.3 325.4L959.1 326.8L961.6 327.8L964.6 328.1L964.7 328.1L967.3 328.5L967.3 328.5L969.4 328.8L970.7 328.8L971.1 328.7L971.6 327.7L971.9 325L971.9 324.9L971.9 324.8L972 324.7L972 324.6L972.9 323L973 322.9L973 322.8L973.1 322.7L973.2 322.6L973.3 322.5L973.4 322.5L973.5 322.4L974.4 322.1L974.5 321.9L973.9 320.7L973.9 320.6L973.9 320.5L973.8 320.4L973.8 320.3L973.8 320.2L973.9 320.1L973.9 320L973.9 319.9L973.9 319.8L974.5 318.7L974.5 318.6L974.6 318.5L974.6 318.4L974.7 318.4L974.8 318.3L974.9 318.2L975 318.2L975 318.1L976.8 317.4L976.9 317.4L977 317.4L977.1 317.4L977.2 317.3L978.7 317.3L978.8 317.4L978.9 317.4L979 317.4L979.2 317.4L979.3 317.5L980.1 318L981.1 317.8L982.8 316.5L982.9 316.4L983 316.4L983.1 316.3L983.2 316.3L983.3 316.3L985.4 316L985.5 316L985.6 316L985.7 316L985.8 316.1L985.9 316.1L987.9 316.9L990.4 317.1L993.8 316.6L993.8 316.6L997.1 316.1L997.1 316.1L999.9 315.8L1001 315.2L1001.1 314.6L1000.7 313.5L999.3 311.9L999.2 311.9L997.6 310L997.6 310L995.9 308L993.8 306.5L991.3 305.6L989.5 305.6L988.4 306.3L988.3 306.6L989 307.6L989.1 307.6L989.1 307.7L989.2 307.8L989.2 307.9L989.2 308L989.2 308.2L989.2 308.3L989.2 308.4L989.2 308.5L988.9 309.9L988.8 310L988.8 310.1L988.7 310.2L988.7 310.2L988.6 310.3L988.6 310.4L988.5 310.5L986.7 311.9L986.6 311.9L986.5 312L986.4 312L986.3 312.1L986.2 312.1L986.1 312.1L986 312.1L985.9 312.1L985.8 312.1L984.4 311.8L984.3 311.8L984.2 311.8L984.1 311.7L984 311.7L983.9 311.6L983.9 311.5L983.8 311.5L983.7 311.4L983.7 311.3L982.7 309.5L981.5 308.2L979.8 307.2L979.7 307.1L979.7 307.1L979.6 307L979.5 306.9L979.5 306.8L979.4 306.7L978.8 305.4L978.8 305.3L978.7 305.2L978.7 305.1L978.7 305L978.7 304.9L978.7 304.8L978.7 304.7L978.7 304.6L979.1 303.5L978.9 303.1L977.3 302.5L977.2 302.5L977.1 302.4L977 302.4L976.9 302.3L976.9 302.2L975.7 301L975.7 300.9L975.6 300.9L975.5 300.8L975.5 300.7L975.5 300.6L975.4 300.5L975.1 298.8L974.6 296.9L974.1 295.3L972.1 294.7Z" fill="#00BA38"/>
<path d="M995.1 416.3L993.5 416L992.1 416.6L990.4 417.5L988.7 418.5L987.6 420.7L986.9 424.4L986.7 427.9L986.9 431.4L986.9 431.5L986.8 431.6L986.8 431.7L986.8 431.8L986.2 433.7L986.1 433.8L986.1 433.9L986 434L986 434.1L985.9 434.2L985.8 434.2L985.7 434.3L985.6 434.4L985.5 434.4L985.4 434.4L984 434.8L982.5 435.3L981.3 435.8L981.2 436.1L981.8 437L982.2 437L983.6 435.9L983.7 435.8L983.8 435.8L983.9 435.7L984 435.7L984.1 435.7L984.2 435.7L985.7 435.5L985.8 435.5L985.9 435.5L986 435.5L986.1 435.5L986.2 435.5L986.3 435.6L986.4 435.6L986.5 435.7L987.9 436.7L988 436.8L988.1 436.9L988.1 437L988.2 437.1L988.2 437.1L988.3 437.2L988.3 437.3L988.3 437.4L988.4 437.5L988.4 437.6L988.3 437.8L988.2 439.2L988.2 439.3L988.1 439.4L988.1 439.5L988 439.5L988 439.6L987.9 439.7L987.9 439.8L986.3 441.4L986 442.3L986.5 443.3L986.5 443.4L986.6 443.5L986.6 443.6L986.6 443.7L986.6 443.8L986.6 443.9L986.6 444L986.2 445.9L986.2 446L986.2 446.2L986.1 446.3L984.7 448.7L983.3 451.3L981.9 454.1L981.8 454.3L980.1 456.9L980 457L977.9 459.5L976.1 461.6L974.7 463.3L973 465.7L970.9 468.9L970.9 468.9L968.9 471.7L968.9 471.7L967.2 474.2L965.5 477L963.8 480L963.1 483L963.5 486.3L963.8 489.7L964.2 492.7L964.9 494.7L966 495.8L967.8 496.5L970.5 496.8L970.6 496.9L973.3 497.6L973.4 497.6L975.6 498.5L976.8 498.3L978 496.9L978 496.8L978.1 496.7L978.2 496.7L978.3 496.6L978.4 496.6L978.5 496.5L978.6 496.5L980.2 496.1L980.3 496.1L980.4 496.1L980.5 496.1L980.6 496.1L980.7 496.2L980.8 496.2L980.9 496.2L980.9 496.3L982.5 497.2L984.4 497.3L987 496.7L987.1 496.7L989.9 496.1L990 496.1L992.8 495.8L992.9 495.8L993 495.8L993.1 495.8L995.8 496.3L995.9 496.3L996 496.4L996.1 496.4L998.6 497.9L998.7 497.9L998.7 498L998.8 498L1000.4 499.6L1000.5 499.7L1000.5 499.8L1000.6 499.9L1000.6 500L1001.3 501.5L1002.4 502.7L1004.3 503.6L1004.4 503.7L1004.5 503.8L1006.5 505.4L1006.6 505.4L1006.6 505.5L1008.4 507.6L1008.4 507.7L1010.2 510.2L1010.2 510.2L1012 513L1013.6 515.5L1015 517.6L1015 517.7L1015.1 517.8L1016 519.9L1016 520L1016 520.1L1016.3 521.7L1017.5 522.4L1020.4 522.4L1021.7 521.5L1022 519.1L1022 519.1L1022.4 516.5L1022.4 516.4L1022.7 514.3L1022.3 513.4L1020.9 512.8L1020.8 512.8L1020.8 512.8L1019 511.7L1018.9 511.6L1017.1 510.2L1017 510.1L1015.1 508.2L1015 508.1L1012.9 505.7L1010.7 503.5L1008.3 501.4L1008.2 501.3L1008.1 501.2L1006.3 498.9L1006.3 498.9L1006.2 498.8L1006.2 498.7L1005.2 496.4L1003.9 494.9L1002 493.9L1001.9 493.9L1001.8 493.8L1001.7 493.8L1000 492.2L999.9 492.1L999.8 492.1L999.8 492L998.5 490L996.6 488.6L993.9 487.6L993.8 487.6L991 486.2L990.9 486.1L988.1 484.4L988 484.3L987.9 484.3L985.5 482L985.4 481.9L985.3 481.8L983.2 479L981.5 476.7L980.3 475.2L979.2 474.9L977.4 475.5L977.3 475.5L975.2 476L975.1 476.1L973 476.4L972.9 476.4L972.8 476.4L972.7 476.4L972.6 476.4L972.4 476.4L972.3 476.3L972.2 476.3L971.4 475.7L971.3 475.7L971.2 475.6L971.1 475.5L971.1 475.5L971 475.4L970.9 475.3L970.9 475.2L970.9 475.1L970.9 475L970.8 474.9L970.8 474.8L970.9 474.7L970.9 474.6L971.2 473.1L971.3 473L971.3 472.9L971.3 472.8L971.4 472.8L972.5 471.3L972.5 471.3L972.6 471.2L972.7 471.1L974.4 469.7L974.5 469.7L974.6 469.6L976.5 468.6L976.6 468.5L976.7 468.5L978.6 467.9L979.9 466.7L980.7 465L980.9 463.7L980.3 462.6L980.3 462.5L980.2 462.4L980.2 462.3L980.2 462.2L980.2 462.1L980.2 462L980.4 460.3L980.4 460.2L980.4 460.1L980.4 460L980.5 459.9L981.5 457.8L981.6 457.6L983 455.5L983.1 455.4L984.8 453.4L986.1 451.2L987.2 448.8L987.2 448.8L988.4 446.3L988.4 446.2L989.9 443.8L992.7 438.8L992.7 438.8L994.3 436.5L994.4 436.4L996.1 434.3L997.6 432.1L998.9 429.8L999.3 427.6L998.8 424.9L998.8 424.9L998.5 422.1L998.4 422L998.3 419.4L997.2 417.7Z" fill="#F8766D"/>
<path d="M995 586.6L992.6 587L988.9 589.2L986.7 591.7L985.7 594.8L985.7 594.9L985.6 595L983.8 598.4L983.7 598.5L983.7 598.5L981 601.9L978.7 604.9L976.7 607.5L975.1 610.1L973.7 612.7L973.7 612.9L971.7 615.9L971.6 615.9L969 619.3L966.3 623.2L963.7 627.8L961.4 632.8L959.4 638.1L959.4 638.2L957.3 642.5L957.3 642.6L955.3 645.9L954.2 649L953.9 652.1L954.2 654.3L954.9 655.3L957 655.7L961.5 655.1L966.1 653.9L970.5 652.3L973.9 649.4L976.5 644.9L978.5 640.7L979.8 636.7L979.8 636.6L981.8 632.2L981.9 632.2L984.6 627.5L987.3 622.8L989.9 618.1L992.3 613.8L994.2 609.8L995.5 605.7L996.2 601.1L996.7 595.9L997 590.4L996.3 587.5Z" fill="#00BA38"/>
<path d="M976.7 643.4L974.5 645.8L974.5 649.8L975.7 651.6L978.5 651.9L982.8 651.9L988.1 651.5L988.2 651.5L988.3 651.5L993 652L993.1 652.1L993.2 652.1L997.2 653.4L1000.8 654.4L1004.2 655.1L1004.3 655.1L1007.6 656.1L1007.7 656.1L1011 657.5L1014.7 658.8L1018.5 660.1L1021.5 660.1L1023.5 659.1L1023.9 657.5L1022.8 654.7L1020.3 651.9L1016.4 649.4L1012.5 647L1008.6 645.1L1004.1 643.8L998.8 643.1L993.1 642.5L987.2 641.8L981.7 642.1Z" fill="#00BA38"/>
<path d="M1041.5 632.2L1038.1 634.1L1034.9 636.9L1034.2 637.9L1034.2 638L1034.3 638L1034.3 638.1L1034.4 638.2L1034.4 638.3L1034.5 638.4L1034.5 638.5L1034.5 638.6L1034.5 638.7L1034.5 640.7L1034.5 640.8L1034.5 640.9L1033.8 644.3L1033.8 644.4L1033.8 644.5L1032.5 648.1L1032.4 648.2L1030.4 652.3L1030.3 652.4L1030.3 652.4L1030.2 652.5L1030.1 652.6L1030.1 652.7L1027.7 654.3L1027.6 654.4L1027.5 654.4L1027.4 654.5L1027.3 654.5L1027.2 654.5L1027.1 654.5L1027 654.5L1026.9 654.5L1026.8 654.5L1024.1 653.8L1024 653.8L1023.9 653.8L1023.8 653.7L1021.1 652L1021 652L1020.9 651.9L1018.6 649.6L1016.9 649.8L1014.5 652.8L1014.5 652.9L1014.4 652.9L1011.7 655.3L1011.6 655.3L1011.6 655.4L1011.5 655.4L1009.2 656.6L1008.8 657.7L1009.9 659.9L1011.7 662L1014.3 664L1014.4 664.1L1016.8 666.4L1016.9 666.5L1018.9 669.2L1018.9 669.3L1019 669.4L1019 669.5L1020.4 672.8L1020.4 672.9L1020.4 673L1021.1 676.9L1022.6 679.9L1025 682.3L1027.1 683.1L1029.2 682.6L1030.8 681L1032.1 677.8L1032.1 677.7L1032.2 677.6L1034.2 674.6L1034.3 674.5L1034.4 674.5L1037 671.8L1039.3 669.2L1041.2 666.6L1043.2 663L1045.2 658.4L1045.2 658.3L1047.2 654.3L1047.3 654.2L1049.3 650.9L1051.3 647.5L1053.3 644.2L1053.3 644.2L1055.3 641L1055.3 641L1057.1 638.3L1056.6 635.9L1053.5 632.9L1050.8 631.2L1048.5 630.9L1045.4 631.2Z" fill="#00BA38"/>
<path d="M1015.9 717.5L1017.3 715.9L1018.5 713.1L1019.5 709.2L1020.3 705.2L1021 701.2L1021.1 698.1L1020.8 695.5L1020.8 695.3L1020.8 695.2L1021.1 691.5L1021.2 691.4L1022.1 687L1021.3 684.3L1019.2 682.9L1019 683.1L1019.3 686.5L1019.3 686.6L1019.4 690.9L1019.4 691L1019.4 695.7L1019.4 695.8L1018.9 700.5L1018.9 700.6L1017.9 705.3L1016.9 710L1015.9 714.6L1015.8 717.2Z" fill="#00BA38"/>
<path d="M1098.8 707.4L1097.9 708.5L1098.7 710.9L1098.7 711L1098.7 711.1L1099 714.3L1099 714.4L1099 714.5L1098.7 717.6L1099.4 719.1L1101.2 719.9L1102.8 720L1104 719.5L1105.5 718L1107.1 715.1L1107.1 715L1109.1 711.8L1109.1 711.8L1111.4 708.5L1112.3 706.4L1112.1 705.8L1110.8 705.5L1107 706.1L1107 706.1L1102.8 706.8L1102.8 706.8Z" fill="#00BA38"/>
<path d="M952.3 71.6h0m-2.5-.3h0m0-.4h0m-7.8 5.6h0m1.6-1.2h0m.4 1.7h0m.1-1.5h0m.7-2.7h0m.3 1.1h0m1.1-1.6h0m.6 1.1h0m2.4-1.3h0m3.6-.1h0m1.6 2.2h0m1.1-1.2h0m.3-.1h0m1 .4h0m1.9 .8h0m.7 .5h0m1.9 1.2h0m1.6 .4h0m1.4 1.7h0m1.1-.4h0m3.2 4.9h0m-.8 1.1h0m-.2-2.6h0m-.7-.4h0m-.3-.8h0m-.7-.5h0m-5.9-.6h0m-17.8 1.2h0m-1.8-1.1h0m-.1 1.7h0m-1.8 .5h0m-.3-1.1h0m-1.8 1.6h0m-.7 1.8h0m-1.2-2.7h0m-2.1 8.6h0m.3 .2h0m.2-1h0m.5 .1h0m.6-1.2h0m1.1-2.9h0m.5 3h0m6.6 2.6h0m27.1-4.1h0m.5-1.7h0m.1 2.6h0m.1 .7h0m1 1.4h0m.7-3.5h0m-.5 9.2h0m-.5-1.2h0m-.1-3.1h0m-1.6 1.7h0m-24.3 2.7h0m-.3 1.2h0m-2.7-.3h0m-.3-1.6h0m-11.4-1.9h0m0 .5h0m-1.6 2h0m-.3-.4h0m0-3.7h0m-3.9 2.6h0m-3 8.8h0m.7-1h0m1-.2h0m.5-1.5h0m1.1-2.7h0m1.8-.3h0m.4 1.2h0m.6-.8h0m40.5 .4h0m.6 4h0m.4-3.3h0m.7 1.3h0m.1 3h0m.8-4.5h0m.1 3.4h0m.2-4.2h0m.8 7.1h0m-1.6-1.3h0m-.6 1.9h0m-2.4 2.7h0m-.2-.8h0m-14.6 1.7h0m-4.9-.2h0m-17.1-1.7h0m-5-1.8h0m-.1 2.2h0m-.1-.1h0m-3-3.3h0m-.3 4.2h0m-.6-4.2h0m-2 3h0m-.8 .3h0m-5.5 6.5h0m1.8-1.7h0m.2-.4h0m.2-1.3h0m1.5 0h0m.1-.9h0m2.8-.3h0m.6 1h0m.7 4.5h0m.4-2.8h0m.8 2.2h0m3.1-2.8h0m.6 .3h0m2.3-2.5h0m2.1 1.2h0m1.8 1.2h0m18.8 3.4h0m2.2-.5h0m3-4.6h0m.1 .5h0m2.6-.4h0m5.8 1.2h0m.1 2.8h0m.8-.6h0m.3-.9h0m1.2-3.4h0m.1 .7h0m-2.5 7.7h0m-.4-2h0m-1.1 2.6h0m-.9 1.6h0m-1.3 .5h0m-1-1.9h0m-.3 2.2h0m-.9-5.4h0m-.4 1.9h0m-.9 3.5h0m-1.1-1h0m-2.6-2.9h0m-3 1.9h0m-.1-.6h0m-18.4 2.8h0m-.1-4.1h0m-.2 3.7h0m-2.6 .4h0m-4-2.4h0m-2.1-1.8h0m-10.2-.5h0m0-.4h0m-.4 4.4h0m-.5-3.9h0m-1.2 .3h0m-1 1.8h0m-.5 1h0m0 .8h0m-6.4 6.8h0m2.2-.7h0m.7-2h0m1-2.8h0m.2 .7h0m1 2.5h0m18.7-2.4h0m.3-1h0m31.8 4.4h0m.4-2.9h0m.1-1.3h0m.5 4.1h0m2.2-3.9h0m.8 .2h0m-5.7 5.7h0m-.6 .6h0m-.5 .3h0m-1.8 2.4h0m-1.9-.7h0m-.6 2.1h0m-.9-1.6h0m-46.4-.4h0m-.5-2.9h0m-.5-.1h0m-1.9 4.9h0m-.1 .2h0m-.7-2.7h0m-.9 4.9h0m.2 3.5h0m.3-2.4h0m.6-1h0m.5-1h0m4.2 2.2h0m8.7 3.1h0m.1-.2h0m5.1 .1h0m10.2-2.1h0m4.1 2.2h0m1.1-2.5h0m6.6 1.7h0m2.9-1.1h0m2.3 1.2h0m3.8 .4h0m.2-.5h0m.4-4.1h0m.1 2.2h0m.5 .2h0m1.8-3.2h0m-.4 7.7h0m-1.1 1.1h0m-.9 1.9h0m-.8-2.3h0m-.4 1.4h0m-.6 1.8h0m-.8-1.2h0m0-3.1h0m-.4 .6h0m-.1 1.1h0m-7.8-2.6h0m-1.1-.4h0m-.4 1.1h0m-1.9 4.2h0m-.3-2.3h0m-2 .9h0m-1.2-2.6h0m-.6 3.5h0m-.2-1.7h0m-2.7-.2h0m-.9-.6h0m-.9 3.1h0m-10.3-4.1h0m-.5-.5h0m-16.5 1.6h0m-.4-.4h0m-.9-1.7h0m-.9 2.8h0m0 .9h0m-1.1 1.2h0m-3.5 3.2h0m4.6 2.8h0m.5-2.2h0m.3-1.5h0m.7 2.5h0m.1-.7h0m30-2.5h0m9.3 3h0m.5 .5h0m6.1 1h0m0-4.1h0m.4 .1h0m.6 2.9h0m.9-1h0m.5 2.4h0m.4-5h0m1 1.5h0m-.3 6.3h0m-3.4-.9h0m-.3 .7h0m-.2 3.3h0m-.1-.3h0m-.1 .7h0m-.4-3.3h0m-.3 2.7h0m-.1-3h0m-.4-.2h0m-.4 .5h0m-.9 .7h0m-.6-3h0m-.3 5.5h0m-1.8 0h0m-.2-5.8h0m-1.9 4.8h0m-.1-2.8h0m-37.8 .7h0m0 2.9h0m-.1-.2h0m-.4-3.1h0m-.6 .1h0m1.5 7.3h0m.4-.2h0m.1-1.6h0m1.3 1.7h0m1.6 1.4h0m33.1 .4h0m.2-3h0m3.2 .6h0m1.8 1.9h0m.3 .2h0m.7-1.3h0m.2-1.1h0m.2 .2h0m.1 2.6h0m0-3.7h0m.6 .7h0m1.1-2.5h0m39.6 11.4h0m-9.9-2.1h0m-33-2.4h0m-.5 .6h0m-.4 3.9h0m-1.3-4.6h0m-.1 .7h0m-.3 1.5h0m0-.5h0m-.9 3.1h0m0-5.6h0m-1.2 .3h0m-.2 3.2h0m0 2.4h0m-1-4h0m-2.7 1.8h0m-28.6 .2h0m-.1 0h0m-.8 1.4h0m-1-5.1h0m-.1 1.1h0m.2 5h0m1.5 0h0m.2 .4h0m1.2 1.1h0m.2 1.7h0m1.5 .5h0m31.7-.2h0m.8-.9h0m.3-2.7h0m14.9 .8h0m6.7 4.9h0m.2-5.4h0m.3 5.4h0m0-.7h0m.9-1h0m1.3-.3h0m.7-1.5h0m1.1 .4h0m2.3 .5h0m2.1 .3h0m1.2-1.2h0m.8-2.3h0m.5 2.7h0m.2 .6h0m2.5-2.6h0m0 1.3h0m3.1-.9h0m1.6-1.1h0m.9 0h0m1.3 1.2h0m.1 .2h0m2.7 .6h0m.1 .6h0m.3 .1h0m.7 .8h0m1.1 .2h0m.8 2.1h0m5.8 5.6h0m-2-1.4h0m-.7-.5h0m-.3-1.8h0m-1.1 .1h0m-.7-.9h0m-.4 .5h0m-23.5 4.3h0m-.8-2h0m-.9-.9h0m-.7-.8h0m-6.2 2h0m-3.7-3.5h0m-12.2 1h0m-.1 .8h0m-.1-2.1h0m-.1 1.9h0m-.6 2.5h0m-.3-3.5h0m-30.5-.3h0m-.7 3h0m-.2 1.2h0m-.6-3.8h0m-.3-.8h0m-.2-.4h0m-.1 7.1h0m.5 .8h0m1.1-.2h0m.6 .8h0m.9 1h0m.1-.1h0m2.8 1.5h0m1.3-1.9h0m20.9-.5h0m1 1.6h0m1.2-4h0m.5 4.1h0m.1-.6h0m1-3h0m.8 3.9h0m.2-4h0m25.3 .3h0m.6-.2h0m.2 .1h0m.6 1.2h0m1 1.5h0m2.5 1.5h0m.1-1.2h0m.7-2.1h0m1.9 4h0m20.6-5.4h0m.8 2.3h0m.3-1.9h0m.1 1.9h0m1 1.8h0m-.6 1.8h0m-.9 .4h0m-.2-.1h0m-.6 1.6h0m-1.8 .7h0m-.6-.3h0m-.5 .6h0m-.3 .4h0m-2 1.1h0m-1 .2h0m-.8-2.6h0m-2.3 3.4h0m-.1-1.2h0m-1.7-.3h0m-.8-.1h0m-.2 .9h0m-2.2-.5h0m-2.5 .3h0m-1-3.5h0m-.2 2.8h0m-1.3-.2h0m-.1-.9h0m-.6-1.8h0m-1.8 .1h0m-34.5-.4h0m-1.2 .8h0m-.4 2.8h0m-.6 .4h0m-.1 .9h0m-12.5-2.3h0m-2 2.4h0m-1.3-2.3h0m-1 1.9h0m-1.5-2.3h0m-.5-1.2h0m-1.9-1.8h0m-.7 .1h0m-.7-.1h0m8 7.1h0m.5 1.4h0m.7-.7h0m.8 .7h0m.8 .3h0m2.5 1.6h0m.5 .2h0m.1-.3h0m.3 1.3h0m4.2-.1h0m1-1.9h0m.4 .1h0m1-1.5h0m.6 .3h0m.1-1.5h0m45-.6h0m4.9-.2h0m.1 3.4h0m-54.3 3.5h0m-68.7 87.4h0m-.3 1.2h0m-.1-1.2h0m-2.4-3h0m-7.9 8.9h0m5.5-3.8h0m1 4.5h0m.2-4.3h0m.9 4.9h0m1.5-2.8h0m1.2-1.1h0m.4-1.9h0m.4 .6h0m.5 5.3h0m.7-1.6h0m.3-.1h0m.4 1.4h0m.6-1.9h0m.3 .5h0m.8 4.8h0m-3.5 .8h0m-.1 .6h0m-.3 .1h0m-.4-.8h0m-.5 .5h0m-.6-2.3h0m-.8 2.7h0m-.5-1.8h0m-.2-2.8h0m-23.3 3.7h0m-5.4 1.5h0m-.1 .6h0m-.8 3.6h0m.3-1.4h0m.6 1.7h0m.7 1.3h0m1.8-3.3h0m0 .3h0m1 1.5h0m.7-.5h0m.8 2.5h0m3.8-3.5h0m7.6-1.1h0m23.5 4.5h0m.5-.1h0m1.6 .4h0m2.2-.7h0m.1 .4h0m2.2-.3h0m.6-.2h0m.4 .3h0m.5-2h0m1.4 1.7h0m2.3 .7h0m.1-.4h0m4.5 6.5h0m-.3-.2h0m-.6-1.7h0m-.1-1.1h0m-1.3 .4h0m-.6-1.6h0m-12-.2h0m-3.1-.9h0m-.4 .6h0m0-1h0m-1 2.3h0m-2.1 .6h0m-2.6 1.6h0m0 1.1h0m-.7-.4h0m-14.9 0h0m-1.8 .7h0m-3.2-.2h0m-1.8-.5h0m-.8-.2h0m-1.7-2.5h0m-.8 2.4h0m-.2-3.9h0m-.1-.2h0m-.2 .1h0m-.2 4.4h0m-.6-3.8h0m-.9 1.2h0m-.3-1.6h0m-.1 2.3h0m-.1-.6h0m-1.4-1.8h0m-.1 3.8h0m-.7-4h0m7.4 8.6h0m.5-.5h0m.1 1.9h0m.2 .2h0m.5-4.1h0m1.2-.4h0m1.3 .7h0m.3 .1h0m2.3 0h0m1.7 .6h0m1 2h0m1.5 .4h0m2.3 .1h0m.8-.8h0m.4 .9h0m.5-3.2h0m1.8 1.7h0m.5-1.9h0m1.9 .6h0m.6-.4h0m.8 1.3h0m.4-2.2h0m1.5 .3h0m26.1-.1h0m.4 1.4h0m.4 2.5h0m.8-1.1h0m.1-1.1h0m1.6 2.1h0m.9 4.2h0m-.7 1.3h0m-.9-2.2h0m-.3 1.1h0m-.2-1.6h0m-38.2 3.4h0m-2.6 .8h0m-1.8 .1h0m-.1 .1h0m-.7-3.8h0m-.5 2.9h0m-1.7-1.1h0m-1.3-1h0m-.7-1.2h0m-1.2-1h0m-4.2 2.4h0m10 3.7h0m5.2 .2h0m.2 1.1h0m.3 3.9h0m1.3-2.1h0m.7-.9h0m1.4-.2h0m34.8 1.8h0m.1-3.3h0m.4 .3h0m.1 1.1h0m-.1 4h0m-.1 3h0m-.1-1.7h0m-.5 2.5h0m-.2 1.4h0m-.7-4.6h0m-.5 4.4h0m0-4.8h0m-32 4.1h0m-3.3 1.1h0m-.5-4.2h0m-.2-1.1h0m-.2 2.3h0m-.1-1.5h0m1.5 5.5h0m.4 3.8h0m.5-4.5h0m.3 .8h0m.1 1.9h0m1 2.3h0m30.2-.3h0m2.7-3.1h0m0-.1h0m.1 2.1h0m.3-1.1h0m-1.4 5.6h0m-.9 2.2h0m-.2-.1h0m-.1 1h0m0-4.8h0m-30.8 4h0m-.6 .5h0m-.8 .3h0m-.4-1h0m-.2-1.3h0m-.9-3h0m3.5 6h0m1.4 .4h0m.3 3.9h0m.3-2.2h0m.3 1.9h0m.2-.4h0m1.1-2h0m.2 2h0m24.5 2.3h0m.8-2.8h0m0-1.4h0m.4-.6h0m1.2-.9h0m.1 9.9h0m-.8-.6h0m-1.1-1.4h0m-.4 1.4h0m-.5-2.3h0m-.9 1.9h0m-26-2.9h0m0 4.2h0m-.2-3.7h0m-1 3.3h0m-.4 1.8h0m-.9-.4h0m-1.8 3.8h0m2.7-2.9h0m.1 1.8h0m.2 2.4h0m25.8 .2h0m1 1h0m.3-5.4h0m.5 2.2h0m.9-2.3h0m.8 1.9h0m.2 0h0m-2.6 7.1h0m-.5-2.8h0m-.3 4.4h0m-.7-2.5h0m-24.8-2.1h0m-.8 .7h0m-.3-.6h0m-.4 2.7h0m-1.4 1.5h0m-1.4-.4h0m3.2 4.7h0m.5-.2h0m0 2.8h0m.2-2.7h0m.7 .6h0m.8-1.8h0m21.7-1.3h0m1.6 4.1h0m.7-4h0m.2 4.2h0m0-.9h0m.4-3.4h0m.1 7.7h0m-.2-1.8h0m-.1 1.7h0m-.3 1.8h0m-.2 1.4h0m-1-1h0m-24-3.7h0m-.4 .6h0m-1.2 1.6h0m-.7 1.1h0m-.1 .9h0m-.1-.2h0m-1.7 2.5h0m.5 .4h0m.8 1.8h0m.6 .9h0m1.9 1.2h0m24.3-4.3h0m.2 4h0m.1-.8h0m.2 1.6h0m.2-1.5h0m3.6 1.1h0m-.5 4.6h0m-.1 .5h0m-.5 1.5h0m-.2-4.6h0m-2.8 2.4h0m-23.1-.9h0m-2-2.7h0m-.4 4.2h0m-.5-4h0m-.5 1.8h0m-1.3 3.3h0m-.3-.4h0m-.4-.3h0m-3.1 3h0m2-.1h0m0 4.1h0m.1-3.2h0m31.9-.6h0m.4-1.5h0m1.2 5h0m.1-.5h0m.3-2.8h0m.5 2.4h0m.8 1h0m.6 2.2h0m-.3 1h0m-.2 1.3h0m0 1h0m-.3 .8h0m-36.6-5.7h0m0 3.1h0m-.1 1.5h0m-.2-3.7h0m-.2 .5h0m-.5 1.3h0m-3.1 3.7h0m.5 3.9h0m.2-4.1h0m1 1.6h0m1.1-1.4h0m37.9 1.2h0m.4-1h0m.4 1.4h0m1.8 2.3h0m2.8 7.1h0m-.9-1.3h0m-.7-3.8h0m-.7 2.2h0m-.7-2.3h0m-.4 1.2h0m-.2-.3h0m-42.9 .1h0m0-.4h0m-.1-.4h0m-.5 2.8h0m-.7-.5h0m-.1 2.4h0m-.7-.6h0m-.3 2.4h0m1.2 .6h0m0 2.1h0m0-1h0m0-.4h0m.1 1.8h0m.6 1.2h0m46.1-4.2h0m.3 .9h0m1.2 2h0m1.1-.5h0m.8 1.5h0m1-.4h0m-1.1 2.7h0m-1.1 3.4h0m-.2-2.5h0m-.1 1.8h0m-1.3-2.4h0m-48.5-.3h0m-.4 3.9h0m-.4 .1h0m-.1-.2h0m-3.2-.4h0m.6 6.6h0m.5 .4h0m.5-.6h0m.6-3.2h0m50.6 2.7h0m.8-1.3h0m.3 .4h0m.1-.2h0m.2-2.8h0m.4 .4h0m1.2 8.7h0m-2.3-2.6h0m-.7 1.9h0m-.4 .8h0m-.2 1.9h0m-.5-3.4h0m-49.1 .4h0m-1.5-2.7h0m-.1 1.8h0m-.7 2.4h0m-.2 .8h0m-2.1-1.6h0m1.1 3.8h0m.1 3h0m.1-1.8h0m1.1-2.3h0m.1 5.4h0m1.5-3.7h0m.4 3.9h0m43-1.9h0m2.6 0h0m1.4-1.7h0m.1 1.1h0m.6-2.4h0m.1 3.7h0m-2.1 1.7h0m-1.3 .2h0m-.3 1.8h0m-.1 1h0m-1.4 .1h0m-2.5 1.1h0m-.8-.5h0m-.8-.7h0m-.5 1.7h0m-2.6-.1h0m-.1 0h0m-34.1 .7h0m-1.5-.5h0m-.3-.8h0m-.7-1.8h0m-.6 .4h0m3.6 4.7h0m1.1 .3h0m1.6-1h0m.9 1.6h0m1.4 1.4h0m.1-1.3h0m1.3 .6h0m.6 .5h0m.8 .7h0m1.5 0h0m.9-.8h0m.7 .7h0m.2 .1h0m1.9 0h0m1.7-1.4h0m.8 1.5h0m1.7-.4h0m.3-1.1h0m1.6 .7h0m1.6-1.5h0m1.4 1h0m.5 .7h0m.1-.6h0m1.5 0h0m.3-.5h0m3.5-.4h0m.6-.9h0m.2-.3h0m3 .9h0m.4-1.9h0m.7 1h0m.6 4.4h0" stroke="#619CFF" stroke-width="3.1" stroke-linecap="round" fill="none"/>
<path d="M1107.5 137.7h0m3.5 4.1h0m-.4 1.4h0m-.9-.6h0m-1.1-1.1h0m-1.7-.8h0m-.5-.7h0m-1.7 2.8h0m-1.3-2.1h0m-.7-1.3h0m-.6 1.3h0m-.8-.7h0m-2.4 1.2h0m-.8-1.7h0m-2.1 3.3h0m-.2 .4h0m-3.6-.5h0m1.7 5.5h0m.6-.5h0m.2-2.6h0m.2 3h0m.3-3h0m1.3-.2h0m14.9 .9h0m.7-.6h0m.6 .7h0m.6 1.2h0m.1 .2h0m2.4 1.8h0m.8 3.2h0m-.7 2.5h0m-1.3-3.6h0m-.6 0h0m-.2-.8h0m-18.8 4.9h0m-2.2-5.3h0m-.8 4.4h0m-.1-1h0m-.1 .7h0m-2.1 4.5h0m.1 2.5h0m1.2-3.2h0m.2-.8h0m1.4-.9h0m23.8-.1h0m.9 1.6h0m.3 .7h0m.1 1.8h0m.6-1.2h0m1.1 2.9h0m.6-2.6h0m2.7 4h0m-1.5 3.7h0m-.1 .6h0m-.7-3.3h0m-.2 .5h0m-.5 1h0m-27.5-2.6h0m-1.9-1h0m-.2 5.6h0m-.8-5.6h0m-.4 4.7h0m-.2-1.3h0m-.2-.5h0m-1.7 7h0m.2-.1h0m.1-2.5h0m.6 .5h0m.5-.4h0m32.2 1.2h0m2.6 .5h0m1.1 1.1h0m1.6-2.6h0m-1.5 9.8h0m-.8-.7h0m-.3-4.9h0m-.3 3.8h0m-.5-2.5h0m-.5-.8h0m-1.2 4.8h0m-32.2-.8h0m-1.2-3.7h0m-.3 .4h0m-1.1 4.4h0m-.9-2.6h0m0 7.4h0m0 .5h0m.6-.8h0m.5-3.8h0m0 1.2h0m37.9 2.5h0m.3-1.8h0m.2 2.2h0m.1-2.6h0m.5 3.9h0m3.1 5.3h0m-2.1-3.8h0m-.3 3.4h0m-.1-1.9h0m-.3 2.6h0m-1.7-3h0m-.3 1.3h0m-36.9 .5h0m-.2-1.5h0m-.4-2h0m-.3 1.5h0m-.4 .6h0m-.7 2.5h0m-.6 5.3h0m.1-2.7h0m.6-.2h0m.7 .5h0m.7 2.3h0m37.8-1.3h0m1.9-2.4h0m1.8 .3h0m.9 4.1h0m2.8 5.6h0m-1.4 .5h0m0-4.9h0m-.6 1.7h0m-.4-1.5h0m-.1 0h0m-.5 1.1h0m-42.9-1.6h0m-.3 .8h0m-.9 2.2h0m0 2.3h0m-.5-2.2h0m-1.1 2.5h0m.3 4.3h0m1.6-3.5h0m.4 1.2h0m1.7 2.3h0m1.9 1.2h0m44-3.3h0m.4 1.1h0m.1 .9h0m.6-1.2h0m2.8 1.8h0m.8 6.6h0m-1.5-3.9h0m-.2 2.4h0m-.1 2h0m-.3-.7h0m-.1-3.6h0m-.2 1h0m-.1-.9h0m-47.6 3.5h0m-1.3 .4h0m-.5 .5h0m-.7-5.6h0m-.1 2.6h0m-.3-1.2h0m-1.7 7.4h0m2.3-.9h0m.3 1.1h0m.1 2.6h0m0-3.3h0m1.4 1.9h0m49.2-3.1h0m.8 1.9h0m1.3-.7h0m1.1 8.7h0m-.2-.9h0m0-3.9h0m-.1 1.6h0m-.3 .8h0m-.7-2.7h0m-51.7 4.4h0m-.3-1.5h0m-.3-.5h0m-2-2.2h0m-.5 3h0m2.2 5.2h0m.6-2.4h0m.6 1h0m.6 1.3h0m2.6 3.3h0m50-3.3h0m.3-1.9h0m.7 .3h0m.7 2.4h0m2.1 1.4h0m1.9 6.6h0m-1.2-2.2h0m-.6-.4h0m-.7-.9h0m-.2-.7h0m-.8-.4h0m-.1 .7h0m-49.1 2h0m-3.2 1.4h0m-1.4-3.7h0m-.1 2.1h0m-.7 .9h0m-.5-3.9h0m2.7 10.2h0m.3-2.8h0m0 .7h0m.4-1.7h0m54.3 1.1h0m1.6-1.1h0m1.9 .5h0m2 2.5h0m.6 1.5h0m.7-1.1h0m2.1-1.3h0m5.6 2.4h0m1.3 6.9h0m-.5-.3h0m-.5-1.3h0m-2 1h0m-.1-1.7h0m-.2 1.4h0m-1-2.2h0m-.2-.3h0m-.8-2.2h0m-.7 1.5h0m-2-1.3h0m-58.8 5.5h0m-1.8-1.6h0m0 .3h0m-.1-2.5h0m-.4-1.9h0m0 1.2h0m-.2-1.3h0m2.2 11.6h0m0-5.4h0m.5 2.4h0m.2 .5h0m.6-2h0m.3 3.5h0m66.8-.2h0m.1-2.9h0m1 3.1h0m.8 .1h0m.1-2.5h0m5 5.2h0m-.3 3.4h0m-1.3-1.9h0m-.5-1.5h0m-1.3-1.2h0m-69.2 5.5h0m-1.1-.8h0m-.4 .9h0m-.4-4.7h0m-.6 2.6h0m-.5-2.8h0m1.5 8.4h0m0-2.8h0m1.3 2.7h0m70.4-.1h0m1.5 2.2h0m0-5.3h0m.2 1.6h0m.3 1.4h0m1-.3h0m4.7 2.8h0m2.6 .7h0m-7.2 4.1h0m-.6-.5h0m-.1-2.1h0m-.5 2.8h0m-1-3.6h0m-1.3 .3h0m-70.5-.5h0m-.1 1h0m-.1 2.9h0m-.4-1.8h0m-.4-2.9h0m-.5 3.3h0m-.2 2h0m-.6 .5h0m-1 5.1h0m.4 0h0m.1 .6h0m1.5-3.8h0m2.1-.1h0m73.8 0h0m1.4 0h0m.1 .3h0m.1 .3h0m.7 1.9h0m1.4-.3h0m1.5 1h0m7.7-.4h0m5.5 7.2h0m-1-2.7h0m-9.6-.9h0m-.3 3.5h0m-.4-.3h0m-1.2-4.1h0m-.1 1h0m-1.5-.8h0m-.2-1.1h0m-79.3 5.6h0m-.9-3.5h0m-.4-1.6h0m-.1 4.7h0m-.3-2.6h0m-.4 7.9h0m.1-4.4h0m.5 3.6h0m.1 1.7h0m.7-3h0m83.3-1.9h0m.7 .1h0m.7 2.4h0m1.2-.3h0m2.2 .7h0m.1-.9h0m.9 2.1h0m.1-.7h0m.4 1.6h0m.6-2.3h0m3.3-1h0m.8-.6h0m.8-1.6h0m.2 1.4h0m2.6-.7h0m1.2 1.7h0m1.9-.5h0m1 .7h0m.2-.5h0m.2-.9h0m1.5 2.9h0m1.3-.3h0m1.4 1h0m.1 .8h0m1.6-.4h0m11.5 5.4h0m-.8 .7h0m-.2-1.8h0m-.3 2.1h0m-.5-3.8h0m-1.3 2h0m-1.7-1.4h0m-3.4-1.1h0m-.5-.7h0m-.1 1.4h0m-2.2-.7h0m-107.3-1.3h0m-1.7 5.3h0m-.4-2.5h0m-.1 .4h0m-.5 1.9h0m-114.7-1.6h0m-.3-1h0m-1.5-1h0m-.6 3.9h0m-.8-2.1h0m-.9 0h0m-1.4 1.4h0m-.3-4.6h0m-.8 1.6h0m-1.4-.8h0m-.2 .6h0m-2-.1h0m-.2 0h0m-1.9 3.7h0m-.2-2h0m-.4-.8h0m-1.9 7.4h0m.3 1.9h0m.6-2.8h0m.4-.2h0m0 1.5h0m.7-1.5h0m.5-2.5h0m9.7 1.3h0m1.2 0h0m1.6 2.5h0m.2-.7h0m.7 1.2h0m9.9 .9h0m102.3-2.5h0m2.3 1.6h0m.4-3.8h0m.4 .8h0m.5 1.9h0m116.9-2.6h0m1.9-.7h0m1.5 1h0m1 .5h0m2.2 3.3h0m.3-3.8h0m.6 3.4h0m.3 .7h0m4.8 3.3h0m-1.1-1.1h0m-.8 3.8h0m0-.2h0m-1.8-2.4h0m-.9-.8h0m-.7-1.7h0m-124.2 5.4h0m-.6-1h0m-.6-3.5h0m-.2 3.4h0m-.1-1.1h0m-.4 2.1h0m-.4-4.5h0m-92.7 4.8h0m-2.6-1.6h0m-.7-1.2h0m-.7 2h0m-1.2-2.8h0m-.1-1.4h0m-.3-.3h0m-.5 2h0m-1-.8h0m-1.5-1.4h0m-.5 .5h0m-.6-.3h0m-1.1 .5h0m-.2 3.3h0m-.2 .6h0m-.6-1.8h0m-2.4 2.8h0m0-.2h0m-3.7-2.3h0m-1-2h0m-.1-.6h0m-.5 1.7h0m-.5-2.4h0m-.8 1.1h0m-17-.5h0m-.2 .7h0m-.7 1.8h0m-.1-1.5h0m-1.2 1.7h0m-1.2 1.7h0m-.9-.4h0m-1.9 3.5h0m1.4 .8h0m.1-1.9h0m.4 4.3h0m.6 .4h0m.6-5.4h0m18.1 4.8h0m.9 .6h0m.9-.2h0m.1-.1h0m4.1-1h0m.1-.9h0m1.6 .4h0m.5-2.8h0m.2 2.3h0m.6-3.4h0m.8 .3h0m.1 2.4h0m1.1 1.8h0m.4 .7h0m1.8-.9h0m1-3.7h0m.9 3.8h0m1.2-.7h0m1 .3h0m1.6 .1h0m.9 0h0m.4-2.9h0m1 2.3h0m.3 .6h0m0-3.7h0m1.6 3.7h0m1-1.5h0m.2-1h0m92.1 1.4h0m1.2-2.7h0m.4 1.4h0m0 3.4h0m.3-1.7h0m127.7-3.3h0m.9 2.2h0m.9 1.3h0m.3 .8h0m.4 1.4h0m2 5.5h0m-.6 0h0m0-1.2h0m-.7-4h0m-.4 5.6h0m-.6-2.8h0m-128.8 .7h0m-.1-.9h0m0 .7h0m-.6-3.1h0m-.8 2.4h0m-.6 2.2h0m-111.9-5h0m-1.2 .9h0m-5.2-.6h0m-1.1 1h0m-.4-.3h0m-.2 4h0m-.8-2.5h0m-.2 2h0m-.7 1.1h0m0-.2h0m-12.5-.4h0m-1.5-2.5h0m-.9-1.6h0m-.1 1.9h0m-.5 1.6h0m.1 2.6h0m.5-.8h0m.7 1.5h0m.3 1.9h0m.6-.9h0m2.3-.6h0m2 1.8h0m.1 .1h0m.6 .9h0m.5-1.5h0m2.1 1.2h0m2.9-.1h0m.5 .1h0m.8-1.2h0m.2 1.2h0m.2 1.1h0m.6-4.4h0m.4 1.2h0m123.5 1.1h0m.2-2.6h0m3.9-.4h0m125.2-.4h0m3.3 4.7h0m.1-3.9h0m.5 3.3h0m0 .1h0m1 .6h0m-.4 6.4h0m-.5-2h0m-.2-1.8h0m0-.3h0m-130.2 4.3h0m-.9-1.8h0m-1.2-.2h0m-.1-3.4h0m-.4 1.1h0m-.6-1.3h0m1.2 7.4h0m.2-.6h0m.2 2h0m.1-.1h0m1.3 2.2h0m129.5-2.6h0m.7-2.1h0m.2 3.4h0m.3-1.5h0m.2-.2h0m.6 8.1h0m-1.6-2.7h0m-.8 .3h0m-.7 3.4h0m-.1-3.4h0m0-1h0m-.2 2.1h0m-126.3 2h0m-1.7-1.3h0m-.6 1.1h0m-.2-1.9h0m-.3 0h0m-.6-1.9h0m.3 7.3h0m.4 1.1h0m.6-2.3h0m.4 .4h0m122.6 1.5h0m2.2-1.7h0m0 1.9h0m.8-2.9h0m.8 1.8h0m-4.7 4.2h0m-.8 2.2h0m-.4-1.9h0m-.1 1.6h0m-1.1-.9h0m-1.1 3.7h0m-1.7-2.3h0m-.4-.1h0m-114.9 2.2h0m-.1 .4h0m-.1-.8h0m-.1-3.5h0m-.6 1.6h0m-.5 1.9h0m-.9-1.3h0m-.2-1.1h0m.8 9.7h0m.6-.7h0m.2-1.1h0m.4-1.3h0m108.8 .9h0m1 1.9h0m2.1-1.5h0m.5-.2h0m.6-.7h0m.4 .5h0m.2 2.1h0m.3-3.8h0m1.9-.9h0m-6.6 5.8h0m-.6-.3h0m-.3 3.7h0m-.5-1.9h0m-.6 .6h0m-.8 .9h0m-1.2 2h0m-.6-2.4h0m-104.2-.4h0m-.2-1.1h0m-.3 3h0m-.2-1.8h0m-3.9 .7h0m2.2 2.7h0m1 5.8h0m.4-4.8h0m0 4.1h0m.3-2.5h0m1.7 .1h0m95.8 2.6h0m1.4-1.4h0m.1-.1h0m2.2-1.6h0m.2-.5h0m1-.7h0m1.4-1h0m-5 6.3h0m-2.7 .3h0m-.2 3.7h0m-.9-2.4h0m-.3-1.8h0m-.6 4.2h0m-2.5 1.5h0m-89.9-4.5h0m-1.5 .7h0m-.5-.8h0m0 3.4h0m-.6 .3h0m-.3-.6h0m-1 3.9h0m1.6 3h0m.5-1.8h0m.4 1h0m88.2 1.1h0m2-1.7h0m.6 .1h0m.2 .8h0m.7-2h0m.4-.2h0m1.2 1.6h0m1.1-3.7h0m-6.1 5.9h0m-1.3 5.5h0m-.2-5.6h0m-.8 2.9h0m-.4 .4h0m-83.2-1.5h0m-2.4 2.7h0m-.3-1.8h0m-.3 1.5h0m-.1-2.8h0m-.3 4h0m-2.1-2.9h0m2.3 8.8h0m.1 0h0m.3-2.9h0m.7-1.6h0m.6 2.5h0m1.8 2.1h0m78.1 .2h0m0-2.5h0m.4-.5h0m.4-.8h0m1.1-.1h0m.4-1h0m0 0h0m.9-.9h0m.4 5h0m-1.9 1.1h0m-4 3.9h0m-1.2-1.5h0m0-.9h0m-.1 2.9h0m-.6 .5h0m-.1-.3h0m-.9 .8h0m-74.6-1.1h0m-.7-4.2h0m-1 5.4h0m-.5-3.2h0m1 6.1h0m.4-.7h0m.5 3.4h0m.5-4.9h0m69.7 4.4h0m.9-.6h0m.1 1.4h0m1-2.6h0m.4 .3h0m2.2-1.4h0m.8-1.2h0m-6.1 6.7h0m-2.7 1.5h0m-.1-1h0m-.8 1.6h0m-1.6 .4h0m-63.8-1.5h0m-.4 2.5h0m-.4-.6h0m-.2-4.2h0m-.6 2.2h0m-.3 2.8h0m-.5-4.3h0m-.1-.7h0m1.9 8.6h0m.7 2.7h0m0 .1h0m.6-3.1h0m61.2-.8h0m1.2-.6h0m.2-.3h0m.4 3h0m.3-2.7h0m.1-.9h0m-1 11.3h0m-.1-.7h0m-.4-2.9h0m0-1.7h0m-.2 3.6h0m-.4-3h0m-1.9 3.9h0m-57.9-2.8h0m-1.8 .7h0m-.1-2.1h0m-.3 3.9h0m-.2-2.4h0m.5 4.8h0m.7-.7h0m.3 4.1h0m.1 .5h0m1.4-1.2h0m.1-.8h0m58.8 2.3h0m2.1-1.8h0m.1-3.1h0m.4 .9h0m.5 2.8h0m1.2-1.1h0m-2.9 3.5h0m-.6 .6h0m-.2 2h0m-.5 2.7h0m-.5-1.7h0m-1.1 .1h0m-57.3 1.9h0m-.3-2h0m-.7-.5h0m-.4-2.5h0m-.7-.5h0m0 3.8h0m1.6 3.5h0m0-.3h0m.5 3.6h0m.6-2.2h0m.4 .7h0m.8 2.3h0m54-5h0m2.7 .3h0m.1 1.7h0m1 2h0m0-2h0m1.7 2.3h0m3.1 6.6h0m-.3-2.2h0m-1.4-.2h0m-1.6-2.1h0m-.8-.4h0m-.1 2.2h0m-56.8 1.7h0m-.1 .1h0m-.1-1.7h0m-.5-1.3h0m-.5-.7h0m1.9 9.6h0m.1-3.5h0m.4 .3h0m.1-.4h0m1.5 3.4h0m58.9-2h0m.1-.6h0m.3 3.1h0m.4-2.4h0m.1 1.3h0m9 4.4h0m-1 2.5h0m-.4 .9h0m-1.5-2.7h0m-1.8-.7h0m-.1-2h0m-.5 1.1h0m-.7 2.7h0m-.7-3.1h0m-.4 .2h0m-59.5 2.6h0m-1.3-2.3h0m-.1 3.1h0m-.4-.6h0m-.6-3.7h0m1.8 6.5h0m.5 0h0m.6 .2h0m.6 .3h0m1.2 1h0m1 .6h0m.4 1.1h0m1-.4h0m.2 .6h0m1 0h0m.6 .8h0m3.2 .3h0m1.5 .7h0m53.6-.2h0m1-3.1h0m.3 3.3h0m.3-4.4h0m3.2-1.4h0m.3 7.5h0m-.9 3.7h0m-.2-3h0m-.1 1.9h0m-.1-.1h0m-.3-3h0m-.9 1.4h0m-.2 2.5h0m-43 .2h0m0 .2h0m-3.5 0h0m-.4-.7h0m-.2 1.3h0m-.9-4.2h0m-.4 2.4h0m-1.3 .3h0m-.9-.1h0m-1.2-1.5h0m-.7-.4h0m-2.3-.8h0m-1.3 .6h0m-.2 3.5h0m11.6 1.1h0m2.9-.5h0m.2 1.1h0m2.2 1.1h0m.6 .5h0m1.8 1h0m.5-3.1h0m.2 2.8h0m0 1.2h0m2.2 .5h0m1.6-.5h0m.7-2.9h0m2.7 2.9h0m32.8-1h0m.4-3.2h0m.6 2h0m1.2 .3h0m.7 .3h0m.8 2.2h0m8.9 5.6h0m-1.3 .3h0m-.9-1.2h0m-2.7-.9h0m-1.2-1.7h0m-1.2-.4h0m-.8-1h0m-.8 1h0m-26.7 4.1h0m-5.4-1.1h0m-.7 .6h0m-.8-1.3h0m-.8-2.2h0m-1.1 .4h0m-1.3-.2h0m-1.2-1.3h0m8 6.8h0m.6-.6h0m.4-.2h0m1 3h0m1-2.1h0m1.1 2.3h0m3.9 2.2h0m.9-1.2h0m.3 .8h0m4.3 .3h0m.4-.1h0m1.4 0h0m5.3-1h0m4.5 1.5h0m8.2-5.8h0m3.6 .4h0m2 1.5h0m1.8 1.2h0m.2 2.7h0m.9-3.2h0m4 9.1h0m-.1-.1h0m-.3 0h0m-.4-1.3h0m-.2-.2h0m-.5-1.4h0m-1-1.8h0m-1.3-.7h0m-1.5 .3h0m-18.7 4.3h0m-.6-1.9h0m-.3 1.1h0m-.6-1.8h0m-1-1.5h0m-.4 4.1h0m-.7-4.2h0m-.4 5.1h0m-.2-2.2h0m-.9-3.5h0m-4.4 .1h0m-1.1 .1h0m-5.1-.2h0m-.4 .5h0m0 .5h0m9.5 8.5h0m5.1-1.5h0m0 2.7h0m1.9-2.2h0m.7 2.4h0m.3-3.9h0m.7 2.6h0m.1-1.1h0m.2 3h0m5.1-1.8h0m1.2-2.5h0m15.6 2.1h0m.3-.2h0m.1-.5h0m2.6 1.8h0m-1.7 4.7h0m0-1.2h0m-.6 2.7h0m-1.3-2.5h0m-.7-1.2h0m-14.3 .4h0m-1.6 .3h0m-3.5 2.5h0m-.3 .8h0m-.3-4.4h0m-.3 .4h0m-.4 2h0m0 1.2h0m0 1.6h0m-.2 0h0m-.7-3.5h0m-.7-.5h0m-2.4 3h0m-1.1 1h0m-1.3-3.7h0m-3.8-.1h0m6.7 5h0m2.2 3.3h0m3-3.2h0m.4 1h0m0 2.6h0m.1-.9h0m.8 .1h0m.6 .8h0m.5-2.6h0m1.2 3.8h0m4.9-1.4h0m11.8 1h0m.2-.6h0m0-3h0m2.1 2.3h0m.5-3h0m.3-.8h0m-3.2 6.5h0m-.1 3h0m0-2.4h0m-.4 2.1h0m-.2 1.7h0m-11.4 0h0m0-2.5h0m-1.1 3.1h0m-.5-4.8h0m0 1.6h0m-1.9-2.6h0m-1 .2h0m-111 9.6h0m.5-1.7h0m4.8-1.6h0m0 3.3h0m1.1 1.6h0m16.5-1.2h0m93.4-3.3h0m2.3 3.5h0m.4-2.7h0m.6 .7h0m.9 1.3h0m4.8-1.6h0m.4 1.6h0m.3 2h0m.6-3.3h0m.8 2.2h0m.6-4h0m-1.5 6.1h0m-.5 .1h0m-1.2 2h0m-.1 1.6h0m-2.3-3.2h0m-.9-.6h0m-.6 .9h0m-1.1-1.6h0m-5 1.6h0m-96.8 2.3h0m-.7-2.1h0m-1.8 3.5h0m-4.9-.7h0m-4.2-1h0m-.7-1.4h0m-.7 3.1h0m-3.7-1.6h0m-2.3-1.9h0m-1.5 6h0m0 2.5h0m1.8-3.2h0m0 4.6h0m.7-2.5h0m1.8 1.1h0m1.7-3.6h0m3 2.3h0m6.2-.8h0m.7 2.1h0m1.4 1h0m1.1-1h0m.3-2.9h0m4.6-.7h0m106.6-.1h0m-112.9 6.1h0m-1.1 1.1h0m-1.4-1.1h0m-1 1.1h0m-1.1-.4h0m0 1.5h0m-1.4-.4h0m-1.1 1.8h0m-.3-2.2h0m-1.4 1.1h0m-1.1 1.8h0m-.3-2.5h0m-.8-2.5h0m-.7 3.9h0m-1-1.4h0m-.4 2.5h0m-.3-4.3h0m-3.6-.7h0m-56.5 28.2h0m-2.8 .8h0m-.5-.2h0m-1.1 .4h0m-.2 .6h0m-33.4 5h0m0 .4h0m.9 .5h0m.8-2.6h0m24.2 2.3h0m1.2 0h0m.5-.4h0m.2-.3h0m.1 .8h0m.9-1.3h0m.7-1.4h0m.3 1.3h0m.1-.7h0m.5-1h0m.6 .6h0m.1-.2h0m.5-1.3h0m.4-.7h0m.3 .6h0m2.2-.9h0m1.3-.5h0m-9 6.3h0m-1 .8h0m-.3-.3h0m-.2-.3h0m-8.8 4.6h0m-2.4 .6h0m-1.3 0h0m-.2-4.1h0m-12.8-.2h0m-.2 4.3h0m-.1-3.4h0m-.1-2.2h0m-.4 .9h0m-.1 1.5h0m-.1 3h0m-.3-4.5h0m-.7 2.5h0m1.3 2.7h0m10 5.3h0m.2-1.5h0m.2-.7h0m1.2-1.3h0m.6-1.1h0m.2-.2h0m.5 .8h0m6.3 2.6h0m0-4h0m.1 .4h0m.2 2.2h0m.3 2.4h0m4.2-4.4h0m-3.1 8.6h0m-.1-3.2h0m-.1 3h0m-.9-.1h0m-1.2 2.8h0m-.4-1.3h0m-8.6-3.7h0m-.7-.2h0m0 3.1h0m-1.1-.2h0m-1.1 .9h0m-.1-.4h0m-5.7 3h0m.8 4.7h0m.4-.7h0m.8-2.1h0m1-1.9h0m.4 1.2h0m1.9 1.1h0m10.5 1.7h0m1.3-1.7h0m.3 1.4h0m.2 .1h0m1.5-3.4h0m-2.4 6.7h0m-.2-2.1h0m-.1 .6h0m-.3 2.7h0m-1 2.4h0m-14.7-4.8h0m-1.8-.7h0m-.1 2.8h0m-.1-.1h0m-2.1 .8h0m-.4 1.4h0m-4 6.6h0m.4-3.9h0m1.4 3h0m0-.5h0m.6 1.1h0m.2-2.4h0m2.2-2.6h0m15.4 5.2h0m.5-1.9h0m.2 .7h0m.1-1.6h0m.1 1.9h0m1.2-4.5h0m2.5 2.3h0m3.1-2.2h0m1.3 5.3h0m0 5.4h0m-8.5-4.9h0m-.5 1.5h0m-.9 .5h0m-.7 .9h0m-.6 .5h0m-1.1 1h0m-16.9-3.9h0m-.1 .5h0m-.9 1.5h0m-.4 0h0m-.3 .6h0m-2 2h0m0 .7h0m-3.2 6h0m.3-.9h0m.3-1.7h0m.1 1.8h0m.8-1.9h0m.7 .2h0m0-1.7h0m.9-1.1h0m14.2 4.8h0m3.4-.5h0m.4-4.2h0m.4 2.3h0m.8-.4h0m.5-2.4h0m3 4.8h0m68.5 6.2h0m-2 .1h0m-1-3.3h0m-.9 1.5h0m-1.5 .2h0m-.1-1.8h0m-1.8-1.6h0m-.1 1.8h0m-.1-.6h0m-2.8-.2h0m-2 .2h0m-.5-1h0m-.1 .5h0m-1.3 .6h0m-.4 .2h0m-1.4 .8h0m-1.4 .2h0m-1.9 1.2h0m-.3 1.1h0m-.4 .4h0m-.9-2h0m-33.9-2.5h0m-15.4 1.4h0m-5.4 1.2h0m-.3-1.7h0m-.1 .7h0m-.2 1.8h0m-.9-.3h0m-18.4 1.3h0m-.1-2.7h0m-.3 2h0m-3.9 4.1h0m1.5 1.7h0m.7-2.8h0m.3-.5h0m.4 1.1h0m17.4 3.3h0m1.4-3.2h0m0-.7h0m.2 2.8h0m.6-.5h0m.4-2.3h0m1.3 2.7h0m.8-2.5h0m3.9-1.5h0m7.3 3.1h0m.1-3.1h0m1.3 1.3h0m8.7-1.3h0m2 4h0m29.1 .1h0m.1-4.5h0m.3 2.3h0m.6 2.2h0m18.5-3.4h0m.6 4.6h0m1-1.4h0m.3-4h0m.2 1.7h0m.5-.5h0m.2 2.6h0m-.4 4.3h0m-2.5 .1h0m-.1-1.7h0m-1.5 1.8h0m-.7 .4h0m-1.2 2.5h0m-.7-.1h0m-15-4.7h0m-.1 1h0m-.1-1.1h0m-.9 3.1h0m0-.5h0m-.6 1.4h0m-2.6 1.2h0m-2.9-5.4h0m-3.3 .7h0m-6 4.6h0m-4.4-.1h0m-.4-.6h0m-1.6-.2h0m-1.3-1.3h0m-.1-.4h0m-3.2 .1h0m-.8 .2h0m-.4-.9h0m-1-.5h0m-1.1 1.6h0m-1.3-1.7h0m-.5-.6h0m-2.1 .4h0m-.5 .4h0m-.4-.6h0m-.2 .5h0m-1.4-.9h0m-3.2-.6h0m-.3 .8h0m-1.7 1.4h0m-2.7-.9h0m-.5-1.5h0m-.9 0h0m-.3-.3h0m-1.5 .1h0m-1.2 .3h0m-1.3-.3h0m-1.5 .5h0m-1.7 .9h0m-1.1-.4h0m-.5 .7h0m-1.1 .1h0m-1.1-1.4h0m-.3 1.5h0m-.1 .1h0m-.1 .2h0m-.4-.8h0m-.8 2.9h0m-1 1.5h0m-.3-.7h0m0 .7h0m-2.9-.3h0m-12.6-5.2h0m-1.3 .6h0m-.1-.6h0m-.1 2.4h0m-.4-1.9h0m-.9 2.9h0m-.6 1.7h0m-.3 .4h0m-4.6 4.1h0m1.2-.5h0m1.3 1.1h0m1.1 1.1h0m.7-1.1h0m.2-3.9h0m0 2.3h0m10.9 2.5h0m.4 .4h0m.7-.5h0m1.1-.2h0m2.5-.3h0m1.1-3.1h0m.6 2.3h0m.5-2.6h0m1-.3h0m.6 2h0m.9-2h0m.3 1.6h0m.7 .1h0m.6-.7h0m.4 2.6h0m.7-1.3h0m1.5 1.4h0m.4-1.5h0m2.6 1.7h0m.3-.3h0m.9-.2h0m.3-1.1h0m1.4 .6h0m.9-1.5h0m1 .6h0m.9 .3h0m2.5 0h0m1.6 .3h0m1.1-1.5h0m.2 .6h0m.6 2.4h0m.3-.1h0m2.5-1.4h0m4.1 .9h0m.3 1.1h0m11.5-.9h0m0-1h0m.8-1.2h0m.6-2.7h0m1.5 4.6h0m.3-.3h0m.5-1.7h0m.3-.4h0m.2-.5h0m.1 0h0m.5 .6h0m.1 .8h0m1.6 .4h0m.3 1.3h0m.5-1h0m.2-.5h0m.3 1.1h0m.6 .7h0m.7-1.2h0m3.4 1.9h0m1.4-.6h0m.2-2.6h0m1.9 1.3h0m1.4 1h0m.6 .2h0m1-3.1h0m.8-1.3h0m14.3 3.3h0m.7 1.6h0m.7-4.5h0m.4 1.7h0m.3 .3h0m.6-2.5h0m5.7 3.9h0m4.1 1.3h0m4 6h0m-2-3.3h0m-10.1 1.3h0m-4.7-3.2h0m-.5 2h0m0-2.1h0m-.2 3.8h0m0 1.5h0m-.6-2.6h0m-.9 .2h0m-17.6-3.1h0m-1.3 0h0m-.3 .3h0m-.9 3.7h0m-.3-4.3h0m-.4 3.1h0m-.9-2.5h0m-1.2 5.2h0m-.1-5.7h0m-1.4 4.3h0m-1.5 1.3h0m-.5-.6h0m-2.6-.5h0m-.8 0h0m-.4-.4h0m-.7-4h0m-1.3 4h0m-.5-.3h0m-.1-2h0m-.4 .1h0m-.7 1.2h0m-1-1h0m-.1 1.1h0m-.7 2.3h0m-.3-3.6h0m-.3-.3h0m-2-.5h0m-1.1 3.9h0m-.4-4.3h0m-1-.1h0m-1.1 .6h0m-1.7-1h0m-2.5 1.6h0m-.2-1.7h0m-34.2 .6h0m-1.5-.8h0m-.9 .8h0m-.2 .3h0m-2.1 .3h0m-.3-.3h0m-2.4 .2h0m-2.1-1.2h0m53.7 6.8h0m1.7 .5h0m1.3-.6h0m1 1h0m.3-1.2h0m.6 2.3h0m1-.6h0m1 2h0m.9-4.1h0m.1 5.6h0m4.4-5.1h0m2.4-.6h0m1 .5h0m18.7 3.8h0m0-.2h0m0-.5h0m1.9-2h0m.2-.8h0m.3 2.4h0m-.1 3.2h0m-3.6 1.3h0m-1.2 2.2h0m-.1-1.6h0m-1.5 1.4h0m-2.1 .5h0m-15.3 1.4h0m-.6-.3h0m-.5-1.6h0m-.1-2.3h0m-1.5 .3h0m-.8-.8h0m-1 3.5h0m-2.1-1.2h0m-2 1.9h0m2 5.4h0m2.7 1.3h0m3.6-4.5h0m0 1.5h0m.2 2.1h0m.8-1h0m9.6-.3h0m1.3 1.2h0m.2-.4h0m.3-1h0m.9-1.9h0m1.3-1.3h0m.5 1.5h0m2-1.4h0m-7.3 6h0m-.2 3.1h0m0-2.4h0m-.5 2.9h0m-2.1 0h0m-.2 .2h0m-.6-3.9h0m-1.8 2.8h0m-.9 .3h0m-1.3-1.4h0m0 2.1h0m-.5-3.7h0m-.6 .3h0m-1.2 4.9h0m-.4-1.3h0m-1.6-2.4h0m-3.2 5.3h0m3.6 1.7h0m.5-2h0m.3 4.1h0m.9-2.1h0m.5-2.4h0m.1 3.9h0m.1-.1h0m.5-1.6h0m.9-2.3h0m2.9 0h0m-4 8.4h0m-.5-2.6h0m-.1 4.8h0m-.3-2.4h0m-.1 .7h0m-.9-.4h0m-.5 0h0m-.2-2.4h0m-.1 2.9h0m-.6 .1h0m.8 3.5h0m1-.9h0m0 3.8h0m0 1.5h0m0-2.7h0m.1-2.7h0m.5 .2h0m.2 2.5h0m.1-1.1h0m0 .9h0m.1 .8h0m1.5-.3h0m1.1 .4h0m88.7 6.9h0m-.7 1.4h0m-.8-3.2h0m-1.5 1.4h0m-.1-.5h0m-.3 1.3h0m-.7 .1h0m-2-1.1h0m-1.5 1.9h0m-.2-1.2h0m-2.4 .7h0m0-.1h0m-2.3 .1h0m-2.1 .1h0m-77.7-3h0m0-.5h0m-.4 3.4h0m0-1.5h0m-.7-2.7h0m-.8 3.5h0m-.4-3.1h0m-.1 4.6h0m-.1-.2h0m-.2-.2h0m-.5-3.6h0m-2.7 8.5h0m1.5-1.3h0m.2 1.5h0m1.5-4h0m.4 4.7h0m.3-4.7h0m.7 2.3h0m.2-1.1h0m1.4 1.3h0m.9-1.5h0m76.6 1.1h0m0 2.8h0m.3-5.1h0m1.1 2.6h0m0 2.6h0m7.6-1.6h0m2.3-1.4h0m.9 3.3h0m.1-3.9h0m.5-1.3h0m-2.5 9.1h0m-.3-3.4h0m-.2 .9h0m-.5-.8h0m-.4 .7h0m-1 1.1h0m-.5 1.7h0m-1.2 .4h0m-1.4-.2h0m-1.5-1.7h0m0 3.3h0m-1-.6h0m-.8-3.6h0m-.4 2h0m-.3-.9h0m-1.4 .6h0m-80.6-.4h0m-.8-2.1h0m-.1 .8h0m-.2 .3h0m-1-1.8h0m-.4 1.5h0m88.3 4.4h0" stroke="#00BA38" stroke-width="3.1" stroke-linecap="round" fill="none"/>
<path d="M998.4 418.2h0m-.1 1.2h0m-.7-3.2h0m-.4 2.3h0m-2.3-2h0m-1 .3h0m-1.6 1.6h0m-.9-1.5h0m-1 2.3h0m-.8-1.8h0m-3.5 3.7h0m.2 3.9h0m.6 .2h0m.6-4.6h0m.5 3h0m.7 1.6h0m1.2-4.8h0m8.2 1.9h0m.2 2.8h0m.1-.7h0m.1-3.1h0m1.6 1.5h0m2.7 3.7h0m-2.1 .7h0m-1.3 .8h0m-.2 1.9h0m-1-3.3h0m-.4 2.7h0m-.3 2.5h0m-.6-1.4h0m-9.1 .8h0m0-3.2h0m-.7-1.2h0m-.2-.2h0m-.7 2.7h0m-4.6 5.7h0m1.3 1.6h0m0-.4h0m1.1-1h0m.2 1.6h0m.4-1.5h0m.8-2.9h0m.2 2.4h0m.4 1.3h0m.4-.9h0m.3-2.6h0m0 1.1h0m.5 3.5h0m.3-1.3h0m.2 1h0m5.7 .1h0m1.3 .7h0m.2-2.7h0m1.5 .2h0m.3-1.3h0m-2.5 6h0m-2.7 .3h0m0-1.1h0m-.5 3h0m-.2 .6h0m-.2-1.8h0m-1.3 2.6h0m-.9-5h0m-.2 1.6h0m-.5-.2h0m-.6 2.5h0m-.4 .8h0m-.2-1.8h0m-2.9-3.4h0m-1.7 7.1h0m3.4 3h0m0 .6h0m.2-1.1h0m.3 1.7h0m.8-4h0m.2 2.9h0m.1-3h0m.5 1.5h0m1.4-1.5h0m5.6 5.2h0m-2 4.5h0m-4.3-3.5h0m-2.1-.5h0m-.4-.6h0m-1 1.7h0m-.3 1h0m0-.4h0m-.4 1.8h0m-.6-3.1h0m-.1 .8h0m-1 1.8h0m-4.6 1.9h0m-2.7 4.9h0m1.4-1.1h0m1.8 .9h0m1.3 .9h0m.2-2h0m.2 .4h0m.2-1.5h0m.1 1.3h0m.1-2.5h0m.7-.4h0m.2 1.6h0m.1-2h0m0 5.5h0m.6-4.1h0m1.6-1.1h0m-2.2 9h0m-1.1-1.7h0m-.3 1.8h0m-.8-3.3h0m-.3 5h0m-1.1 .3h0m-.1-2.5h0m-.6 .4h0m-.4-3.3h0m-1.9 .5h0m-.7 3.8h0m-.4-.4h0m-.1-1.2h0m-.3 .6h0m-4.7 8h0m.2-1.5h0m1.5 1.2h0m.2-.1h0m0-3.7h0m.3 1.8h0m.4-2.2h0m0 .8h0m1.1 3.7h0m.3-3.9h0m.5 2h0m2.2-2.8h0m0 2.2h0m.5-.8h0m.6 3.2h0m11.9-1.4h0m5.4-3.6h0m.3 3.8h0m-10.1 7.6h0m-.8-1.3h0m-.9-.8h0m-.6 .2h0m-.5-.7h0m-.9-2.3h0m-1.5 .2h0m-.5 .3h0m-.9-1.3h0m-1 1.7h0m-.9 .1h0m-.4 3.6h0m-2-3h0m-.7 .3h0m-3.6-2.8h0m-1.3 1.6h0m-.6 .1h0m-.2 1.7h0m-.1-3.1h0m-1.4 4h0m-.3-.4h0m-1.1 1.9h0m-1.6 2.6h0m1.4 2.4h0m.1-3h0m.6-.8h0m.4-.3h0m18.9 .8h0m.9-1h0m1.8 2h0m1.1 .4h0m1.5 .7h0m.3 1.6h0m0-.6h0m2.1 1h0m6.5-4.9h0m2.3 10h0m-1.7-.6h0m-.7-.8h0m-.6-.1h0m-.7-1.6h0m-2.1 .2h0m-1.8-.9h0m-.1-.3h0m-.9 .5h0m-26.7 4.1h0m-.6-4.5h0m-.1 3.3h0m-.3-1.7h0m-.2-.3h0m-.7-.8h0m-1.5-1h0m3.1 7h0m.6 .4h0m1.4 1.1h0m.1-.6h0m.3-.1h0m2.1 3h0m1.3 .8h0m.1-.6h0m1.5-1.8h0m1.8 1.4h0m2.2 .8h0m3.3-1.5h0m.8-.4h0m1.9-1.5h0m.4 .3h0m0 2h0m.8-.6h0m1.1 .9h0m1.2-.6h0m2.1 .7h0m.6-1.8h0m.1 1.2h0m.2 0h0m2.8 .3h0m.6-1.5h0m1 .4h0m1.3 .2h0m1.9-1.2h0m.3 1.4h0m1.3 .6h0m.9 .5h0m.4-4.8h0m1.4 1.2h0m.6-.4h0m1.8 2.2h0m.7-.9h0m.2 .5h0m.5 .9h0m.8 .4h0m7.4 4.4h0m-2 2.5h0m-.1-.6h0m-2.6-.4h0m-.7-2.2h0m-.1 .7h0m-.5-1.8h0m-.1 1h0m-.1 3.6h0m-1.1-1h0m-3.4-2.6h0m-.3 3h0m-.3-3.6h0m-.2 .3h0m-.6 2.1h0m-1.8-3.3h0m-20.9-.2h0m-.1 .3h0m-9.9 .8h0m38.9 4.8h0m.6 1.8h0m.9 3.3h0m.3-2.6h0m.9 .6h0m.6-2.1h0m.1 3.4h0m.5 1.2h0m.9-.3h0m.8-5.3h0m.4 1.2h0m1.1 1.5h0m.7-.5h0m.2 2.1h0m.8-.2h0m.8 1.1h0m.8-.3h0m6.8 3.5h0m-.7 2.6h0m-1.1-2.1h0m-.7 .3h0m-2.2-1.5h0m-1.6-1.2h0m-.3 2.3h0m-3.5 1.9h0m-1.5-.4h0m-.1-.2h0m-1-3.3h0m3.5 6.1h0m.1 .4h0m.4-.6h0m.3-.6h0m.3 3.4h0m1-2.2h0m0 2h0m.5 .6h0m3.8 1.6h0m.3-5.4h0m1.1 5.5h0m0-4h0m.1-1.3h0m1.3 3.7h0m.6-1h0m-5.8 3.2h0m-1.2 .3h0" stroke="#F8766D" stroke-width="3.1" stroke-linecap="round" fill="none"/>
<path d="M958.4 83.9h0m2.6 10.6h0m-19.3-1.7h0m-18.6 8.4h0m12.6 .2h0m2.2-2.7h0m.4-.8h0m.1 3.6h0m.8-3h0m1.3-2.2h0m8.2 9.3h0m-13-3.5h0m-3.1 5.2h0m-4.7 4.9h0m2.4-3.4h0m15.9 2.7h0m4.3 .5h0m6.3 6.1h0m-6-.8h0m-25.2-1.5h0m-.3-1.7h0m-.8 .5h0m-2.7 .2h0m32.9 6.8h0m.6 .9h0m-23.9 12.7h0m4.2-1.4h0m1.8-.4h0m3.3 3.1h0m6.2 2.3h0m-.4 1.6h0m-10.8-.1h0m-5.5 2.5h0m-7.1-3.8h0m-3.7 2.3h0m.2 7.7h0m16.1-3.8h0m8.1 .5h0m1.1-.1h0m161.8 .8h0m.8-.5h0m2.5-1h0m-169.1 7.5h0m-27.3 2.2h0m23.6 5.5h0m4.1-1.1h0m160.2 2.1h0m2.3 .6h0m1.1-4.8h0m7.1 8h0m-171.9-.1h0m-32.6-.7h0m-.4 4.6h0m187.2 2.3h0m2.3-2.5h0m-161.6 11.3h0m174.8 11.2h0m-8.9-2.4h0m6.2 5.3h0m1.1-1.5h0m2.5 3.5h0m7 6.8h0m-.7-1.2h0m-.8 0h0m-8.2 1.9h0m-6.7-2.3h0m3.4 7.1h0m1.9 1.3h0m2.6-5.1h0m.7 .8h0m.6-.4h0m-9.8 11h0m-3-.6h0m13 4.5h0m1.5 .7h0m8.1 .9h0m.5-3.3h0m10.7-1.1h0m-13.9 8h0m-7.4-2.8h0m-3.3 5.1h0m-6.3-3h0m2.6 5h0m8.3-.3h0m12.1 3.9h0m-16 4.4h0m-4.8 8.7h0m2.6-3h0m.2 .1h0m19.1 2.9h0m10.3-.6h0m-1.4 6.2h0m-2.5-1.4h0m-4.7-2.3h0m-4.4 1.8h0m-.1 .4h0m-18.3-.3h0m40 4.1h0m.1-.3h0m12.2 1.6h0m4 3.5h0m-1.5 2.6h0m-46.5-3h0m-1.9 .9h0m-3.3 8.9h0m14.2-3.2h0m21.7-.6h0m1.7 1.1h0m1.7 1.3h0m-45.6 5.2h0m-3.2 9.4h0m.1-3.5h0m42.2 .9h0m28.2 6.2h0m-22.3 1.6h0m-29.3-3.5h0m-3.5 1.5h0m14.8 7.6h0m1.8 .7h0m70.5 2.8h0m-16.8 4.1h0m-32.3-3.9h0m-1.8 1.2h0m-2.7 1.6h0m-26.3-1.8h0m-20.3-.6h0m-3.1 5.7h0m51 2.7h0m9.4-1h0m36-.8h0m-22.1 6.8h0m-15.4-1.8h0m-3.9 1.6h0m-40.9-3.1h0m-.8 2.8h0m-12.5 2.3h0m-123.1-5h0m-121 9.2h0m1.6-.2h0m252.5-.2h0m28.6-1.9h0m16.3 .3h0m52.8 1.7h0m-4.7 3.1h0m-1.2 2.1h0m-54.2-2.3h0m-29.9 .1h0m-3.9-.1h0m-9.4 4.3h0m-215.7-1.5h0m-39.5-1h0m308.1 7.6h0m27.7-.8h0m40.2 1.6h0m-86.4 5.7h0m-18.9 1.5h0m-15.1-2.9h0m-214.1 2.2h0m-.2 .2h0m-6.7-2.1h0m-1.7-.4h0m-6.5 3h0m-2.5-2.3h0m-9.2-1h0m-1.6 7.5h0m2.1-1.4h0m14.7 .3h0m246.6-.9h0m.5-1.6h0m9.2 2.6h0m58 2h0m25.1-1.4h0m2.9 .4h0m-28.2 5.2h0m-17.8-1.3h0m-.5-.8h0m-52.4 .1h0m-8.5 1.1h0m-9.9-.4h0m-2.3 .7h0m-219 2.3h0m-8.3-3.2h0m-7.3 1.9h0m-5.8 3.8h0m7.2 1h0m3.5-1.2h0m12.3 4.4h0m236.2-2.9h0m.3-1.5h0m2.2 4.9h0m8.8-4.2h0m1.7 1.1h0m11.6-1.2h0m16.2 .6h0m19.5 3.3h0m9.7-3h0m22.4-.9h0m5.4 .9h0m-6.4 5.5h0m-2.3 1h0m-38.3 1.3h0m-2.9-1.6h0m-3.2 .6h0m-12.9 1.7h0m-2.6-3.3h0m-39.6 3.5h0m-3.4 .5h0m-219.7-5h0m-1.3-.1h0m-7.4-.2h0m-.1-.1h0m-.5 2.3h0m-11.6 .5h0m-.8-2.4h0m-.4 4.3h0m-6.1 2.9h0m14.5 4h0m3.3-1.9h0m1.1 .8h0m.9-2.2h0m.2 0h0m258.4 1.3h0m6.1-.1h0m19.8-2.5h0m.6 .4h0m23.3-1h0m2.9 4.1h0m21.3 2.3h0m-21.6-1h0m-23 2h0m-4.4 1.8h0m-6.4 1.3h0m-8.6 .2h0m-3.5-4.1h0m-1.4-1h0m-5 5.2h0m-27.7-5h0m-.7 1.7h0m-4.1-.9h0m-.4 3.1h0m-223.4 .8h0m-6.6-4.1h0m-9.6-.5h0m-.7 3.3h0m5.6 6.6h0m6.1-3h0m2.2 .6h0m4.1 .9h0m2.7-.2h0m.6 .1h0m.1 2.9h0m222.7-1.5h0m.8-3h0m3.5 4.7h0m3-1.3h0m6.3-1.3h0m2.2-3.2h0m26.2 2.5h0m2.8-1.3h0m27.9 4.4h0m4.4-4.8h0m-5.3 6.2h0m-8.4 .4h0m-14.7 3.8h0m-7.5-3.4h0m-1.7 2.8h0m-1-3.8h0m-.4 5h0m-21.4-1.9h0m-1.4-1.9h0m-8.2-1.2h0m-10.4-.8h0m-222.5 3.2h0m-20.6 6.6h0m18.9-.4h0m233.7-2.1h0m7.8 1.8h0m.4 .4h0m.9-2.2h0m9.8 4.3h0m2.7 .1h0m4.4-3.7h0m21.1 1h0m20.9 2.1h0m.9-.9h0m-6.6 4.5h0m-34.2 .6h0m-8.2-2.9h0m-9.7 1.5h0m-.9 .9h0m-252 3h0m-15.3 2.2h0m8.2 3.1h0m6.9-5.1h0m.8 2.3h0m2.8 1.7h0m2.6 .4h0m.7 .7h0m229.5-3.4h0m1.2-.8h0m54.7 3.1h0m9.2-1.7h0m7.7-1.6h0m1 .2h0m-12.3 6.8h0m-29.3 2.9h0m-1.7 1h0m-9.9-5.3h0m-2.7 4.7h0m-12.1-4.9h0m-6.5 3.8h0m-.3-4h0m-2.7 .5h0m-228.2 0h0m-.9 3.4h0m-1.7-.5h0m-3.1-2.4h0m-5.5 4.9h0m-6.1-5.9h0m-1.2 1.5h0m-3 8.1h0m1 1.4h0m.9-1h0m10.5-2.3h0m.1 .5h0m2.8 3.3h0m4.1-2.2h0m231-1.7h0m0-1.3h0m.6 4.3h0m11.1 .8h0m9.3-5h0m0-.2h0m9.3 4.2h0m2.5-1.3h0m.1-.9h0m1-.2h0m8.2 3.4h0m1 .2h0m1.6-.5h0m15.9-.4h0m-57.9 1.4h0m-224.4 2.5h0m-10.4-1.8h0m-7.9 4.4h0m-4-2.1h0m-1.6-2.9h0m3.4 10.4h0m259.8-1.5h0m7 .2h0m1-1.9h0m25.3 4h0m.3 1.8h0m-290.7 4.2h0m-15.9 6.1h0m11.4-2.4h0m2.1 2.7h0m20.3-1.5h0m9.5 1.4h0m1.3-2.3h0m238.2-1.5h0m7.1 4.2h0m-2.2 3.1h0m-28.5-.5h0m-259.3-.5h0m6.3 5.6h0m252.8 1h0m51.9 .4h0m-12.3 8.1h0m19.4 10.5h0m-.4-1.2h0m-15.1 8.5h0m6.7 1h0m-8.8 8.4h0m2-.4h0m5.7 1.9h0m1.9 1.6h0m11.3-1.9h0m1.8 7.9h0m-5.8-1.3h0m-171.9-1.3h0m-24.2-.1h0m226.5 9.3h0m-1.5 0h0m-13.9 6.3h0m1.7 1.3h0m.4-1.6h0m9.7 1h0m11.6 3h0m-181.9 11.5h0m-31 76h0m-2.1 2.4h0m2.5 13h0m-.3-4.9h0m-.5 0h0m-3.3 10.5h0m-6 3.7h0m-1.3 1.9h0m-.3 1.4h0m-1.5-1h0m-.1 1.1h0m-9.1-3.6h0m2.3 4.8h0m.5-.3h0m12 2.9h0m-7.1 5.4h0m-8.3-.5h0m-.4 3.3h0m-.6-5.1h0m-1.9-.5h0m9.4 12h0m-1.3 2.7h0m-1.5-.6h0m-1.8 2.2h0m-7.9 6.6h0m5.4-5.1h0m58.9 5.9h0m9.4-5.5h0m-3.7 9.8h0m-10.9 1.3h0m-4.9-5.2h0m-54 1.1h0m59.4 7.8h0m15.9-1h0m4.6 1.8h0m.5 .4h0m-9.3 4.7h0m-10.6-2.7h0m-2.6-.4h0m6.7 7.7h0m2.2 1.3h0m.3-.8h0m.7 1h0" stroke="#fff" stroke-width="1.2" stroke-linecap="round" fill="none"/>
<path d="M959.3 83.7h0m-13.2-4.3h0m-6.7 7.1h0m20.7 6h0m-3-1.6h0m-21.6 8.8h0m2.2 1h0m.5-.1h0m1.5-3.1h0m1.3 .5h0m7.8-.1h0m12.4-1.2h0m1.4 1.1h0m-23.8 4.5h0m-7.1 2.6h0m-3.2 .4h0m-1.5 5.7h0m5-2.5h0m.8 5h0m8.2-2.4h0m15.5 .3h0m-2 7.6h0m-1.8-2.5h0m-.6-.9h0m-.6 1.5h0m-26.6 .5h0m-.7-2h0m5 6.5h0m20.2 .9h0m.3 2.2h0m.8-4.7h0m3.6 6.9h0m-6.7-1.2h0m-32.3 7.5h0m5.6 1.4h0m1.7 1.1h0m11.6 1.4h0m4-5.2h0m.8 2.1h0m.1-2.2h0m4.8 2.6h0m4 4.6h0m-10.4 3h0m-1.6-3.4h0m-3.3 1.7h0m-8.4-1.4h0m-.6-1.4h0m-.3 0h0m-3.6 .4h0m-17.4 7.1h0m30 1.6h0m2.2-.6h0m3-1.1h0m5.8 3.4h0m.4-.9h0m.1-1.5h0m1.9 2.9h0m.3-1.4h0m.4-2.9h0m.1 3.8h0m1.3 .7h0m153.7-4.1h0m4.4 1.4h0m1.8-.4h0m3 .4h0m-165.9 3.5h0m-4.4 0h0m-15.1 8.6h0m1.2 .3h0m13.4 .9h0m1.3 .7h0m173.8 2.8h0m-5.2 2.2h0m-175.7-2.4h0m-10.3 3.3h0m-13.2-3.9h0m24.8 5.4h0m32.8 5.1h0m126.5-5.3h0m3.7 2.1h0m6.7 7.3h0m0-.5h0m-165.8 3h0m-30.4-3.5h0m28.7 4.3h0m174.8 2h0m-5.8 10.2h0m-7.1 6.5h0m12.8 8.7h0m-11.1 12.8h0m29.6-4.4h0m-1.1 8h0m-13.2 1.7h0m-16.4 0h0m-.6 .1h0m12.9 3.6h0m5.6-1.8h0m.3-.1h0m.1 .4h0m5 9.6h0m-.8-1.1h0m-10.4-1.7h0m-8.3-1h0m-1.2 1.4h0m3.7 9.4h0m10.7-.8h0m8.9-1.6h0m5.7 5.8h0m-4.4-1.7h0m-.1 2.6h0m-23.1-2.3h0m5 10.4h0m18.2 0h0m31.6-.6h0m-31.3 1.3h0m-6.7 4.5h0m-1.7-4.5h0m-13.4 9.4h0m3.8 .5h0m9.6-.5h0m23.6 .3h0m1.4-1.6h0m21.5 6.7h0m-45.9-2.9h0m-2.5 .6h0m-10.7 4.3h0m2.9 5.4h0m32.6-3.5h0m29.3 10.6h0m-.2-1.3h0m-11.3-.8h0m-.3-.3h0m-.2 1.2h0m-3.9-.6h0m-55.1 1.3h0m-4.1-2.2h0m38.9 7.4h0m13.2-.3h0m.4 1.6h0m35.5 6.3h0m-13.9-1h0m-16.3-4h0m-4.2 2.5h0m-.3-2.7h0m-.8-.4h0m-.1 3.6h0m-1.8-.4h0m-1.8 8.5h0m21.3-2.5h0m24.9-1h0m11.7 8.3h0m-58.7-1.5h0m-34.5-.8h0m-1.8-.7h0m-142.4 9h0m141.9 .8h0m2.2 .1h0m17.8-3.9h0m24 .4h0m3.7-1.1h0m1.4-.9h0m41.9 3.3h0m2.1 4.5h0m-31.5-1.4h0m-.7-.1h0m-25.5 5.6h0m-7.1-2.4h0m-16.6-3.2h0m-6.7 2.8h0m-.6-1.2h0m-250.4 .7h0m-2.2-1.4h0m1.3 10.2h0m8.1 .4h0m230.9-5.3h0m6.8 1.1h0m39.7 3.6h0m2.2-1.8h0m6.9-.6h0m15.5 6.5h0m-43.3-2.2h0m-.8 1.1h0m-.2 1.7h0m-3.8-3.4h0m-15.3 4.7h0m-1.6-4.2h0m-2.5-.7h0m-5.2 .4h0m-216.5 2.1h0m-2.1-2.8h0m0 5.2h0m-1-2.7h0m-9.9 1.2h0m-6.6-2.5h0m-.8-.7h0m-.3 .4h0m-.6 .7h0m-2.6 10h0m1.6-3.7h0m.9 4h0m6-3h0m4.3 1.5h0m1.6-3.1h0m3-.2h0m2.4 4.4h0m222.3-.1h0m15.5-3.2h0m5 2.1h0m12.2-2.8h0m10.1-.2h0m.5 1.4h0m64.5-.8h0m.1 .7h0m-8.1 5.9h0m-74 2.4h0m-12.5-3.9h0m-246.1 7.5h0m1.4-2.5h0m2.9 4.1h0m4.6 1.8h0m7.9-2.6h0m1.7 1.5h0m223.5-3.4h0m2.8-1.4h0m5.7 1.5h0m.5-.1h0m2.2 .3h0m1-1.5h0m4.8 2.4h0m18-.9h0m2.9 2.4h0m10.8-2.4h0m32.9-.2h0m-40.7 6.8h0m0 .6h0m-2 2.2h0m-4.8-.1h0m-1.7-1.4h0m-5.7 2.3h0m-.4-3.7h0m-272.8 2.9h0m-3.2 2.7h0m2.1-1.6h0m4 1.6h0m5.5 1.4h0m2.5-.6h0m1.7 1.2h0m224.9 1.9h0m13.6-1.4h0m21.8-.5h0m.7 .4h0m35.7 1.3h0m34.6 0h0m1.6-.1h0m-35 2.6h0m-1.8-1.6h0m-1.6 1.6h0m-18.6 3.4h0m-8.2-3h0m-1.8-1.7h0m-13.4 4.2h0m-5.4 .1h0m-4.2-.3h0m-14-2.5h0m-223.9 3.7h0m-11.8-3.5h0m-.5 .8h0m-5.1 5.1h0m15.6-.5h0m222-1.5h0m6.9 1.4h0m.7-1.3h0m5.1 3.7h0m5.3-.9h0m.1-2.8h0m33.1 1.3h0m2.9-.3h0m19 6.9h0m-16.9 .8h0m-8.1 .4h0m-1.9-.6h0m-2.6 .7h0m-5.2 1.8h0m-12.6-1.6h0m-10.5-1.2h0m-3.1 3.2h0m-248.4-2.3h0m15.2 5h0m.9-.9h0m1.1 .8h0m232.6-1.4h0m9.4 3.4h0m4.3 .1h0m2.7-1.6h0m.3-1.5h0m3.6 1.4h0m22.9 1.4h0m24.7 6.2h0m-6.1 1.1h0m-.5-1.8h0m-1.7 .1h0m-1.6 1.8h0m-7.5-4.8h0m-21.2 4.3h0m-14.4 .4h0m-7.4-.2h0m-244.7-3.5h0m-1.4 .4h0m-1.4-.8h0m-7.6 3.7h0m-5.7-4.8h0m-5.6 4.8h0m-1.5 4.2h0m7.8 2.5h0m.9-1.7h0m2.8-2.4h0m7.4-.4h0m3.9 .1h0m250.1 4.4h0m26.6-1.5h0m21.5-3.8h0m8.8 0h0m-44.5 9.4h0m-11.7-.8h0m-3.9 1.8h0m-11.2-4.7h0m-10.7 2.9h0m-.3-.2h0m-215.1-1.3h0m-16.3 1.6h0m-2.7 1.9h0m-3.9 0h0m-7.4-1.1h0m-.6 7.9h0m3.2-.6h0m11.4-2.4h0m3.6 1.1h0m.4 1.7h0m8.3-3.8h0m3.1 2.5h0m252.2-2.2h0m11.4 2.9h0m10.8-2.5h0m.6 1.9h0m2.5-.3h0m3.5 1.6h0m6.6-4.9h0m-19.3 5.8h0m-5.1 .9h0m-3.9-1.1h0m-261 2.5h0m-10.1-1.5h0m-4.2 1.3h0m-1.9-1.9h0m-14.8-.9h0m10.3 8.9h0m4.3-1.5h0m8.2 2.2h0m5.2 .9h0m256.1-1.1h0m24.6 1.9h0m1.2 2h0m-298.1 3h0m-1.8 .3h0m-2 7h0m20.1-2.5h0m3.6-1.5h0m5.8 2.9h0m.5-1.7h0m242.6-1h0m-28.1 13.5h0m39.2-1h0m14 2.3h0m.3-3.1h0m-9.7 5.7h0m-10.8 .9h0m-.7-1.3h0m-283.7 4.3h0m-.5 4.3h0m303.3 2.3h0m-9.9 4h0m16.7 3.5h0m-196 6.8h0m183.8 7.6h0m38.1 7.6h0m-17.1-2.7h0m-184.9 2.3h0m180.4 2.2h0m25.1 23.4h0m5.5 6.5h0m-207.5 81.4h0m-1.9 7.5h0m-1.4-1.4h0m-3.6-.6h0m-3.8 .6h0m-1.3 .9h0m-2.4-1.1h0m4.4 9.8h0m-14.8 7.1h0m6-.6h0m0-.7h0m.2 1.2h0m6.8-2.7h0m3 5.5h0m.2-1.3h0m1-1.1h0m-4.3 3.3h0m-4.4 4h0m-3.9-2.8h0m-2.2-.8h0m-.6 5h0m6.2 6.1h0m-17.3 6.8h0m54.5 .1h0m1.3 2.2h0m6.6-.2h0m14.2 .1h0m1.4-1.9h0m.8 3.5h0m.2-2.7h0m1.4-.1h0m.3 .9h0m9.3 .7h0m-8.7 6.6h0m-.5-.3h0m-9.2-.5h0m-12.9-.3h0m-2.3 .8h0m10.4 7.7h0m2.6-1.6h0m1.6-4h0m4.6 3.1h0m.9-.2h0m1.9-.1h0m1.8 7.2h0m-4.7-2.8h0m-4.7 6.3h0m.9 1.2h0" stroke="#fff" stroke-width="1.7" stroke-linecap="round" fill="none"/>
<path d="M955.9 82.9h0m-12.1-2.9h0m13.1 5.5h0m2.9 3.9h0m.1 .5h0m-21.5 3.3h0m-2.6 5.3h0m.2 2.7h0m1.5-.8h0m19.6 5.5h0m-20.1-3h0m-.2 .4h0m-7.6 2.8h0m-1.8-.1h0m-3.2-2.2h0m-6.5 8h0m4.1 1.7h0m6.5-.5h0m4.2-1h0m.8 1h0m1.4-1.5h0m23.7 2.2h0m-3.8 5.3h0m-5.1-3.7h0m-1.8 .1h0m-1.2-.6h0m-13.3 2.3h0m-.6 1.4h0m-2.4 4.1h0m23.6-.4h0m-37.6 11.6h0m1-.7h0m1.3 3.5h0m4.6 1.3h0m1.4-1.9h0m7.8-1.5h0m1.7 .5h0m0 2h0m2.2 .9h0m1.7-1h0m1.7-3h0m6.4-1h0m2.4 1.5h0m.5 5.7h0m0 .9h0m-14.2-2.7h0m-.4 4.3h0m-7.7-1.7h0m-2.5-1.2h0m-.8-.5h0m-.3-.7h0m-2.7 3.7h0m-1.9-1.9h0m-3.2-1.7h0m-.2 1.6h0m-1.1-.1h0m-13.6 6.5h0m41.3 2.1h0m3.3-2.7h0m-4.8 4.3h0m-.6 9.1h0m1.1 2.1h0m168.1-1.8h0m4.6 1.9h0m4.5 5.3h0m-178.7-2.9h0m-19.9-1.6h0m-12 3.7h0m209.8 2.5h0m2.4-.6h0m.2 6.8h0m-134 5.1h0m116 1.1h0m.6 6.2h0m-1.4 1.4h0m-3-1.7h0m-122.8 .3h0m133.8 14.3h0m-5.4 5.7h0m10.7 2.5h0m8.2 6.1h0m-14.4-5.1h0m-.3-.4h0m-12.4 6.8h0m.7 .1h0m25.2-1.1h0m.2 .4h0m-.6 8.9h0m-8.2 .2h0m-2.9 3.6h0m12.2 .9h0m13.4 4.6h0m-24.2 .7h0m6.4 6.7h0m12.4 6.5h0m-2.5 .1h0m-1.1-.6h0m-12.5-.2h0m-8 5.5h0m3.1 4h0m9.7 0h0m4.6-4h0m2.8 4h0m16-2.7h0m1 .2h0m4.1 .7h0m14.4 7.3h0m-15.4 .8h0m-34.3-3.5h0m-1.1 1.1h0m-1.1-1.4h0m-3.9-.7h0m14.8 9.4h0m.3 .1h0m26.8-4.6h0m-42.6 7.8h0m8.4 5h0m35.6 10.2h0m-35.7-1.2h0m-.8-.9h0m-12.6 1.2h0m-.5-2.6h0m-5.8-1h0m85.1 8.8h0m22.8 3.1h0m-1.9 .8h0m-32.8 2.5h0m-2-.4h0m-15.9 1.6h0m-2.5 .6h0m-10.9-1.7h0m-2.3 .3h0m-8.6-1.4h0m-27.1 3.2h0m1.1 2.4h0m68.6-1.7h0m32.9 11h0m-48-1.9h0m-39.4-2.4h0m-2.3-1.3h0m-.2 1.6h0m-118.6 3.8h0m-136.4 4h0m114.1-.9h0m22.2-2.3h0m158.1 4.6h0m29-4.3h0m22.6 4.7h0m4.8-1.6h0m.1-.1h0m1.7-1.1h0m-7.1 5.8h0m-50.9 0h0m-16 2.3h0m-16.6-2.5h0m-6.4 3h0m-.2-2.6h0m-.3 2.9h0m-2.8-3.9h0m-1.7 3.6h0m-2.8-.9h0m-214.5-2.7h0m-2.5 .8h0m-40.7-.1h0m23.1 8.9h0m1-1.1h0m11.2 .7h0m225.8-4.5h0m48.4 2.6h0m1.9 .7h0m-56.3 6.2h0m-223.7 1.9h0m-7.8-2.9h0m-7.8-.9h0m-4.5 8.7h0m3-3.5h0m4.6 3.7h0m3.4-2.9h0m4.4 1.4h0m7 1.3h0m236.5 .4h0m6.6-1.6h0m18.6-1.7h0m5.3-.6h0m62.8 3h0m6.5-3.6h0m-13.4 8.5h0m-12.5-.4h0m-.4-1.6h0m-15-.2h0m-13.9 .7h0m-30.3 1.8h0m-3.5-2.9h0m-14 1.1h0m-2.2 4.5h0m-237.8-4.7h0m-1-1.1h0m-10.8 1.5h0m-.2-1.2h0m-.1 .5h0m4 9.9h0m.9-2.7h0m2.2-.2h0m.1-.5h0m.7 .1h0m.3 .1h0m14.1 2.1h0m1.5 1.8h0m235.5-4.6h0m.1 1.4h0m8.7-1.4h0m11.9 1.8h0m3.6-2h0m.6 1.7h0m3.3 .1h0m30 3h0m8.1-1.1h0m5.4 .5h0m17.5-.3h0m-44.2 5.3h0m-.7-1.6h0m-.2 .6h0m-26.7-.4h0m-11.2 2.9h0m-246.3-5.3h0m-2.6 1.1h0m-4.6 3.1h0m-1.5 .4h0m-4-3.4h0m-3.4 3.5h0m-2.4 5.9h0m10.3-1.1h0m3.4 1.6h0m1.8-2.4h0m1.4 1.5h0m231.7 1.2h0m2.6-2.9h0m1.3 1.4h0m.8-2.5h0m3.4 3.3h0m2.9 .9h0m.3-.1h0m6.5-5h0m4.1 3.8h0m6.4-2.2h0m.2 2h0m14.2-2.3h0m33.4 1.8h0m.5 2.9h0m-21-.4h0m-13.8 2.4h0m-12.3 1.4h0m-3.7 1.5h0m-11.5-.9h0m-2.9-4.2h0m-14.3 1.2h0m-1.9 2.9h0m-.7-.6h0m-.9-1.9h0m-5.1 1.8h0m-217.9 2.1h0m-6.6-5.5h0m-13.8 1.7h0m2.4 6h0m.6 1h0m18.1-.1h0m219.5-2.7h0m12.3 5.3h0m.1-1.5h0m2 1.3h0m2.7-2.5h0m23.2-2.4h0m8.2 2.2h0m3-2.6h0m26.7 6.4h0m-22.4 4h0m-10-2.2h0m-18.4 1.8h0m-7.2 1.5h0m-17.2-4h0m-223.3-.6h0m-5.6 4.4h0m1.9 2.9h0m3.6-.2h0m221 .4h0m10.6-.9h0m21.2 1.5h0m.2 2.8h0m2.2-.8h0m2.5-4.3h0m2.1-.7h0m3.5 .1h0m16.2 2.7h0m5.3-2.4h0m.1 .6h0m7.8 7.2h0m-.8-.8h0m-1.5 2h0m-5.8-3.1h0m-19 2.7h0m-.9 .3h0m-2.8 .7h0m-1 .6h0m-7.7-.3h0m0-4.1h0m-3.5 5.1h0m-12.4-4.5h0m-14.1 .6h0m-227.2-.4h0m-.9 .2h0m-6.9 4.2h0m-13.9 .2h0m13.3 4.3h0m1.5 1.6h0m4.3-.7h0m.1-3.4h0m2.2-.2h0m0 .1h0m226.8 4.3h0m15.7-1.8h0m10.9-3.8h0m.1 1.8h0m1 2h0m21.3-2.7h0m6.1 4.3h0m.7-.4h0m11.2-2.2h0m1.9-1.8h0m.4 .8h0m9.4 1h0m-14.1 5.7h0m-16.6 2.8h0m-18.8-3.1h0m-5.1 .4h0m-2.1-.8h0m-7.9-1.3h0m-12.6-.1h0m-218.2 2.9h0m-1.3-.5h0m-9.4 .4h0m-.7-3h0m-1.6 2h0m-1 3h0m-7.7-1.7h0m-12.5-2.3h0m-.2 9.8h0m12.1-2.1h0m18.9 2.1h0m2.8 .2h0m.4 .6h0m219.7-.2h0m29.8-2.3h0m10.7 2.4h0m29.7-5.3h0m-23 7.3h0m-51.1-1.6h0m-221.1 4.3h0m-6.5-.6h0m0 0h0m-5.3 1h0m-2.2-4h0m1.8 5.9h0m7.7 .5h0m229.2 1.6h0m15.6-.9h0m8.4-.8h0m23.9 4h0m9.6 1.2h0m-299 10.4h0m18.5 .2h0m6.9 .3h0m242-3.7h0m5.9 5.6h0m-.9 1.7h0m-29.6-.9h0m-216.8-1.2h0m-31-.4h0m-13 3.4h0m35.3 5.9h0m279.3-1.3h0m-17.9 9.2h0m23.9 10.4h0m-25.1-3.3h0m-174.3 14.5h0m175.6 4h0m.5 .7h0m5.2-.2h0m1-.4h0m1 1.3h0m20.7 .5h0m-5.6 6.4h0m-197.2 .8h0m22.1 3.5h0m7.3-.1h0m1 1.4h0m192.4 5.7h0m-8.6 5.7h0m9.7-1.5h0m11.3 2.7h0m-18.8 10.5h0m-202.1 97.9h0m6.5-2.8h0m2.2-.6h0m-7.3 5.8h0m-11.4 2h0m-2.1 3.9h0m.1 2.9h0m2.4 1.2h0m-7 4.1h0m7.2 5.3h0m65.1-.5h0m4.9 6.9h0m-3.3 3.3h0m-64.9-3.9h0m14.6 7.5h0m28.3 .1h0m19.3 .3h0m2.7 5.2h0m-4.6-2.8h0m-6 1.6h0m-7.2 4.3h0m-5.4 4.5h0m15.5-2.5h0m3.6 .2h0m5.5 .1h0m-6.6 4h0m-10.8 .9h0m-1.8-.7h0m-1.8 .8h0m7.6 5.5h0m4.5 1.6h0" stroke="#fff" stroke-width="2.1" stroke-linecap="round" fill="none"/>
<path d="M944 77.4h0m2 2.3h0m-3 15.7h0m-.2-3h0m-2.1 2.1h0m-3.4-3.3h0m-.6 8.5h0m5.6 1.6h0m1.2-2.4h0m3.7 0h0m13.5-1.1h0m-13.8 7.1h0m-5.5-2h0m-1.3 4.6h0m-5.1-1.3h0m-4-.2h0m-2.3 .9h0m5 4.5h0m17.1 1.2h0m3.3-3.2h0m3.9 2.6h0m-1.1 2.7h0m0-.3h0m-4.5 2h0m-6.3-1.3h0m-1.1 .4h0m-11.1 2h0m-15-3.5h0m-1 .1h0m5.1 6.9h0m11.5 4.3h0m10 .3h0m4.2-3.5h0m.1 2.5h0m6.3-4.4h0m-33.5 17.3h0m15.9-3.2h0m13.3 .7h0m-4.1 5.7h0m-2.2 .8h0m-.6 2.2h0m-2.8-5.7h0m-1.5 .3h0m-.1 1.3h0m-2 4.1h0m-1-4.6h0m-.2-.6h0m-1.1-.1h0m-2.6 1.7h0m-1.2 .8h0m-6.9-.5h0m-.3 .4h0m-2 .2h0m-3.9-2.9h0m-.2 .3h0m-13.3 1.5h0m9.7 7.8h0m20.7-1.8h0m.8-.2h0m1.3-.1h0m4.5 1.8h0m3.9 .6h0m153.4-3.2h0m-156.5 6.4h0m-2.5-.2h0m-26 4.7h0m-.2 2.4h0m27 2h0m166.4 7h0m-170.3-3.3h0m-1.4 4h0m-.4-1.1h0m-1.4-1.7h0m-13.7-1.7h0m-1.2-.2h0m-8.8 3.5h0m-1.5-.2h0m59 7h0m16.5-4.2h0m110.3 1h0m23.7-2.2h0m1.5 .1h0m-13.2 9.5h0m-195-2.5h0m191.3 6.8h0m-4.3 5.8h0m-172.5 8h0m181.3-2.1h0m.2 1.4h0m.6-2.5h0m2.3 3.3h0m-5.2 12.5h0m6.1-2.7h0m1.6 2.7h0m6.4-1.4h0m-2.4 4.2h0m-20 8.7h0m5.6 1.8h0m.6-1.7h0m8.2 1.6h0m.9-.7h0m6.8 .4h0m.2 .6h0m3.8-5.7h0m1.2 0h0m-3 10h0m-.5-1.2h0m-1.4-.4h0m0 1.4h0m-.7 .7h0m-3.7-1.4h0m-1.9-1h0m-5.2 5.6h0m1.4 1.2h0m3-2.6h0m7.9 10h0m-22.2 7.4h0m6.4-.5h0m12.6-2.2h0m4.2 4.6h0m-.1-.3h0m-18.5 .2h0m7.1 9.4h0m9-1h0m1.5 0h0m2.2 .5h0m24.4-.5h0m9.5-2.8h0m-12.3 5.2h0m-17.7 .3h0m-7.2 2.9h0m-3.5 7.4h0m1.9-2.3h0m.4-2.3h0m.2 2.8h0m1.3 .1h0m28 .2h0m17.2 8h0m-3.5-.4h0m-48.8-.3h0m-6.6-1.7h0m55.7 7.6h0m.7-3.3h0m9.6 8.9h0m-1.2 .7h0m-1-1.5h0m-.8-.4h0m-10.4-1.3h0m-41.9-.7h0m-.5 .7h0m-5.3 2.2h0m-10.3-1.9h0m-5.5-1.7h0m36.9 7.2h0m3.8 .6h0m7.4 1.6h0m6.6-1.2h0m28.2-.7h0m7.3 8.9h0m-.5 .4h0m-.6-.9h0m-28.6-1.8h0m-.7-.9h0m-28.3 3.1h0m-7.9-1.9h0m-16.4 .8h0m-129.2 5.9h0m120.9-3.1h0m17.1 5h0m32.9-.1h0m3.7-1.9h0m1.8 1.7h0m1.5-1.2h0m41.2-1.7h0m.4-1.4h0m10.9 10.2h0m-45.7 .6h0m-4.7-4.1h0m-7.7-1.1h0m-1.8 2.9h0m-34.4-2.3h0m-5.8 3.4h0m-142.2 .8h0m152 4.7h0m23-.8h0m7.8 1.6h0m27.2 1.2h0m36.1-3.1h0m.6-.6h0m.3 6.2h0m-1.3 .9h0m-4.1-1.8h0m-.4 1.3h0m-32.7-2.4h0m-19 3.7h0m-36.5-.8h0m-2.6-.9h0m-1.7-2.2h0m-6.6 4.8h0m-.2-1h0m-1.5 1.5h0m-225.5-3.4h0m-3 3.3h0m-11.5-3.1h0m-.9-1h0m-12.2 1h0m32.3 9.6h0m218.8-.9h0m2-4.9h0m4.4 1.3h0m19-.1h0m23.5 1.2h0m49.3-.6h0m-16.6 6.6h0m-1 .6h0m-8.8 1.4h0m-36.3-.7h0m-.4-2.7h0m-32.2 .6h0m-213.8 3.5h0m-7.9-3.4h0m-.8-.3h0m-3.1 4.4h0m-5.1-5.6h0m-9.7 1.9h0m-3.5 8.5h0m3.1-3.6h0m2.1 2.4h0m4.6 1h0m1.7-.7h0m2.1-2.5h0m235.9 .7h0m10.7 0h0m.7 2.6h0m24.3-4.3h0m5.3 3.2h0m24.3 1.4h0m34.3-2.7h0m-5.7 7.1h0m-7.4-1.7h0m-6.9 1.2h0m-27.7-1.7h0m-1.3 .6h0m-28-.4h0m-2.1 .3h0m-5.4 .2h0m-9.4-.8h0m-.9-.2h0m-1.6-.1h0m-246.7 1.2h0m-8.3 1.5h0m8.3 5.1h0m245.8-.1h0m15.2-1.9h0m14.8 2.3h0m49.7 .7h0m1.3 .7h0m24.1-1.4h0m-38.3 4.7h0m-11.1-1.1h0m-4.4 5.3h0m-10.4-1.7h0m-14.2 1.1h0m-9.7 .2h0m-244-3h0m-25.8 3.6h0m-.5 1.8h0m13.6 3.6h0m2.4-1.1h0m1.1 1.1h0m231.2-.8h0m21-3.9h0m7.2 2.5h0m3.8-.9h0m26.5 5.1h0m-20.9-.1h0m-.9 2.4h0m-.3-2.3h0m-14.9 2.7h0m-8-3.7h0m-.1 1.3h0m-2.3-1.5h0m-6 1.8h0m-1.3 3.9h0m-2.4-4.7h0m-3.8-.3h0m-.9-.2h0m-1.7 3.4h0m-219 .4h0m-3.2 .7h0m-9.4-4.6h0m-1.6 2.9h0m-4.6 6.8h0m4.5-.3h0m.6 .4h0m7.1-1.6h0m5.1-2.2h0m.5 .4h0m1.2 .5h0m219 1h0m19.6-1h0m1 2.2h0m2-2.7h0m25.9 1.3h0m27-.2h0m1 .8h0m2.4 2.4h0m3.6-2.8h0m.7 1.5h0m.6-2.5h0m.5-.8h0m-7 8.4h0m-2.2-.3h0m-.9 .2h0m-17.1 1.6h0m-10 .8h0m-2.9-.4h0m-266.2-3.1h0m-1.2 2.7h0m-17.7 .6h0m.1 4h0m4.7-.2h0m.3 2.9h0m11.1-3h0m4.1-.4h0m.8 .4h0m.7-.6h0m220.5-.3h0m26.1 1.9h0m44.6 1.2h0m2 4.7h0m-2-2.6h0m-.2 .6h0m-27.8 2h0m-272.2 2.2h0m-13.6-1.2h0m-.9 .1h0m-.3 2.6h0m3.4 3.1h0m7.6 .3h0m4.4-.3h0m.4-2.5h0m.2-.5h0m228.8 4.4h0m2.6-.4h0m1.9-2.1h0m.5-1.6h0m10.7 .6h0m4.9 2h0m9.4 .2h0m2.4-3.3h0m34.4 1.1h0m1.1-2.1h0m4.2 .5h0m3.6 2.3h0m2.5 .8h0m1.1-2.3h0m-14.4 7.6h0m-.5-1.1h0m-1-1.5h0m-28 5.3h0m-6.4-1.9h0m-4.9-2.8h0m-.3 .5h0m-1 1.8h0m-21.4-1.5h0m-.7 2.6h0m-216.7-.9h0m-16.4-2.9h0m-.8 .2h0m-10.2 3.5h0m-.8-1.5h0m-5.1 7.1h0m17.9-.6h0m.9 2.4h0m7.8-5.1h0m2.1 .2h0m222.5 4.6h0m32-2.8h0m.8 .4h0m8-.5h0m1.9-.1h0m10.6-1.1h0m4 1h0m3.2 3.3h0m-10.3 3.1h0m-10.2-1.5h0m-267.2 1h0m-1.2 1.6h0m-1.9 .3h0m-6.4-.8h0m-5.6 5.1h0m1.4 .9h0m245.2 1.9h0m2.3-1h0m18.1 .2h0m8.6-1.2h0m15.2 5.2h0m-295.8 4.8h0m9.7 2.6h0m19.3-3.1h0m5.4 2.7h0m214.7 2h0m26.1-3.6h0m-286.1 6.9h0m8.8 6.3h0m291.1 5.6h0m-294 2.1h0m1.9 1.8h0m310.9 8.3h0m3.9 5.3h0m4.4 6.7h0m-30.3 1.8h0m-175.4 .7h0m2 8.8h0m-1.3 2.3h0m22.2 3.8h0m9.3 1.3h0m185.7 5.2h0m-165.7 19h0m-27.3 86.5h0m-15.2 3.5h0m9 3.3h0m-2.1 9.9h0m-10.8-3.5h0m-4.5 4.6h0m2 .9h0m.7 1.2h0m10.4 3h0m0-1.9h0m-12.2 4.6h0m1.6 14.8h0m-14.1 5.8h0m39.5-4.5h0m36.4 4.2h0m2.2-3.4h0m9.2 3.4h0m1.6-1.8h0m.3 0h0m-7.8 5.9h0m-2.1-1.6h0m-5.3 4.7h0m-3.6-.9h0m-3.8-1.4h0m-1.1 .2h0m-7.7 2.5h0m-56.9-5.5h0m62.9 5.6h0m.2 5.7h0m.6-.8h0m7.5-.7h0m15.1-1.5h0m-7.6 3.9h0m-5.4 1h0m-7.3 4h0m4 2.9h0" stroke="#fff" stroke-width="2.5" stroke-linecap="round" fill="none"/>
<path d="M979.2 433.2h0" stroke="#619CFF" stroke-width="3" stroke-linecap="round" fill="none"/>
<path d="M1012.6 569.4h0" stroke="#F8766D" stroke-width="2.4" stroke-linecap="round" fill="none"/>
<line x1="807.5" y1="38.6" x2="807.5" y2="753.2" stroke="#000" stroke-width="1.07" stroke-linecap="butt"/>
<line x1="807" y1="752.7" x2="1249.9" y2="752.7" stroke="#000" stroke-width="1.07" stroke-linecap="butt"/>
<line x1="800.3" y1="102.6" x2="807.5" y2="102.6" stroke="#000" stroke-width="1.07" stroke-linecap="butt"/>
<text transform="translate(793.9,111.1) scale(1,1.05)" font-size="23.7" text-anchor="end" fill="#000">10</text>
<line x1="800.3" y1="226.9" x2="807.5" y2="226.9" stroke="#000" stroke-width="1.07" stroke-linecap="butt"/>
<text transform="translate(793.9,235.4) scale(1,1.05)" font-size="23.7" text-anchor="end" fill="#000">5</text>
<line x1="800.3" y1="351.2" x2="807.5" y2="351.2" stroke="#000" stroke-width="1.07" stroke-linecap="butt"/>
<text transform="translate(793.9,359.7) scale(1,1.05)" font-size="23.7" text-anchor="end" fill="#000">0</text>
<line x1="800.3" y1="475.5" x2="807.5" y2="475.5" stroke="#000" stroke-width="1.07" stroke-linecap="butt"/>
<text transform="translate(793.9,484) scale(1,1.05)" font-size="23.7" text-anchor="end" fill="#000">−5</text>
<line x1="800.3" y1="599.8" x2="807.5" y2="599.8" stroke="#000" stroke-width="1.07" stroke-linecap="butt"/>
<text transform="translate(793.9,608.3) scale(1,1.05)" font-size="23.7" text-anchor="end" fill="#000">−10</text>
<line x1="800.3" y1="724.2" x2="807.5" y2="724.2" stroke="#000" stroke-width="1.07" stroke-linecap="butt"/>
<text transform="translate(793.9,732.7) scale(1,1.05)" font-size="23.7" text-anchor="end" fill="#000">−15</text>
<line x1="882.1" y1="752.7" x2="882.1" y2="760" stroke="#000" stroke-width="1.07" stroke-linecap="butt"/>
<text transform="translate(882.1,784.2) scale(1,1.05)" font-size="23.7" text-anchor="middle" fill="#000">−10</text>
<line x1="971.9" y1="752.7" x2="971.9" y2="760" stroke="#000" stroke-width="1.07" stroke-linecap="butt"/>
<text transform="translate(971.9,784.2) scale(1,1.05)" font-size="23.7" text-anchor="middle" fill="#000">−5</text>
<line x1="1061.7" y1="752.7" x2="1061.7" y2="760" stroke="#000" stroke-width="1.07" stroke-linecap="butt"/>
<text transform="translate(1061.7,784.2) scale(1,1.05)" font-size="23.7" text-anchor="middle" fill="#000">0</text>
<line x1="1151.5" y1="752.7" x2="1151.5" y2="760" stroke="#000" stroke-width="1.07" stroke-linecap="butt"/>
<text transform="translate(1151.5,784.2) scale(1,1.05)" font-size="23.7" text-anchor="middle" fill="#000">5</text>
<line x1="1241.3" y1="752.7" x2="1241.3" y2="760" stroke="#000" stroke-width="1.07" stroke-linecap="butt"/>
<text transform="translate(1241.3,784.2) scale(1,1.05)" font-size="23.7" text-anchor="middle" fill="#000">10</text>
<text transform="translate(1028.2,816.8) scale(1,1.05)" font-size="27.7" text-anchor="middle" fill="#000">UMAP_1</text>
<text transform="translate(740.2,395.7) rotate(-90) scale(1,1.05)" font-size="27.7" text-anchor="middle">UMAP_2</text>
<text transform="translate(851.6,315.5) scale(1,1.05)" font-size="21.9" text-anchor="start" fill="#000">stromal</text>
<text transform="translate(1093.5,346.4) scale(1,1.05)" font-size="21.9" text-anchor="start" fill="#000">immune</text>
<text transform="translate(946.6,493.5) scale(1,1.05)" font-size="21.9" text-anchor="start" fill="#000">epithelial</text>
<circle cx="1293.5" cy="371.9" r="7.8" fill="#F8766D"/>
<text transform="translate(1323.9,380.7) scale(1,1.05)" font-size="23.7" text-anchor="start" fill="#000">epithelial</text>
<circle cx="1293.5" cy="403.1" r="7.8" fill="#00BA38"/>
<text transform="translate(1323.9,411.9) scale(1,1.05)" font-size="23.7" text-anchor="start" fill="#000">immune</text>
<circle cx="1293.5" cy="434.4" r="7.8" fill="#619CFF"/>
<text transform="translate(1323.9,443.2) scale(1,1.05)" font-size="23.7" text-anchor="start" fill="#000">stromal</text>
<text x="733" y="24.4" font-size="30" text-anchor="start" fill="#000" font-weight="bold">B</text>
</g>
<g id="panelC">
<path d="M145.2 961.3L144.1 961.5L142.9 962.1L141.6 963.2L141.5 963.3L139.5 964.7L139.5 964.7L137 966.2L135.7 967.7L135.2 969.3L135.2 969.4L135.1 969.5L135.1 969.6L135 969.7L133.6 971.5L133.5 971.6L133.4 971.6L133.4 971.7L131 973.5L128.7 975.3L126.7 977.2L124.6 979.1L122.6 981.2L122.5 981.3L120.6 983.1L120.6 983.1L118.9 984.7L117.2 986.4L115.5 988.2L113.9 990.2L112.4 992.5L111.3 995.4L110.7 998.9L110.5 1001.9L110.8 1004.4L111.5 1006.3L112.4 1007.8L112.5 1007.8L112.5 1007.9L113.3 1009.6L113.3 1009.7L113.3 1009.8L113.8 1011.5L114.9 1013.3L116.5 1015.4L116.6 1015.4L116.6 1015.5L116.7 1015.6L117.5 1017.5L117.5 1017.5L117.5 1017.6L117.5 1017.7L117.5 1017.8L117.5 1017.9L117.4 1019.2L118.1 1020.1L120.2 1021.4L120.2 1021.4L122.6 1023L122.6 1023L125 1024.8L127.3 1026.3L129.4 1027.4L131.4 1027.9L133.3 1027.8L134.6 1027.2L135.5 1026.1L136.5 1024.6L137.5 1022.8L138.5 1020.7L139.5 1018.5L139.8 1016.8L139.5 1015.4L139.5 1015.3L139.5 1015.2L139.4 1013.5L139.4 1013.4L139.5 1011.5L139.6 1011.4L139.6 1011.4L139.6 1011.3L140.4 1009.3L140.4 1009.2L140.5 1009.1L140.6 1008.9L140.1 1009L139.6 1008.7L139.1 1008.1L138.7 1007L138.5 1006L138.4 1005L138.4 1004L138.6 1003.1L138.6 1002.3L138.4 1001.5L138 1000.8L137.3 1000.2L136.9 999.6L136.7 999.1L136.7 998.5L136.9 998L137.3 997.5L137.9 996.9L138.8 996.3L140 995.7L141.1 995.3L142.1 995.2L143.2 995.2L144.2 995.5L145.1 996L145.6 996.6L145.9 997.5L146 998.5L146 998.9L146 998.8L146.8 996.8L147.1 994.4L147.1 994.3L147.1 994.2L147.2 994.1L147.2 994L148.4 992.1L148.4 992.1L148.5 992L148.5 991.9L148.6 991.9L148.7 991.8L150.5 990.7L151.8 989.4L152.8 987.8L152.8 987.7L154 985.9L154.1 985.9L155.4 984.1L156.6 982.4L157.7 980.8L158.7 979.2L159.7 977.7L160.4 976L160.9 974L161.1 972.2L160.9 970.6L160.4 968.9L159.4 967.2L158.1 965.7L156.5 964.4L154.6 963.3L152.3 962.4L149.8 961.7L147.1 961.4ZM139.9 972.3L140.1 971.9L140.6 971.7L141.1 971.7L141.6 971.8L141.8 972.1L142 972.6L142 973.4L141.9 973.9L141.6 974.2L141.2 974.4L140.7 974.3L140.3 974.1L140 973.8L139.8 973.3L139.8 972.7ZM145.4 982.3L145.6 981.6L146.1 981.1L146.9 980.7L148.2 980.4L149.2 980.4L150.2 980.5L151 980.8L151.7 981.3L152.2 982L152.5 982.7L152.5 983.5L152.3 984.4L152 985.2L151.5 985.7L150.8 986L149.9 986.2L149.1 986.1L148.3 985.9L147.5 985.6L146.9 985L146.3 984.4L145.9 983.8L145.6 983.1ZM125.2 982.1L125.3 981.4L125.7 980.8L126.3 980.3L127.1 979.8L128.1 979.5L129.1 979.5L130.3 979.8L131.5 980.3L132.4 980.9L133.1 981.7L133.6 982.7L133.7 983.7L133.7 984.7L133.6 985.5L133.2 986.3L132.7 987L132.1 987.4L131.3 987.5L130.4 987.4L129.3 987L128.4 986.5L127.6 986L127 985.4L126.5 984.7L126 984.1L125.7 983.4L125.4 982.7ZM120.8 996.2L121 995.7L121.5 995.4L122.1 995.2L123 995L123.6 995.1L123.9 995.5L124 996L123.9 996.8L123.5 997.4L123.1 997.7L122.5 997.8L121.9 997.7L121.3 997.4L121 997.1L120.8 996.7ZM130.6 998.1L130.4 997.4L130.6 996.8L131.1 996.4L132 996L132.8 995.8L133.6 995.8L134.4 996L135 996.4L135.5 996.8L135.8 997.3L135.8 997.9L135.7 998.6L135.3 999.1L134.8 999.5L134.1 999.8L133.2 999.9L132.4 999.8L131.7 999.5L131.1 998.9ZM136.1 1008.6L136.3 1007.9L136.6 1007.5L137.1 1007.4L137.8 1007.7L138.3 1008.2L138.6 1008.9L138.6 1009.8L138.4 1011L138.2 1011.8L137.8 1012.2L137.4 1012.2L136.9 1011.8L136.5 1011.3L136.2 1010.5L136.1 1009.6Z" fill="#C77CFF"/>
<path d="M155.2 1015.5L156.8 1017.6L157.9 1018.9L158.9 1020.1L159.8 1021L160.8 1021.7L162.1 1022.2L162.2 1022.3L162.3 1022.3L162.4 1022.4L163.4 1023.2L163.4 1023.2L163.5 1023.3L163.6 1023.4L163.6 1023.5L164 1024.3L164.4 1024.5L165.3 1024.5L166.7 1024.4L168.4 1024.1L168.5 1024.1L168.6 1024.1L168.7 1024.1L168.8 1024.2L170.2 1024.5L170.3 1024.5L170.4 1024.6L170.5 1024.6L170.6 1024.7L171.6 1025.4L172 1025.5L172.6 1025.1L172.6 1025L173.8 1024.3L173.8 1024.3L175.2 1023.5L175.3 1023.4L176.9 1022.8L176.9 1022.7L178.5 1022.2L179 1021.8L179.1 1021.4L178.9 1020.7L178.2 1019.8L177.1 1018.9L175.8 1017.8L175.7 1017.8L174.3 1016.5L174.3 1016.5L173 1015.1L171.5 1014.1L169.8 1013.4L168.2 1013.1L166.6 1013.4L164.9 1013.8L163 1014.3L162.9 1014.3L160.9 1014.6L160.8 1014.7L158.8 1014.8L156.8 1015.1Z" fill="#00BE67"/>
<path d="M61.1 1084.2L61.3 1084.5L62.5 1085.5L62.6 1085.6L63.8 1086.7L63.8 1086.7L64.9 1087.8L66 1088.9L67.3 1090L67.4 1090.1L68.6 1091.3L68.6 1091.4L69.7 1092.8L70.9 1093.8L72.2 1094.7L73.5 1095.2L75 1095.3L75.1 1095.3L75.2 1095.3L76.6 1095.7L76.7 1095.7L76.8 1095.8L77.9 1096.3L78 1096.4L78 1096.4L78.1 1096.5L78.2 1096.6L78.2 1096.6L78.3 1096.7L78.3 1096.8L78.4 1096.9L78.4 1097L78.7 1098.1L78.7 1098.2L78.7 1098.3L78.7 1098.4L78.7 1098.5L78.7 1098.5L78.6 1098.6L78.2 1100.1L78.4 1101.1L79.3 1102.3L79.4 1102.4L79.4 1102.5L79.5 1102.6L79.5 1102.7L79.5 1102.8L79.7 1104.1L79.7 1104.2L79.7 1104.3L79.7 1104.4L79.7 1104.5L79.6 1104.6L79.6 1104.7L79.5 1104.8L78.9 1105.7L78.7 1106.6L78.8 1107.5L79.6 1108.3L81.7 1109L81.7 1109.1L81.8 1109.1L81.9 1109.2L82 1109.2L82 1109.3L82.8 1110.2L82.8 1110.2L82.9 1110.3L82.9 1110.4L83 1110.5L83 1110.6L83 1110.7L83 1110.8L83 1110.9L83 1110.9L83 1111L83 1111.1L82.9 1111.2L82.9 1111.3L82.8 1111.4L82.8 1111.4L82.1 1112.2L81.4 1113.3L80.8 1114.5L80.4 1115.7L80.4 1117L80.4 1117.1L80.3 1118.9L80.2 1119L79.9 1121L80.2 1122.2L81.1 1123.2L81.1 1123.2L81.2 1123.3L81.3 1123.4L81.3 1123.5L81.3 1123.6L81.3 1123.7L81.4 1123.7L81.4 1123.8L81.4 1124.8L81.4 1124.9L81.3 1125L81.3 1125.1L81.3 1125.2L81.2 1125.3L81.2 1125.4L81.1 1125.5L81.1 1125.5L81 1125.6L80 1126.4L79.3 1127.3L78.9 1128.3L79 1129L79.8 1130L79.8 1130L79.9 1130.1L79.9 1130.2L79.9 1130.3L80 1130.4L80 1130.5L80 1130.6L80 1131.8L80 1131.9L80 1132L79.9 1132.1L79.9 1132.2L79.9 1132.3L79.8 1132.4L78.9 1133.8L77.9 1135.3L76.8 1137L75.8 1138.8L74.9 1141L74.9 1141.1L73.9 1143.3L73.9 1143.3L72.8 1145.5L72.3 1147.3L72.3 1148.8L72.3 1148.9L72.3 1149L71.9 1151.1L71.8 1151.2L70.9 1153.8L70.9 1153.8L69.8 1156.6L69.8 1156.6L68.6 1159.5L68.4 1162.1L69.2 1164.6L70.4 1166.1L72.2 1166.8L72.2 1166.8L74.5 1167.8L74.5 1167.8L76.9 1168.9L80.2 1169.1L84.5 1168.6L88.2 1168.1L91.1 1167.7L93.5 1167.1L95.7 1166.2L95.8 1166.2L98 1165.6L98.1 1165.6L100.1 1165.2L101.6 1164.4L102.7 1163.2L104 1161.6L105.2 1159.7L106.2 1157.7L106.8 1155.9L106.8 1153.9L106.1 1151.7L106.1 1151.6L105.7 1149.4L105.6 1149.3L105.5 1147.5L104.9 1146.1L103.7 1144.8L103.6 1144.8L103.6 1144.7L103.5 1144.6L102.7 1142.8L102.7 1142.7L102.6 1142.6L102.6 1142.5L102.2 1140.3L101.7 1138L101 1135.6L100 1133.5L98.6 1131.6L98.5 1131.5L98.5 1131.4L98.4 1131.3L98.4 1131.2L98.4 1131.1L98.1 1129.3L98.1 1129.2L98.1 1129.1L98.1 1129L98.1 1129L98.1 1128.9L98.2 1128.8L98.2 1128.7L99 1127.2L99.3 1125.8L98.9 1124.3L98.9 1124.3L98.9 1124.2L98.8 1122.2L98.8 1122.1L99 1119.8L99 1119.7L99.1 1119.6L99.7 1117.5L99.7 1117.4L99.8 1117.3L100.8 1115.5L101.1 1114L100.8 1112.6L100.8 1112.4L100.8 1112.3L100.8 1112.2L100.9 1110.7L101 1110.6L101 1110.5L101 1110.4L101.1 1110.3L101.8 1109L102.4 1107.5L102.9 1105.9L103.6 1103.9L104.3 1101.7L104.7 1099.6L104.9 1097.4L104.9 1096L104.8 1095.3L104 1093.5L102.6 1090.6L100.9 1088.4L98.9 1086.9L96.4 1086.1L93.1 1086.1L90.3 1086.6L88 1087.5L86.2 1088.4L84.7 1089.5L84.6 1089.6L84.5 1089.6L82.3 1090.7L82.1 1090.7L79.1 1091.7L79 1091.8L78.9 1091.8L76.7 1092.1L76.6 1092.2L76.5 1092.2L76.4 1092.1L76.3 1092.1L74.9 1091.9L74.8 1091.8L73.1 1091.3L73 1091.3L71.2 1090.6L71.1 1090.6L71.1 1090.6L69.3 1089.6L69.2 1089.5L67.6 1088.2L67.5 1088.2L66.1 1086.8L66 1086.7L64.9 1085.4L63.8 1084.3L62.8 1083.5L62.2 1083.5L61.2 1084.1Z" fill="#CD9600"/>
<path d="M249.4 1098.9L250 1103.9L250.7 1109.8L250.7 1109.8L251.1 1115L251.1 1115L251.3 1119.4L251.3 1119.5L251.1 1123.5L251.1 1123.6L250.5 1126.9L250.3 1129.2L250.8 1130.8L250.8 1130.9L251.2 1133.4L251.2 1133.5L251.7 1136.9L251.7 1137L251.8 1140.4L251.8 1140.5L251.6 1143.8L251.8 1147.1L252.4 1150.4L252.5 1150.4L253 1153.8L253 1153.9L253.5 1157.2L254.2 1160.2L255.3 1162.8L256.4 1165.3L257.5 1167.7L257.5 1167.7L258.4 1170L258.4 1170L259.1 1171.9L260.3 1173.3L262.3 1174.5L264.4 1175.4L266.5 1175.9L266.6 1175.9L268.9 1176.7L269 1176.7L271.2 1177.7L273.6 1178.7L276.2 1179.5L276.2 1179.5L278.9 1180.4L279 1180.5L281.6 1181.5L284.3 1182.5L287 1183.5L287 1183.5L289.7 1184.7L289.8 1184.8L292.4 1186.1L292.5 1186.2L292.6 1186.2L294.3 1187.6L294.4 1187.7L294.4 1187.7L294.5 1187.8L294.5 1187.9L295.1 1189L295.6 1189.2L296.8 1188.9L296.9 1188.9L299.3 1188.7L299.4 1188.7L302.5 1188.7L302.6 1188.7L302.7 1188.7L302.8 1188.8L305 1189.4L305.1 1189.5L305.2 1189.5L305.3 1189.6L305.3 1189.6L305.4 1189.7L306.8 1191.1L306.8 1191.1L306.9 1191.2L306.9 1191.3L307.8 1192.8L307.8 1192.9L307.9 1192.9L307.9 1193L308.3 1194.7L308.4 1194.7L308.8 1196.6L308.8 1196.6L309.2 1198.5L310.1 1199.9L311.5 1201.2L311.5 1201.2L312.8 1202.4L312.9 1202.4L314 1203.4L314 1203.5L315.3 1204.9L315.3 1204.9L316.6 1206.6L318.1 1208.1L319.7 1209.5L321.1 1210L322.3 1209.9L322.8 1209.1L323 1206.6L323.1 1206.5L323.5 1203.8L323.5 1203.8L324.2 1201.1L324.6 1198.6L324.8 1196.4L324.4 1194.3L323.4 1192.1L322.1 1190.2L320.4 1188.6L318.4 1186.9L316.2 1185.2L314 1183.7L311.8 1182.4L311.7 1182.3L311.6 1182.3L309.6 1180.4L309.6 1180.3L309.5 1180.3L307.7 1177.9L307.7 1177.8L307.6 1177.7L306.5 1175.3L306.5 1175.3L306.5 1175.2L306.4 1175.1L306 1173L305.1 1171.9L303.1 1171.3L303 1171.2L302.9 1171.2L302.8 1171.1L302.7 1171.1L301.2 1169.7L301.1 1169.6L301.1 1169.6L301 1169.5L301 1169.4L300.9 1169.4L300.1 1167.4L298.9 1165.9L297.2 1164.6L297.1 1164.6L297 1164.5L297 1164.4L295.9 1162.7L295.8 1162.6L295.8 1162.5L295.7 1162.5L295.7 1162.4L295.3 1160.3L295.3 1160.2L295.3 1160.2L295.3 1160.1L295.3 1160L295.3 1159.9L295.7 1158L295.8 1157.9L295.8 1157.8L295.9 1157.7L295.9 1157.6L297.1 1156.2L297.2 1155L296.5 1153.6L296.4 1153.5L296.4 1153.4L296.4 1153.3L296.4 1153.3L296.2 1151L296.1 1151L296.2 1150.9L296.2 1150.8L296.6 1148.1L296.6 1148L296.7 1147.9L296.7 1147.8L296.8 1147.7L298.1 1145.6L298.1 1145.6L298.2 1145.5L298.3 1145.4L298.3 1145.4L298.4 1145.3L300.6 1144L302.6 1142.7L304.3 1141.3L306.1 1139.8L307.8 1138.2L309 1136.6L309.9 1135L309.9 1134.9L310 1134.9L310 1134.8L311.8 1132.9L311.9 1132.9L311.9 1132.8L314.6 1130.8L316.7 1128.6L318.4 1125.9L318.5 1125.9L318.5 1125.8L318.6 1125.7L321.3 1123.3L321.3 1123.3L321.4 1123.2L324.9 1121.2L328 1119.1L330.6 1116.7L330.7 1116.7L333.3 1114.5L333.4 1114.5L336 1112.4L338.2 1110.5L339.9 1108.5L340.9 1107L341.3 1105.8L341.3 1105.7L341.4 1105.6L341.9 1104.6L342 1104.5L342.1 1104.5L342.1 1104.4L342.2 1104.3L342.5 1104.1L342.7 1102.8L342.5 1100L341.7 1097.1L340.4 1094.1L338.9 1091.3L337.2 1088.7L335.3 1086.4L333.1 1084.4L330.8 1083L328.3 1082L325.1 1080.8L321.6 1079.5L318.5 1078.5L316 1077.9L313.5 1078.2L310.5 1079.5L310.4 1079.5L310.3 1079.5L310.2 1079.5L310.1 1079.5L310 1079.5L309.9 1079.5L309.8 1079.5L309.7 1079.5L307.2 1078.4L307.2 1078.4L307.1 1078.4L307 1078.3L306.9 1078.2L306.9 1078.2L306.8 1078.1L306.8 1078L305 1074.7L303.4 1072.7L301.8 1071.8L301.7 1071.7L301.6 1071.6L301.5 1071.6L300.2 1070L300.1 1070L300.1 1069.9L300 1069.8L299.1 1067.7L299.1 1067.6L299.1 1067.6L299.1 1067.5L298.8 1065.6L298.8 1065.5L298.8 1065.4L298.8 1065.3L298.9 1065.2L299.2 1063.8L298.9 1062.8L297.8 1061.6L296.1 1060.1L293.9 1058.4L291.4 1056.6L288.7 1054.5L286 1052.5L283.4 1050.4L283.3 1050.4L283.2 1050.3L281.3 1048.3L281.3 1048.2L281.2 1048.2L281.2 1048.1L280.1 1046.1L280.1 1046L278.9 1043.6L278.9 1043.6L277.8 1040.9L277.8 1040.8L276.8 1038.1L276.8 1038.1L275.9 1035.4L274.6 1033L272.9 1030.7L272.9 1030.6L271.4 1028.2L271.4 1028.1L270.2 1025.8L270.2 1025.7L269.4 1023.3L269.4 1023.2L268.9 1020.8L268.9 1020.8L268.5 1018L268.5 1018L268 1015L267.3 1012.6L266.3 1010.7L265.1 1008.7L263.7 1006.7L263.7 1006.6L262.6 1004.6L262.5 1004.5L261.7 1002.5L260.6 1000.9L259.5 999.5L257.7 998.6L255.2 997.9L252.9 997.8L250.7 998.1L249.5 998.9L248.7 1000.5L247.5 1003.2L245.9 1006.5L244.5 1010.2L243.2 1014.2L242.3 1018.4L241.9 1022.7L241.4 1027.3L241 1032L241 1036.7L241.4 1041.4L242.2 1045.1L243.3 1048.1L243.3 1048.2L244.4 1051.4L244.4 1051.4L245.5 1054.8L245.5 1054.9L246.6 1059.1L246.6 1059.1L247.8 1064.2L247.8 1064.3L247.8 1064.4L248 1068.7L248 1068.7L248 1068.8L248 1068.9L247.3 1072.2L247 1076.9L247 1082.9L247.4 1087.6L248.3 1090.9L248.3 1091L249 1094.7L249 1094.8Z" fill="#FF61CC"/>
<path d="M158.9 1081L157.4 1081.5L157.1 1082.3L156.9 1083L157 1083.7L157 1083.8L157 1083.9L157 1084L157 1084.1L156.9 1084.2L156.9 1084.3L156.8 1084.4L156.4 1085.1L156.3 1085.1L156.3 1085.2L156.2 1085.3L156.1 1085.4L156.1 1085.4L155.2 1085.9L155.2 1085.9L155.2 1086L155.2 1086.1L155.2 1086.2L155.2 1086.3L155.2 1086.4L155.2 1086.5L155.2 1086.6L155.1 1086.7L155.1 1086.8L155.1 1086.8L154.5 1087.6L154.4 1087.7L154.4 1087.7L154.3 1087.8L153.1 1088.7L152.1 1089.7L151.3 1090.8L151.2 1091.3L151.6 1091.9L151.7 1092L151.7 1092.1L151.7 1092.2L151.8 1092.3L151.8 1092.4L151.8 1093.9L151.8 1094L151.8 1094.1L151.8 1094.2L151.4 1095.7L151.7 1096.5L152.9 1097.2L154.6 1097.8L156.8 1097.9L156.8 1097.9L158.6 1098.1L158.7 1098.1L160.1 1098.3L161 1098.3L161.3 1098.2L161.5 1097.9L161.7 1096.6L161.7 1096.5L161.7 1096.4L161.7 1096.3L161.8 1096.3L161.8 1096.2L162.5 1095.3L162.5 1095.2L162.6 1095.1L162.6 1095.1L162.7 1095L162.8 1095L162.9 1094.9L163 1094.9L163.3 1094.8L163.2 1094.6L163.1 1094.5L163.1 1094.5L163 1094.4L163 1094.3L163 1094.2L163 1094.1L163 1094L163.1 1093.9L163.1 1093.8L163.1 1093.7L163.2 1093.6L163.5 1093L163.6 1092.9L163.7 1092.9L163.7 1092.8L163.8 1092.7L163.9 1092.7L164 1092.6L164.1 1092.6L165.3 1092.2L165.4 1092.2L165.5 1092.2L165.6 1092.2L166.7 1092.2L166.8 1092.2L166.9 1092.2L167 1092.2L167.1 1092.2L167.7 1092.5L168.3 1092.4L169.5 1091.7L169.6 1091.7L169.7 1091.6L169.8 1091.6L169.9 1091.6L171.3 1091.5L171.4 1091.5L171.5 1091.5L171.6 1091.5L171.7 1091.5L173.1 1091.9L174.9 1092L177.3 1091.7L177.3 1091.7L179.6 1091.5L179.6 1091.5L181.6 1091.3L182.1 1091.1L182 1090.8L181 1090L181 1090L179.8 1089L179.8 1089L178.7 1087.9L177.3 1087.2L175.5 1086.7L174.3 1086.7L173.9 1086.8L174 1087L174.1 1087.1L174.1 1087.1L174.2 1087.2L174.2 1087.3L174.2 1087.4L174.3 1087.5L174.3 1087.6L174.3 1087.7L174.3 1087.8L174.3 1087.9L174.2 1088L174 1088.7L173.9 1088.8L173.9 1088.9L173.9 1089L173.8 1089.1L173.7 1089.1L173.6 1089.2L173.6 1089.3L172.3 1090L172.2 1090.1L172.1 1090.1L172.1 1090.1L172 1090.1L171.9 1090.2L171.8 1090.2L171.7 1090.2L170.7 1090L170.6 1090L170.5 1090L170.4 1089.9L170.3 1089.9L170.2 1089.8L170.2 1089.8L170.1 1089.7L170 1089.6L169.4 1088.7L168.6 1088L167.4 1087.5L167.4 1087.5L167.3 1087.4L167.2 1087.4L167.1 1087.3L167.1 1087.2L167 1087.1L166.6 1086.4L166.5 1086.4L166.5 1086.3L166.5 1086.2L166.4 1086.1L166.4 1086L166.4 1085.9L166.4 1085.8L166.5 1085.7L166.5 1085.6L166.5 1085.5L166.6 1085.3L165.7 1085L165.6 1085L165.5 1084.9L165.4 1084.9L165.3 1084.8L164.5 1084.2L164.4 1084.1L164.4 1084L164.3 1083.9L164.2 1083.9L164.2 1083.8L164.2 1083.7L163.9 1082.8L163.6 1081.8L163.3 1081.1L162 1080.8Z" fill="#F8766D"/>
<path d="M169 1156.3L169.1 1156.3L169.3 1156.2ZM171.8 1155.5L171.9 1155.5L172 1155.5L172.1 1155.5L172.2 1155.6L173.2 1156.1L173.3 1156.2L173.3 1156.3L173.4 1156.3L173.5 1156.4L173.5 1156.5L173.6 1156.6L173.6 1156.7L173.6 1156.8L173.7 1156.9L173.7 1157L173.7 1157.1L173.6 1157.2L173.5 1157.9L173.5 1158L173.5 1158.1L173.4 1158.2L173.4 1158.3L173.3 1158.3L173.3 1158.4L173.2 1158.5L173.2 1158.5L172.1 1159.3L172.1 1159.5L172.3 1159.8L172.3 1159.8L172.4 1159.9L172.4 1160L172.4 1160.1L172.4 1160.2L172.4 1160.3L172.4 1160.4L172.4 1160.5L172.1 1161.6L172.1 1161.7L172.1 1161.8L172 1161.8L172 1161.9L171 1163.2L170 1164.6L169 1166.1L169 1166.2L167.7 1167.7L167.6 1167.7L166.1 1169.1L164.9 1170.2L164 1171.1L162.7 1172.4L161.3 1174.1L161.3 1174.1L159.9 1175.6L159.9 1175.6L158.7 1176.9L157.5 1178.4L156.3 1179.9L155.9 1181.3L156.2 1183L156.4 1184.8L156.6 1186.4L157.1 1187.2L157.8 1187.8L159 1188.1L160.9 1188.3L161 1188.3L162.8 1188.7L162.9 1188.7L164.5 1189.2L165.3 1189.1L166.1 1188.4L166.1 1188.3L166.2 1188.3L166.3 1188.2L166.4 1188.2L166.5 1188.2L166.6 1188.1L167.7 1188L167.8 1187.9L167.9 1187.9L168 1187.9L168.1 1188L168.2 1188L168.3 1188L169.3 1188.5L170.6 1188.6L172.5 1188.2L172.5 1188.2L174.5 1187.9L174.6 1187.9L176.6 1187.8L176.6 1187.7L176.7 1187.8L176.8 1187.8L178.7 1188L178.7 1188.1L178.8 1188.1L178.9 1188.1L180.6 1188.9L180.7 1188.9L180.8 1189L182 1189.8L182 1189.9L182.1 1190L182.2 1190.1L182.2 1190.2L182.6 1190.9L183.3 1191.5L184.7 1192L184.8 1192L184.9 1192.1L186.2 1192.9L186.3 1193L186.4 1193L187.6 1194.1L187.7 1194.2L188.9 1195.5L188.9 1195.6L190.2 1197.1L191.3 1198.4L192.3 1199.5L192.3 1199.6L192.4 1199.7L193 1200.8L193 1200.9L193.1 1201L193.1 1201.1L193.2 1201.7L194 1202L196 1202L196.7 1201.6L196.9 1200.6L196.9 1200.6L197.1 1199.1L197.1 1199.1L197.3 1198.2L197.2 1198L196.3 1197.7L196.2 1197.6L195 1197.1L194.9 1197L193.6 1196.3L193.5 1196.2L192.2 1195.2L192.1 1195.1L190.7 1193.8L189.1 1192.6L187.4 1191.5L187.3 1191.5L187.2 1191.4L186 1190.2L185.9 1190.1L185.9 1190L185.8 1190L185.2 1188.8L184.3 1188.1L183 1187.6L182.9 1187.5L182.8 1187.5L181.6 1186.6L181.5 1186.6L181.4 1186.5L181.4 1186.4L180.5 1185.4L179.2 1184.7L177.4 1184.2L177.3 1184.2L175.3 1183.4L175.2 1183.4L173.3 1182.4L173.2 1182.4L173.1 1182.4L171.4 1181.1L171.3 1181.1L171.2 1181L169.8 1179.5L168.5 1178.3L167.7 1177.5L167 1177.4L165.7 1177.7L165.7 1177.7L164.2 1178L164.1 1178L162.6 1178.2L162.5 1178.2L162.5 1178.2L162.4 1178.2L162.3 1178.2L162.2 1178.1L162.1 1178.1L161.5 1177.8L161.4 1177.8L161.3 1177.7L161.2 1177.7L161.2 1177.6L161.1 1177.5L161.1 1177.4L161 1177.4L161 1177.3L160.9 1177.2L160.9 1177.1L160.9 1177L160.9 1176.9L160.9 1176.8L160.9 1176.7L161 1176.6L161.2 1175.9L161.2 1175.8L161.3 1175.7L161.3 1175.6L161.4 1175.5L161.4 1175.5L162.2 1174.7L162.2 1174.7L162.3 1174.6L162.4 1174.6L163.6 1173.8L163.7 1173.8L163.7 1173.8L165.1 1173.2L165.2 1173.1L166.6 1172.8L167.4 1172.3L167.9 1171.5L167.9 1171.1L167.6 1170.7L167.6 1170.6L167.6 1170.5L167.5 1170.4L167.5 1170.3L167.5 1170.2L167.5 1170.1L167.5 1170L167.6 1169.1L167.6 1169L167.7 1168.9L167.7 1168.8L167.7 1168.7L167.8 1168.6L168.5 1167.5L168.6 1167.4L169.6 1166.3L169.7 1166.2L170.8 1165.1L171.7 1164L172.4 1162.7L172.5 1162.7L173.3 1161.4L173.4 1161.3L174.4 1160L175.4 1158.7L176.4 1157.4L176.4 1157.3L177.5 1156.1L177.6 1156L178.8 1154.9L179.9 1153.7L180.7 1152.6L180.9 1151.6L180.6 1150.3L180.6 1150.3L180.3 1148.7L180.3 1148.7L180.2 1147.5L179.6 1146.7L178.2 1146L177.1 1145.8L176.1 1146.1L174.9 1146.6L173.8 1147.1L173.1 1148.1L172.7 1150L172.5 1151.8L172.6 1153.6L172.6 1153.7L172.6 1153.8L172.6 1153.9L172.6 1154L172.5 1154.1L172.1 1155.1L172.1 1155.2L172 1155.3L171.9 1155.4L171.9 1155.4Z" fill="#7CAE00"/>
<path d="M178.1 1237.2L176.4 1237.4L173.9 1238.6L172.4 1239.8L171.8 1241.4L171.7 1241.5L171.7 1241.5L171.7 1241.6L170.4 1243.4L170.3 1243.5L170.2 1243.5L168.4 1245.3L166.7 1246.9L165.3 1248.3L164.2 1249.7L163.3 1251.1L163.2 1251.2L161.8 1252.8L161.8 1252.9L159.9 1254.6L158.1 1256.7L156.2 1259.2L154.6 1261.8L153.2 1264.6L153.2 1264.7L151.8 1267L151.7 1267.1L150.4 1268.8L149.7 1270.4L149.5 1271.9L149.6 1272.8L149.9 1273.2L151.4 1273.4L154.6 1273.1L157.8 1272.5L160.9 1271.6L163.2 1270.1L165 1267.8L166.3 1265.5L167.2 1263.4L167.3 1263.3L168.7 1261L168.8 1260.9L170.7 1258.4L172.5 1255.9L174.4 1253.4L176.1 1251.1L177.4 1249L178.3 1246.9L178.7 1244.5L179.1 1241.7L179.3 1238.9L178.9 1237.6Z" fill="#00A9FF"/>
<path d="M165.3 1267.6L163.9 1268.8L163.9 1270.5L164.6 1271.2L166.5 1271.4L169.5 1271.4L173.3 1271.2L173.4 1271.2L176.7 1271.5L176.8 1271.5L176.9 1271.5L179.7 1272.2L182.2 1272.7L184.6 1273.1L184.6 1273.1L187 1273.6L187 1273.7L189.4 1274.4L192 1275.1L194.7 1275.8L196.7 1275.8L198 1275.3L198.2 1274.8L197.5 1273.6L195.9 1272.2L193.2 1270.8L190.4 1269.6L187.7 1268.5L184.5 1267.9L180.8 1267.5L176.8 1267.1L172.6 1266.8L168.7 1267Z" fill="#00A9FF"/>
<path d="M206 1264.3L206.1 1264.4L206.1 1264.5L206.1 1264.6L206.1 1264.7L206.1 1265.8L206.1 1265.9L206.1 1266L206.1 1266.1L205.6 1267.8L205.6 1267.9L205.6 1268L204.6 1270L204.5 1270.1L203.1 1272.3L203.1 1272.3L203 1272.4L202.9 1272.5L202.9 1272.5L202.8 1272.6L201.1 1273.5L201 1273.5L201 1273.6L200.9 1273.6L200.8 1273.6L200.7 1273.6L200.6 1273.6L200.5 1273.6L198.6 1273.2L198.5 1273.2L198.4 1273.2L198.4 1273.2L196.5 1272.3L196.4 1272.2L196.3 1272.1L194.7 1270.9L193.6 1271.1L191.9 1272.6L191.8 1272.7L191.8 1272.7L189.9 1274L189.8 1274L189.7 1274.1L188.2 1274.7L188.1 1274.9L188.7 1275.7L189.9 1276.8L191.7 1277.9L191.8 1277.9L193.5 1279.2L193.6 1279.3L195 1280.7L195.1 1280.8L195.1 1280.9L195.2 1281L196.1 1282.8L196.1 1282.8L196.2 1282.9L196.2 1283L196.6 1285L197.6 1286.5L199.2 1287.7L200.7 1288.1L202.1 1287.9L203.2 1287.1L204 1285.4L204.1 1285.3L204.2 1285.3L205.6 1283.6L205.6 1283.6L205.7 1283.5L207.6 1282.1L209.2 1280.7L210.5 1279.3L211.8 1277.5L213.2 1275L213.3 1275L214.7 1272.8L214.7 1272.7L216.1 1270.9L217.6 1269.1L219 1267.4L219 1267.3L220.4 1265.6L220.4 1265.6L221.5 1264.4L221.2 1263.5L219.2 1262L217.4 1261.1L215.7 1261L213.5 1261.1L210.8 1261.6L208.4 1262.6L206.2 1264.1Z" fill="#00A9FF"/>
<path d="M193 1306.4L193.6 1305.7L194.5 1304.3L195.1 1302.3L195.7 1300.2L196.2 1298.1L196.3 1296.5L196 1295.2L196 1295.1L196 1295L196 1294.9L196.3 1293L196.3 1292.9L196.3 1292.8L196.9 1290.6L196.5 1289.5L195.2 1288.9L195.4 1290.3L195.4 1290.3L195.5 1292.7L195.5 1292.7L195.5 1295.2L195.5 1295.4L195.2 1297.9L195.1 1298L194.4 1300.5L193.7 1303L193 1305.5Z" fill="#00A9FF"/>
<path d="M251.1 1301.9L250.7 1302.2L251.2 1303.2L251.2 1303.3L251.2 1303.4L251.2 1303.4L251.5 1305.2L251.5 1305.2L251.5 1305.3L251.5 1305.4L251.3 1306.9L251.6 1307.4L252.8 1307.8L253.9 1307.9L254.7 1307.6L255.7 1306.9L256.8 1305.3L256.8 1305.3L258.2 1303.6L258.3 1303.5L259.8 1301.8L260.2 1301L259.5 1300.9L256.9 1301.2L256.9 1301.2L253.9 1301.6L253.9 1301.6Z" fill="#00BFC4"/>
<path d="M138.3 965.7h0m1.8-1h0m1.3-1.3h0m1.5-.8h0m.3-.9h0m1.4 .1h0m2.1-.1h0m.8-1.5h0m2.2 .8h0m1.2 1.3h0m.5-.5h0m1.2 .7h0m2.5 .7h0m.7 .7h0m.7 .3h0m.7 1.1h0m4.3 5.4h0m-1.1-.3h0m-.9-4h0m-1.4 1.2h0m-.7 .2h0m-20.4-.5h0m-.1-.6h0m-2.2 3.7h0m-.2-2.9h0m0 3.3h0m-.9 1.1h0m-8.3 5.8h0m2-.8h0m.7-.3h0m2.2-2.3h0m.1 0h0m1.2-.2h0m.9-1.5h0m4.6 2.4h0m4.1-.2h0m1.2-2.4h0m17.6 5.2h0m0-2.9h0m.5 2.2h0m.4-2.7h0m0-1.3h0m.6 5h0m-3.2 2h0m-.2-.3h0m-1.6 3.9h0m-1.2 .2h0m-5.3-4h0m-.4 1.6h0m-3.6 2.4h0m-1.3-2.8h0m-8.5 1h0m-4.8 .8h0m-1.8-1.6h0m-.2-1.5h0m-.7 .2h0m-.1 3.5h0m-1-4.5h0m0 1.4h0m-2.1 1.7h0m-.3 .2h0m-.6-2.9h0m-1.1 1.7h0m-.8 1.3h0m-.8-.6h0m-.6 1h0m-7.3 7h0m1.9-.1h0m1.2-2.9h0m.8-.7h0m.6-1.2h0m1 .2h0m.4-.5h0m7.4-.1h0m.6 1.9h0m4.5 .2h0m.1 1.6h0m1.9-2.5h0m14.4 1.2h0m.3-1.5h0m.5 .3h0m.9 3.6h0m.7-3.9h0m1.2 2.9h0m.6-1.7h0m.8 .2h0m.6-2.5h0m.1 2.5h0m.9-2.4h0m-4.8 5.9h0m-.5 .6h0m-1.7 .2h0m-.5 2.2h0m-.2-.6h0m-1.9 2.4h0m-1 0h0m-9.3 .9h0m-.9 0h0m-10-.9h0m-10.4-4.3h0m-1.5 2.5h0m-.1 1h0m-.6 .6h0m-.2-2h0m-2 6h0m.8 2h0m.4-4.6h0m0 1.3h0m11.8-.2h0m2.4 1.8h0m5.5-1.2h0m1.5 2.1h0m2.4-2h0m.2 .8h0m2.1-1.1h0m.9 3.4h0m.7 .1h0m.2-5.1h0m.6 2.1h0m.3-1h0m.4 2.4h0m1.4 1.9h0m.8-4.3h0m.9 .7h0m.3 .6h0m.7 1.8h0m.9-2.4h0m.6 .3h0m0 0h0m.1 2.5h0m.2-3.7h0m.2 1.3h0m.2 .9h0m.2-2.3h0m-1.7 6.8h0m-.7 3.5h0m-.8-2h0m-1.1-1.5h0m-.3 3h0m-.1-1.3h0m-.2 .4h0m-.1 1.7h0m-1.2 .1h0m-.6-2.1h0m-.4 2h0m-.4-.5h0m-1.5 .5h0m-24.7 .3h0m-.3-1.3h0m-.4-3.3h0m-.6 .5h0m-.7 2.1h0m2 5.8h0m.6-2.7h0m1.5 3.7h0m.1 .8h0m20.8-1.6h0m.5 0h0m2.9-.5h0m.6 2.6h0m.6-2.2h0m.7-3.4h0m1.2 .2h0m8 4.7h0m1.5 4.8h0m-2.7-1.8h0m-8.8 1.5h0m0-.6h0m-1.1 1.8h0m-.9-.1h0m0 .3h0m-2.1-5h0m-18.5 3.2h0m-.7-2.2h0m-.2 .8h0m-2.2-1.3h0m4 5.7h0m.3 .7h0m.3-.4h0m2.1 .9h0m.1 1.3h0m.6-1.6h0m1.7 .9h0m.9 2.9h0m2.2 .5h0m.3-2.2h0m.4 2.7h0m7.6-1.1h0m2.2-2.2h0m.5-1.7h0m.2 .4h0m-2.7 6.6h0m-1.2-.4h0m-.3 .2h0m-3.1 .4h0m-1.5-1.5h0m-.1 .4h0" stroke="#C77CFF" stroke-width="2.8" stroke-linecap="round" fill="none"/>
<path d="M160.3 1013.6h0m6.5 0h0m.4-.2h0m3-.3h0m.9 .8h0m5.7 4.8h0m-1.4-1.1h0m-.4-1.2h0m-1.1 0h0m-.6-1.2h0m-2.2-1.2h0m-6.3 0h0m-1.6 .3h0m-1.6 .9h0m-2 4.7h0m-.8-4.6h0m-.8 4h0m-.2-3.7h0m-.6 1.6h0m-.2 .3h0m-1.4-1.4h0m3.6 4.1h0m2 2.3h0m.7 .9h0m0 .5h0m1.6 0h0m.8 .2h0m.9 .3h0m3.1-.6h0m1.7 .4h0m1.7 1.2h0m1-.7h0m1.2-.7h0m2.6-.8h0m.2-.7h0m1.2-.3h0m.1-2h0m1 .7h0m4.1 .5h0m-14.9 5.3h0" stroke="#00BE67" stroke-width="2.8" stroke-linecap="round" fill="none"/>
<path d="M86.7 1079.1h0m-.3-.3h0m-.4 1h0m-.2-.7h0m-.2 0h0m-.9-1.9h0m-.3-1.1h0m0 .7h0m-.2-.1h0m-.1-.6h0m0 1.7h0m-.8 .7h0m-.9-4h0m-.2 5.4h0m-.6-2.6h0m-.1 2.3h0m-.7-2.4h0m-3.9 2.1h0m-15.6 5h0m.7 1.6h0m.3-1.8h0m.9 .7h0m1.6 .5h0m8.9-1.6h0m8.7-3.6h0m.1 1.4h0m.4 1h0m.5-1.4h0m.4 1.2h0m.4-.3h0m.3 .5h0m.2-.1h0m.1-.3h0m.2-2.1h0m2.2 1.7h0m6.2 3.9h0m1-2.3h0m.4 2.1h0m8.2 6.4h0m-.2-.3h0m-2.2-3.5h0m-.6-1.2h0m-.3 3.4h0m-1.2-3.3h0m-2.8-.6h0m-4.2 .8h0m-1 .1h0m-1.7 .3h0m-2.1 .9h0m-.1-.3h0m-.3 .8h0m-1.1-.4h0m-1.8 1.4h0m0 .1h0m-2.5 .9h0m-2.2 .6h0m-3.5 .4h0m-2.6-.4h0m-.1 .3h0m-1.6-1.6h0m-.5-.2h0m-2.2 1.6h0m-.1-3.3h0m-.3 2.1h0m-.8-1.6h0m-.3-.6h0m-.1 .9h0m-.1 .8h0m0-3.4h0m-2.2 .4h0m4.5 6.5h0m2.1-.4h0m1.1 1.3h0m2.1-2h0m.8 3.6h0m.2-.9h0m0 .5h0m2.1-2.9h0m.4 3.3h0m.7 1.8h0m.1-5.6h0m.5 5h0m24.7 .5h0m.2-4h0m.2-1.5h0m.3 2.3h0m.2 2.6h0m-.2 2h0m-.1 1.9h0m-.1-.6h0m-.5 3.1h0m-.3-.7h0m-24.1-1.9h0m-.1 1h0m-1.1-.7h0m-2-2h0m3.2 7.5h0m.1 1.3h0m.5-3.3h0m.2 .4h0m.2-.1h0m.1 3.4h0m2.4 1.2h0m19.1 .4h0m.9-1.4h0m.3-3.4h0m.2 0h0m-1.7 5.7h0m-.1-.1h0m-.7 2.9h0m-.5-2.8h0m-.2 2.8h0m-16.5-2.4h0m-.8-.1h0m-.9 4.2h0m-.4-.8h0m-.1-1.5h0m-.3 2.4h0m-1.1 6.3h0m.4-.2h0m.5-5.4h0m.1 4.6h0m.2-3h0m18.6 2.9h0m.4-1.8h0m.1-1.8h0m.1 2.9h0m-.4 6.2h0m-.7-1.5h0m-.2 3.1h0m-.5-5.5h0m-.1-.1h0m-16.3 2.9h0m-.8-1h0m-.7 2.5h0m-2.7-1.5h0m1.6 6.4h0m.5-2.2h0m.5 3.5h0m.7-4.1h0m16 1.3h0m.4-.5h0m.5 1h0m.8 2.1h0m.3 .3h0m3.4 5.5h0m-.8 .3h0m-.7 0h0m-.4-2.6h0m-.9-1.9h0m-20.1 .6h0m-.7 .8h0m-1.4 .1h0m-.1 .8h0m-.3 1.3h0m-.8-1.1h0m-.4 3.2h0m-3.4 5.4h0m.1-2.7h0m.2 2.5h0m.2-2.1h0m1.3 0h0m1.3-1.1h0m26.5-.3h0m.3 1.4h0m0-2.1h0m.3 1.8h0m2.4 3.2h0m.5 3.8h0m-.7-2.8h0m-.3 .8h0m-32 1.9h0m-.1-1.4h0m-.4 2.1h0m-.5 1.4h0m-2 5.8h0m.4-1.1h0m.5-1.3h0m.6-1.3h0m33.6 .9h0m.8-2.6h0m.3 5.1h0m.1-4.1h0m.4 1.3h0m.2 .8h0m-1.9 3.6h0m-.1 2.4h0m-.9 2.8h0m-.7-3h0m-.9-1h0m-1.1 3.7h0m-11 0h0m-19.2-3.7h0m-.4-.2h0m-.6 3.9h0m-1-.9h0m-.3-3.6h0m1.6 6.3h0m.7 1.4h0m.4-.4h0m1.2-.1h0m.6 1.4h0m1.2-.2h0m2.2 .3h0m1-.7h0m.6 1.6h0m2.6-.1h0m1.9 .9h0m1.2-2.3h0m.2 2.2h0m1.5-.1h0m.9-1.2h0m1.6-.2h0m2.1 0h0m2.2-.6h0m.6-.1h0m.8 .3h0m2.2-1.7h0m.4 .2h0m1.2-.4h0m1.5-.3h0m2.5 .2h0" stroke="#CD9600" stroke-width="2.8" stroke-linecap="round" fill="none"/>
<path d="M248.3 1001.7h0m1.2-1.7h0m.2-1.4h0m1.9-.3h0m1.9 .1h0m.2-.6h0m2.7-.8h0m.4 .7h0m.9 1.5h0m2.1 1.2h0m4.3 7.3h0m-.5-.4h0m-.2-1.1h0m-.9-1.2h0m0-1.3h0m-1.5-.5h0m-.5-.9h0m-.1-.1h0m-11.1-.2h0m-2.1 .8h0m0 2.1h0m-.4 .5h0m-1.9 1.2h0m-1.3 6.4h0m.7-1.9h0m.5-.7h0m.4-1.6h0m19.5-.3h0m1.1 2h0m.6 1h0m1.7 0h0m.6 4.8h0m-.1 2.5h0m0-.5h0m-.7-3.1h0m-.4-1h0m-.2 1.9h0m-23.8-1.2h0m-.6 .1h0m-.8-.7h0m-.1 4.4h0m-.1 5h0m0 .9h0m.1-3.2h0m.4-1.3h0m.1 1.2h0m25.7 3.9h0m.6-4h0m.8 1.1h0m3.1 8.1h0m-.4-.4h0m-1.7-1.5h0m0 .2h0m-1.4-2.5h0m-27.6 2.2h0m-.4-1.6h0m0 3.2h0m-.2 .4h0m-.8-4.2h0m.5 9.5h0m.5 .6h0m.7-4h0m.5 1.8h0m32.1-1h0m.2 .7h0m.1 .8h0m1.4 2.6h0m.2-.1h0m.2-1.2h0m.4-.1h0m2.5 7.2h0m-1.8-2h0m-.3 .4h0m-.4-2.1h0m-34.2-.9h0m-1 3.4h0m0 2h0m0-3h0m-.5-2.7h0m-.1 2.5h0m0 6h0m1.1-1.6h0m.4 .8h0m1.5 3.9h0m35.5-2.8h0m.2-2.5h0m.3 2.3h0m.2 1.2h0m2.1 1.1h0m6.9 5.5h0m-3.2-.7h0m-.4-.7h0m-.2-1.2h0m0 .4h0m-1.6-1.9h0m-.2 .7h0m-37.8 4.8h0m-.7-2h0m-.4-.7h0m-.2-2.6h0m-1.5 .2h0m3.1 6.4h0m.4 2.1h0m.5 1.6h0m.7 .1h0m.5-3.5h0m41.2-1.1h0m.5 .5h0m1.7 .3h0m1.7 1.4h0m2.3 1.1h0m.2-.2h0m.5 .6h0m8.9 7.2h0m-1.8-.3h0m-4.4-4.1h0m-.5 1.9h0m0-2.6h0m-.1 .3h0m-.1 4.7h0m-50.1 .4h0m-.4-5.5h0m0 2h0m-.2 1.5h0m-.8 .9h0m.1 6.9h0m.8-3h0m.4-1h0m.2 3.4h0m50.8-4.1h0m.8-.2h0m.1 1.1h0m.2 1.9h0m.7 1h0m1.4 .3h0m1.6 .1h0m5.8-.1h0m10.9 6.9h0m-.2-2.8h0m-.9 2.2h0m-.6-.2h0m-1.8 0h0m-1.6-1.3h0m-2.2 .4h0m-.5-2.8h0m-.2 3.9h0m-1-.6h0m-2.3 .2h0m-.1 .9h0m-2.5-.3h0m-.2-1.2h0m-.5-1.1h0m-1.4-2.2h0m-1.3-.1h0m-55.7-.3h0m-.6 1.7h0m-.5 2.9h0m-.1-.5h0m-.2 3.6h0m.9 3.6h0m.1-4.6h0m4.9 4.7h0m70-5.7h0m1.4 .3h0m1.8 1h0m1.2 .4h0m.6 .2h0m2.2 .5h0m.7 1.4h0m.2-1h0m2.4 2.5h0m.8 .2h0m4.2 5.6h0m-.2-1.4h0m-1.3-1.4h0m-.6-.8h0m-.8-1.2h0m-86.2 5.3h0m-.2-3.8h0m-.2-1.6h0m-.7 1.5h0m-.5-.6h0m1 6.6h0m.7 0h0m.3 3.2h0m1.3-1.2h0m88.7-3.2h0m.4 2.6h0m1-.3h0m.4 .8h0m.2 .1h0m.2 1.1h0m1.8 4h0m-.8-.2h0m-.1 1.4h0m-1.2-4.1h0m-90.7 5.3h0m-.3-2.1h0m-.2 .3h0m-1.1-2.1h0m.8 8.8h0m.4-1.5h0m.5 1.7h0m.2-2h0m3.1 2.2h0m84.8 1.3h0m.3-.3h0m.6-4.4h0m1.5 2.3h0m1-3.3h0m.2 .1h0m-4.8 7h0m-.1-.8h0m-1.3 2.9h0m-.4-.9h0m-1 .7h0m-1.6 1.9h0m-1.4 .6h0m-80.1-4.3h0m-.1 1.8h0m-.2 2.1h0m-.7 1.4h0m.1 3.6h0m.9-4h0m.1 2.4h0m.5-.1h0m71.6 1.5h0m.3 1.5h0m.2-.2h0m2.4 .3h0m1.1-1.3h0m.6-1.9h0m2.1-.6h0m.3-.2h0m-8.8 5h0m-1.2 .4h0m-1.1 0h0m-1.6 1.1h0m-.8 2.4h0m-65-3.7h0m-1-.3h0m0 2.4h0m-.2 .8h0m-.1 1.4h0m-.1 2.8h0m.2 .2h0m1 2.9h0m.1-2.8h0m.1 2.5h0m59.7-.2h0m1.1-3.2h0m.1 2.4h0m1-.3h0m.8-2.8h0m.6 3h0m1.3-3.6h0m.3 2.4h0m-6.5 3.6h0m-.5 .3h0m-.4 .7h0m-.2 2.4h0m0 .5h0m-1.6-.6h0m-1.2 2.4h0m-53.9-3.9h0m-.5 3.6h0m-.3-4.9h0m-.5 2h0m.5 4.8h0m.1 4.4h0m.3-2.9h0m.1 2.1h0m.1 .6h0m46.7-.8h0m.4-.7h0m.2 .6h0m1.1-1.4h0m1.8-.1h0m1.1-.9h0m1.3-.3h0m.7-1.2h0m-7.7 6.7h0m-.6-1.3h0m-1.2 2.2h0m-41.8-1.1h0m-.5 .8h0m-1.2 3.7h0m-.3-3h0m-.2 1.4h0m.1 1.8h0m1 4.2h0m.4 1.6h0m1.3-3.6h0m40.6 2.5h0m.1 .8h0m.1-4.9h0m0 .6h0m.5-.7h0m.3 1.4h0m1.9 1.3h0m.1 .2h0m-2.4 8.3h0m-.4-3.6h0m-.2 2.2h0m-.8-2.9h0m-39.2 3.9h0m-1-3.5h0m-.2-1.4h0m-.4 3.5h0m1.7 2.3h0m.2 1.3h0m1 .5h0m.5 2.2h0m.3-1h0m1.3 1.9h0m37.5-4.3h0m.1-.5h0m.3 1.2h0m.8 1.8h0m3.2-1.4h0m.1 3.5h0m5.3 5.1h0m-.5-1.7h0m-.3 0h0m-1.5-.7h0m-.7-.8h0m-.6 .1h0m-1.6-1.4h0m-35.4 5.4h0m-.3 0h0m-1.8-.8h0m-.7-1h0m-1.2 .4h0m-2.3-1.2h0m-.3-.8h0m7.4 4h0m2.1 .5h0m1.5 .4h0m.6 1.1h0m1.6 1.3h0m.8-.7h0m2.5 .5h0m.1 .5h0m.4-.9h0m2.2 1.3h0m.9 .9h0m1.8 .1h0m1.5 .8h0m24.3-5.8h0m1 2.6h0m.4 0h0m.2 3.1h0m.5-2.8h0m2.1 2.8h0m7.9 5.2h0m-.9-.6h0m-1.6-.8h0m-.5-.6h0m-3.1-1.3h0m-.1 .9h0m-1.7-.5h0m-9.1 3.8h0m-2.2-.2h0m-4.6-.7h0m-.9 .2h0m-1.8-1.7h0m-.9 2h0m-.2-1h0m-1.8-1.9h0m-2.2-1.1h0m-1.4-.5h0m-.1-.4h0m-2-.2h0m-2 1.5h0m13.1 4.5h0m.7 .5h0m3.2 0h0m2.7 0h0m2-.8h0m.4 4.4h0m.7-2.5h0m.1 2.9h0m1.8-3.9h0m.6 4.3h0m.1-1.1h0m.9 .1h0m.2-2h0m.5 3.2h0m1 0h0m1.1-.4h0m1-1.5h0m8.3-2.6h0m.3 .2h0m.1-.8h0m.9 .8h0m1.2 3.5h0m0-.8h0m3.9 2.9h0m-2.3 3.1h0m-.1 .4h0m-.1-2.1h0m-10.3 2.5h0m-2.3-4.1h0m-.7 3.7h0m-.8-1.3h0m-.6 0h0m-.2-.9h0m-.4 1.2h0m-.4 1.7h0m-.7 .2h0m-.2-2.4h0m-.2-1.7h0m-.9 3.8h0m-.7-3.7h0m-.5 .4h0m-.4 3.4h0m-.1-1.7h0m-1.9-1h0m-.6-1.7h0m-.9 2.3h0m-63.5 8.9h0m69.7-4.4h0m1.3-.5h0m1.6 .5h0m.3 .1h0m2.6 .5h0m.1 0h0m1.1 3.7h0m1.7-.7h0m2.8-.7h0m3.5 .2h0m.1-2.9h0m.8 4.1h0m0-1.4h0m.4-3.8h0m-1 7.6h0m-1.5 1h0m-.4 .6h0m-1.1-.7h0m-.5 1.3h0m-1.4-3.2h0m-.1 0h0m-.5-.2h0m-67.1 .9h0m-3.4 3h0m-.5-1.1h0m-1.3 1.9h0m-3.4-.4h0m-3-2.7h0m0 2.1h0m-.5-.7h0m-.3-2.3h0m-.2 4h0m-2.6-.9h0m-.5-4h0m-.4 .9h0m-.7 2.1h0m-1 3.2h0m0 1.3h0m0 1h0m1.2-2.7h0m0 2.5h0m.5-1.3h0m.8 1.9h0m.2 2.2h0m.3-3.6h0m0 2.3h0m.7 .8h0m.5-5h0m0 2.9h0m.5 1.3h0m.2 1.3h0m.8-.9h0m.6-3.3h0m.4 2.7h0m.2 1.1h0m.8-.9h0m1-.6h0m0 .8h0m.7-.6h0m.8-.5h0m.4-2.5h0m.5 3h0m0-1.9h0m.8 1.4h0m.2-.8h0m.8-.6h0m.2-1.5h0m3.3-.4h0" stroke="#FF61CC" stroke-width="2.8" stroke-linecap="round" fill="none"/>
<path d="M156.6 1084.3h0m.4-.1h0m.7-.3h0m1.2-2.9h0m.7 1.3h0m1.7 1.7h0m.5-3.2h0m.9 3.8h0m.5-2.5h0m.9 .7h0m2.3 2.7h0m16.3 5.1h0m-1.1 .3h0m-1.3-.9h0m0-1.4h0m-1.5 3h0m0-3.4h0m-1.8-.8h0m0-.2h0m-.1 4.6h0m-.8-3.7h0m-1.4 2.5h0m-.1-1.7h0m-.3-2h0m-1.2 4.8h0m-1.7-1.5h0m-.4 1h0m-.6 .1h0m-.3-1.3h0m-.4-.3h0m-2.3-2.2h0m-.7 3.5h0m-.2-3.4h0m0-.5h0m-.6 1.5h0m-2.6 3.3h0m-7.5-5.8h0m-1 2.5h0m-1.1-1.7h0m-.2 1.8h0m-1.9 2.4h0m-1.1-2.7h0m.4 9.3h0m.6-3.4h0m.4 1.8h0m.4-3.5h0m1.2 4.4h0m.7-.7h0m2.9 1.4h0m3.6-1.9h0m.5 1.6h0m2.3-4.7h0m.2 1.5h0m1.7-1.3h0m2.9-.3h0m1-.6h0m4.4 .4h0m2.3 .1h0m4 .4h0m-18.7 7h0m-1-1.8h0m-2.3-.1h0m-.1 .1h0" stroke="#F8766D" stroke-width="2.8" stroke-linecap="round" fill="none"/>
<path d="M176 1145.9h0m1.8-.2h0m5.8 5.3h0m-3.1-1h0m-.1-1.8h0m-.1 2.9h0m-.2-3.2h0m-.9-1.2h0m-1.8-.5h0m-2.2 .2h0m-1.8 1.9h0m-.7 2.5h0m0-.7h0m-.1 1.4h0m-.8 4.1h0m.7-2.1h0m.7 4.2h0m.7-1.4h0m2.1 1h0m.4-.3h0m1.3-2h0m1.1-.6h0m.8-1.4h0m.6 0h0m-5.8 7.5h0m-.6-.1h0m-.4 2.9h0m-.2-4.4h0m-.2 1.1h0m-.2 .6h0m-.8 1.5h0m-.1-.3h0m-1.8-1.9h0m-.2 3.6h0m-3 3.5h0m.3 2.4h0m.1-1.6h0m.4-.2h0m.7-.7h0m.4-1.1h0m1 1.2h0m.3-1.5h0m.2-.1h0m.7-.9h0m.4-.5h0m4.9 2.3h0m.9 9.3h0m-.2-2.1h0m-3.7 2h0m-5.1-1.2h0m-.3-3.5h0m-.9 1.4h0m-1.5 .5h0m-.3-.9h0m-.4-1.1h0m-.7 2.7h0m-.6-.4h0m-.5-.5h0m-.4 .4h0m-.6-1h0m-.2 3.2h0m-.7-1.2h0m-.2 1.6h0m-.4 0h0m-4.3 6.3h0m.6-5h0m.1 3h0m.2-.7h0m2.6-2.9h0m.3 0h0m2.7 2.1h0m.1 .4h0m1.5-.6h0m1.5-.1h0m1.5-.2h0m.2 .4h0m0-.8h0m1 2.9h0m2.2 .7h0m.4-.9h0m1.1 1.8h0m7.7-1.8h0m4.8 7.3h0m-2.7-.1h0m-.9-.4h0m-.7-1.3h0m-2-2.1h0m-.1 4.3h0m-1.3-4.2h0m-.4 .2h0m-.5 3.9h0m-.3-3h0m-.9-1.2h0m-1 4.3h0m-.2-5.5h0m-1.6 5.3h0m-3.8-1.3h0m-.3 1.5h0m-6.8-.6h0m-2.8 .7h0m-1.5-2.9h0m-.1 1.2h0m-.5-4.1h0m-.1 3.2h0m4.7 3.3h0m1-.6h0m1.9 1h0m.6 0h0m.7 .6h0m4.2-.4h0m.4-.9h0m5.3 .3h0m2.8 0h0m3.1-.3h0m.9 .4h0m1 2.1h0m.1 .3h0m.9 1.5h0m1.1-2.1h0m.8-1.7h0m1.2 1h0m.7 4h0m.3-1.4h0m0 1.2h0m.1-.9h0m1-.1h0m8 4.7h0m-.5 2.4h0m-.5-1.9h0m-1.1-.5h0m-1.6-.3h0m-.3-.3h0m-.8 1.4h0m-.6-2.8h0m0 1.9h0m-.9-2.1h0m0-.4h0m-1.7 .4h0m-.1 .9h0m-2.3-1.4h0m6.6 5.5h0m.2 .1h0m0 1.9h0m2.4-.5h0m1.4-1.1h0" stroke="#7CAE00" stroke-width="2.8" stroke-linecap="round" fill="none"/>
<path d="M191 1229.9h0m.9 .2h0m-.4 .6h0m-.3-.7h0m-.3 1.7h0m-.2-1.1h0m-.2 .4h0m-.3-.3h0m-.1-.4h0m0 .7h0m-.2-.7h0m-.3 1.3h0m0-.2h0m-.2 .5h0m-1.2-.2h0m-.5 .5h0m-.9 1.7h0m-.3-.5h0m-.3 .3h0m0-.1h0m-.2-1.1h0m-.5 1.6h0m-.4 .2h0m-.3 1.6h0m-1.1-.4h0m-.6-.6h0m-16.1-.4h0m-.1-1.5h0m-.2-1.1h0m-.3 3h0m0-.8h0m-.7 .9h0m-.1-.2h0m-.9 0h0m-.7 .8h0m0 1.1h0m0 1.6h0m.3-1.9h0m.3-.4h0m1.3 .8h0m4.5 4.3h0m2.1 .4h0m.1-1.2h0m.1-3.1h0m1.9 .9h0m1.3 .6h0m.9 .7h0m1.7-1.6h0m.1 1.9h0m1.2 2.3h0m-.1 2.3h0m0-.3h0m-1.2 3.4h0m-.6-.7h0m-6.3-3.6h0m-2.4 1.8h0m-.3 0h0m-1.4 1.2h0m-1.1 .3h0m-6.1 7h0m1.3-.2h0m2.5-3.1h0m.3 .5h0m.2-.7h0m.8-1.3h0m3.7 1.5h0m6 2h0m.3-.8h0m1.8-.7h0m.1-2h0m.2-.5h0m2 5.2h0m.4-2.7h0m1 2.8h0m0 2.9h0m-7.2-2.3h0m-1 1.4h0m-.9 .1h0m-.7 2.3h0m-.5 .3h0m-10.1-3.7h0m-1 .8h0m-.3 .4h0m-1.4 1.7h0m-1.2 1.7h0m-1.3 .2h0m-1.1 4.6h0m.1-1.3h0m0 1.3h0m.8-2.3h0m10.7 1.3h0m.4 1.8h0m.2 1.1h0m.7-1.7h0m.9-3.9h0m0 .3h0m.1 1.5h0m.5 3.7h0m3.3-2.1h0m.5-2.2h0m3.7 4h0m1-1.8h0m.9 .7h0m3.2 1.7h0m2-5.3h0m1 2.9h0m1.4 2.1h0m20.2-1.4h0m2.6-1.2h0m2.4-1.2h0m.3 .3h0m2.1-.8h0m1.5-.1h0m2-.9h0m.4 1.3h0m.9 .3h0m1.2 .2h0m.5 .3h0m.3 .6h0m.3 1.8h0m1.1 3h0m-.7 4h0m-.8-4.8h0m-.9 3.6h0m-.4-3.7h0m-.2 .5h0m-2.6 3.8h0m-2.2 .5h0m-7.2-5.1h0m-.4 1h0m-.2 .3h0m-.9 1.3h0m-.6 1.6h0m-3.2-4.1h0m-2.3 .4h0m-1.6 4.8h0m-1.6-.2h0m-1.3-.9h0m-.1-.4h0m0 .8h0m-2.5-.8h0m-.1-.9h0m-2-.3h0m-1.1 0h0m-2.9-1.2h0m-.3-.4h0m-.6 4.1h0m-2.1-3.4h0m-1.1-1.6h0m0 .7h0m-.3 4.2h0m-2.2 0h0m-.3-3.9h0m-1.2 .2h0m-1.6-.1h0m-1.1 3.6h0m-.1-3.9h0m-1.1 3.8h0m-.1-4.6h0m-1.2 .5h0m-.8 3.8h0m-.7 .1h0m-.7-4.5h0m-.5 4.7h0m-.9-4.3h0m-1.3 .6h0m-.3 3.1h0m-.3 .3h0m-1.6-1.4h0m-.2 1.8h0m-.5-3h0m-.3 .8h0m-.6-1.5h0m-1 3.8h0m-.3-1.1h0m-2.8 1.2h0m-3.8 .2h0m-2.9-5.8h0m-1.1 1.5h0m-.7 1.8h0m-1.5 1.1h0m0 .6h0m-1-2.8h0m1.4 4.4h0m1.6 .5h0m.1 0h0m1.6 .1h0m.9-.2h0m4.2-.8h0m2.1-.1h0m8.6 2.8h0m5.6-2.7h0m3.4 .2h0m2.2 1.5h0m.1-1.8h0m2.3 .4h0m3.5 1.1h0m1.5-.2h0m.9 .7h0m.8 .4h0m.1 1.6h0m.1-2.5h0m.3 .4h0m.3 2.2h0m.7 .5h0m.2-1.9h0m.3-1.7h0m.2 0h0m.3 1.7h0m0 2h0m.9-1.5h0m1.3-3.1h0m1.6 3.1h0m.2-2.9h0m.2-.3h0m.3 2.9h0m.1-2.3h0m1.2 2.3h0m.4-1.7h0m2.1 .5h0m1.4 .3h0m.5-2.1h0m1.4 1.3h0m1.5 3.2h0m5.9 1.3h0m.6-.2h0m2-2.4h0m.5-.6h0m0 1.4h0m.8-2.4h0m2.9 1.4h0m2.9-2.9h0m2.8 .7h0m1.4 1.4h0m1.4 1.8h0m-15.1 2.2h0m-1.8 1.8h0m-.2-.5h0m-.9 1.2h0m-1.4 3.2h0m-.5-1.6h0m-10 .6h0m-.3-2.1h0m-.1 .7h0m-1.1-2.3h0m-1.4-.7h0m0 1.2h0m-3 2.4h0m1.4 2.9h0m1.9 .7h0m1.9 4h0m.2-.5h0m1.3-2.9h0m1.4 .2h0m.6 2.7h0m.2-2h0m.7 .9h0m.7 .3h0m2.6-2.2h0m1-.6h0m.3-1h0m-7.4 7.5h0m-.6-1.4h0m-.3 4.7h0m-.2-2.7h0m-.2-1h0m-.3 2.4h0m0 1.6h0m-.3-1.2h0m-.8 6.9h0m.2-2.1h0m.1 1.7h0m.2-1.4h0m.2 .1h0m0-3.5h0m.2 3.8h0m.6-.4h0m.5-3.6h0m1.9 1.2h0m-3.4 5.2h0m-.6 .9h0m-.2 1.8h0m-.8-2.8h0m-.1 3.2h0m0 0h0" stroke="#00A9FF" stroke-width="2.8" stroke-linecap="round" fill="none"/>
<path d="M251.9 1300.6h0m4.1 .3h0m1.1 .5h0m1.3 .5h0m.1-.1h0m.2-.7h0m.6 1h0m-.7 1.6h0m-.9 .9h0m0 2.5h0m-1.5-1.2h0m-1.3-.9h0m-.3 2.6h0m-1.1 0h0m-.1 0h0m-1.1-2.5h0m-.7-1.3h0m-.1 0h0m-.4 2.4h0" stroke="#00BFC4" stroke-width="2.8" stroke-linecap="round" fill="none"/>
<path d="M140.6 975.8h0m7.2 6.1h0m-19.2 4.3h0m1.8 .3h0m.1 1.2h0m14.4 7.1h0m-4.5 12.1h0m123 26.4h0m-6.8 13.3h0m10.7 7.3h0m-12.9-.9h0m44.7 25.7h0m-.1-.1h0m-7.2-3.1h0m-.4 .4h0m-2 9.8h0m-12.5 18h0m-3-2h0m-4.3 .2h0m11.4 8.4h0m-28.2 10.9h0m.9 .7h0m47.1 .9h0m-32 7.4h0m19.8 7.5h0m-6.5-2.3h0m5.9 8.9h0m5.7 1.2h0" stroke="#fff" stroke-width="1.9" stroke-linecap="round" fill="none"/>
<path d="M142.1 972.2h0m6.9 10.2h0m-17.4 4.6h0m5 12.9h0m7.3 .6h0m-2.8 9.5h0m121.5 22.9h0m-3.5 22.5h0m-3.5-3.5h0m-.4-.6h0m5.8 10.8h0m27.9 21.9h0m4.5 1.9h0m-16.6 16h0m-25.5-1.4h0m9.5 10.6h0m-2.3 6.6h0m39.3 0h0m-45.6 5.2h0m-1.3-.5h0m-.7 .7h0m30.1 11.4h0m-23-.5h0m-3.1 .4h0m30 7.3h0m6.2 3.7h0" stroke="#fff" stroke-width="1.5" stroke-linecap="round" fill="none"/>
<path d="M137.7 972.1h0m-6.5 15.3h0m-3.3 6.2h0m4.1 5.1h0m5.6 3.4h0m-.3-.1h0m.9 7.4h0m128 27.8h0m-12.5 11.7h0m15.1 3h0m-1.2 1.3h0m-.5 .9h0m-12-.9h0m35.3 19.9h0m2 13.3h0m-17.5 16.7h0m-19.2-3.3h0m-1-1.8h0m-.6 .1h0m-1.3 5.4h0m11.8 4.5h0m4.5 1h0m8.9 .8h0m-26.5 12.1h0m50.9 1.9h0m-2.1-1.1h0m-.5-.4h0m-26.5 1.5h0m-19.9-1.5h0m-.6 1.5h0m47.2 12.4h0m-1.5-2.1h0m-6.9 2.8h0m-.7-1.1h0m-2 1.8h0m-18.1 1.6h0m23.2 6.5h0m1.4-2.7h0" stroke="#fff" stroke-width="2.2" stroke-linecap="round" fill="none"/>
<path d="M140.5 977.1h0m-9.9 11.5h0m-10.7 8.6h0m9.9-.2h0m.8-.1h0m1.4 .2h0m122.6 51.4h0m1.4 1h0m2.6 6.4h0m-1.9 2.1h0m5.6 3.7h0m27.7 13.4h0m-18.4 27.1h0m-17.6-3.7h0m-.6 17.3h0m31.6 3.7h0m2.5-.6h0m14.3 5.4h0m0 .9h0m-31.5 2.3h0m-.4-1.2h0m-5.4 6.6h0m2.5 3.7h0m17.9 4.6h0m1.6 3.7h0m4.4 2.2h0m-1.6-1h0" stroke="#fff" stroke-width="1.1" stroke-linecap="round" fill="none"/>
<path d="M84.6 1074.5h0m-1.7 4h0m-.8-2.8h0m-.1 2.3h0" stroke="#C77CFF" stroke-width="2.5" stroke-linecap="round" fill="none"/>
<path d="M112.6 1001.5h0m16.5-.7h0m-10.2 19.3h0" stroke="#00BE67" stroke-width="2.2" stroke-linecap="round" fill="none"/>
<path d="M153 976.2h0m22.8 277h0m-17.7 9.3h0m8.8 1.4h0m10.1 0h0m37.9 2.6h0m-10.1 12h0" stroke="#F8766D" stroke-width="2.2" stroke-linecap="round" fill="none"/>
<path d="M327.3 1097.4h0m-56.9 26.6h0m46.8 6.7h0m-40.4 14.6h0m6.3 1.4h0m7.5 18.6h0" stroke="#00A9FF" stroke-width="2.2" stroke-linecap="round" fill="none"/>
<path d="M278 1171.3h0m-87.1 56.6h0" stroke="#7CAE00" stroke-width="2.2" stroke-linecap="round" fill="none"/>
<path d="M168.2 1154.7h0" stroke="#CD9600" stroke-width="2.2" stroke-linecap="round" fill="none"/>
<path d="M179.6 1090.1h0m-6.4 4.6h0" stroke="#C77CFF" stroke-width="2.2" stroke-linecap="round" fill="none"/>
<line x1="46.5" y1="941.4" x2="46.5" y2="1327.3" stroke="#000" stroke-width="2.4" stroke-linecap="butt"/>
<line x1="45.3" y1="1326.1" x2="358.3" y2="1326.1" stroke="#000" stroke-width="2.4" stroke-linecap="butt"/>
<line x1="43.6" y1="977.5" x2="46.5" y2="977.5" stroke="#000" stroke-width="1.9" stroke-linecap="butt"/>
<text transform="translate(41.4,980.6) scale(1,1.05)" font-size="8.5" text-anchor="end" fill="#000">10</text>
<line x1="43.6" y1="1044.1" x2="46.5" y2="1044.1" stroke="#000" stroke-width="1.9" stroke-linecap="butt"/>
<text transform="translate(41.4,1047.2) scale(1,1.05)" font-size="8.5" text-anchor="end" fill="#000">5</text>
<line x1="43.6" y1="1110.7" x2="46.5" y2="1110.7" stroke="#000" stroke-width="1.9" stroke-linecap="butt"/>
<text transform="translate(41.4,1113.8) scale(1,1.05)" font-size="8.5" text-anchor="end" fill="#000">0</text>
<line x1="43.6" y1="1177.3" x2="46.5" y2="1177.3" stroke="#000" stroke-width="1.9" stroke-linecap="butt"/>
<text transform="translate(41.4,1180.4) scale(1,1.05)" font-size="8.5" text-anchor="end" fill="#000">−5</text>
<line x1="43.6" y1="1243.9" x2="46.5" y2="1243.9" stroke="#000" stroke-width="1.9" stroke-linecap="butt"/>
<text transform="translate(41.4,1247) scale(1,1.05)" font-size="8.5" text-anchor="end" fill="#000">−10</text>
<line x1="43.6" y1="1310.5" x2="46.5" y2="1310.5" stroke="#000" stroke-width="1.9" stroke-linecap="butt"/>
<text transform="translate(41.4,1313.6) scale(1,1.05)" font-size="8.5" text-anchor="end" fill="#000">−15</text>
<line x1="98.8" y1="1326.1" x2="98.8" y2="1329" stroke="#000" stroke-width="1.9" stroke-linecap="butt"/>
<text transform="translate(98.8,1338.2) scale(1,1.05)" font-size="8.5" text-anchor="middle" fill="#000">−10</text>
<line x1="161.9" y1="1326.1" x2="161.9" y2="1329" stroke="#000" stroke-width="1.9" stroke-linecap="butt"/>
<text transform="translate(161.9,1338.2) scale(1,1.05)" font-size="8.5" text-anchor="middle" fill="#000">−5</text>
<line x1="225" y1="1326.1" x2="225" y2="1329" stroke="#000" stroke-width="1.9" stroke-linecap="butt"/>
<text transform="translate(225,1338.2) scale(1,1.05)" font-size="8.5" text-anchor="middle" fill="#000">0</text>
<line x1="288.1" y1="1326.1" x2="288.1" y2="1329" stroke="#000" stroke-width="1.9" stroke-linecap="butt"/>
<text transform="translate(288.1,1338.2) scale(1,1.05)" font-size="8.5" text-anchor="middle" fill="#000">5</text>
<line x1="351.2" y1="1326.1" x2="351.2" y2="1329" stroke="#000" stroke-width="1.9" stroke-linecap="butt"/>
<text transform="translate(351.2,1338.2) scale(1,1.05)" font-size="8.5" text-anchor="middle" fill="#000">10</text>
<text transform="translate(201.7,1351.3) scale(1,1.05)" font-size="10.6" text-anchor="middle" fill="#000">UMAP_1</text>
<text transform="translate(21.2,1134) rotate(-90) scale(1,1.05)" font-size="10.6" text-anchor="middle">UMAP_2</text>
<text transform="translate(132.7,997) scale(1,1.05)" font-size="8.4" text-anchor="middle" fill="#000">myofibroblast</text>
<text transform="translate(167.9,1020.6) scale(1,1.05)" font-size="8.4" text-anchor="middle" fill="#000">fibroblast</text>
<text transform="translate(160.1,1093.4) scale(1,1.05)" font-size="8.4" text-anchor="middle" fill="#000">B</text>
<text transform="translate(280.3,1102.9) scale(1,1.05)" font-size="8.4" text-anchor="middle" fill="#000">T</text>
<text transform="translate(88.2,1141.8) scale(1,1.05)" font-size="8.4" text-anchor="middle" fill="#000">endothelial</text>
<text transform="translate(174.3,1185.5) scale(1,1.05)" font-size="8.4" text-anchor="middle" fill="#000">epithelial</text>
<text transform="translate(184.3,1270.8) scale(1,1.05)" font-size="8.4" text-anchor="middle" fill="#000">myeloidcell</text>
<text transform="translate(254.2,1306.7) scale(1,1.05)" font-size="8.4" text-anchor="middle" fill="#000">mastcell</text>
<circle cx="373.6" cy="1095.8" r="3.7" fill="#F8766D"/>
<text transform="translate(385.1,1099.1) scale(1,1.05)" font-size="9.2" text-anchor="start" fill="#000">B</text>
<circle cx="373.6" cy="1107.7" r="3.7" fill="#CD9600"/>
<text transform="translate(385.1,1111) scale(1,1.05)" font-size="9.2" text-anchor="start" fill="#000">endothelial</text>
<circle cx="373.6" cy="1119.6" r="3.7" fill="#7CAE00"/>
<text transform="translate(385.1,1122.9) scale(1,1.05)" font-size="9.2" text-anchor="start" fill="#000">epithelial</text>
<circle cx="373.6" cy="1131.5" r="3.7" fill="#00BE67"/>
<text transform="translate(385.1,1134.8) scale(1,1.05)" font-size="9.2" text-anchor="start" fill="#000">fibroblast</text>
<circle cx="373.6" cy="1143.4" r="3.7" fill="#00BFC4"/>
<text transform="translate(385.1,1146.7) scale(1,1.05)" font-size="9.2" text-anchor="start" fill="#000">mastcell</text>
<circle cx="373.6" cy="1155.3" r="3.7" fill="#00A9FF"/>
<text transform="translate(385.1,1158.6) scale(1,1.05)" font-size="9.2" text-anchor="start" fill="#000">myeloidcell</text>
<circle cx="373.6" cy="1167.2" r="3.7" fill="#C77CFF"/>
<text transform="translate(385.1,1170.5) scale(1,1.05)" font-size="9.2" text-anchor="start" fill="#000">myofibroblast</text>
<circle cx="373.6" cy="1179.1" r="3.7" fill="#FF61CC"/>
<text transform="translate(385.1,1182.4) scale(1,1.05)" font-size="9.2" text-anchor="start" fill="#000">T</text>
<text x="-0.1" y="908.2" font-size="30" text-anchor="start" fill="#000" font-weight="bold">C</text>
</g>
<g id="dotplot">
<text transform="translate(495.6,942) scale(1,1.05)" font-size="13.9" text-anchor="start" fill="#000">PTPRC</text>
<circle cx="572.5" cy="938.2" r="5.8" fill="#E9B841"/>
<circle cx="638" cy="938.2" r="3.55" fill="#E9D63F"/>
<circle cx="703.5" cy="938.2" r="4.1" fill="#E9D73E"/>
<circle cx="769" cy="938.2" r="3.45" fill="#E9D73E"/>
<circle cx="834.5" cy="938.2" r="5.7" fill="#E9C140"/>
<circle cx="900" cy="938.2" r="6.3" fill="#E99C44"/>
<circle cx="965.5" cy="938.2" r="3.9" fill="#E9D73E"/>
<circle cx="1031" cy="938.2" r="6.4" fill="#E86449"/>
<text transform="translate(494,964.3) scale(1,1.05)" font-size="13.9" text-anchor="start" fill="#000">EPCAM</text>
<circle cx="572.5" cy="960.5" r="2.6" fill="#E9CB40"/>
<circle cx="638" cy="960.5" r="2.7" fill="#E9CB40"/>
<circle cx="703.5" cy="960.5" r="5.7" fill="#E8534A"/>
<circle cx="769" cy="960.5" r="2.9" fill="#E9CB40"/>
<circle cx="834.5" cy="960.5" r="2.7" fill="#E9CB40"/>
<circle cx="900" cy="960.5" r="2.8" fill="#E9CB40"/>
<circle cx="965.5" cy="960.5" r="2.9" fill="#E9CB40"/>
<circle cx="1031" cy="960.5" r="2.6" fill="#E9CB40"/>
<text transform="translate(509.1,986.7) scale(1,1.05)" font-size="13.9" text-anchor="start" fill="#000">CD2</text>
<circle cx="572.5" cy="982.9" r="3.55" fill="#E9CB40"/>
<circle cx="638" cy="982.9" r="3.55" fill="#E9CB40"/>
<circle cx="703.5" cy="982.9" r="3.85" fill="#E9CB40"/>
<circle cx="769" cy="982.9" r="3.1" fill="#E9CB40"/>
<circle cx="834.5" cy="982.9" r="3.6" fill="#E9CB40"/>
<circle cx="900" cy="982.9" r="3.9" fill="#E9CB40"/>
<circle cx="965.5" cy="982.9" r="3.6" fill="#E9CB40"/>
<circle cx="1031" cy="982.9" r="6.1" fill="#E8534A"/>
<text transform="translate(502.1,1009) scale(1,1.05)" font-size="13.9" text-anchor="start" fill="#000">CD3D</text>
<circle cx="572.5" cy="1005.2" r="3.6" fill="#E9CB40"/>
<circle cx="638" cy="1005.2" r="3.6" fill="#E9CB40"/>
<circle cx="703.5" cy="1005.2" r="3.85" fill="#E9CB40"/>
<circle cx="769" cy="1005.2" r="3.2" fill="#E9CB40"/>
<circle cx="834.5" cy="1005.2" r="3.6" fill="#E9CB40"/>
<circle cx="900" cy="1005.2" r="3.9" fill="#E9CB40"/>
<circle cx="965.5" cy="1005.2" r="3.6" fill="#E9CB40"/>
<circle cx="1031" cy="1005.2" r="6.1" fill="#E8534A"/>
<text transform="translate(502.6,1031.4) scale(1,1.05)" font-size="13.9" text-anchor="start" fill="#000">CD3E</text>
<circle cx="572.5" cy="1027.6" r="3.6" fill="#E9CB40"/>
<circle cx="638" cy="1027.6" r="3.6" fill="#E9CB40"/>
<circle cx="703.5" cy="1027.6" r="3.85" fill="#E9CB40"/>
<circle cx="769" cy="1027.6" r="3.2" fill="#E9CB40"/>
<circle cx="834.5" cy="1027.6" r="3.5" fill="#E9CB40"/>
<circle cx="900" cy="1027.6" r="3.8" fill="#E9CB40"/>
<circle cx="965.5" cy="1027.6" r="3.6" fill="#E9CB40"/>
<circle cx="1031" cy="1027.6" r="6.1" fill="#E8534A"/>
<text transform="translate(501.6,1053.7) scale(1,1.05)" font-size="13.9" text-anchor="start" fill="#000">CD3G</text>
<circle cx="572.5" cy="1049.9" r="3.4" fill="#E9CB40"/>
<circle cx="638" cy="1049.9" r="3.4" fill="#E9CB40"/>
<circle cx="703.5" cy="1049.9" r="3.6" fill="#E9CB40"/>
<circle cx="769" cy="1049.9" r="3.0" fill="#E9CB40"/>
<circle cx="834.5" cy="1049.9" r="3.5" fill="#E9CB40"/>
<circle cx="900" cy="1049.9" r="3.6" fill="#E9CB40"/>
<circle cx="965.5" cy="1049.9" r="3.4" fill="#E9CB40"/>
<circle cx="1031" cy="1049.9" r="5.8" fill="#E8534A"/>
<text transform="translate(497.2,1076) scale(1,1.05)" font-size="13.9" text-anchor="start" fill="#000">CD79A</text>
<circle cx="572.5" cy="1072.2" r="6.1" fill="#E8534A"/>
<circle cx="638" cy="1072.2" r="2.6" fill="#E9CB40"/>
<circle cx="703.5" cy="1072.2" r="2.3" fill="#E9CB40"/>
<circle cx="769" cy="1072.2" r="2.4" fill="#E9CB40"/>
<circle cx="834.5" cy="1072.2" r="2.8" fill="#E9CB40"/>
<circle cx="900" cy="1072.2" r="2.8" fill="#E9CB40"/>
<circle cx="965.5" cy="1072.2" r="2.4" fill="#E9CB40"/>
<circle cx="1031" cy="1072.2" r="2.8" fill="#E9CB40"/>
<text transform="translate(503.2,1098.4) scale(1,1.05)" font-size="13.9" text-anchor="start" fill="#000">BLNK</text>
<circle cx="572.5" cy="1094.6" r="4.2" fill="#E8594A"/>
<circle cx="638" cy="1094.6" r="2.1" fill="#E9D53F"/>
<circle cx="703.5" cy="1094.6" r="3.7" fill="#E9A343"/>
<circle cx="769" cy="1094.6" r="2.4" fill="#E9CB40"/>
<circle cx="834.5" cy="1094.6" r="2.1" fill="#E9D53F"/>
<circle cx="900" cy="1094.6" r="3.7" fill="#E9A343"/>
<circle cx="965.5" cy="1094.6" r="2.3" fill="#E9D53F"/>
<circle cx="1031" cy="1094.6" r="2.3" fill="#E9D53F"/>
<text transform="translate(503.7,1120.7) scale(1,1.05)" font-size="13.9" text-anchor="start" fill="#000">CD68</text>
<circle cx="572.5" cy="1116.9" r="3.6" fill="#E9CB40"/>
<circle cx="638" cy="1116.9" r="3.0" fill="#E9CB40"/>
<circle cx="703.5" cy="1116.9" r="3.1" fill="#E9CB40"/>
<circle cx="769" cy="1116.9" r="3.6" fill="#E9CB40"/>
<circle cx="834.5" cy="1116.9" r="5.1" fill="#E9B142"/>
<circle cx="900" cy="1116.9" r="6.1" fill="#E8534A"/>
<circle cx="965.5" cy="1116.9" r="3.1" fill="#E9CB40"/>
<circle cx="1031" cy="1116.9" r="2.9" fill="#E9CB40"/>
<text transform="translate(496.7,1143.1) scale(1,1.05)" font-size="13.9" text-anchor="start" fill="#000">CSF1R</text>
<circle cx="572.5" cy="1139.3" r="2.9" fill="#E9CB40"/>
<circle cx="638" cy="1139.3" r="2.2" fill="#E9CB40"/>
<circle cx="703.5" cy="1139.3" r="2.4" fill="#E9CB40"/>
<circle cx="769" cy="1139.3" r="2.4" fill="#E9CB40"/>
<circle cx="834.5" cy="1139.3" r="2.7" fill="#E9CB40"/>
<circle cx="900" cy="1139.3" r="5.7" fill="#E8534A"/>
<circle cx="965.5" cy="1139.3" r="2.6" fill="#E9CB40"/>
<circle cx="1031" cy="1139.3" r="2.5" fill="#E9CB40"/>
<text transform="translate(492.4,1165.4) scale(1,1.05)" font-size="13.9" text-anchor="start" fill="#000">MARCO</text>
<circle cx="572.5" cy="1161.6" r="2.6" fill="#E9CB40"/>
<circle cx="638" cy="1161.6" r="2.0" fill="#E9CB40"/>
<circle cx="703.5" cy="1161.6" r="2.4" fill="#E9CB40"/>
<circle cx="769" cy="1161.6" r="2.0" fill="#E9CB40"/>
<circle cx="834.5" cy="1161.6" r="2.2" fill="#E9CB40"/>
<circle cx="900" cy="1161.6" r="4.1" fill="#E8534A"/>
<circle cx="965.5" cy="1161.6" r="2.3" fill="#E9CB40"/>
<circle cx="1031" cy="1161.6" r="2.2" fill="#E9CB40"/>
<text transform="translate(498.3,1187.7) scale(1,1.05)" font-size="13.9" text-anchor="start" fill="#000">CD207</text>
<circle cx="572.5" cy="1183.9" r="2.5" fill="#E9CB40"/>
<circle cx="638" cy="1183.9" r="2.2" fill="#E9CB40"/>
<circle cx="703.5" cy="1183.9" r="2.0" fill="#E9CB40"/>
<circle cx="769" cy="1183.9" r="2.0" fill="#E9CB40"/>
<circle cx="834.5" cy="1183.9" r="2.2" fill="#E9CB40"/>
<circle cx="900" cy="1183.9" r="3.6" fill="#E8534A"/>
<circle cx="965.5" cy="1183.9" r="2.2" fill="#E9CB40"/>
<circle cx="1031" cy="1183.9" r="2.3" fill="#E9CB40"/>
<text transform="translate(489.1,1210.1) scale(1,1.05)" font-size="13.9" text-anchor="start" fill="#000">FCGR2B</text>
<circle cx="572.5" cy="1206.3" r="4.8" fill="#E99F43"/>
<circle cx="638" cy="1206.3" r="2.2" fill="#E9CB40"/>
<circle cx="703.5" cy="1206.3" r="2.4" fill="#E9CB40"/>
<circle cx="769" cy="1206.3" r="1.9" fill="#E9CB40"/>
<circle cx="834.5" cy="1206.3" r="2.7" fill="#E9CB40"/>
<circle cx="900" cy="1206.3" r="4.9" fill="#E86149"/>
<circle cx="965.5" cy="1206.3" r="2.6" fill="#E9CB40"/>
<circle cx="1031" cy="1206.3" r="2.7" fill="#E9CB40"/>
<text transform="translate(502.1,1232.4) scale(1,1.05)" font-size="13.9" text-anchor="start" fill="#000">MYLK</text>
<circle cx="572.5" cy="1228.6" r="3.1" fill="#E9D33F"/>
<circle cx="638" cy="1228.6" r="4.2" fill="#E9C140"/>
<circle cx="703.5" cy="1228.6" r="3.0" fill="#E9D33F"/>
<circle cx="769" cy="1228.6" r="4.9" fill="#E9A643"/>
<circle cx="834.5" cy="1228.6" r="2.6" fill="#E9CB40"/>
<circle cx="900" cy="1228.6" r="2.8" fill="#E9D33F"/>
<circle cx="965.5" cy="1228.6" r="5.8" fill="#E8574A"/>
<circle cx="1031" cy="1228.6" r="2.5" fill="#E9CB40"/>
<text transform="translate(503.7,1254.8) scale(1,1.05)" font-size="13.9" text-anchor="start" fill="#000">THY1</text>
<circle cx="572.5" cy="1251" r="2.9" fill="#E9D63F"/>
<circle cx="638" cy="1251" r="4.6" fill="#E9A943"/>
<circle cx="703.5" cy="1251" r="2.6" fill="#E9D63F"/>
<circle cx="769" cy="1251" r="5.5" fill="#E87F46"/>
<circle cx="834.5" cy="1251" r="2.2" fill="#E9D63F"/>
<circle cx="900" cy="1251" r="2.6" fill="#E9D63F"/>
<circle cx="965.5" cy="1251" r="5.0" fill="#E88346"/>
<circle cx="1031" cy="1251" r="2.6" fill="#E9D63F"/>
<text transform="translate(503.7,1277.1) scale(1,1.05)" font-size="13.9" text-anchor="start" fill="#000">CD34</text>
<circle cx="572.5" cy="1273.3" r="3.1" fill="#E9CB40"/>
<circle cx="638" cy="1273.3" r="6.0" fill="#E8534A"/>
<circle cx="703.5" cy="1273.3" r="2.6" fill="#E9CB40"/>
<circle cx="769" cy="1273.3" r="3.4" fill="#E9CB40"/>
<circle cx="834.5" cy="1273.3" r="2.7" fill="#E9CB40"/>
<circle cx="900" cy="1273.3" r="2.6" fill="#E9CB40"/>
<circle cx="965.5" cy="1273.3" r="2.6" fill="#E9CB40"/>
<circle cx="1031" cy="1273.3" r="2.6" fill="#E9CB40"/>
<text transform="translate(502.1,1299.4) scale(1,1.05)" font-size="13.9" text-anchor="start" fill="#000">PMEL</text>
<circle cx="572.5" cy="1295.6" r="1.9" fill="#E9DA3E"/>
<circle cx="638" cy="1295.6" r="2.4" fill="#E99F43"/>
<circle cx="703.5" cy="1295.6" r="2.4" fill="#E9CB40"/>
<circle cx="769" cy="1295.6" r="2.4" fill="#E86848"/>
<circle cx="834.5" cy="1295.6" r="2.5" fill="#E9A643"/>
<circle cx="900" cy="1295.6" r="2.5" fill="#E9DA3E"/>
<circle cx="965.5" cy="1295.6" r="2.5" fill="#E99F43"/>
<circle cx="1031" cy="1295.6" r="2.4" fill="#E9DA3E"/>
<text transform="translate(572.5,1318.5) rotate(-45) scale(1,1.05)" x="-4.2" y="4.0" font-size="13.9">B</text>
<text transform="translate(638,1318.5) rotate(-45) scale(1,1.05)" x="-44.4" y="4.0" font-size="13.9">endothelial</text>
<text transform="translate(703.5,1318.5) rotate(-45) scale(1,1.05)" x="-36.2" y="4.0" font-size="13.9">epithelial</text>
<text transform="translate(769,1318.5) rotate(-45) scale(1,1.05)" x="-37.2" y="4.0" font-size="13.9">fibroblast</text>
<text transform="translate(834.5,1318.5) rotate(-45) scale(1,1.05)" x="-33.6" y="4.0" font-size="13.9">mastcell</text>
<text transform="translate(900,1318.5) rotate(-45) scale(1,1.05)" x="-45.4" y="4.0" font-size="13.9">myeloidcell</text>
<text transform="translate(965.5,1318.5) rotate(-45) scale(1,1.05)" x="-54.6" y="4.0" font-size="13.9">myofibroblast</text>
<text transform="translate(1031,1318.5) rotate(-45) scale(1,1.05)" x="-3.8" y="4.0" font-size="13.9">T</text>
<defs><linearGradient id="lg" x1="0" y1="1" x2="0" y2="0"><stop offset="0" stop-color="#E9DD3E"/><stop offset="1" stop-color="#E8534A"/></linearGradient></defs>
<text transform="translate(1082.2,1049.6) scale(1,1.05)" font-size="13.6" text-anchor="start" fill="#000">avg.exp.scaled</text>
<rect x="1082" y="1056.1" width="12.1" height="61.6" fill="url(#lg)"/>
<line x1="1082" y1="1064.9" x2="1084.4" y2="1064.9" stroke="#fff" stroke-width="0.7" stroke-linecap="butt"/>
<line x1="1091.7" y1="1064.9" x2="1094.1" y2="1064.9" stroke="#fff" stroke-width="0.7" stroke-linecap="butt"/>
<text transform="translate(1100.1,1068.5) scale(1,1.05)" font-size="13.4" text-anchor="start" fill="#000">2</text>
<line x1="1082" y1="1082.7" x2="1084.4" y2="1082.7" stroke="#fff" stroke-width="0.7" stroke-linecap="butt"/>
<line x1="1091.7" y1="1082.7" x2="1094.1" y2="1082.7" stroke="#fff" stroke-width="0.7" stroke-linecap="butt"/>
<text transform="translate(1100.1,1086.3) scale(1,1.05)" font-size="13.4" text-anchor="start" fill="#000">1</text>
<line x1="1082" y1="1100.6" x2="1084.4" y2="1100.6" stroke="#fff" stroke-width="0.7" stroke-linecap="butt"/>
<line x1="1091.7" y1="1100.6" x2="1094.1" y2="1100.6" stroke="#fff" stroke-width="0.7" stroke-linecap="butt"/>
<text transform="translate(1100.1,1104.2) scale(1,1.05)" font-size="13.4" text-anchor="start" fill="#000">0</text>
<text transform="translate(1082.2,1137.9) scale(1,1.05)" font-size="13.6" text-anchor="start" fill="#000">pct.exp</text>
<circle cx="1088" cy="1151.1" r="2.0" fill="#000"/>
<text transform="translate(1100.1,1154.7) scale(1,1.05)" font-size="13.4" text-anchor="start" fill="#000">0</text>
<circle cx="1088" cy="1163.3" r="4.1" fill="#000"/>
<text transform="translate(1100.1,1166.9) scale(1,1.05)" font-size="13.4" text-anchor="start" fill="#000">25</text>
<circle cx="1088" cy="1175.5" r="5.2" fill="#000"/>
<text transform="translate(1100.1,1179.1) scale(1,1.05)" font-size="13.4" text-anchor="start" fill="#000">50</text>
<circle cx="1088" cy="1187.8" r="5.9" fill="#000"/>
<text transform="translate(1100.1,1191.4) scale(1,1.05)" font-size="13.4" text-anchor="start" fill="#000">75</text>
</g>
<g id="panelD">
<rect x="120.7" y="1452.3" width="355.5" height="118.8" fill="#EE4C97"/>
<rect x="475.9" y="1452.3" width="52.5" height="118.8" fill="#FFDC91"/>
<rect x="528.1" y="1452.3" width="55" height="118.8" fill="#6F99AD"/>
<rect x="582.8" y="1452.3" width="11" height="118.8" fill="#7876B1"/>
<rect x="593.5" y="1452.3" width="2.9" height="118.8" fill="#20854E"/>
<rect x="596.1" y="1452.3" width="22.8" height="118.8" fill="#E18727"/>
<rect x="618.6" y="1452.3" width="156.6" height="118.8" fill="#0072B5"/>
<rect x="774.9" y="1452.3" width="4.5" height="118.8" fill="#BC3C29"/>
<line x1="85" y1="1511.9" x2="88.3" y2="1511.9" stroke="#222" stroke-width="2.2" stroke-linecap="butt"/>
<text transform="translate(82.5,1514.9) scale(1,1.05)" font-size="18.3" text-anchor="end" fill="#4D4D4D">patient4</text>
<rect x="120.7" y="1584.3" width="462.4" height="118.5" fill="#EE4C97"/>
<rect x="582.8" y="1584.3" width="40.3" height="118.5" fill="#FFDC91"/>
<rect x="622.8" y="1584.3" width="34.5" height="118.5" fill="#6F99AD"/>
<rect x="657" y="1584.3" width="1.1" height="118.5" fill="#7876B1"/>
<rect x="657.8" y="1584.3" width="27.4" height="118.5" fill="#20854E"/>
<rect x="684.9" y="1584.3" width="55.6" height="118.5" fill="#E18727"/>
<rect x="740.2" y="1584.3" width="27.1" height="118.5" fill="#0072B5"/>
<rect x="767" y="1584.3" width="12.4" height="118.5" fill="#BC3C29"/>
<line x1="85" y1="1643.8" x2="88.3" y2="1643.8" stroke="#222" stroke-width="2.2" stroke-linecap="butt"/>
<text transform="translate(82.5,1646.8) scale(1,1.05)" font-size="18.3" text-anchor="end" fill="#4D4D4D">patient3</text>
<rect x="120.7" y="1716.1" width="373.3" height="118.2" fill="#EE4C97"/>
<rect x="493.7" y="1716.1" width="109.1" height="118.2" fill="#FFDC91"/>
<rect x="602.5" y="1716.1" width="48.9" height="118.2" fill="#6F99AD"/>
<rect x="651.1" y="1716.1" width="6.2" height="118.2" fill="#7876B1"/>
<rect x="657" y="1716.1" width="8.2" height="118.2" fill="#20854E"/>
<rect x="664.9" y="1716.1" width="3.9" height="118.2" fill="#E18727"/>
<rect x="668.5" y="1716.1" width="66.6" height="118.2" fill="#0072B5"/>
<rect x="734.8" y="1716.1" width="44.6" height="118.2" fill="#BC3C29"/>
<line x1="85" y1="1775.4" x2="88.3" y2="1775.4" stroke="#222" stroke-width="2.2" stroke-linecap="butt"/>
<text transform="translate(82.5,1778.4) scale(1,1.05)" font-size="18.3" text-anchor="end" fill="#4D4D4D">patient2</text>
<rect x="120.7" y="1847.5" width="318.8" height="118.5" fill="#EE4C97"/>
<rect x="439.2" y="1847.5" width="63.8" height="118.5" fill="#FFDC91"/>
<rect x="502.7" y="1847.5" width="153.7" height="118.5" fill="#6F99AD"/>
<rect x="656.1" y="1847.5" width="4.8" height="118.5" fill="#7876B1"/>
<rect x="660.6" y="1847.5" width="36.7" height="118.5" fill="#20854E"/>
<rect x="697" y="1847.5" width="35.3" height="118.5" fill="#E18727"/>
<rect x="732" y="1847.5" width="47.4" height="118.5" fill="#0072B5"/>
<line x1="85" y1="1907" x2="88.3" y2="1907" stroke="#222" stroke-width="2.2" stroke-linecap="butt"/>
<text transform="translate(82.5,1910) scale(1,1.05)" font-size="18.3" text-anchor="end" fill="#4D4D4D">patient1</text>
<rect x="88.3" y="1433.1" width="723.3" height="552.2" fill="none" stroke="#333" stroke-width="1.1"/>
<line x1="120.7" y1="1985.3" x2="120.7" y2="1989.2" stroke="#222" stroke-width="2.0" stroke-linecap="butt"/>
<text transform="translate(129.6,2006.5) scale(1,1.05)" font-size="18.0" text-anchor="middle" fill="#4D4D4D">0.00</text>
<line x1="285.3" y1="1985.3" x2="285.3" y2="1989.2" stroke="#222" stroke-width="2.0" stroke-linecap="butt"/>
<text transform="translate(294.2,2006.5) scale(1,1.05)" font-size="18.0" text-anchor="middle" fill="#4D4D4D">0.25</text>
<line x1="449.9" y1="1985.3" x2="449.9" y2="1989.2" stroke="#222" stroke-width="2.0" stroke-linecap="butt"/>
<text transform="translate(458.8,2006.5) scale(1,1.05)" font-size="18.0" text-anchor="middle" fill="#4D4D4D">0.50</text>
<line x1="614.5" y1="1985.3" x2="614.5" y2="1989.2" stroke="#222" stroke-width="2.0" stroke-linecap="butt"/>
<text transform="translate(623.4,2006.5) scale(1,1.05)" font-size="18.0" text-anchor="middle" fill="#4D4D4D">0.75</text>
<line x1="779.1" y1="1985.3" x2="779.1" y2="1989.2" stroke="#222" stroke-width="2.0" stroke-linecap="butt"/>
<text transform="translate(788,2006.5) scale(1,1.05)" font-size="18.0" text-anchor="middle" fill="#4D4D4D">1.00</text>
<rect x="829.6" y="1646.9" width="16.7" height="16.2" fill="#BC3C29"/>
<text transform="translate(852.6,1658.2) scale(1,1.05)" font-size="18.2" text-anchor="start" fill="#000">B</text>
<rect x="829.6" y="1664.7" width="16.7" height="16.2" fill="#0072B5"/>
<text transform="translate(852.6,1676) scale(1,1.05)" font-size="18.2" text-anchor="start" fill="#000">endothelial</text>
<rect x="829.6" y="1682.5" width="16.7" height="16.2" fill="#E18727"/>
<text transform="translate(852.6,1693.8) scale(1,1.05)" font-size="18.2" text-anchor="start" fill="#000">epithelial</text>
<rect x="829.6" y="1700.3" width="16.7" height="16.2" fill="#20854E"/>
<text transform="translate(852.6,1711.6) scale(1,1.05)" font-size="18.2" text-anchor="start" fill="#000">fibroblast</text>
<rect x="829.6" y="1718.1" width="16.7" height="16.2" fill="#7876B1"/>
<text transform="translate(852.6,1729.4) scale(1,1.05)" font-size="18.2" text-anchor="start" fill="#000">mastcell</text>
<rect x="829.6" y="1735.9" width="16.7" height="16.2" fill="#6F99AD"/>
<text transform="translate(852.6,1747.2) scale(1,1.05)" font-size="18.2" text-anchor="start" fill="#000">myeloidcell</text>
<rect x="829.6" y="1753.7" width="16.7" height="16.2" fill="#FFDC91"/>
<text transform="translate(852.6,1765) scale(1,1.05)" font-size="18.2" text-anchor="start" fill="#000">myofibroblast</text>
<rect x="829.6" y="1771.5" width="16.7" height="16.2" fill="#EE4C97"/>
<text transform="translate(852.6,1782.8) scale(1,1.05)" font-size="18.2" text-anchor="start" fill="#000">T</text>
<text x="0.9" y="1444" font-size="30" text-anchor="start" fill="#000" font-weight="bold">D</text>
</g>
</svg></body></html>
